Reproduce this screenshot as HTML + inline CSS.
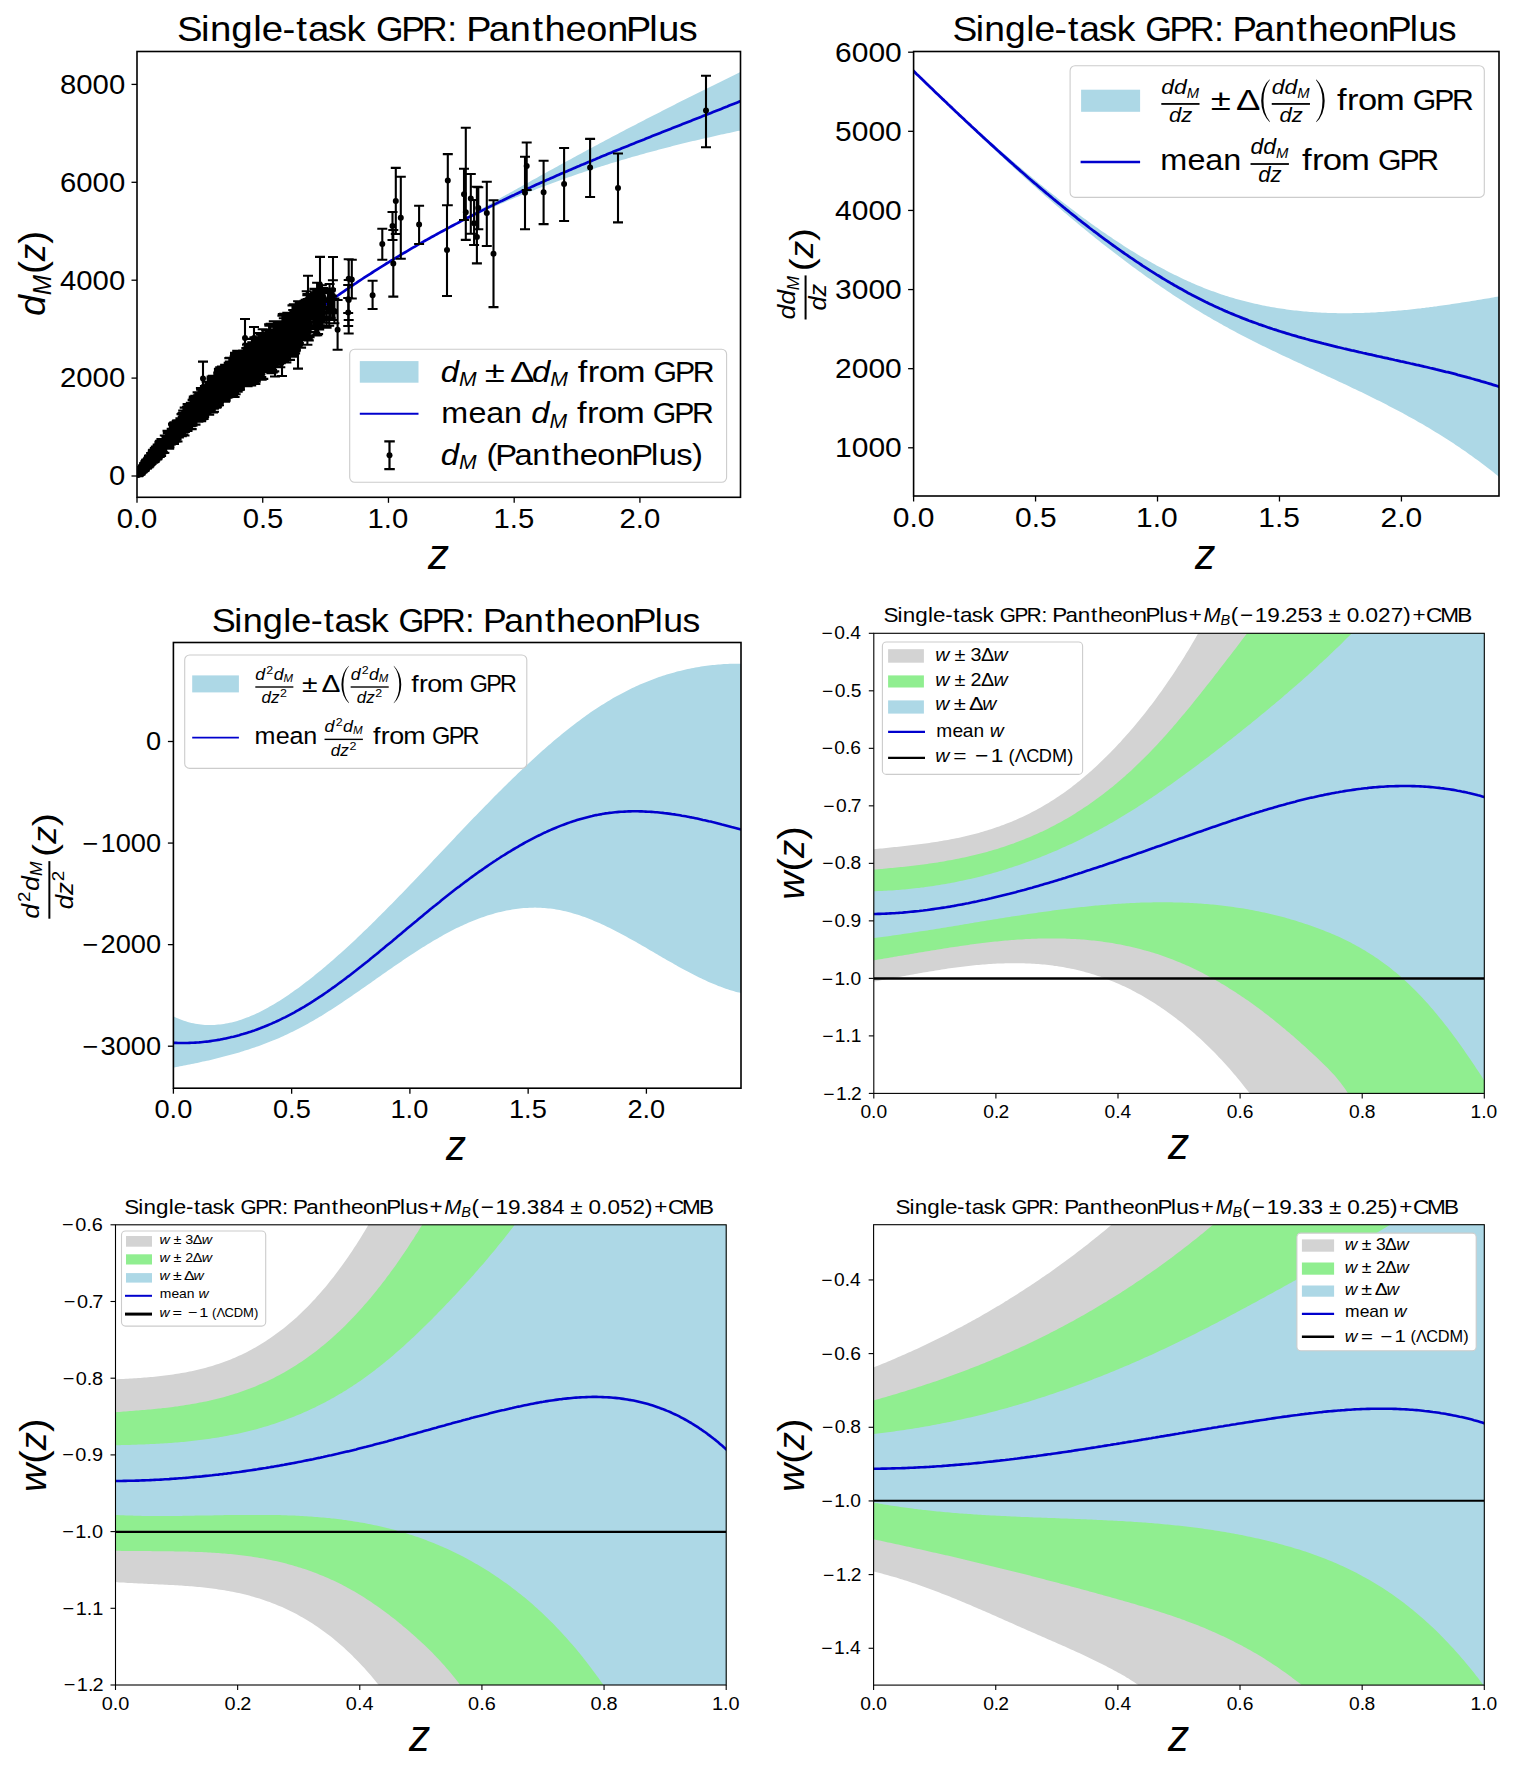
<!DOCTYPE html>
<html><head><meta charset="utf-8"><style>
html,body{margin:0;padding:0;background:#fff;}
svg{display:block;font-family:"Liberation Sans",sans-serif;}
</style></head><body>
<svg xmlns="http://www.w3.org/2000/svg" width="1518" height="1769" viewBox="0 0 1518 1769">
<defs><clipPath id="cp1"><rect x="137.00" y="51.50" width="603.50" height="445.80"/></clipPath><clipPath id="cp2"><rect x="913.60" y="51.50" width="585.40" height="444.50"/></clipPath><clipPath id="cp3"><rect x="173.40" y="642.50" width="567.60" height="445.70"/></clipPath><clipPath id="cp4"><rect x="873.80" y="633.30" width="610.50" height="460.10"/></clipPath><clipPath id="cp5"><rect x="115.50" y="1224.80" width="610.70" height="460.20"/></clipPath><clipPath id="cp6"><rect x="873.60" y="1224.70" width="610.70" height="460.40"/></clipPath></defs>
<rect width="100%" height="100%" fill="#fff"/>
<g clip-path="url(#cp1)">
<polygon points="137.0,476.2 139.0,473.9 141.1,471.6 143.1,469.3 145.1,467.0 147.1,464.7 149.2,462.4 151.2,460.1 153.2,457.9 155.3,455.7 157.3,453.4 159.3,451.2 161.3,449.0 163.4,446.9 165.4,444.7 167.4,442.5 169.5,440.4 171.5,438.2 173.5,436.1 175.5,434.0 177.6,431.9 179.6,429.8 181.6,427.7 183.7,425.7 185.7,423.6 187.7,421.6 189.7,419.5 191.8,417.5 193.8,415.5 195.8,413.5 197.9,411.5 199.9,409.6 201.9,407.6 203.9,405.6 206.0,403.7 208.0,401.8 210.0,399.8 212.1,397.9 214.1,396.0 216.1,394.1 218.1,392.3 220.2,390.4 222.2,388.5 224.2,386.7 226.3,384.8 228.3,383.0 230.3,381.2 232.3,379.3 234.4,377.5 236.4,375.7 238.4,373.9 240.4,372.1 242.5,370.3 244.5,368.5 246.5,366.7 248.6,365.0 250.6,363.2 252.6,361.5 254.6,359.7 256.7,358.0 258.7,356.3 260.7,354.6 262.8,352.9 264.8,351.2 266.8,349.5 268.8,347.8 270.9,346.1 272.9,344.5 274.9,342.8 277.0,341.2 279.0,339.5 281.0,337.9 283.0,336.3 285.1,334.7 287.1,333.1 289.1,331.5 291.2,329.9 293.2,328.3 295.2,326.7 297.2,325.2 299.3,323.6 301.3,322.1 303.3,320.5 305.4,319.0 307.4,317.5 309.4,315.9 311.4,314.4 313.5,312.9 315.5,311.4 317.5,310.0 319.6,308.5 321.6,307.0 323.6,305.5 325.6,304.1 327.7,302.6 329.7,301.2 331.7,299.7 333.8,298.3 335.8,296.9 337.8,295.5 339.8,294.1 341.9,292.7 343.9,291.3 345.9,289.9 348.0,288.5 350.0,287.1 352.0,285.8 354.0,284.4 356.1,283.1 358.1,281.7 360.1,280.4 362.2,279.0 364.2,277.7 366.2,276.4 368.2,275.1 370.3,273.8 372.3,272.5 374.3,271.2 376.4,269.9 378.4,268.6 380.4,267.3 382.4,266.1 384.5,264.8 386.5,263.5 388.5,262.3 390.6,261.0 392.6,259.8 394.6,258.6 396.6,257.3 398.7,256.1 400.7,254.9 402.7,253.7 404.8,252.5 406.8,251.3 408.8,250.1 410.8,248.9 412.9,247.7 414.9,246.6 416.9,245.4 419.0,244.2 421.0,243.1 423.0,241.9 425.0,240.8 427.1,239.6 429.1,238.5 431.1,237.3 433.2,236.2 435.2,235.1 437.2,234.0 439.2,232.9 441.3,231.8 443.3,230.7 445.3,229.6 447.3,228.4 449.4,227.2 451.4,226.0 453.4,224.9 455.5,223.7 457.5,222.5 459.5,221.3 461.5,220.2 463.6,219.0 465.6,217.9 467.6,216.7 469.7,215.5 471.7,214.4 473.7,213.2 475.7,212.1 477.8,210.9 479.8,209.7 481.8,208.6 483.9,207.4 485.9,206.3 487.9,205.1 489.9,204.0 492.0,202.8 494.0,201.7 496.0,200.6 498.1,199.4 500.1,198.3 502.1,197.1 504.1,196.0 506.2,194.8 508.2,193.7 510.2,192.6 512.3,191.4 514.3,190.3 516.3,189.2 518.3,188.0 520.4,186.9 522.4,185.8 524.4,184.6 526.5,183.5 528.5,182.4 530.5,181.2 532.5,180.1 534.6,179.0 536.6,177.9 538.6,176.7 540.7,175.6 542.7,174.5 544.7,173.4 546.7,172.2 548.8,171.1 550.8,170.0 552.8,168.9 554.9,167.8 556.9,166.7 558.9,165.5 560.9,164.4 563.0,163.3 565.0,162.2 567.0,161.1 569.1,160.0 571.1,158.9 573.1,157.8 575.1,156.7 577.2,155.6 579.2,154.5 581.2,153.4 583.3,152.3 585.3,151.2 587.3,150.1 589.3,149.0 591.4,147.9 593.4,146.8 595.4,145.7 597.5,144.7 599.5,143.6 601.5,142.5 603.5,141.4 605.6,140.3 607.6,139.3 609.6,138.2 611.7,137.1 613.7,136.0 615.7,135.0 617.7,133.9 619.8,132.8 621.8,131.8 623.8,130.7 625.9,129.6 627.9,128.6 629.9,127.5 631.9,126.5 634.0,125.4 636.0,124.4 638.0,123.3 640.1,122.3 642.1,121.2 644.1,120.2 646.1,119.1 648.2,118.1 650.2,117.1 652.2,116.0 654.2,115.0 656.3,113.9 658.3,112.9 660.3,111.9 662.4,110.8 664.4,109.8 666.4,108.8 668.4,107.7 670.5,106.7 672.5,105.7 674.5,104.7 676.6,103.6 678.6,102.6 680.6,101.6 682.6,100.6 684.7,99.6 686.7,98.5 688.7,97.5 690.8,96.5 692.8,95.5 694.8,94.5 696.8,93.5 698.9,92.5 700.9,91.5 702.9,90.4 705.0,89.4 707.0,88.4 709.0,87.4 711.0,86.4 713.1,85.4 715.1,84.4 717.1,83.4 719.2,82.4 721.2,81.4 723.2,80.4 725.2,79.4 727.3,78.4 729.3,77.4 731.3,76.4 733.4,75.4 735.4,74.4 737.4,73.4 739.4,72.5 741.5,71.5 743.5,70.5 743.5,129.9 741.5,130.3 739.4,130.7 737.4,131.1 735.4,131.6 733.4,132.0 731.3,132.4 729.3,132.9 727.3,133.3 725.2,133.7 723.2,134.2 721.2,134.6 719.2,135.1 717.1,135.5 715.1,136.0 713.1,136.4 711.0,136.9 709.0,137.4 707.0,137.8 705.0,138.3 702.9,138.8 700.9,139.2 698.9,139.7 696.8,140.2 694.8,140.7 692.8,141.1 690.8,141.6 688.7,142.1 686.7,142.6 684.7,143.1 682.6,143.6 680.6,144.1 678.6,144.6 676.6,145.1 674.5,145.6 672.5,146.1 670.5,146.7 668.4,147.2 666.4,147.7 664.4,148.2 662.4,148.8 660.3,149.3 658.3,149.8 656.3,150.4 654.2,150.9 652.2,151.5 650.2,152.0 648.2,152.6 646.1,153.1 644.1,153.7 642.1,154.2 640.1,154.8 638.0,155.4 636.0,155.9 634.0,156.5 631.9,157.1 629.9,157.7 627.9,158.3 625.9,158.9 623.8,159.5 621.8,160.1 619.8,160.7 617.7,161.3 615.7,161.9 613.7,162.5 611.7,163.1 609.6,163.8 607.6,164.4 605.6,165.0 603.5,165.7 601.5,166.3 599.5,166.9 597.5,167.6 595.4,168.2 593.4,168.9 591.4,169.6 589.3,170.2 587.3,170.9 585.3,171.6 583.3,172.2 581.2,172.9 579.2,173.6 577.2,174.3 575.1,175.0 573.1,175.7 571.1,176.4 569.1,177.1 567.0,177.8 565.0,178.6 563.0,179.3 560.9,180.0 558.9,180.7 556.9,181.5 554.9,182.2 552.8,183.0 550.8,183.7 548.8,184.5 546.7,185.2 544.7,186.0 542.7,186.8 540.7,187.5 538.6,188.3 536.6,189.1 534.6,189.9 532.5,190.7 530.5,191.5 528.5,192.3 526.5,193.1 524.4,193.9 522.4,194.7 520.4,195.6 518.3,196.4 516.3,197.2 514.3,198.1 512.3,198.9 510.2,199.8 508.2,200.6 506.2,201.5 504.1,202.4 502.1,203.2 500.1,204.1 498.1,205.0 496.0,205.9 494.0,206.8 492.0,207.7 489.9,208.6 487.9,209.5 485.9,210.4 483.9,211.4 481.8,212.3 479.8,213.2 477.8,214.2 475.7,215.1 473.7,216.1 471.7,217.0 469.7,218.0 467.6,219.0 465.6,219.9 463.6,220.9 461.5,221.9 459.5,222.9 457.5,223.9 455.5,224.9 453.4,225.9 451.4,227.0 449.4,228.0 447.3,229.0 445.3,230.0 443.3,231.1 441.3,232.1 439.2,233.2 437.2,234.3 435.2,235.3 433.2,236.4 431.1,237.5 429.1,238.6 427.1,239.7 425.0,240.8 423.0,241.9 421.0,243.1 419.0,244.2 416.9,245.4 414.9,246.6 412.9,247.7 410.8,248.9 408.8,250.1 406.8,251.3 404.8,252.5 402.7,253.7 400.7,254.9 398.7,256.1 396.6,257.3 394.6,258.6 392.6,259.8 390.6,261.0 388.5,262.3 386.5,263.5 384.5,264.8 382.4,266.1 380.4,267.3 378.4,268.6 376.4,269.9 374.3,271.2 372.3,272.5 370.3,273.8 368.2,275.1 366.2,276.4 364.2,277.7 362.2,279.0 360.1,280.4 358.1,281.7 356.1,283.1 354.0,284.4 352.0,285.8 350.0,287.1 348.0,288.5 345.9,289.9 343.9,291.3 341.9,292.7 339.8,294.1 337.8,295.5 335.8,296.9 333.8,298.3 331.7,299.7 329.7,301.2 327.7,302.6 325.6,304.1 323.6,305.5 321.6,307.0 319.6,308.5 317.5,310.0 315.5,311.4 313.5,312.9 311.4,314.4 309.4,315.9 307.4,317.5 305.4,319.0 303.3,320.5 301.3,322.1 299.3,323.6 297.2,325.2 295.2,326.7 293.2,328.3 291.2,329.9 289.1,331.5 287.1,333.1 285.1,334.7 283.0,336.3 281.0,337.9 279.0,339.5 277.0,341.2 274.9,342.8 272.9,344.5 270.9,346.1 268.8,347.8 266.8,349.5 264.8,351.2 262.8,352.9 260.7,354.6 258.7,356.3 256.7,358.0 254.6,359.7 252.6,361.5 250.6,363.2 248.6,365.0 246.5,366.7 244.5,368.5 242.5,370.3 240.4,372.1 238.4,373.9 236.4,375.7 234.4,377.5 232.3,379.3 230.3,381.2 228.3,383.0 226.3,384.9 224.2,386.7 222.2,388.6 220.2,390.5 218.1,392.4 216.1,394.3 214.1,396.2 212.1,398.1 210.0,400.0 208.0,402.0 206.0,403.9 203.9,405.9 201.9,407.9 199.9,409.8 197.9,411.8 195.8,413.8 193.8,415.8 191.8,417.9 189.7,419.9 187.7,421.9 185.7,424.0 183.7,426.0 181.6,428.1 179.6,430.2 177.6,432.3 175.5,434.4 173.5,436.5 171.5,438.6 169.5,440.7 167.4,442.9 165.4,445.0 163.4,447.2 161.3,449.3 159.3,451.5 157.3,453.7 155.3,455.9 153.2,458.1 151.2,460.4 149.2,462.6 147.1,464.8 145.1,467.1 143.1,469.4 141.1,471.6 139.0,473.9 137.0,476.2" fill="#add8e6"/>
<polyline points="137.0,476.2 139.0,473.9 141.1,471.6 143.1,469.4 145.1,467.1 147.1,464.8 149.2,462.6 151.2,460.4 153.2,458.1 155.3,455.9 157.3,453.7 159.3,451.5 161.3,449.3 163.4,447.2 165.4,445.0 167.4,442.9 169.5,440.7 171.5,438.6 173.5,436.5 175.5,434.4 177.6,432.3 179.6,430.2 181.6,428.1 183.7,426.0 185.7,424.0 187.7,421.9 189.7,419.9 191.8,417.9 193.8,415.8 195.8,413.8 197.9,411.8 199.9,409.8 201.9,407.9 203.9,405.9 206.0,403.9 208.0,402.0 210.0,400.0 212.1,398.1 214.1,396.2 216.1,394.3 218.1,392.4 220.2,390.5 222.2,388.6 224.2,386.7 226.3,384.9 228.3,383.0 230.3,381.2 232.3,379.3 234.4,377.5 236.4,375.7 238.4,373.9 240.4,372.1 242.5,370.3 244.5,368.5 246.5,366.7 248.6,365.0 250.6,363.2 252.6,361.5 254.6,359.7 256.7,358.0 258.7,356.3 260.7,354.6 262.8,352.9 264.8,351.2 266.8,349.5 268.8,347.8 270.9,346.1 272.9,344.5 274.9,342.8 277.0,341.2 279.0,339.5 281.0,337.9 283.0,336.3 285.1,334.7 287.1,333.1 289.1,331.5 291.2,329.9 293.2,328.3 295.2,326.7 297.2,325.2 299.3,323.6 301.3,322.1 303.3,320.5 305.4,319.0 307.4,317.5 309.4,315.9 311.4,314.4 313.5,312.9 315.5,311.4 317.5,310.0 319.6,308.5 321.6,307.0 323.6,305.5 325.6,304.1 327.7,302.6 329.7,301.2 331.7,299.7 333.8,298.3 335.8,296.9 337.8,295.5 339.8,294.1 341.9,292.7 343.9,291.3 345.9,289.9 348.0,288.5 350.0,287.1 352.0,285.8 354.0,284.4 356.1,283.1 358.1,281.7 360.1,280.4 362.2,279.0 364.2,277.7 366.2,276.4 368.2,275.1 370.3,273.8 372.3,272.5 374.3,271.2 376.4,269.9 378.4,268.6 380.4,267.3 382.4,266.1 384.5,264.8 386.5,263.5 388.5,262.3 390.6,261.0 392.6,259.8 394.6,258.6 396.6,257.3 398.7,256.1 400.7,254.9 402.7,253.7 404.8,252.5 406.8,251.3 408.8,250.1 410.8,248.9 412.9,247.7 414.9,246.6 416.9,245.4 419.0,244.2 421.0,243.1 423.0,241.9 425.0,240.8 427.1,239.6 429.1,238.5 431.1,237.3 433.2,236.2 435.2,235.1 437.2,234.0 439.2,232.9 441.3,231.8 443.3,230.7 445.3,229.6 447.3,228.5 449.4,227.4 451.4,226.3 453.4,225.2 455.5,224.1 457.5,223.1 459.5,222.0 461.5,220.9 463.6,219.9 465.6,218.8 467.6,217.8 469.7,216.8 471.7,215.7 473.7,214.7 475.7,213.7 477.8,212.6 479.8,211.6 481.8,210.6 483.9,209.6 485.9,208.6 487.9,207.6 489.9,206.6 492.0,205.6 494.0,204.6 496.0,203.6 498.1,202.6 500.1,201.6 502.1,200.7 504.1,199.7 506.2,198.7 508.2,197.7 510.2,196.8 512.3,195.8 514.3,194.9 516.3,193.9 518.3,193.0 520.4,192.0 522.4,191.1 524.4,190.2 526.5,189.2 528.5,188.3 530.5,187.4 532.5,186.4 534.6,185.5 536.6,184.6 538.6,183.7 540.7,182.8 542.7,181.9 544.7,181.0 546.7,180.1 548.8,179.2 550.8,178.3 552.8,177.4 554.9,176.5 556.9,175.6 558.9,174.7 560.9,173.8 563.0,172.9 565.0,172.1 567.0,171.2 569.1,170.3 571.1,169.4 573.1,168.6 575.1,167.7 577.2,166.8 579.2,166.0 581.2,165.1 583.3,164.3 585.3,163.4 587.3,162.6 589.3,161.7 591.4,160.9 593.4,160.0 595.4,159.2 597.5,158.3 599.5,157.5 601.5,156.6 603.5,155.8 605.6,155.0 607.6,154.1 609.6,153.3 611.7,152.5 613.7,151.6 615.7,150.8 617.7,150.0 619.8,149.2 621.8,148.3 623.8,147.5 625.9,146.7 627.9,145.9 629.9,145.1 631.9,144.2 634.0,143.4 636.0,142.6 638.0,141.8 640.1,141.0 642.1,140.2 644.1,139.4 646.1,138.5 648.2,137.7 650.2,136.9 652.2,136.1 654.2,135.3 656.3,134.5 658.3,133.7 660.3,132.9 662.4,132.1 664.4,131.3 666.4,130.5 668.4,129.7 670.5,128.9 672.5,128.1 674.5,127.3 676.6,126.5 678.6,125.7 680.6,124.9 682.6,124.1 684.7,123.3 686.7,122.5 688.7,121.7 690.8,120.9 692.8,120.1 694.8,119.3 696.8,118.5 698.9,117.7 700.9,116.9 702.9,116.1 705.0,115.3 707.0,114.5 709.0,113.7 711.0,112.9 713.1,112.1 715.1,111.3 717.1,110.5 719.2,109.7 721.2,108.9 723.2,108.1 725.2,107.3 727.3,106.5 729.3,105.6 731.3,104.8 733.4,104.0 735.4,103.2 737.4,102.4 739.4,101.6 741.5,100.8 743.5,100.0" fill="none" stroke="#0000cd" stroke-width="2.70" stroke-linejoin="round"/>
<path d="M140.9 469.6V473.3M135.9 469.6h10M135.9 473.3h10M149.9 457.4V461.3M144.9 457.4h10M144.9 461.3h10M152.4 454.6V460.8M147.4 454.6h10M147.4 460.8h10M138.5 473.1V475.1M133.5 473.1h10M133.5 475.1h10M141.4 467.7V469.8M136.4 467.7h10M136.4 469.8h10M160.4 443.7V450.0M155.4 443.7h10M155.4 450.0h10M139.5 470.9V473.7M134.5 470.9h10M134.5 473.7h10M140.9 469.5V471.5M135.9 469.5h10M135.9 471.5h10M160.9 444.4V450.5M155.9 444.4h10M155.9 450.5h10M152.9 452.0V457.3M147.9 452.0h10M147.9 457.3h10M146.8 462.2V466.5M141.8 462.2h10M141.8 466.5h10M150.2 457.1V462.9M145.2 457.1h10M145.2 462.9h10M153.9 453.1V460.6M148.9 453.1h10M148.9 460.6h10M144.5 466.1V470.0M139.5 466.1h10M139.5 470.0h10M141.1 470.7V472.9M136.1 470.7h10M136.1 472.9h10M157.0 452.8V458.2M152.0 452.8h10M152.0 458.2h10M154.1 452.1V458.9M149.1 452.1h10M149.1 458.9h10M150.3 456.7V462.8M145.3 456.7h10M145.3 462.8h10M157.7 448.6V453.4M152.7 448.6h10M152.7 453.4h10M151.1 453.0V456.5M146.1 453.0h10M146.1 456.5h10M161.7 447.9V453.1M156.7 447.9h10M156.7 453.1h10M142.7 465.7V469.6M137.7 465.7h10M137.7 469.6h10M151.3 455.9V462.9M146.3 455.9h10M146.3 462.9h10M149.6 456.0V462.1M144.6 456.0h10M144.6 462.1h10M146.4 462.0V465.1M141.4 462.0h10M141.4 465.1h10M152.2 453.4V460.8M147.2 453.4h10M147.2 460.8h10M143.5 465.0V468.9M138.5 465.0h10M138.5 468.9h10M157.3 452.3V458.4M152.3 452.3h10M152.3 458.4h10M158.9 449.4V456.9M153.9 449.4h10M153.9 456.9h10M140.9 469.7V473.0M135.9 469.7h10M135.9 473.0h10M149.1 456.5V465.5M144.1 456.5h10M144.1 465.5h10M144.5 463.3V468.1M139.5 463.3h10M139.5 468.1h10M139.8 470.8V473.9M134.8 470.8h10M134.8 473.9h10M159.6 445.5V454.9M154.6 445.5h10M154.6 454.9h10M148.2 459.3V464.9M143.2 459.3h10M143.2 464.9h10M141.4 469.5V472.4M136.4 469.5h10M136.4 472.4h10M154.2 452.5V458.1M149.2 452.5h10M149.2 458.1h10M142.7 468.9V472.1M137.7 468.9h10M137.7 472.1h10M159.7 441.6V450.4M154.7 441.6h10M154.7 450.4h10M143.1 466.1V469.6M138.1 466.1h10M138.1 469.6h10M138.6 472.4V474.2M133.6 472.4h10M133.6 474.2h10M142.7 465.7V470.0M137.7 465.7h10M137.7 470.0h10M146.2 462.9V467.0M141.2 462.9h10M141.2 467.0h10M149.2 459.5V465.9M144.2 459.5h10M144.2 465.9h10M159.9 442.8V448.9M154.9 442.8h10M154.9 448.9h10M154.8 455.0V461.6M149.8 455.0h10M149.8 461.6h10M146.0 464.5V468.5M141.0 464.5h10M141.0 468.5h10M138.2 473.8V476.1M133.2 473.8h10M133.2 476.1h10M141.7 468.4V471.1M136.7 468.4h10M136.7 471.1h10M162.1 441.1V450.3M157.1 441.1h10M157.1 450.3h10M149.0 460.3V463.9M144.0 460.3h10M144.0 463.9h10M154.6 452.5V457.5M149.6 452.5h10M149.6 457.5h10M139.1 470.8V473.7M134.1 470.8h10M134.1 473.7h10M138.6 472.3V474.7M133.6 472.3h10M133.6 474.7h10M158.4 446.6V453.5M153.4 446.6h10M153.4 453.5h10M152.1 453.7V461.2M147.1 453.7h10M147.1 461.2h10M145.3 463.6V466.1M140.3 463.6h10M140.3 466.1h10M145.5 463.5V468.5M140.5 463.5h10M140.5 468.5h10M139.9 471.8V474.2M134.9 471.8h10M134.9 474.2h10M142.0 468.2V472.4M137.0 468.2h10M137.0 472.4h10M138.4 473.2V474.6M133.4 473.2h10M133.4 474.6h10M158.2 445.9V452.9M153.2 445.9h10M153.2 452.9h10M149.1 456.9V461.8M144.1 456.9h10M144.1 461.8h10M140.9 471.1V473.3M135.9 471.1h10M135.9 473.3h10M155.8 451.7V458.1M150.8 451.7h10M150.8 458.1h10M142.5 467.7V470.0M137.5 467.7h10M137.5 470.0h10M139.3 472.5V474.9M134.3 472.5h10M134.3 474.9h10M152.4 457.6V462.6M147.4 457.6h10M147.4 462.6h10M159.6 441.7V455.8M154.6 441.7h10M154.6 455.8h10M138.4 473.9V475.7M133.4 473.9h10M133.4 475.7h10M157.4 448.3V456.4M152.4 448.3h10M152.4 456.4h10M142.4 468.6V471.2M137.4 468.6h10M137.4 471.2h10M140.0 470.3V473.1M135.0 470.3h10M135.0 473.1h10M138.2 474.0V475.5M133.2 474.0h10M133.2 475.5h10M144.9 465.1V468.1M139.9 465.1h10M139.9 468.1h10M155.5 453.3V457.6M150.5 453.3h10M150.5 457.6h10M149.8 455.2V461.4M144.8 455.2h10M144.8 461.4h10M158.6 447.5V456.5M153.6 447.5h10M153.6 456.5h10M143.1 466.4V470.3M138.1 466.4h10M138.1 470.3h10M145.4 462.2V467.1M140.4 462.2h10M140.4 467.1h10M144.1 467.5V471.0M139.1 467.5h10M139.1 471.0h10M161.6 445.0V453.1M156.6 445.0h10M156.6 453.1h10M160.7 443.6V449.2M155.7 443.6h10M155.7 449.2h10M146.1 463.4V467.2M141.1 463.4h10M141.1 467.2h10M148.4 459.9V465.1M143.4 459.9h10M143.4 465.1h10M145.4 462.9V465.8M140.4 462.9h10M140.4 465.8h10M156.0 447.8V455.2M151.0 447.8h10M151.0 455.2h10M138.7 473.3V475.1M133.7 473.3h10M133.7 475.1h10M139.4 471.4V474.4M134.4 471.4h10M134.4 474.4h10M147.6 459.3V463.7M142.6 459.3h10M142.6 463.7h10M143.7 466.2V468.4M138.7 466.2h10M138.7 468.4h10M158.4 446.3V454.2M153.4 446.3h10M153.4 454.2h10M155.8 446.9V453.4M150.8 446.9h10M150.8 453.4h10M151.1 456.8V461.2M146.1 456.8h10M146.1 461.2h10M153.9 451.9V459.9M148.9 451.9h10M148.9 459.9h10M154.6 453.1V457.0M149.6 453.1h10M149.6 457.0h10M156.8 448.9V455.8M151.8 448.9h10M151.8 455.8h10M160.4 441.5V451.4M155.4 441.5h10M155.4 451.4h10M141.4 468.8V472.1M136.4 468.8h10M136.4 472.1h10M153.0 455.3V459.8M148.0 455.3h10M148.0 459.8h10M141.3 468.6V472.1M136.3 468.6h10M136.3 472.1h10M148.6 458.4V463.9M143.6 458.4h10M143.6 463.9h10M156.9 446.5V455.4M151.9 446.5h10M151.9 455.4h10M159.6 446.1V455.4M154.6 446.1h10M154.6 455.4h10M156.3 450.5V456.2M151.3 450.5h10M151.3 456.2h10M138.6 472.9V474.6M133.6 472.9h10M133.6 474.6h10M146.5 460.8V463.5M141.5 460.8h10M141.5 463.5h10M141.7 467.6V470.0M136.7 467.6h10M136.7 470.0h10M162.1 445.3V451.4M157.1 445.3h10M157.1 451.4h10M141.3 469.3V473.0M136.3 469.3h10M136.3 473.0h10M143.7 465.0V467.8M138.7 465.0h10M138.7 467.8h10M146.5 463.0V468.1M141.5 463.0h10M141.5 468.1h10M139.2 470.7V473.9M134.2 470.7h10M134.2 473.9h10M159.0 446.7V454.8M154.0 446.7h10M154.0 454.8h10M153.3 453.8V457.5M148.3 453.8h10M148.3 457.5h10M141.7 469.2V472.3M136.7 469.2h10M136.7 472.3h10M149.9 455.9V460.5M144.9 455.9h10M144.9 460.5h10M139.7 470.5V472.2M134.7 470.5h10M134.7 472.2h10M152.7 454.8V461.1M147.7 454.8h10M147.7 461.1h10M143.4 466.9V470.6M138.4 466.9h10M138.4 470.6h10M138.7 472.8V475.0M133.7 472.8h10M133.7 475.0h10M140.6 471.3V473.3M135.6 471.3h10M135.6 473.3h10M151.3 459.6V463.8M146.3 459.6h10M146.3 463.8h10M153.3 453.3V459.1M148.3 453.3h10M148.3 459.1h10M145.7 463.9V468.5M140.7 463.9h10M140.7 468.5h10M153.4 453.4V459.2M148.4 453.4h10M148.4 459.2h10M146.3 460.7V464.5M141.3 460.7h10M141.3 464.5h10M140.9 470.7V473.4M135.9 470.7h10M135.9 473.4h10M145.4 463.9V467.1M140.4 463.9h10M140.4 467.1h10M147.4 464.1V467.6M142.4 464.1h10M142.4 467.6h10M160.0 444.6V451.4M155.0 444.6h10M155.0 451.4h10M140.6 471.7V474.4M135.6 471.7h10M135.6 474.4h10M139.9 471.7V474.4M134.9 471.7h10M134.9 474.4h10M151.5 456.9V462.8M146.5 456.9h10M146.5 462.8h10M161.3 440.8V450.7M156.3 440.8h10M156.3 450.7h10M159.9 444.9V450.5M154.9 444.9h10M154.9 450.5h10M154.8 453.7V458.1M149.8 453.7h10M149.8 458.1h10M139.4 471.1V473.9M134.4 471.1h10M134.4 473.9h10M157.4 446.7V453.4M152.4 446.7h10M152.4 453.4h10M154.4 452.0V458.7M149.4 452.0h10M149.4 458.7h10M141.3 469.5V471.6M136.3 469.5h10M136.3 471.6h10M149.1 459.0V463.4M144.1 459.0h10M144.1 463.4h10M139.0 471.9V474.2M134.0 471.9h10M134.0 474.2h10M157.3 450.1V457.7M152.3 450.1h10M152.3 457.7h10M155.3 450.9V456.7M150.3 450.9h10M150.3 456.7h10M157.4 447.8V453.5M152.4 447.8h10M152.4 453.5h10M156.3 453.0V459.4M151.3 453.0h10M151.3 459.4h10M144.3 465.0V468.0M139.3 465.0h10M139.3 468.0h10M157.0 446.9V453.5M152.0 446.9h10M152.0 453.5h10M143.8 467.9V470.8M138.8 467.9h10M138.8 470.8h10M141.1 468.4V470.9M136.1 468.4h10M136.1 470.9h10M147.3 463.5V466.4M142.3 463.5h10M142.3 466.4h10M149.9 460.3V464.2M144.9 460.3h10M144.9 464.2h10M144.7 464.2V468.5M139.7 464.2h10M139.7 468.5h10M152.5 453.5V461.1M147.5 453.5h10M147.5 461.1h10M152.5 456.0V460.4M147.5 456.0h10M147.5 460.4h10M143.6 468.5V471.2M138.6 468.5h10M138.6 471.2h10M152.9 453.9V460.9M147.9 453.9h10M147.9 460.9h10M146.5 459.6V464.0M141.5 459.6h10M141.5 464.0h10M155.7 449.0V455.4M150.7 449.0h10M150.7 455.4h10M144.8 463.0V467.1M139.8 463.0h10M139.8 467.1h10M157.2 446.6V454.9M152.2 446.6h10M152.2 454.9h10M147.9 459.7V464.1M142.9 459.7h10M142.9 464.1h10M151.2 457.2V461.5M146.2 457.2h10M146.2 461.5h10M154.2 451.0V454.9M149.2 451.0h10M149.2 454.9h10M150.4 456.7V463.2M145.4 456.7h10M145.4 463.2h10M144.0 464.7V468.4M139.0 464.7h10M139.0 468.4h10M161.6 444.9V451.7M156.6 444.9h10M156.6 451.7h10M140.1 469.7V472.2M135.1 469.7h10M135.1 472.2h10M145.7 463.7V466.7M140.7 463.7h10M140.7 466.7h10M151.1 455.9V460.3M146.1 455.9h10M146.1 460.3h10M138.5 472.3V474.7M133.5 472.3h10M133.5 474.7h10M141.5 468.0V471.7M136.5 468.0h10M136.5 471.7h10M157.2 451.4V459.4M152.2 451.4h10M152.2 459.4h10M156.9 448.9V454.9M151.9 448.9h10M151.9 454.9h10M153.3 449.9V454.4M148.3 449.9h10M148.3 454.4h10M159.8 445.6V453.8M154.8 445.6h10M154.8 453.8h10M156.2 447.5V453.3M151.2 447.5h10M151.2 453.3h10M145.0 465.6V468.8M140.0 465.6h10M140.0 468.8h10M153.5 452.1V457.3M148.5 452.1h10M148.5 457.3h10M146.0 461.3V466.5M141.0 461.3h10M141.0 466.5h10M156.0 450.5V454.9M151.0 450.5h10M151.0 454.9h10M147.1 460.1V463.2M142.1 460.1h10M142.1 463.2h10M141.5 467.0V470.1M136.5 467.0h10M136.5 470.1h10M159.1 447.8V453.7M154.1 447.8h10M154.1 453.7h10M154.6 451.9V456.5M149.6 451.9h10M149.6 456.5h10M155.9 450.9V457.6M150.9 450.9h10M150.9 457.6h10M151.4 454.7V460.1M146.4 454.7h10M146.4 460.1h10M156.9 447.8V454.1M151.9 447.8h10M151.9 454.1h10M148.7 458.6V464.8M143.7 458.6h10M143.7 464.8h10M151.6 460.4V463.9M146.6 460.4h10M146.6 463.9h10M139.3 471.2V474.1M134.3 471.2h10M134.3 474.1h10M151.3 456.4V462.4M146.3 456.4h10M146.3 462.4h10M157.6 448.9V453.3M152.6 448.9h10M152.6 453.3h10M155.0 452.7V457.6M150.0 452.7h10M150.0 457.6h10M157.3 448.8V454.9M152.3 448.8h10M152.3 454.9h10M149.9 459.9V464.2M144.9 459.9h10M144.9 464.2h10M159.3 443.7V448.6M154.3 443.7h10M154.3 448.6h10M140.4 470.1V472.9M135.4 470.1h10M135.4 472.9h10M159.1 447.7V455.2M154.1 447.7h10M154.1 455.2h10M146.8 461.0V466.4M141.8 461.0h10M141.8 466.4h10M140.0 470.8V473.4M135.0 470.8h10M135.0 473.4h10M152.9 450.4V455.0M147.9 450.4h10M147.9 455.0h10M148.8 458.4V462.9M143.8 458.4h10M143.8 462.9h10M148.2 458.5V464.7M143.2 458.5h10M143.2 464.7h10M158.5 447.4V455.6M153.5 447.4h10M153.5 455.6h10M141.1 470.7V472.9M136.1 470.7h10M136.1 472.9h10M152.8 450.8V458.2M147.8 450.8h10M147.8 458.2h10M147.8 459.3V462.3M142.8 459.3h10M142.8 462.3h10M150.6 456.4V461.4M145.6 456.4h10M145.6 461.4h10M149.9 457.8V464.1M144.9 457.8h10M144.9 464.1h10M141.0 471.2V473.4M136.0 471.2h10M136.0 473.4h10M150.2 457.5V463.7M145.2 457.5h10M145.2 463.7h10M158.8 449.5V454.4M153.8 449.5h10M153.8 454.4h10M141.9 469.3V471.8M136.9 469.3h10M136.9 471.8h10M138.0 473.9V475.3M133.0 473.9h10M133.0 475.3h10M139.4 471.2V474.2M134.4 471.2h10M134.4 474.2h10M149.0 459.7V465.6M144.0 459.7h10M144.0 465.6h10M161.5 444.0V450.2M156.5 444.0h10M156.5 450.2h10M138.8 472.3V474.9M133.8 472.3h10M133.8 474.9h10M161.9 442.3V450.2M156.9 442.3h10M156.9 450.2h10M150.8 456.3V460.9M145.8 456.3h10M145.8 460.9h10M140.7 469.6V471.5M135.7 469.6h10M135.7 471.5h10M148.0 459.1V462.1M143.0 459.1h10M143.0 462.1h10M142.8 467.6V471.9M137.8 467.6h10M137.8 471.9h10M155.2 450.0V458.3M150.2 450.0h10M150.2 458.3h10M151.0 456.6V462.9M146.0 456.6h10M146.0 462.9h10M144.8 462.8V466.2M139.8 462.8h10M139.8 466.2h10M144.0 464.3V468.1M139.0 464.3h10M139.0 468.1h10M158.9 444.9V454.0M153.9 444.9h10M153.9 454.0h10M156.4 449.6V456.8M151.4 449.6h10M151.4 456.8h10M148.4 459.0V462.9M143.4 459.0h10M143.4 462.9h10M147.6 461.0V464.6M142.6 461.0h10M142.6 464.6h10M155.7 452.2V457.8M150.7 452.2h10M150.7 457.8h10M161.4 444.5V450.9M156.4 444.5h10M156.4 450.9h10M139.7 472.4V474.9M134.7 472.4h10M134.7 474.9h10M141.6 467.5V472.4M136.6 467.5h10M136.6 472.4h10M146.6 461.4V466.9M141.6 461.4h10M141.6 466.9h10M150.1 459.4V464.4M145.1 459.4h10M145.1 464.4h10M139.5 471.3V473.8M134.5 471.3h10M134.5 473.8h10M139.1 472.3V475.0M134.1 472.3h10M134.1 475.0h10M143.1 466.4V470.1M138.1 466.4h10M138.1 470.1h10M147.2 461.7V465.6M142.2 461.7h10M142.2 465.6h10M155.8 451.0V455.2M150.8 451.0h10M150.8 455.2h10M152.6 452.3V459.5M147.6 452.3h10M147.6 459.5h10M138.5 472.9V474.9M133.5 472.9h10M133.5 474.9h10M138.9 471.9V474.9M133.9 471.9h10M133.9 474.9h10M148.8 459.3V463.6M143.8 459.3h10M143.8 463.6h10M159.1 445.6V451.9M154.1 445.6h10M154.1 451.9h10M160.1 440.7V455.9M155.1 440.7h10M155.1 455.9h10M146.7 464.4V467.8M141.7 464.4h10M141.7 467.8h10M159.4 447.3V455.8M154.4 447.3h10M154.4 455.8h10M160.4 444.6V451.6M155.4 444.6h10M155.4 451.6h10M147.7 460.7V465.6M142.7 460.7h10M142.7 465.6h10M156.0 451.1V456.8M151.0 451.1h10M151.0 456.8h10M146.7 461.4V466.1M141.7 461.4h10M141.7 466.1h10M141.5 469.1V472.8M136.5 469.1h10M136.5 472.8h10M151.8 455.5V459.1M146.8 455.5h10M146.8 459.1h10M139.9 470.3V473.7M134.9 470.3h10M134.9 473.7h10M153.9 456.1V462.3M148.9 456.1h10M148.9 462.3h10M157.5 446.8V455.4M152.5 446.8h10M152.5 455.4h10M160.1 441.1V446.2M155.1 441.1h10M155.1 446.2h10M148.7 461.8V467.1M143.7 461.8h10M143.7 467.1h10M140.6 470.1V472.1M135.6 470.1h10M135.6 472.1h10M159.8 445.6V452.8M154.8 445.6h10M154.8 452.8h10M159.0 450.2V455.1M154.0 450.2h10M154.0 455.1h10M161.4 441.7V450.7M156.4 441.7h10M156.4 450.7h10M152.2 455.5V461.7M147.2 455.5h10M147.2 461.7h10M154.2 451.7V457.0M149.2 451.7h10M149.2 457.0h10M146.9 464.6V467.8M141.9 464.6h10M141.9 467.8h10M142.2 468.5V470.6M137.2 468.5h10M137.2 470.6h10M144.9 465.8V470.5M139.9 465.8h10M139.9 470.5h10M155.3 452.2V459.6M150.3 452.2h10M150.3 459.6h10M145.7 465.0V468.8M140.7 465.0h10M140.7 468.8h10M154.6 451.8V457.2M149.6 451.8h10M149.6 457.2h10M150.0 458.0V463.5M145.0 458.0h10M145.0 463.5h10M148.7 459.0V465.1M143.7 459.0h10M143.7 465.1h10M161.4 442.4V452.5M156.4 442.4h10M156.4 452.5h10M141.8 469.9V472.3M136.8 469.9h10M136.8 472.3h10M149.6 457.5V462.1M144.6 457.5h10M144.6 462.1h10M141.7 468.0V471.7M136.7 468.0h10M136.7 471.7h10M160.6 443.2V450.3M155.6 443.2h10M155.6 450.3h10M149.7 459.7V463.1M144.7 459.7h10M144.7 463.1h10M145.9 462.9V466.8M140.9 462.9h10M140.9 466.8h10M141.9 469.2V472.1M136.9 469.2h10M136.9 472.1h10M152.2 454.9V461.3M147.2 454.9h10M147.2 461.3h10M147.5 462.1V465.8M142.5 462.1h10M142.5 465.8h10M140.9 469.8V472.7M135.9 469.8h10M135.9 472.7h10M138.5 471.8V474.5M133.5 471.8h10M133.5 474.5h10M147.3 461.0V466.7M142.3 461.0h10M142.3 466.7h10M152.0 457.7V462.2M147.0 457.7h10M147.0 462.2h10M150.4 456.0V462.8M145.4 456.0h10M145.4 462.8h10M159.7 446.4V452.2M154.7 446.4h10M154.7 452.2h10M160.0 449.0V456.6M155.0 449.0h10M155.0 456.6h10M160.6 442.3V447.1M155.6 442.3h10M155.6 447.1h10M157.3 448.4V455.0M152.3 448.4h10M152.3 455.0h10M149.4 457.3V461.0M144.4 457.3h10M144.4 461.0h10M150.5 460.6V465.0M145.5 460.6h10M145.5 465.0h10M147.4 460.8V464.1M142.4 460.8h10M142.4 464.1h10M147.5 460.3V465.7M142.5 460.3h10M142.5 465.7h10M138.8 473.5V475.6M133.8 473.5h10M133.8 475.6h10M157.2 451.3V457.4M152.2 451.3h10M152.2 457.4h10M143.8 467.6V470.8M138.8 467.6h10M138.8 470.8h10M138.5 472.6V475.0M133.5 472.6h10M133.5 475.0h10M149.1 457.2V462.5M144.1 457.2h10M144.1 462.5h10M155.3 455.6V460.1M150.3 455.6h10M150.3 460.1h10M148.4 462.6V467.3M143.4 462.6h10M143.4 467.3h10M146.6 462.7V466.7M141.6 462.7h10M141.6 466.7h10M153.8 452.9V459.1M148.8 452.9h10M148.8 459.1h10M141.7 468.3V471.0M136.7 468.3h10M136.7 471.0h10M138.0 473.2V474.7M133.0 473.2h10M133.0 474.7h10M152.2 455.6V462.6M147.2 455.6h10M147.2 462.6h10M150.7 457.4V460.7M145.7 457.4h10M145.7 460.7h10M158.9 445.1V453.3M153.9 445.1h10M153.9 453.3h10M147.9 458.6V464.4M142.9 458.6h10M142.9 464.4h10M156.9 448.3V455.0M151.9 448.3h10M151.9 455.0h10M138.2 473.0V474.8M133.2 473.0h10M133.2 474.8h10M138.4 472.7V475.5M133.4 472.7h10M133.4 475.5h10M152.4 455.6V460.0M147.4 455.6h10M147.4 460.0h10M143.3 467.2V471.2M138.3 467.2h10M138.3 471.2h10M139.4 471.0V474.0M134.4 471.0h10M134.4 474.0h10M140.9 469.4V471.7M135.9 469.4h10M135.9 471.7h10M146.9 463.0V467.1M141.9 463.0h10M141.9 467.1h10M146.0 460.3V465.2M141.0 460.3h10M141.0 465.2h10M151.5 457.3V461.7M146.5 457.3h10M146.5 461.7h10M159.4 442.0V451.7M154.4 442.0h10M154.4 451.7h10M146.7 463.5V466.9M141.7 463.5h10M141.7 466.9h10M142.2 467.4V469.4M137.2 467.4h10M137.2 469.4h10M151.9 454.5V461.5M146.9 454.5h10M146.9 461.5h10M137.8 473.9V475.3M132.8 473.9h10M132.8 475.3h10M147.1 461.2V466.1M142.1 461.2h10M142.1 466.1h10M145.5 461.1V463.8M140.5 461.1h10M140.5 463.8h10M147.2 461.3V465.9M142.2 461.3h10M142.2 465.9h10M139.0 471.8V473.5M134.0 471.8h10M134.0 473.5h10M151.3 455.4V460.8M146.3 455.4h10M146.3 460.8h10M153.0 451.2V462.6M148.0 451.2h10M148.0 462.6h10M156.0 448.4V453.0M151.0 448.4h10M151.0 453.0h10M161.1 448.3V455.9M156.1 448.3h10M156.1 455.9h10M146.4 463.2V466.0M141.4 463.2h10M141.4 466.0h10M153.8 454.8V459.7M148.8 454.8h10M148.8 459.7h10M148.5 458.2V462.8M143.5 458.2h10M143.5 462.8h10M143.0 465.8V469.5M138.0 465.8h10M138.0 469.5h10M159.4 442.9V448.2M154.4 442.9h10M154.4 448.2h10M155.9 448.7V456.2M150.9 448.7h10M150.9 456.2h10M160.8 446.2V451.8M155.8 446.2h10M155.8 451.8h10M157.8 449.1V458.1M152.8 449.1h10M152.8 458.1h10M160.1 449.2V455.7M155.1 449.2h10M155.1 455.7h10M140.9 469.7V471.9M135.9 469.7h10M135.9 471.9h10M138.1 474.0V475.5M133.1 474.0h10M133.1 475.5h10M142.6 467.4V470.2M137.6 467.4h10M137.6 470.2h10M147.8 460.7V465.6M142.8 460.7h10M142.8 465.6h10M154.5 451.4V459.3M149.5 451.4h10M149.5 459.3h10M148.4 459.5V465.3M143.4 459.5h10M143.4 465.3h10M150.3 456.2V463.0M145.3 456.2h10M145.3 463.0h10M156.3 446.6V451.1M151.3 446.6h10M151.3 451.1h10M139.5 472.0V474.2M134.5 472.0h10M134.5 474.2h10M154.3 450.4V457.2M149.3 450.4h10M149.3 457.2h10M138.9 473.4V475.1M133.9 473.4h10M133.9 475.1h10M143.8 465.6V470.1M138.8 465.6h10M138.8 470.1h10M155.4 453.5V460.4M150.4 453.5h10M150.4 460.4h10M154.4 454.2V458.7M149.4 454.2h10M149.4 458.7h10M147.6 461.6V466.2M142.6 461.6h10M142.6 466.2h10M144.9 466.8V469.4M139.9 466.8h10M139.9 469.4h10M158.0 444.6V453.7M153.0 444.6h10M153.0 453.7h10M144.5 465.7V469.6M139.5 465.7h10M139.5 469.6h10M138.5 472.7V475.2M133.5 472.7h10M133.5 475.2h10M143.8 465.7V469.3M138.8 465.7h10M138.8 469.3h10M138.3 472.3V474.9M133.3 472.3h10M133.3 474.9h10M157.5 445.8V452.8M152.5 445.8h10M152.5 452.8h10M140.7 470.3V472.7M135.7 470.3h10M135.7 472.7h10M161.5 439.0V444.0M156.5 439.0h10M156.5 444.0h10M142.9 467.8V470.1M137.9 467.8h10M137.9 470.1h10M145.2 465.0V468.0M140.2 465.0h10M140.2 468.0h10M152.0 455.1V460.5M147.0 455.1h10M147.0 460.5h10M145.3 462.3V466.3M140.3 462.3h10M140.3 466.3h10M147.0 463.4V467.9M142.0 463.4h10M142.0 467.9h10M140.3 471.1V473.2M135.3 471.1h10M135.3 473.2h10M147.2 462.3V467.9M142.2 462.3h10M142.2 467.9h10M138.4 472.9V474.2M133.4 472.9h10M133.4 474.2h10M143.2 467.4V471.0M138.2 467.4h10M138.2 471.0h10M159.9 443.8V451.0M154.9 443.8h10M154.9 451.0h10M144.6 465.4V468.7M139.6 465.4h10M139.6 468.7h10M144.4 466.4V469.4M139.4 466.4h10M139.4 469.4h10M154.3 450.7V461.8M149.3 450.7h10M149.3 461.8h10M159.3 444.8V449.9M154.3 444.8h10M154.3 449.9h10M145.0 464.8V468.6M140.0 464.8h10M140.0 468.6h10M146.9 464.1V467.4M141.9 464.1h10M141.9 467.4h10M155.2 449.7V457.6M150.2 449.7h10M150.2 457.6h10M157.1 450.6V457.3M152.1 450.6h10M152.1 457.3h10M152.7 457.2V462.0M147.7 457.2h10M147.7 462.0h10M142.1 467.7V471.8M137.1 467.7h10M137.1 471.8h10M142.2 467.8V470.6M137.2 467.8h10M137.2 470.6h10M156.2 448.5V455.4M151.2 448.5h10M151.2 455.4h10M155.0 453.2V458.9M150.0 453.2h10M150.0 458.9h10M159.6 447.2V452.7M154.6 447.2h10M154.6 452.7h10M156.8 449.2V456.7M151.8 449.2h10M151.8 456.7h10M148.0 458.3V467.0M143.0 458.3h10M143.0 467.0h10M141.0 468.7V471.1M136.0 468.7h10M136.0 471.1h10M159.5 447.1V455.7M154.5 447.1h10M154.5 455.7h10M154.7 454.4V459.2M149.7 454.4h10M149.7 459.2h10M151.8 453.7V460.9M146.8 453.7h10M146.8 460.9h10M154.4 450.9V455.6M149.4 450.9h10M149.4 455.6h10M147.1 461.4V466.8M142.1 461.4h10M142.1 466.8h10M146.1 462.5V467.1M141.1 462.5h10M141.1 467.1h10M151.8 454.8V460.3M146.8 454.8h10M146.8 460.3h10M149.5 461.1V466.3M144.5 461.1h10M144.5 466.3h10M155.0 452.8V457.4M150.0 452.8h10M150.0 457.4h10M160.6 444.1V453.5M155.6 444.1h10M155.6 453.5h10M158.4 445.2V449.8M153.4 445.2h10M153.4 449.8h10M147.2 462.1V465.4M142.2 462.1h10M142.2 465.4h10M146.8 463.7V466.5M141.8 463.7h10M141.8 466.5h10M160.4 442.4V451.0M155.4 442.4h10M155.4 451.0h10M147.4 461.7V465.6M142.4 461.7h10M142.4 465.6h10M157.3 448.2V454.9M152.3 448.2h10M152.3 454.9h10M140.0 470.7V473.5M135.0 470.7h10M135.0 473.5h10M148.8 459.0V462.5M143.8 459.0h10M143.8 462.5h10M150.3 456.9V460.5M145.3 456.9h10M145.3 460.5h10M157.5 446.5V458.8M152.5 446.5h10M152.5 458.8h10M159.2 446.5V454.8M154.2 446.5h10M154.2 454.8h10M141.5 467.8V470.4M136.5 467.8h10M136.5 470.4h10M152.8 455.2V461.6M147.8 455.2h10M147.8 461.6h10M153.1 455.7V461.8M148.1 455.7h10M148.1 461.8h10M141.5 469.3V471.7M136.5 469.3h10M136.5 471.7h10M158.1 448.6V453.9M153.1 448.6h10M153.1 453.9h10M151.3 455.3V462.5M146.3 455.3h10M146.3 462.5h10M161.2 441.1V448.2M156.2 441.1h10M156.2 448.2h10M142.3 467.7V471.2M137.3 467.7h10M137.3 471.2h10M150.6 459.1V462.7M145.6 459.1h10M145.6 462.7h10M145.6 463.0V467.8M140.6 463.0h10M140.6 467.8h10M153.4 457.1V461.1M148.4 457.1h10M148.4 461.1h10M152.6 454.0V461.2M147.6 454.0h10M147.6 461.2h10M150.3 457.8V463.8M145.3 457.8h10M145.3 463.8h10M145.7 462.7V468.2M140.7 462.7h10M140.7 468.2h10M150.0 459.0V463.5M145.0 459.0h10M145.0 463.5h10M146.8 464.0V468.6M141.8 464.0h10M141.8 468.6h10M159.5 446.6V454.4M154.5 446.6h10M154.5 454.4h10M149.0 455.9V460.3M144.0 455.9h10M144.0 460.3h10M149.3 459.1V463.2M144.3 459.1h10M144.3 463.2h10M144.1 466.6V469.9M139.1 466.6h10M139.1 469.9h10M143.9 466.8V469.5M138.9 466.8h10M138.9 469.5h10M161.0 442.4V448.3M156.0 442.4h10M156.0 448.3h10M145.4 463.7V466.4M140.4 463.7h10M140.4 466.4h10M158.9 446.6V452.9M153.9 446.6h10M153.9 452.9h10M152.3 454.1V459.9M147.3 454.1h10M147.3 459.9h10M161.7 446.5V452.0M156.7 446.5h10M156.7 452.0h10M141.8 468.0V470.7M136.8 468.0h10M136.8 470.7h10M160.7 440.8V454.3M155.7 440.8h10M155.7 454.3h10M156.6 449.8V457.9M151.6 449.8h10M151.6 457.9h10M151.6 456.9V461.3M146.6 456.9h10M146.6 461.3h10M155.0 450.6V458.5M150.0 450.6h10M150.0 458.5h10M155.4 448.5V454.6M150.4 448.5h10M150.4 454.6h10M148.7 457.2V461.3M143.7 457.2h10M143.7 461.3h10M153.2 452.2V459.6M148.2 452.2h10M148.2 459.6h10M143.3 465.6V470.2M138.3 465.6h10M138.3 470.2h10M138.3 473.5V474.9M133.3 473.5h10M133.3 474.9h10M154.3 455.3V459.4M149.3 455.3h10M149.3 459.4h10M149.3 458.6V462.9M144.3 458.6h10M144.3 462.9h10M159.8 443.3V449.8M154.8 443.3h10M154.8 449.8h10M144.2 463.0V467.1M139.2 463.0h10M139.2 467.1h10M157.7 444.6V450.1M152.7 444.6h10M152.7 450.1h10M161.8 442.7V451.5M156.8 442.7h10M156.8 451.5h10M159.7 445.3V451.3M154.7 445.3h10M154.7 451.3h10M161.3 441.8V447.9M156.3 441.8h10M156.3 447.9h10M141.6 468.5V472.4M136.6 468.5h10M136.6 472.4h10M141.8 469.6V472.3M136.8 469.6h10M136.8 472.3h10M143.3 466.8V471.1M138.3 466.8h10M138.3 471.1h10M146.6 460.9V465.4M141.6 460.9h10M141.6 465.4h10M140.6 469.0V472.5M135.6 469.0h10M135.6 472.5h10M141.4 467.9V472.5M136.4 467.9h10M136.4 472.5h10M138.2 471.8V474.2M133.2 471.8h10M133.2 474.2h10M160.5 445.6V451.8M155.5 445.6h10M155.5 451.8h10M146.6 463.4V466.7M141.6 463.4h10M141.6 466.7h10M153.0 454.7V459.9M148.0 454.7h10M148.0 459.9h10M148.8 457.7V463.6M143.8 457.7h10M143.8 463.6h10M155.9 447.9V453.1M150.9 447.9h10M150.9 453.1h10M157.4 451.1V456.3M152.4 451.1h10M152.4 456.3h10M147.1 463.5V467.1M142.1 463.5h10M142.1 467.1h10M150.8 456.5V463.3M145.8 456.5h10M145.8 463.3h10M140.1 469.1V471.8M135.1 469.1h10M135.1 471.8h10M144.7 463.5V467.0M139.7 463.5h10M139.7 467.0h10M264.5 340.6V368.8M259.5 340.6h10M259.5 368.8h10M162.7 440.9V448.2M157.7 440.9h10M157.7 448.2h10M293.8 332.9V349.0M288.8 332.9h10M288.8 349.0h10M240.8 358.7V384.3M235.8 358.7h10M235.8 384.3h10M182.2 413.7V429.5M177.2 413.7h10M177.2 429.5h10M216.7 378.2V393.8M211.7 378.2h10M211.7 393.8h10M187.2 411.0V423.7M182.2 411.0h10M182.2 423.7h10M193.4 402.9V414.9M188.4 402.9h10M188.4 414.9h10M264.8 335.4V357.3M259.8 335.4h10M259.8 357.3h10M198.8 397.4V413.4M193.8 397.4h10M193.8 413.4h10M255.9 346.4V369.0M250.9 346.4h10M250.9 369.0h10M213.0 385.6V408.0M208.0 385.6h10M208.0 408.0h10M312.9 296.2V318.8M307.9 296.2h10M307.9 318.8h10M277.9 341.9V359.8M272.9 341.9h10M272.9 359.8h10M225.5 370.3V390.8M220.5 370.3h10M220.5 390.8h10M190.8 402.8V419.4M185.8 402.8h10M185.8 419.4h10M272.6 346.3V365.1M267.6 346.3h10M267.6 365.1h10M232.6 361.7V379.9M227.6 361.7h10M227.6 379.9h10M217.5 377.6V398.5M212.5 377.6h10M212.5 398.5h10M270.0 332.2V356.6M265.0 332.2h10M265.0 356.6h10M237.4 355.6V381.6M232.4 355.6h10M232.4 381.6h10M243.1 350.5V375.8M238.1 350.5h10M238.1 375.8h10M294.5 305.3V324.8M289.5 305.3h10M289.5 324.8h10M252.3 342.2V380.1M247.3 342.2h10M247.3 380.1h10M175.8 424.5V438.4M170.8 424.5h10M170.8 438.4h10M215.6 379.9V401.5M210.6 379.9h10M210.6 401.5h10M169.8 433.0V443.3M164.8 433.0h10M164.8 443.3h10M307.2 306.9V327.5M302.2 306.9h10M302.2 327.5h10M243.1 357.2V370.6M238.1 357.2h10M238.1 370.6h10M232.6 378.1V390.9M227.6 378.1h10M227.6 390.9h10M282.4 324.2V354.1M277.4 324.2h10M277.4 354.1h10M240.0 356.6V380.0M235.0 356.6h10M235.0 380.0h10M271.7 339.9V366.4M266.7 339.9h10M266.7 366.4h10M222.5 370.4V393.4M217.5 370.4h10M217.5 393.4h10M183.8 423.5V432.2M178.8 423.5h10M178.8 432.2h10M308.1 300.6V327.1M303.1 300.6h10M303.1 327.1h10M199.5 403.6V420.4M194.5 403.6h10M194.5 420.4h10M211.9 388.2V401.8M206.9 388.2h10M206.9 401.8h10M267.5 342.2V367.9M262.5 342.2h10M262.5 367.9h10M190.6 409.0V421.2M185.6 409.0h10M185.6 421.2h10M200.5 397.0V412.1M195.5 397.0h10M195.5 412.1h10M220.1 383.1V395.1M215.1 383.1h10M215.1 395.1h10M233.5 366.4V388.4M228.5 366.4h10M228.5 388.4h10M235.0 363.5V384.7M230.0 363.5h10M230.0 384.7h10M287.8 319.4V346.0M282.8 319.4h10M282.8 346.0h10M188.7 406.0V423.1M183.7 406.0h10M183.7 423.1h10M269.0 341.9V361.6M264.0 341.9h10M264.0 361.6h10M331.9 295.9V313.1M326.9 295.9h10M326.9 313.1h10M211.8 380.3V393.5M206.8 380.3h10M206.8 393.5h10M295.2 319.4V345.8M290.2 319.4h10M290.2 345.8h10M238.4 373.3V390.2M233.4 373.3h10M233.4 390.2h10M277.5 332.1V349.2M272.5 332.1h10M272.5 349.2h10M255.4 351.4V369.4M250.4 351.4h10M250.4 369.4h10M212.4 389.0V403.4M207.4 389.0h10M207.4 403.4h10M167.8 433.0V442.5M162.8 433.0h10M162.8 442.5h10M227.5 365.9V382.3M222.5 365.9h10M222.5 382.3h10M278.0 331.5V358.1M273.0 331.5h10M273.0 358.1h10M210.0 386.3V405.6M205.0 386.3h10M205.0 405.6h10M227.9 372.3V385.2M222.9 372.3h10M222.9 385.2h10M316.3 301.8V325.7M311.3 301.8h10M311.3 325.7h10M195.5 410.6V424.6M190.5 410.6h10M190.5 424.6h10M229.3 358.1V374.2M224.3 358.1h10M224.3 374.2h10M172.3 429.0V437.5M167.3 429.0h10M167.3 437.5h10M284.9 337.1V358.4M279.9 337.1h10M279.9 358.4h10M223.8 376.8V393.0M218.8 376.8h10M218.8 393.0h10M304.5 300.7V320.9M299.5 300.7h10M299.5 320.9h10M254.8 348.8V373.5M249.8 348.8h10M249.8 373.5h10M265.7 335.0V364.4M260.7 335.0h10M260.7 364.4h10M287.5 335.2V355.1M282.5 335.2h10M282.5 355.1h10M222.0 384.6V397.4M217.0 384.6h10M217.0 397.4h10M283.8 321.5V347.5M278.8 321.5h10M278.8 347.5h10M216.5 381.0V398.1M211.5 381.0h10M211.5 398.1h10M218.9 370.9V390.7M213.9 370.9h10M213.9 390.7h10M298.5 307.1V333.0M293.5 307.1h10M293.5 333.0h10M266.0 340.9V359.9M261.0 340.9h10M261.0 359.9h10M276.6 336.0V363.0M271.6 336.0h10M271.6 363.0h10M184.1 416.5V424.4M179.1 416.5h10M179.1 424.4h10M294.1 323.7V350.0M289.1 323.7h10M289.1 350.0h10M245.5 362.9V385.8M240.5 362.9h10M240.5 385.8h10M169.0 438.3V446.8M164.0 438.3h10M164.0 446.8h10M170.6 435.7V444.7M165.6 435.7h10M165.6 444.7h10M166.2 435.9V443.1M161.2 435.9h10M161.2 443.1h10M181.1 422.7V434.4M176.1 422.7h10M176.1 434.4h10M177.8 420.9V433.1M172.8 420.9h10M172.8 433.1h10M247.3 358.2V379.7M242.3 358.2h10M242.3 379.7h10M294.4 310.1V331.3M289.4 310.1h10M289.4 331.3h10M204.9 386.0V402.0M199.9 386.0h10M199.9 402.0h10M205.7 393.6V407.1M200.7 393.6h10M200.7 407.1h10M190.9 403.7V421.0M185.9 403.7h10M185.9 421.0h10M298.0 321.5V345.3M293.0 321.5h10M293.0 345.3h10M272.0 342.6V359.8M267.0 342.6h10M267.0 359.8h10M285.1 324.7V348.0M280.1 324.7h10M280.1 348.0h10M252.7 349.4V376.8M247.7 349.4h10M247.7 376.8h10M275.8 334.8V363.7M270.8 334.8h10M270.8 363.7h10M209.5 393.1V411.6M204.5 393.1h10M204.5 411.6h10M245.3 355.1V374.4M240.3 355.1h10M240.3 374.4h10M319.2 307.5V329.5M314.2 307.5h10M314.2 329.5h10M174.3 424.5V434.7M169.3 424.5h10M169.3 434.7h10M206.3 391.2V411.9M201.3 391.2h10M201.3 411.9h10M247.7 347.5V372.4M242.7 347.5h10M242.7 372.4h10M253.6 349.9V366.2M248.6 349.9h10M248.6 366.2h10M192.9 406.2V418.3M187.9 406.2h10M187.9 418.3h10M227.4 377.3V392.2M222.4 377.3h10M222.4 392.2h10M303.4 302.9V320.8M298.4 302.9h10M298.4 320.8h10M232.3 369.0V384.0M227.3 369.0h10M227.3 384.0h10M217.9 382.8V394.4M212.9 382.8h10M212.9 394.4h10M327.9 288.7V311.7M322.9 288.7h10M322.9 311.7h10M180.6 420.8V434.3M175.6 420.8h10M175.6 434.3h10M278.6 328.1V358.7M273.6 328.1h10M273.6 358.7h10M307.9 304.0V328.2M302.9 304.0h10M302.9 328.2h10M189.3 412.8V421.7M184.3 412.8h10M184.3 421.7h10M212.4 391.8V405.5M207.4 391.8h10M207.4 405.5h10M254.1 350.1V373.8M249.1 350.1h10M249.1 373.8h10M317.1 282.8V301.1M312.1 282.8h10M312.1 301.1h10M294.3 310.1V341.9M289.3 310.1h10M289.3 341.9h10M226.2 370.0V386.3M221.2 370.0h10M221.2 386.3h10M242.0 352.4V378.2M237.0 352.4h10M237.0 378.2h10M293.0 316.9V336.1M288.0 316.9h10M288.0 336.1h10M202.3 402.8V416.0M197.3 402.8h10M197.3 416.0h10M242.9 356.0V377.9M237.9 356.0h10M237.9 377.9h10M251.7 357.8V378.5M246.7 357.8h10M246.7 378.5h10M213.9 391.1V408.8M208.9 391.1h10M208.9 408.8h10M215.0 376.1V390.0M210.0 376.1h10M210.0 390.0h10M299.0 313.5V334.4M294.0 313.5h10M294.0 334.4h10M287.7 316.8V344.1M282.7 316.8h10M282.7 344.1h10M282.0 331.1V346.8M277.0 331.1h10M277.0 346.8h10M201.9 402.0V413.5M196.9 402.0h10M196.9 413.5h10M248.4 360.1V373.4M243.4 360.1h10M243.4 373.4h10M301.2 301.3V331.9M296.2 301.3h10M296.2 331.9h10M189.5 412.0V425.8M184.5 412.0h10M184.5 425.8h10M235.7 369.6V394.2M230.7 369.6h10M230.7 394.2h10M264.3 353.7V368.2M259.3 353.7h10M259.3 368.2h10M186.8 412.0V428.6M181.8 412.0h10M181.8 428.6h10M254.5 345.5V371.0M249.5 345.5h10M249.5 371.0h10M243.8 358.6V384.1M238.8 358.6h10M238.8 384.1h10M153.2 452.7V458.4M148.2 452.7h10M148.2 458.4h10M283.8 318.2V349.6M278.8 318.2h10M278.8 349.6h10M242.2 359.0V380.6M237.2 359.0h10M237.2 380.6h10M323.6 288.7V306.5M318.6 288.7h10M318.6 306.5h10M249.5 356.3V379.3M244.5 356.3h10M244.5 379.3h10M167.8 431.3V441.5M162.8 431.3h10M162.8 441.5h10M266.7 341.6V369.6M261.7 341.6h10M261.7 369.6h10M304.4 301.2V335.1M299.4 301.2h10M299.4 335.1h10M239.1 360.9V380.5M234.1 360.9h10M234.1 380.5h10M249.9 349.7V372.2M244.9 349.7h10M244.9 372.2h10M320.1 295.6V325.9M315.1 295.6h10M315.1 325.9h10M233.6 366.9V390.8M228.6 366.9h10M228.6 390.8h10M260.7 346.4V367.3M255.7 346.4h10M255.7 367.3h10M296.6 304.7V327.1M291.6 304.7h10M291.6 327.1h10M226.9 375.4V389.3M221.9 375.4h10M221.9 389.3h10M283.9 313.7V333.3M278.9 313.7h10M278.9 333.3h10M215.7 384.5V399.3M210.7 384.5h10M210.7 399.3h10M192.8 406.9V415.6M187.8 406.9h10M187.8 415.6h10M284.0 341.6V361.5M279.0 341.6h10M279.0 361.5h10M294.4 312.3V336.8M289.4 312.3h10M289.4 336.8h10M246.6 358.6V384.9M241.6 358.6h10M241.6 384.9h10M280.4 322.2V353.4M275.4 322.2h10M275.4 353.4h10M239.4 370.5V385.8M234.4 370.5h10M234.4 385.8h10M298.2 311.3V341.2M293.2 311.3h10M293.2 341.2h10M258.0 348.3V371.1M253.0 348.3h10M253.0 371.1h10M290.4 315.7V339.3M285.4 315.7h10M285.4 339.3h10M216.9 383.5V406.9M211.9 383.5h10M211.9 406.9h10M182.1 423.7V435.0M177.1 423.7h10M177.1 435.0h10M259.1 333.0V360.5M254.1 333.0h10M254.1 360.5h10M258.7 345.7V373.6M253.7 345.7h10M253.7 373.6h10M219.9 374.3V394.1M214.9 374.3h10M214.9 394.1h10M241.7 361.8V379.3M236.7 361.8h10M236.7 379.3h10M206.2 398.1V411.4M201.2 398.1h10M201.2 411.4h10M225.9 369.9V386.1M220.9 369.9h10M220.9 386.1h10M265.2 339.1V354.3M260.2 339.1h10M260.2 354.3h10M246.3 348.1V375.3M241.3 348.1h10M241.3 375.3h10M236.2 370.8V390.1M231.2 370.8h10M231.2 390.1h10M254.7 363.0V381.8M249.7 363.0h10M249.7 381.8h10M236.6 360.2V384.4M231.6 360.2h10M231.6 384.4h10M203.4 399.0V412.2M198.4 399.0h10M198.4 412.2h10M195.9 404.3V421.5M190.9 404.3h10M190.9 421.5h10M301.2 311.0V335.7M296.2 311.0h10M296.2 335.7h10M225.5 375.8V396.4M220.5 375.8h10M220.5 396.4h10M316.0 294.6V319.2M311.0 294.6h10M311.0 319.2h10M212.1 386.3V400.4M207.1 386.3h10M207.1 400.4h10M234.6 365.8V380.2M229.6 365.8h10M229.6 380.2h10M216.5 387.6V405.3M211.5 387.6h10M211.5 405.3h10M253.6 349.8V374.5M248.6 349.8h10M248.6 374.5h10M177.5 427.1V441.5M172.5 427.1h10M172.5 441.5h10M221.6 376.0V392.8M216.6 376.0h10M216.6 392.8h10M219.5 378.5V399.4M214.5 378.5h10M214.5 399.4h10M235.9 353.5V383.8M230.9 353.5h10M230.9 383.8h10M254.6 353.3V370.8M249.6 353.3h10M249.6 370.8h10M208.6 387.8V408.5M203.6 387.8h10M203.6 408.5h10M184.9 416.2V431.9M179.9 416.2h10M179.9 431.9h10M150.6 456.4V463.0M145.6 456.4h10M145.6 463.0h10M202.3 400.5V419.1M197.3 400.5h10M197.3 419.1h10M216.1 376.2V397.3M211.1 376.2h10M211.1 397.3h10M182.1 418.9V426.4M177.1 418.9h10M177.1 426.4h10M238.0 366.3V381.0M233.0 366.3h10M233.0 381.0h10M166.0 438.7V445.2M161.0 438.7h10M161.0 445.2h10M198.0 398.3V416.4M193.0 398.3h10M193.0 416.4h10M276.2 335.3V354.0M271.2 335.3h10M271.2 354.0h10M210.4 386.7V404.2M205.4 386.7h10M205.4 404.2h10M160.4 445.5V451.6M155.4 445.5h10M155.4 451.6h10M203.7 400.9V419.0M198.7 400.9h10M198.7 419.0h10M218.0 382.1V404.2M213.0 382.1h10M213.0 404.2h10M206.2 385.5V396.0M201.2 385.5h10M201.2 396.0h10M248.2 362.4V376.6M243.2 362.4h10M243.2 376.6h10M228.3 375.9V397.1M223.3 375.9h10M223.3 397.1h10M290.0 333.1V359.9M285.0 333.1h10M285.0 359.9h10M288.3 328.2V344.6M283.3 328.2h10M283.3 344.6h10M270.9 330.3V365.1M265.9 330.3h10M265.9 365.1h10M253.9 346.7V362.5M248.9 346.7h10M248.9 362.5h10M240.0 373.0V389.8M235.0 373.0h10M235.0 389.8h10M259.9 337.7V365.3M254.9 337.7h10M254.9 365.3h10M274.0 337.0V360.3M269.0 337.0h10M269.0 360.3h10M269.1 337.1V357.9M264.1 337.1h10M264.1 357.9h10M266.3 344.2V361.4M261.3 344.2h10M261.3 361.4h10M245.8 364.0V385.2M240.8 364.0h10M240.8 385.2h10M273.7 333.8V349.7M268.7 333.8h10M268.7 349.7h10M211.8 391.3V405.2M206.8 391.3h10M206.8 405.2h10M288.5 324.9V350.2M283.5 324.9h10M283.5 350.2h10M215.0 389.1V404.7M210.0 389.1h10M210.0 404.7h10M303.0 307.2V340.3M298.0 307.2h10M298.0 340.3h10M236.9 365.3V379.1M231.9 365.3h10M231.9 379.1h10M186.0 415.9V425.7M181.0 415.9h10M181.0 425.7h10M275.9 340.0V362.1M270.9 340.0h10M270.9 362.1h10M306.4 299.8V323.3M301.4 299.8h10M301.4 323.3h10M207.3 393.6V412.2M202.3 393.6h10M202.3 412.2h10M187.5 419.1V430.9M182.5 419.1h10M182.5 430.9h10M320.1 307.1V325.4M315.1 307.1h10M315.1 325.4h10M287.3 312.7V343.9M282.3 312.7h10M282.3 343.9h10M238.0 363.4V376.5M233.0 363.4h10M233.0 376.5h10M224.5 376.9V396.1M219.5 376.9h10M219.5 396.1h10M259.3 339.9V365.6M254.3 339.9h10M254.3 365.6h10M243.1 354.7V374.0M238.1 354.7h10M238.1 374.0h10M213.3 383.9V399.2M208.3 383.9h10M208.3 399.2h10M247.0 344.7V369.9M242.0 344.7h10M242.0 369.9h10M303.2 307.8V332.9M298.2 307.8h10M298.2 332.9h10M315.2 310.6V332.5M310.2 310.6h10M310.2 332.5h10M180.4 418.3V433.4M175.4 418.3h10M175.4 433.4h10M194.4 410.5V419.8M189.4 410.5h10M189.4 419.8h10M167.6 435.6V442.1M162.6 435.6h10M162.6 442.1h10M233.2 377.6V395.6M228.2 377.6h10M228.2 395.6h10M198.6 396.8V408.6M193.6 396.8h10M193.6 408.6h10M218.9 368.8V386.4M213.9 368.8h10M213.9 386.4h10M290.2 325.8V348.9M285.2 325.8h10M285.2 348.9h10M229.2 366.0V382.5M224.2 366.0h10M224.2 382.5h10M278.9 334.9V364.5M273.9 334.9h10M273.9 364.5h10M197.9 395.4V413.4M192.9 395.4h10M192.9 413.4h10M307.3 295.2V312.6M302.3 295.2h10M302.3 312.6h10M253.5 342.8V371.6M248.5 342.8h10M248.5 371.6h10M255.7 351.0V371.9M250.7 351.0h10M250.7 371.9h10M230.1 363.9V389.1M225.1 363.9h10M225.1 389.1h10M300.7 317.3V338.8M295.7 317.3h10M295.7 338.8h10M254.1 343.6V367.8M249.1 343.6h10M249.1 367.8h10M210.3 393.2V406.4M205.3 393.2h10M205.3 406.4h10M292.5 317.8V350.8M287.5 317.8h10M287.5 350.8h10M174.0 434.1V443.9M169.0 434.1h10M169.0 443.9h10M215.9 384.7V405.9M210.9 384.7h10M210.9 405.9h10M241.0 359.7V377.3M236.0 359.7h10M236.0 377.3h10M194.0 407.6V419.5M189.0 407.6h10M189.0 419.5h10M278.1 323.4V349.9M273.1 323.4h10M273.1 349.9h10M227.3 376.7V397.7M222.3 376.7h10M222.3 397.7h10M241.4 370.2V386.3M236.4 370.2h10M236.4 386.3h10M260.3 344.0V361.9M255.3 344.0h10M255.3 361.9h10M256.7 349.4V375.5M251.7 349.4h10M251.7 375.5h10M184.5 423.0V435.5M179.5 423.0h10M179.5 435.5h10M235.1 371.7V389.6M230.1 371.7h10M230.1 389.6h10M194.7 399.0V408.3M189.7 399.0h10M189.7 408.3h10M238.8 375.4V390.0M233.8 375.4h10M233.8 390.0h10M259.7 340.3V364.7M254.7 340.3h10M254.7 364.7h10M270.7 330.1V358.9M265.7 330.1h10M265.7 358.9h10M201.2 411.1V421.3M196.2 411.1h10M196.2 421.3h10M259.9 333.0V348.9M254.9 333.0h10M254.9 348.9h10M258.7 350.5V377.0M253.7 350.5h10M253.7 377.0h10M229.0 367.6V384.6M224.0 367.6h10M224.0 384.6h10M249.3 362.7V383.0M244.3 362.7h10M244.3 383.0h10M212.6 385.9V399.5M207.6 385.9h10M207.6 399.5h10M186.2 412.9V425.7M181.2 412.9h10M181.2 425.7h10M234.3 362.1V380.6M229.3 362.1h10M229.3 380.6h10M201.8 404.2V414.7M196.8 404.2h10M196.8 414.7h10M321.9 285.3V309.3M316.9 285.3h10M316.9 309.3h10M209.2 396.4V414.7M204.2 396.4h10M204.2 414.7h10M209.4 393.1V411.6M204.4 393.1h10M204.4 411.6h10M205.2 399.0V413.4M200.2 399.0h10M200.2 413.4h10M288.4 328.6V354.2M283.4 328.6h10M283.4 354.2h10M277.8 348.1V366.9M272.8 348.1h10M272.8 366.9h10M226.8 374.9V393.0M221.8 374.9h10M221.8 393.0h10M259.4 350.1V373.5M254.4 350.1h10M254.4 373.5h10M154.8 448.0V458.7M149.8 448.0h10M149.8 458.7h10M187.0 406.7V416.0M182.0 406.7h10M182.0 416.0h10M266.3 335.7V356.7M261.3 335.7h10M261.3 356.7h10M283.3 324.6V345.7M278.3 324.6h10M278.3 345.7h10M179.4 420.4V432.1M174.4 420.4h10M174.4 432.1h10M269.2 339.5V356.2M264.2 339.5h10M264.2 356.2h10M256.0 347.7V374.4M251.0 347.7h10M251.0 374.4h10M264.7 336.5V365.5M259.7 336.5h10M259.7 365.5h10M317.4 290.4V308.0M312.4 290.4h10M312.4 308.0h10M219.4 373.4V386.0M214.4 373.4h10M214.4 386.0h10M298.1 301.3V326.8M293.1 301.3h10M293.1 326.8h10M249.4 363.1V382.6M244.4 363.1h10M244.4 382.6h10M213.0 391.6V402.2M208.0 391.6h10M208.0 402.2h10M191.2 409.4V425.4M186.2 409.4h10M186.2 425.4h10M255.9 344.0V371.3M250.9 344.0h10M250.9 371.3h10M201.6 406.3V416.5M196.6 406.3h10M196.6 416.5h10M212.8 375.9V397.4M207.8 375.9h10M207.8 397.4h10M167.8 438.9V446.6M162.8 438.9h10M162.8 446.6h10M317.5 306.1V327.1M312.5 306.1h10M312.5 327.1h10M318.4 298.1V323.2M313.4 298.1h10M313.4 323.2h10M286.6 321.2V348.6M281.6 321.2h10M281.6 348.6h10M194.1 402.3V420.0M189.1 402.3h10M189.1 420.0h10M259.1 341.1V367.3M254.1 341.1h10M254.1 367.3h10M241.5 362.1V380.6M236.5 362.1h10M236.5 380.6h10M219.5 379.9V393.9M214.5 379.9h10M214.5 393.9h10M232.3 364.8V379.2M227.3 364.8h10M227.3 379.2h10M233.9 377.1V392.6M228.9 377.1h10M228.9 392.6h10M267.7 344.2V359.9M262.7 344.2h10M262.7 359.9h10M192.1 406.9V419.3M187.1 406.9h10M187.1 419.3h10M255.2 351.0V377.6M250.2 351.0h10M250.2 377.6h10M207.5 389.7V403.9M202.5 389.7h10M202.5 403.9h10M192.2 403.3V413.2M187.2 403.3h10M187.2 413.2h10M267.4 347.8V368.7M262.4 347.8h10M262.4 368.7h10M258.8 341.4V360.7M253.8 341.4h10M253.8 360.7h10M175.6 431.1V441.8M170.6 431.1h10M170.6 441.8h10M290.3 326.3V342.2M285.3 326.3h10M285.3 342.2h10M302.5 313.3V329.9M297.5 313.3h10M297.5 329.9h10M330.8 289.1V317.9M325.8 289.1h10M325.8 317.9h10M245.9 354.6V377.9M240.9 354.6h10M240.9 377.9h10M247.9 350.2V372.7M242.9 350.2h10M242.9 372.7h10M269.1 346.0V371.9M264.1 346.0h10M264.1 371.9h10M166.7 437.0V443.5M161.7 437.0h10M161.7 443.5h10M177.0 420.5V433.8M172.0 420.5h10M172.0 433.8h10M200.9 403.8V417.3M195.9 403.8h10M195.9 417.3h10M187.1 411.3V425.4M182.1 411.3h10M182.1 425.4h10M178.4 422.5V434.2M173.4 422.5h10M173.4 434.2h10M219.2 381.6V395.9M214.2 381.6h10M214.2 395.9h10M162.3 445.9V452.4M157.3 445.9h10M157.3 452.4h10M249.5 354.9V382.7M244.5 354.9h10M244.5 382.7h10M303.2 305.4V323.3M298.2 305.4h10M298.2 323.3h10M178.7 422.3V435.7M173.7 422.3h10M173.7 435.7h10M234.9 375.4V389.1M229.9 375.4h10M229.9 389.1h10M154.9 453.9V459.0M149.9 453.9h10M149.9 459.0h10M212.1 383.8V404.9M207.1 383.8h10M207.1 404.9h10M156.0 449.6V456.7M151.0 449.6h10M151.0 456.7h10M261.3 351.1V377.0M256.3 351.1h10M256.3 377.0h10M229.9 366.5V381.3M224.9 366.5h10M224.9 381.3h10M170.8 430.9V442.6M165.8 430.9h10M165.8 442.6h10M260.4 349.0V374.3M255.4 349.0h10M255.4 374.3h10M234.0 360.6V373.7M229.0 360.6h10M229.0 373.7h10M249.0 360.5V385.5M244.0 360.5h10M244.0 385.5h10M208.5 392.6V403.0M203.5 392.6h10M203.5 403.0h10M227.2 373.9V393.2M222.2 373.9h10M222.2 393.2h10M219.5 380.3V396.0M214.5 380.3h10M214.5 396.0h10M275.8 324.3V344.0M270.8 324.3h10M270.8 344.0h10M190.5 410.6V423.2M185.5 410.6h10M185.5 423.2h10M198.9 399.3V416.3M193.9 399.3h10M193.9 416.3h10M173.0 423.9V433.6M168.0 423.9h10M168.0 433.6h10M173.7 423.1V433.0M168.7 423.1h10M168.7 433.0h10M197.0 408.2V421.8M192.0 408.2h10M192.0 421.8h10M282.8 314.0V333.4M277.8 314.0h10M277.8 333.4h10M186.7 416.7V429.2M181.7 416.7h10M181.7 429.2h10M158.7 446.2V453.3M153.7 446.2h10M153.7 453.3h10M297.6 307.7V327.0M292.6 307.7h10M292.6 327.0h10M150.9 457.5V461.0M145.9 457.5h10M145.9 461.0h10M162.9 446.2V451.8M157.9 446.2h10M157.9 451.8h10M326.6 308.7V327.8M321.6 308.7h10M321.6 327.8h10M301.1 315.0V347.6M296.1 315.0h10M296.1 347.6h10M227.1 368.0V390.6M222.1 368.0h10M222.1 390.6h10M247.6 343.8V386.2M242.6 343.8h10M242.6 386.2h10M187.9 414.8V423.8M182.9 414.8h10M182.9 423.8h10M253.9 363.7V378.9M248.9 363.7h10M248.9 378.9h10M203.8 392.6V408.4M198.8 392.6h10M198.8 408.4h10M294.3 314.5V333.2M289.3 314.5h10M289.3 333.2h10M154.0 453.5V460.4M149.0 453.5h10M149.0 460.4h10M229.3 371.0V389.9M224.3 371.0h10M224.3 389.9h10M272.8 350.4V372.5M267.8 350.4h10M267.8 372.5h10M187.4 409.7V428.5M182.4 409.7h10M182.4 428.5h10M177.8 425.1V432.2M172.8 425.1h10M172.8 432.2h10M252.6 349.2V373.9M247.6 349.2h10M247.6 373.9h10M199.9 394.2V405.5M194.9 394.2h10M194.9 405.5h10M265.5 340.7V361.5M260.5 340.7h10M260.5 361.5h10M214.2 378.7V399.9M209.2 378.7h10M209.2 399.9h10M214.8 381.8V393.7M209.8 381.8h10M209.8 393.7h10M277.3 328.4V350.4M272.3 328.4h10M272.3 350.4h10M293.1 322.9V351.6M288.1 322.9h10M288.1 351.6h10M321.8 298.5V326.0M316.8 298.5h10M316.8 326.0h10M238.5 369.9V385.6M233.5 369.9h10M233.5 385.6h10M217.0 379.6V400.3M212.0 379.6h10M212.0 400.3h10M269.8 337.1V365.0M264.8 337.1h10M264.8 365.0h10M235.0 354.3V380.8M230.0 354.3h10M230.0 380.8h10M216.4 386.4V407.8M211.4 386.4h10M211.4 407.8h10M311.6 299.9V319.4M306.6 299.9h10M306.6 319.4h10M218.3 374.5V404.4M213.3 374.5h10M213.3 404.4h10M197.6 392.4V414.2M192.6 392.4h10M192.6 414.2h10M210.7 389.6V401.0M205.7 389.6h10M205.7 401.0h10M274.1 341.1V357.6M269.1 341.1h10M269.1 357.6h10M192.8 407.5V420.9M187.8 407.5h10M187.8 420.9h10M238.8 362.6V388.3M233.8 362.6h10M233.8 388.3h10M204.4 390.1V408.2M199.4 390.1h10M199.4 408.2h10M194.8 400.4V418.7M189.8 400.4h10M189.8 418.7h10M180.6 420.0V428.9M175.6 420.0h10M175.6 428.9h10M211.6 388.3V405.2M206.6 388.3h10M206.6 405.2h10M279.9 331.9V354.8M274.9 331.9h10M274.9 354.8h10M265.8 340.6V362.4M260.8 340.6h10M260.8 362.4h10M167.9 433.1V442.5M162.9 433.1h10M162.9 442.5h10M267.4 339.5V362.4M262.4 339.5h10M262.4 362.4h10M204.7 390.8V411.7M199.7 390.8h10M199.7 411.7h10M169.5 439.4V447.2M164.5 439.4h10M164.5 447.2h10M178.3 420.2V434.0M173.3 420.2h10M173.3 434.0h10M286.9 316.3V346.0M281.9 316.3h10M281.9 346.0h10M224.0 372.6V391.2M219.0 372.6h10M219.0 391.2h10M225.3 382.7V399.0M220.3 382.7h10M220.3 399.0h10M219.4 376.7V395.0M214.4 376.7h10M214.4 395.0h10M293.2 325.9V345.2M288.2 325.9h10M288.2 345.2h10M221.2 377.5V397.5M216.2 377.5h10M216.2 397.5h10M257.8 343.4V371.7M252.8 343.4h10M252.8 371.7h10M277.3 326.5V350.6M272.3 326.5h10M272.3 350.6h10M306.9 310.1V336.8M301.9 310.1h10M301.9 336.8h10M215.3 378.1V398.2M210.3 378.1h10M210.3 398.2h10M292.6 313.5V343.7M287.6 313.5h10M287.6 343.7h10M269.1 324.3V342.9M264.1 324.3h10M264.1 342.9h10M300.3 302.0V347.6M295.3 302.0h10M295.3 347.6h10M191.7 410.9V429.1M186.7 410.9h10M186.7 429.1h10M245.5 355.5V373.7M240.5 355.5h10M240.5 373.7h10M251.7 348.8V372.2M246.7 348.8h10M246.7 372.2h10M227.1 373.6V392.8M222.1 373.6h10M222.1 392.8h10M263.1 345.8V360.1M258.1 345.8h10M258.1 360.1h10M151.0 456.9V462.3M146.0 456.9h10M146.0 462.3h10M270.2 329.7V359.9M265.2 329.7h10M265.2 359.9h10M313.6 295.6V329.2M308.6 295.6h10M308.6 329.2h10M260.7 334.7V360.6M255.7 334.7h10M255.7 360.6h10M247.6 365.0V381.7M242.6 365.0h10M242.6 381.7h10M264.9 339.0V367.4M259.9 339.0h10M259.9 367.4h10M219.4 376.6V390.7M214.4 376.6h10M214.4 390.7h10M214.6 384.5V403.9M209.6 384.5h10M209.6 403.9h10M218.9 376.5V396.1M213.9 376.5h10M213.9 396.1h10M175.5 433.2V440.9M170.5 433.2h10M170.5 440.9h10M251.9 338.9V365.7M246.9 338.9h10M246.9 365.7h10M167.5 430.7V442.4M162.5 430.7h10M162.5 442.4h10M229.9 368.3V396.7M224.9 368.3h10M224.9 396.7h10M223.9 379.9V393.1M218.9 379.9h10M218.9 393.1h10M209.4 386.6V397.6M204.4 386.6h10M204.4 397.6h10M220.0 374.7V394.5M215.0 374.7h10M215.0 394.5h10M229.4 374.0V387.8M224.4 374.0h10M224.4 387.8h10M224.7 377.2V393.7M219.7 377.2h10M219.7 393.7h10M206.6 381.7V392.9M201.6 381.7h10M201.6 392.9h10M264.7 347.6V366.9M259.7 347.6h10M259.7 366.9h10M253.3 354.6V380.2M248.3 354.6h10M248.3 380.2h10M164.8 435.5V445.5M159.8 435.5h10M159.8 445.5h10M280.8 334.5V363.3M275.8 334.5h10M275.8 363.3h10M239.2 369.3V383.4M234.2 369.3h10M234.2 383.4h10M238.6 351.3V366.1M233.6 351.3h10M233.6 366.1h10M272.5 336.4V361.3M267.5 336.4h10M267.5 361.3h10M247.4 356.4V379.4M242.4 356.4h10M242.4 379.4h10M293.2 310.0V336.1M288.2 310.0h10M288.2 336.1h10M305.1 314.0V330.1M300.1 314.0h10M300.1 330.1h10M182.6 413.0V424.1M177.6 413.0h10M177.6 424.1h10M176.7 421.0V433.2M171.7 421.0h10M171.7 433.2h10M189.1 409.6V422.8M184.1 409.6h10M184.1 422.8h10M240.8 364.6V386.3M235.8 364.6h10M235.8 386.3h10M174.9 424.9V435.1M169.9 424.9h10M169.9 435.1h10M163.8 444.1V452.9M158.8 444.1h10M158.8 452.9h10M204.4 394.1V409.1M199.4 394.1h10M199.4 409.1h10M175.9 430.6V437.5M170.9 430.6h10M170.9 437.5h10M200.3 395.7V414.0M195.3 395.7h10M195.3 414.0h10M266.1 340.3V358.4M261.1 340.3h10M261.1 358.4h10M238.7 351.9V373.8M233.7 351.9h10M233.7 373.8h10M174.4 422.4V436.4M169.4 422.4h10M169.4 436.4h10M301.9 311.4V332.2M296.9 311.4h10M296.9 332.2h10M200.4 395.4V412.0M195.4 395.4h10M195.4 412.0h10M293.8 304.4V355.5M288.8 304.4h10M288.8 355.5h10M329.2 290.2V325.7M324.2 290.2h10M324.2 325.7h10M192.9 402.6V417.5M187.9 402.6h10M187.9 417.5h10M285.1 332.4V348.0M280.1 332.4h10M280.1 348.0h10M203.5 402.6V416.0M198.5 402.6h10M198.5 416.0h10M262.5 347.2V371.3M257.5 347.2h10M257.5 371.3h10M273.8 330.9V350.5M268.8 330.9h10M268.8 350.5h10M274.1 346.4V363.8M269.1 346.4h10M269.1 363.8h10M280.1 325.8V356.6M275.1 325.8h10M275.1 356.6h10M189.2 415.1V424.1M184.2 415.1h10M184.2 424.1h10M197.1 400.7V415.4M192.1 400.7h10M192.1 415.4h10M199.7 399.9V411.1M194.7 399.9h10M194.7 411.1h10M198.0 398.5V414.0M193.0 398.5h10M193.0 414.0h10M245.1 368.0V381.9M240.1 368.0h10M240.1 381.9h10M237.9 360.4V379.2M232.9 360.4h10M232.9 379.2h10M245.6 357.6V379.4M240.6 357.6h10M240.6 379.4h10M291.3 318.8V343.9M286.3 318.8h10M286.3 343.9h10M304.6 312.0V334.5M299.6 312.0h10M299.6 334.5h10M324.3 292.9V322.7M319.3 292.9h10M319.3 322.7h10M201.8 393.0V409.7M196.8 393.0h10M196.8 409.7h10M282.4 315.6V357.8M277.4 315.6h10M277.4 357.8h10M313.4 301.9V322.4M308.4 301.9h10M308.4 322.4h10M209.4 383.9V402.0M204.4 383.9h10M204.4 402.0h10M276.6 326.7V344.2M271.6 326.7h10M271.6 344.2h10M286.6 323.1V348.7M281.6 323.1h10M281.6 348.7h10M280.4 335.1V362.8M275.4 335.1h10M275.4 362.8h10M280.0 321.3V336.4M275.0 321.3h10M275.0 336.4h10M203.4 396.8V409.8M198.4 396.8h10M198.4 409.8h10M283.1 331.4V351.4M278.1 331.4h10M278.1 351.4h10M232.3 361.7V377.2M227.3 361.7h10M227.3 377.2h10M258.3 342.0V370.2M253.3 342.0h10M253.3 370.2h10M206.6 388.6V408.4M201.6 388.6h10M201.6 408.4h10M198.4 409.2V421.8M193.4 409.2h10M193.4 421.8h10M290.9 329.5V348.2M285.9 329.5h10M285.9 348.2h10M225.7 378.1V398.8M220.7 378.1h10M220.7 398.8h10M211.4 378.6V399.3M206.4 378.6h10M206.4 399.3h10M247.0 362.2V376.2M242.0 362.2h10M242.0 376.2h10M286.4 313.7V334.8M281.4 313.7h10M281.4 334.8h10M245.7 354.6V378.6M240.7 354.6h10M240.7 378.6h10M315.6 308.4V335.4M310.6 308.4h10M310.6 335.4h10M235.9 363.4V378.1M230.9 363.4h10M230.9 378.1h10M247.5 356.0V373.2M242.5 356.0h10M242.5 373.2h10M213.0 401.4V412.5M208.0 401.4h10M208.0 412.5h10M242.3 351.7V378.1M237.3 351.7h10M237.3 378.1h10M221.9 366.5V390.5M216.9 366.5h10M216.9 390.5h10M252.1 349.8V369.9M247.1 349.8h10M247.1 369.9h10M184.7 423.1V431.4M179.7 423.1h10M179.7 431.4h10M278.9 331.6V348.2M273.9 331.6h10M273.9 348.2h10M202.5 390.7V402.6M197.5 390.7h10M197.5 402.6h10M226.3 371.3V395.6M221.3 371.3h10M221.3 395.6h10M262.4 335.1V357.9M257.4 335.1h10M257.4 357.9h10M260.1 344.3V374.8M255.1 344.3h10M255.1 374.8h10M238.3 359.0V385.5M233.3 359.0h10M233.3 385.5h10M220.2 367.2V378.7M215.2 367.2h10M215.2 378.7h10M261.7 350.1V379.7M256.7 350.1h10M256.7 379.7h10M235.6 365.3V380.6M230.6 365.3h10M230.6 380.6h10M268.0 340.6V364.9M263.0 340.6h10M263.0 364.9h10M206.4 385.3V400.4M201.4 385.3h10M201.4 400.4h10M239.5 358.7V382.0M234.5 358.7h10M234.5 382.0h10M252.8 362.0V378.7M247.8 362.0h10M247.8 378.7h10M185.7 413.0V423.8M180.7 413.0h10M180.7 423.8h10M281.4 324.2V354.1M276.4 324.2h10M276.4 354.1h10M264.3 334.2V361.7M259.3 334.2h10M259.3 361.7h10M234.5 367.6V383.3M229.5 367.6h10M229.5 383.3h10M262.2 346.1V363.2M257.2 346.1h10M257.2 363.2h10M247.8 348.8V371.0M242.8 348.8h10M242.8 371.0h10M274.3 336.1V371.4M269.3 336.1h10M269.3 371.4h10M247.4 351.6V372.9M242.4 351.6h10M242.4 372.9h10M268.9 342.2V362.3M263.9 342.2h10M263.9 362.3h10M291.7 313.5V346.1M286.7 313.5h10M286.7 346.1h10M259.7 348.3V371.7M254.7 348.3h10M254.7 371.7h10M281.8 328.2V347.1M276.8 328.2h10M276.8 347.1h10M290.0 322.8V345.8M285.0 322.8h10M285.0 345.8h10M288.0 321.4V342.5M283.0 321.4h10M283.0 342.5h10M274.8 339.9V358.4M269.8 339.9h10M269.8 358.4h10M329.6 284.0V318.6M324.6 284.0h10M324.6 318.6h10M320.3 290.9V316.9M315.3 290.9h10M315.3 316.9h10M219.8 371.8V390.4M214.8 371.8h10M214.8 390.4h10M150.6 458.7V464.1M145.6 458.7h10M145.6 464.1h10M243.3 356.2V374.6M238.3 356.2h10M238.3 374.6h10M295.1 334.6V353.5M290.1 334.6h10M290.1 353.5h10M239.3 351.7V371.7M234.3 351.7h10M234.3 371.7h10M221.7 372.8V397.1M216.7 372.8h10M216.7 397.1h10M294.2 312.5V345.2M289.2 312.5h10M289.2 345.2h10M203.2 398.4V413.2M198.2 398.4h10M198.2 413.2h10M268.2 346.4V364.7M263.2 346.4h10M263.2 364.7h10M259.7 345.3V372.4M254.7 345.3h10M254.7 372.4h10M256.0 343.7V371.9M251.0 343.7h10M251.0 371.9h10M213.0 384.9V398.9M208.0 384.9h10M208.0 398.9h10M235.0 352.9V366.1M230.0 352.9h10M230.0 366.1h10M156.8 451.0V458.4M151.8 451.0h10M151.8 458.4h10M244.1 362.6V376.2M239.1 362.6h10M239.1 376.2h10M298.9 325.0V343.1M293.9 325.0h10M293.9 343.1h10M228.3 370.7V392.4M223.3 370.7h10M223.3 392.4h10M263.3 362.6V378.9M258.3 362.6h10M258.3 378.9h10M272.1 352.8V369.7M267.1 352.8h10M267.1 369.7h10M269.7 344.2V366.8M264.7 344.2h10M264.7 366.8h10M204.2 395.9V416.9M199.2 395.9h10M199.2 416.9h10M201.0 402.6V417.2M196.0 402.6h10M196.0 417.2h10M221.2 373.2V388.4M216.2 373.2h10M216.2 388.4h10M205.1 388.4V399.6M200.1 388.4h10M200.1 399.6h10M274.2 334.0V350.3M269.2 334.0h10M269.2 350.3h10M204.8 389.8V408.2M199.8 389.8h10M199.8 408.2h10M200.2 401.7V414.3M195.2 401.7h10M195.2 414.3h10M208.8 391.6V407.6M203.8 391.6h10M203.8 407.6h10M250.8 351.0V376.9M245.8 351.0h10M245.8 376.9h10M269.3 325.5V371.2M264.3 325.5h10M264.3 371.2h10M209.3 395.4V409.6M204.3 395.4h10M204.3 409.6h10M212.3 384.7V399.8M207.3 384.7h10M207.3 399.8h10M245.7 355.2V383.1M240.7 355.2h10M240.7 383.1h10M269.5 325.6V343.3M264.5 325.6h10M264.5 343.3h10M185.5 419.8V429.5M180.5 419.8h10M180.5 429.5h10M197.3 400.1V412.4M192.3 400.1h10M192.3 412.4h10M254.5 347.9V373.1M249.5 347.9h10M249.5 373.1h10M154.5 451.9V456.8M149.5 451.9h10M149.5 456.8h10M280.3 351.7V367.2M275.3 351.7h10M275.3 367.2h10M208.9 396.1V411.6M203.9 396.1h10M203.9 411.6h10M250.8 349.8V369.3M245.8 349.8h10M245.8 369.3h10M220.8 381.8V401.6M215.8 381.8h10M215.8 401.6h10M247.2 358.0V383.4M242.2 358.0h10M242.2 383.4h10M195.7 406.1V420.0M190.7 406.1h10M190.7 420.0h10M208.4 388.6V404.2M203.4 388.6h10M203.4 404.2h10M167.3 437.7V444.9M162.3 437.7h10M162.3 444.9h10M201.1 393.8V410.6M196.1 393.8h10M196.1 410.6h10M199.2 394.5V410.4M194.2 394.5h10M194.2 410.4h10M260.2 355.1V369.5M255.2 355.1h10M255.2 369.5h10M268.0 333.6V364.0M263.0 333.6h10M263.0 364.0h10M323.2 288.1V322.5M318.2 288.1h10M318.2 322.5h10M216.4 377.8V400.8M211.4 377.8h10M211.4 400.8h10M218.0 382.8V405.5M213.0 382.8h10M213.0 405.5h10M230.4 365.6V389.2M225.4 365.6h10M225.4 389.2h10M223.5 372.4V388.0M218.5 372.4h10M218.5 388.0h10M272.9 332.5V349.5M267.9 332.5h10M267.9 349.5h10M224.8 368.8V390.1M219.8 368.8h10M219.8 390.1h10M226.6 367.0V388.6M221.6 367.0h10M221.6 388.6h10M239.9 362.2V387.7M234.9 362.2h10M234.9 387.7h10M247.8 357.3V374.1M242.8 357.3h10M242.8 374.1h10M251.2 370.2V385.4M246.2 370.2h10M246.2 385.4h10M242.2 351.0V377.6M237.2 351.0h10M237.2 377.6h10M271.0 330.2V364.0M266.0 330.2h10M266.0 364.0h10M239.3 362.9V376.2M234.3 362.9h10M234.3 376.2h10M256.4 346.3V366.8M251.4 346.3h10M251.4 366.8h10M253.3 346.8V362.3M248.3 346.8h10M248.3 362.3h10M229.3 366.5V389.4M224.3 366.5h10M224.3 389.4h10M236.3 363.0V387.2M231.3 363.0h10M231.3 387.2h10M214.4 380.4V398.1M209.4 380.4h10M209.4 398.1h10M306.6 316.4V338.1M301.6 316.4h10M301.6 338.1h10M239.8 352.6V378.8M234.8 352.6h10M234.8 378.8h10M277.9 329.3V356.9M272.9 329.3h10M272.9 356.9h10M260.6 348.1V363.1M255.6 348.1h10M255.6 363.1h10M257.5 346.0V371.1M252.5 346.0h10M252.5 371.1h10M184.7 407.6V420.3M179.7 407.6h10M179.7 420.3h10M209.2 385.1V397.0M204.2 385.1h10M204.2 397.0h10M219.0 386.6V405.3M214.0 386.6h10M214.0 405.3h10M170.2 434.8V441.2M165.2 434.8h10M165.2 441.2h10M289.3 314.2V337.4M284.3 314.2h10M284.3 337.4h10M287.8 319.7V344.6M282.8 319.7h10M282.8 344.6h10M255.4 361.3V384.0M250.4 361.3h10M250.4 384.0h10M257.1 342.7V363.3M252.1 342.7h10M252.1 363.3h10M223.9 368.9V382.2M218.9 368.9h10M218.9 382.2h10M198.6 396.8V415.2M193.6 396.8h10M193.6 415.2h10M245.5 353.4V380.3M240.5 353.4h10M240.5 380.3h10M308.8 322.0V340.4M303.8 322.0h10M303.8 340.4h10M229.7 363.2V377.2M224.7 363.2h10M224.7 377.2h10M265.7 340.4V358.2M260.7 340.4h10M260.7 358.2h10M192.1 410.1V419.9M187.1 410.1h10M187.1 419.9h10M272.3 332.0V350.8M267.3 332.0h10M267.3 350.8h10M201.6 393.8V410.6M196.6 393.8h10M196.6 410.6h10M175.1 424.1V432.9M170.1 424.1h10M170.1 432.9h10M218.5 380.1V392.7M213.5 380.1h10M213.5 392.7h10M176.9 423.2V434.7M171.9 423.2h10M171.9 434.7h10M212.1 400.7V412.2M207.1 400.7h10M207.1 412.2h10M171.7 428.8V436.7M166.7 428.8h10M166.7 436.7h10M187.1 415.6V423.6M182.1 415.6h10M182.1 423.6h10M187.7 416.9V429.5M182.7 416.9h10M182.7 429.5h10M286.9 324.7V356.6M281.9 324.7h10M281.9 356.6h10M306.7 291.2V308.9M301.7 291.2h10M301.7 308.9h10M268.4 355.9V371.5M263.4 355.9h10M263.4 371.5h10M266.9 343.5V370.5M261.9 343.5h10M261.9 370.5h10M244.4 351.6V377.3M239.4 351.6h10M239.4 377.3h10M190.7 405.7V414.7M185.7 405.7h10M185.7 414.7h10M259.4 350.7V374.6M254.4 350.7h10M254.4 374.6h10M201.1 389.7V404.6M196.1 389.7h10M196.1 404.6h10M292.6 323.4V341.4M287.6 323.4h10M287.6 341.4h10M189.7 404.7V421.6M184.7 404.7h10M184.7 421.6h10M187.9 412.8V424.0M182.9 412.8h10M182.9 424.0h10M250.1 358.4V375.6M245.1 358.4h10M245.1 375.6h10M272.1 335.7V353.2M267.1 335.7h10M267.1 353.2h10M237.8 365.7V389.8M232.8 365.7h10M232.8 389.8h10M232.1 362.2V380.6M227.1 362.2h10M227.1 380.6h10M311.3 297.1V316.9M306.3 297.1h10M306.3 316.9h10M317.1 290.7V324.8M312.1 290.7h10M312.1 324.8h10M171.2 432.0V439.4M166.2 432.0h10M166.2 439.4h10M175.4 422.8V430.9M170.4 422.8h10M170.4 430.9h10M188.1 414.0V426.9M183.1 414.0h10M183.1 426.9h10M257.4 350.2V369.7M252.4 350.2h10M252.4 369.7h10M201.7 397.7V411.9M196.7 397.7h10M196.7 411.9h10M178.3 427.8V435.1M173.3 427.8h10M173.3 435.1h10M236.3 360.2V377.2M231.3 360.2h10M231.3 377.2h10M216.3 383.2V403.9M211.3 383.2h10M211.3 403.9h10M238.9 367.1V385.0M233.9 367.1h10M233.9 385.0h10M277.4 328.3V356.8M272.4 328.3h10M272.4 356.8h10M291.7 317.8V344.5M286.7 317.8h10M286.7 344.5h10M183.2 410.6V425.4M178.2 410.6h10M178.2 425.4h10M224.0 376.2V399.6M219.0 376.2h10M219.0 399.6h10M251.3 361.7V378.5M246.3 361.7h10M246.3 378.5h10M206.6 394.5V411.3M201.6 394.5h10M201.6 411.3h10M207.3 387.7V402.0M202.3 387.7h10M202.3 402.0h10M211.8 378.9V400.8M206.8 378.9h10M206.8 400.8h10M206.9 400.4V410.8M201.9 400.4h10M201.9 410.8h10M249.0 351.7V371.3M244.0 351.7h10M244.0 371.3h10M283.9 325.2V354.7M278.9 325.2h10M278.9 354.7h10M189.4 407.3V419.4M184.4 407.3h10M184.4 419.4h10M258.0 343.9V363.5M253.0 343.9h10M253.0 363.5h10M251.6 343.8V365.3M246.6 343.8h10M246.6 365.3h10M193.7 406.7V417.7M188.7 406.7h10M188.7 417.7h10M232.2 372.5V386.8M227.2 372.5h10M227.2 386.8h10M305.7 299.8V323.4M300.7 299.8h10M300.7 323.4h10M317.1 298.6V329.2M312.1 298.6h10M312.1 329.2h10M181.5 414.1V427.3M176.5 414.1h10M176.5 427.3h10M206.5 394.3V414.2M201.5 394.3h10M201.5 414.2h10M258.4 344.4V367.3M253.4 344.4h10M253.4 367.3h10M255.3 345.6V371.4M250.3 345.6h10M250.3 371.4h10M238.2 367.0V387.9M233.2 367.0h10M233.2 387.9h10M256.4 347.1V366.7M251.4 347.1h10M251.4 366.7h10M205.0 397.8V410.6M200.0 397.8h10M200.0 410.6h10M213.2 378.1V395.8M208.2 378.1h10M208.2 395.8h10M267.9 340.4V362.5M262.9 340.4h10M262.9 362.5h10M210.1 389.0V408.7M205.1 389.0h10M205.1 408.7h10M249.5 351.7V373.5M244.5 351.7h10M244.5 373.5h10M263.6 336.0V364.3M258.6 336.0h10M258.6 364.3h10M268.3 339.3V368.1M263.3 339.3h10M263.3 368.1h10M183.5 416.1V431.7M178.5 416.1h10M178.5 431.7h10M182.7 416.8V427.2M177.7 416.8h10M177.7 427.2h10M174.3 428.8V441.2M169.3 428.8h10M169.3 441.2h10M213.4 394.9V408.0M208.4 394.9h10M208.4 408.0h10M228.7 362.9V381.5M223.7 362.9h10M223.7 381.5h10M222.1 385.2V396.7M217.1 385.2h10M217.1 396.7h10M241.4 357.0V383.8M236.4 357.0h10M236.4 383.8h10M231.6 369.4V383.8M226.6 369.4h10M226.6 383.8h10M251.1 355.3V377.4M246.1 355.3h10M246.1 377.4h10M169.2 437.3V448.8M164.2 437.3h10M164.2 448.8h10M226.2 378.0V397.4M221.2 378.0h10M221.2 397.4h10M190.8 408.6V426.1M185.8 408.6h10M185.8 426.1h10M244.4 355.3V374.8M239.4 355.3h10M239.4 374.8h10M202.3 402.0V414.8M197.3 402.0h10M197.3 414.8h10M256.2 361.3V376.7M251.2 361.3h10M251.2 376.7h10M276.4 336.4V366.7M271.4 336.4h10M271.4 366.7h10M256.6 347.0V369.8M251.6 347.0h10M251.6 369.8h10M271.3 346.6V373.2M266.3 346.6h10M266.3 373.2h10M246.8 357.0V380.6M241.8 357.0h10M241.8 380.6h10M334.4 298.6V323.3M329.4 298.6h10M329.4 323.3h10M275.2 345.5V363.0M270.2 345.5h10M270.2 363.0h10M317.2 296.3V317.9M312.2 296.3h10M312.2 317.9h10M225.1 364.8V401.6M220.1 364.8h10M220.1 401.6h10M197.0 408.7V419.7M192.0 408.7h10M192.0 419.7h10M261.5 340.2V361.2M256.5 340.2h10M256.5 361.2h10M193.6 398.3V408.1M188.6 398.3h10M188.6 408.1h10M173.2 425.0V433.2M168.2 425.0h10M168.2 433.2h10M267.2 336.5V366.6M262.2 336.5h10M262.2 366.6h10M206.2 387.7V407.4M201.2 387.7h10M201.2 407.4h10M200.9 388.1V405.3M195.9 388.1h10M195.9 405.3h10M246.1 356.1V372.8M241.1 356.1h10M241.1 372.8h10M175.2 425.9V433.3M170.2 425.9h10M170.2 433.3h10M238.7 358.4V384.0M233.7 358.4h10M233.7 384.0h10M257.6 341.4V363.0M252.6 341.4h10M252.6 363.0h10M286.4 335.2V362.4M281.4 335.2h10M281.4 362.4h10M314.4 288.9V322.2M309.4 288.9h10M309.4 322.2h10M274.8 344.5V360.6M269.8 344.5h10M269.8 360.6h10M276.3 342.5V362.9M271.3 342.5h10M271.3 362.9h10M258.5 339.5V364.8M253.5 339.5h10M253.5 364.8h10M248.9 355.1V368.6M243.9 355.1h10M243.9 368.6h10M222.2 371.7V391.5M217.2 371.7h10M217.2 391.5h10M225.7 384.4V400.7M220.7 384.4h10M220.7 400.7h10M270.0 337.6V361.3M265.0 337.6h10M265.0 361.3h10M270.5 332.7V359.7M265.5 332.7h10M265.5 359.7h10M205.5 393.7V413.1M200.5 393.7h10M200.5 413.1h10M244.2 361.7V377.0M239.2 361.7h10M239.2 377.0h10M270.5 333.2V353.8M265.5 333.2h10M265.5 353.8h10M202.5 398.6V417.3M197.5 398.6h10M197.5 417.3h10M177.3 422.2V432.5M172.3 422.2h10M172.3 432.5h10M297.2 325.7V343.6M292.2 325.7h10M292.2 343.6h10M232.0 372.9V385.7M227.0 372.9h10M227.0 385.7h10M190.7 408.9V421.7M185.7 408.9h10M185.7 421.7h10M210.8 388.9V410.0M205.8 388.9h10M205.8 410.0h10M230.5 365.0V390.6M225.5 365.0h10M225.5 390.6h10M279.1 324.5V354.5M274.1 324.5h10M274.1 354.5h10M243.8 353.7V369.5M238.8 353.7h10M238.8 369.5h10M186.0 418.2V427.0M181.0 418.2h10M181.0 427.0h10M240.3 350.8V372.9M235.3 350.8h10M235.3 372.9h10M269.8 350.5V365.1M264.8 350.5h10M264.8 365.1h10M294.0 315.5V344.4M289.0 315.5h10M289.0 344.4h10M254.4 337.7V383.4M249.4 337.7h10M249.4 383.4h10M251.4 365.7V382.0M246.4 365.7h10M246.4 382.0h10M218.2 372.6V398.6M213.2 372.6h10M213.2 398.6h10M300.4 307.2V332.9M295.4 307.2h10M295.4 332.9h10M277.7 326.2V350.7M272.7 326.2h10M272.7 350.7h10M161.4 439.4V449.0M156.4 439.4h10M156.4 449.0h10M209.5 391.4V409.7M204.5 391.4h10M204.5 409.7h10M178.5 423.2V434.8M173.5 423.2h10M173.5 434.8h10M262.7 329.3V349.5M257.7 329.3h10M257.7 349.5h10M275.5 324.3V354.0M270.5 324.3h10M270.5 354.0h10M305.8 309.4V338.7M300.8 309.4h10M300.8 338.7h10M282.5 334.6V357.4M277.5 334.6h10M277.5 357.4h10M227.7 367.6V391.5M222.7 367.6h10M222.7 391.5h10M175.5 429.2V440.4M170.5 429.2h10M170.5 440.4h10M318.1 300.4V334.0M313.1 300.4h10M313.1 334.0h10M294.8 317.5V346.2M289.8 317.5h10M289.8 346.2h10M281.6 325.5V352.6M276.6 325.5h10M276.6 352.6h10M163.9 441.8V447.4M158.9 441.8h10M158.9 447.4h10M221.0 381.2V393.2M216.0 381.2h10M216.0 393.2h10M292.5 305.4V356.8M287.5 305.4h10M287.5 356.8h10M213.0 383.6V394.4M208.0 383.6h10M208.0 394.4h10M224.1 377.3V390.3M219.1 377.3h10M219.1 390.3h10M221.6 369.6V393.8M216.6 369.6h10M216.6 393.8h10M214.4 386.1V402.2M209.4 386.1h10M209.4 402.2h10M223.3 382.2V401.6M218.3 382.2h10M218.3 401.6h10M242.4 356.1V375.3M237.4 356.1h10M237.4 375.3h10M277.5 330.3V355.8M272.5 330.3h10M272.5 355.8h10M227.8 372.3V389.4M222.8 372.3h10M222.8 389.4h10M321.3 293.5V326.9M316.3 293.5h10M316.3 326.9h10M292.3 318.5V344.2M287.3 318.5h10M287.3 344.2h10M164.4 443.5V452.8M159.4 443.5h10M159.4 452.8h10M228.1 372.6V395.4M223.1 372.6h10M223.1 395.4h10M237.2 350.8V366.7M232.2 350.8h10M232.2 366.7h10M156.1 452.5V457.0M151.1 452.5h10M151.1 457.0h10M242.7 364.6V381.3M237.7 364.6h10M237.7 381.3h10M246.2 353.6V372.7M241.2 353.6h10M241.2 372.7h10M176.5 424.9V438.4M171.5 424.9h10M171.5 438.4h10M267.7 337.0V364.6M262.7 337.0h10M262.7 364.6h10M196.3 405.1V419.8M191.3 405.1h10M191.3 419.8h10M232.2 369.0V383.2M227.2 369.0h10M227.2 383.2h10M248.3 358.4V383.4M243.3 358.4h10M243.3 383.4h10M192.5 408.2V425.7M187.5 408.2h10M187.5 425.7h10M267.3 335.0V357.5M262.3 335.0h10M262.3 357.5h10M236.2 362.8V388.1M231.2 362.8h10M231.2 388.1h10M299.7 303.1V336.4M294.7 303.1h10M294.7 336.4h10M309.6 309.7V337.1M304.6 309.7h10M304.6 337.1h10M288.7 325.1V355.1M283.7 325.1h10M283.7 355.1h10M270.6 323.8V352.8M265.6 323.8h10M265.6 352.8h10M201.6 393.3V409.7M196.6 393.3h10M196.6 409.7h10M199.4 399.8V410.8M194.4 399.8h10M194.4 410.8h10M206.0 390.8V401.9M201.0 390.8h10M201.0 401.9h10M241.2 363.9V383.4M236.2 363.9h10M236.2 383.4h10M332.9 280.3V311.3M327.9 280.3h10M327.9 311.3h10M247.2 359.1V373.8M242.2 359.1h10M242.2 373.8h10M252.0 352.8V370.4M247.0 352.8h10M247.0 370.4h10M190.0 406.7V424.2M185.0 406.7h10M185.0 424.2h10M177.2 422.4V433.8M172.2 422.4h10M172.2 433.8h10M248.2 358.7V372.6M243.2 358.7h10M243.2 372.6h10M254.0 345.7V359.4M249.0 345.7h10M249.0 359.4h10M256.2 360.2V375.5M251.2 360.2h10M251.2 375.5h10M297.9 318.1V337.2M292.9 318.1h10M292.9 337.2h10M225.3 385.5V398.1M220.3 385.5h10M220.3 398.1h10M186.8 415.3V429.4M181.8 415.3h10M181.8 429.4h10M188.1 417.4V426.5M183.1 417.4h10M183.1 426.5h10M215.7 378.5V399.1M210.7 378.5h10M210.7 399.1h10M188.6 408.0V424.4M183.6 408.0h10M183.6 424.4h10M317.3 312.6V335.1M312.3 312.6h10M312.3 335.1h10M235.1 362.3V383.3M230.1 362.3h10M230.1 383.3h10M183.3 420.0V434.5M178.3 420.0h10M178.3 434.5h10M192.5 413.4V423.9M187.5 413.4h10M187.5 423.9h10M280.9 333.9V359.4M275.9 333.9h10M275.9 359.4h10M235.8 359.0V372.0M230.8 359.0h10M230.8 372.0h10M280.4 331.9V349.0M275.4 331.9h10M275.4 349.0h10M233.7 366.0V380.1M228.7 366.0h10M228.7 380.1h10M234.6 356.4V397.0M229.6 356.4h10M229.6 397.0h10M179.2 421.4V435.9M174.2 421.4h10M174.2 435.9h10M292.1 314.3V345.9M287.1 314.3h10M287.1 345.9h10M235.1 365.1V380.0M230.1 365.1h10M230.1 380.0h10M187.6 404.0V420.8M182.6 404.0h10M182.6 420.8h10M168.5 432.9V439.1M163.5 432.9h10M163.5 439.1h10M294.4 305.2V337.5M289.4 305.2h10M289.4 337.5h10M178.9 424.2V437.5M173.9 424.2h10M173.9 437.5h10M252.5 348.7V374.8M247.5 348.7h10M247.5 374.8h10M304.2 323.2V340.1M299.2 323.2h10M299.2 340.1h10M278.9 326.9V345.0M273.9 326.9h10M273.9 345.0h10M278.2 336.8V351.8M273.2 336.8h10M273.2 351.8h10M216.3 388.3V402.1M211.3 388.3h10M211.3 402.1h10M228.4 375.1V387.0M223.4 375.1h10M223.4 387.0h10M201.8 403.0V415.5M196.8 403.0h10M196.8 415.5h10M191.2 407.4V424.5M186.2 407.4h10M186.2 424.5h10M189.6 416.3V425.3M184.6 416.3h10M184.6 425.3h10M187.8 406.4V420.3M182.8 406.4h10M182.8 420.3h10M242.2 358.4V383.5M237.2 358.4h10M237.2 383.5h10M200.0 395.5V407.4M195.0 395.5h10M195.0 407.4h10M185.6 415.3V427.0M180.6 415.3h10M180.6 427.0h10M236.5 356.6V376.0M231.5 356.6h10M231.5 376.0h10M172.4 431.0V439.0M167.4 431.0h10M167.4 439.0h10M273.8 321.2V351.9M268.8 321.2h10M268.8 351.9h10M275.5 333.4V358.3M270.5 333.4h10M270.5 358.3h10M300.4 314.5V347.6M295.4 314.5h10M295.4 347.6h10M223.4 371.7V391.2M218.4 371.7h10M218.4 391.2h10M218.4 379.9V400.2M213.4 379.9h10M213.4 400.2h10M271.8 336.6V366.9M266.8 336.6h10M266.8 366.9h10M231.0 361.9V378.9M226.0 361.9h10M226.0 378.9h10M213.6 382.7V402.4M208.6 382.7h10M208.6 402.4h10M210.2 382.7V395.0M205.2 382.7h10M205.2 395.0h10M177.0 421.2V434.4M172.0 421.2h10M172.0 434.4h10M266.1 340.9V368.3M261.1 340.9h10M261.1 368.3h10M219.0 381.3V402.7M214.0 381.3h10M214.0 402.7h10M201.2 397.2V415.6M196.2 397.2h10M196.2 415.6h10M226.1 379.7V392.3M221.1 379.7h10M221.1 392.3h10M227.2 372.1V395.2M222.2 372.1h10M222.2 395.2h10M272.4 340.6V362.4M267.4 340.6h10M267.4 362.4h10M245.0 359.6V383.2M240.0 359.6h10M240.0 383.2h10M258.2 352.2V374.4M253.2 352.2h10M253.2 374.4h10M196.1 404.7V417.0M191.1 404.7h10M191.1 417.0h10M244.4 355.6V382.2M239.4 355.6h10M239.4 382.2h10M194.2 408.0V417.9M189.2 408.0h10M189.2 417.9h10M263.5 346.8V367.0M258.5 346.8h10M258.5 367.0h10M299.3 310.7V327.4M294.3 310.7h10M294.3 327.4h10M237.9 370.3V387.4M232.9 370.3h10M232.9 387.4h10M226.1 381.1V397.0M221.1 381.1h10M221.1 397.0h10M237.7 366.6V391.7M232.7 366.6h10M232.7 391.7h10M254.5 337.4V361.9M249.5 337.4h10M249.5 361.9h10M175.1 423.4V436.5M170.1 423.4h10M170.1 436.5h10M248.1 347.7V371.7M243.1 347.7h10M243.1 371.7h10M256.4 348.8V373.1M251.4 348.8h10M251.4 373.1h10M254.1 346.5V372.7M249.1 346.5h10M249.1 372.7h10M192.6 399.9V409.4M187.6 399.9h10M187.6 409.4h10M192.7 405.8V421.2M187.7 405.8h10M187.7 421.2h10M305.7 306.8V334.3M300.7 306.8h10M300.7 334.3h10M322.9 291.8V313.7M317.9 291.8h10M317.9 313.7h10M244.2 365.8V383.9M239.2 365.8h10M239.2 383.9h10M154.7 449.8V453.9M149.7 449.8h10M149.7 453.9h10M211.6 376.6V395.7M206.6 376.6h10M206.6 395.7h10M215.0 387.1V405.2M210.0 387.1h10M210.0 405.2h10M237.4 360.0V385.3M232.4 360.0h10M232.4 385.3h10M272.1 336.3V360.1M267.1 336.3h10M267.1 360.1h10M243.0 363.3V376.3M238.0 363.3h10M238.0 376.3h10M229.8 372.2V391.7M224.8 372.2h10M224.8 391.7h10M205.7 386.3V405.9M200.7 386.3h10M200.7 405.9h10M307.4 294.0V344.7M302.4 294.0h10M302.4 344.7h10M309.7 303.6V332.1M304.7 303.6h10M304.7 332.1h10M173.1 429.1V438.1M168.1 429.1h10M168.1 438.1h10M282.1 332.4V354.2M277.1 332.4h10M277.1 354.2h10M255.8 367.7V381.7M250.8 367.7h10M250.8 381.7h10M304.0 301.5V334.0M299.0 301.5h10M299.0 334.0h10M221.9 378.7V396.0M216.9 378.7h10M216.9 396.0h10M314.8 292.6V325.5M309.8 292.6h10M309.8 325.5h10M245.5 354.0V372.0M240.5 354.0h10M240.5 372.0h10M211.2 388.3V404.7M206.2 388.3h10M206.2 404.7h10M238.5 357.4V381.2M233.5 357.4h10M233.5 381.2h10M193.8 396.5V412.8M188.8 396.5h10M188.8 412.8h10M199.7 400.2V416.5M194.7 400.2h10M194.7 416.5h10M238.8 353.6V379.6M233.8 353.6h10M233.8 379.6h10M280.2 331.3V359.7M275.2 331.3h10M275.2 359.7h10M173.8 427.0V437.9M168.8 427.0h10M168.8 437.9h10M239.2 360.1V386.1M234.2 360.1h10M234.2 386.1h10M234.2 360.2V382.1M229.2 360.2h10M229.2 382.1h10M206.0 385.8V400.2M201.0 385.8h10M201.0 400.2h10M250.8 348.5V373.7M245.8 348.5h10M245.8 373.7h10M226.8 374.7V394.5M221.8 374.7h10M221.8 394.5h10M263.1 339.2V360.4M258.1 339.2h10M258.1 360.4h10M285.6 322.6V339.6M280.6 322.6h10M280.6 339.6h10M229.9 371.2V385.4M224.9 371.2h10M224.9 385.4h10M237.7 358.9V376.3M232.7 358.9h10M232.7 376.3h10M188.1 415.2V427.3M183.1 415.2h10M183.1 427.3h10M241.4 359.6V383.6M236.4 359.6h10M236.4 383.6h10M169.9 430.9V441.7M164.9 430.9h10M164.9 441.7h10M233.5 364.7V389.9M228.5 364.7h10M228.5 389.9h10M286.9 323.9V350.6M281.9 323.9h10M281.9 350.6h10M149.0 458.6V463.2M144.0 458.6h10M144.0 463.2h10M303.9 307.1V328.2M298.9 307.1h10M298.9 328.2h10M277.4 332.6V353.8M272.4 332.6h10M272.4 353.8h10M267.5 330.6V359.1M262.5 330.6h10M262.5 359.1h10M239.4 372.5V389.1M234.4 372.5h10M234.4 389.1h10M207.2 388.0V404.6M202.2 388.0h10M202.2 404.6h10M193.5 403.7V417.2M188.5 403.7h10M188.5 417.2h10M282.5 321.6V347.9M277.5 321.6h10M277.5 347.9h10M218.0 382.7V394.3M213.0 382.7h10M213.0 394.3h10M257.9 349.7V367.1M252.9 349.7h10M252.9 367.1h10M198.7 409.8V419.7M193.7 409.8h10M193.7 419.7h10M227.8 367.6V391.1M222.8 367.6h10M222.8 391.1h10M307.6 299.1V317.4M302.6 299.1h10M302.6 317.4h10M244.3 350.8V378.2M239.3 350.8h10M239.3 378.2h10M176.6 425.6V439.3M171.6 425.6h10M171.6 439.3h10M289.7 324.1V343.2M284.7 324.1h10M284.7 343.2h10M187.6 417.6V428.5M182.6 417.6h10M182.6 428.5h10M230.0 357.9V373.4M225.0 357.9h10M225.0 373.4h10M234.9 368.6V389.7M229.9 368.6h10M229.9 389.7h10M203.4 398.9V412.6M198.4 398.9h10M198.4 412.6h10M296.1 313.6V331.5M291.1 313.6h10M291.1 331.5h10M189.4 405.0V416.3M184.4 405.0h10M184.4 416.3h10M181.8 422.4V436.1M176.8 422.4h10M176.8 436.1h10M222.2 377.9V399.8M217.2 377.9h10M217.2 399.8h10M224.8 377.7V400.0M219.8 377.7h10M219.8 400.0h10M214.0 397.5V411.7M209.0 397.5h10M209.0 411.7h10M229.8 361.6V387.9M224.8 361.6h10M224.8 387.9h10M309.0 308.7V335.3M304.0 308.7h10M304.0 335.3h10M292.2 319.3V341.1M287.2 319.3h10M287.2 341.1h10M195.3 395.9V411.8M190.3 395.9h10M190.3 411.8h10M253.3 344.4V359.5M248.3 344.4h10M248.3 359.5h10M209.9 384.5V403.9M204.9 384.5h10M204.9 403.9h10M266.5 333.4V352.1M261.5 333.4h10M261.5 352.1h10M266.1 330.5V359.4M261.1 330.5h10M261.1 359.4h10M293.1 329.6V346.1M288.1 329.6h10M288.1 346.1h10M307.8 308.6V338.1M302.8 308.6h10M302.8 338.1h10M151.0 456.3V463.0M146.0 456.3h10M146.0 463.0h10M229.1 363.1V387.0M224.1 363.1h10M224.1 387.0h10M246.1 356.7V380.6M241.1 356.7h10M241.1 380.6h10M241.5 358.8V372.0M236.5 358.8h10M236.5 372.0h10M706.0 75.8V147.2M701.0 75.8h10M701.0 147.2h10M618.0 153.5V222.4M613.0 153.5h10M613.0 222.4h10M590.1 138.9V197.0M585.1 138.9h10M585.1 197.0h10M564.1 148.0V221.0M559.1 148.0h10M559.1 221.0h10M543.6 160.7V224.1M538.6 160.7h10M538.6 224.1h10M526.7 142.5V190.0M521.7 142.5h10M521.7 190.0h10M525.0 156.8V229.3M520.0 156.8h10M520.0 229.3h10M493.5 200.3V307.1M488.5 200.3h10M488.5 307.1h10M486.8 181.7V246.0M481.8 181.7h10M481.8 246.0h10M465.8 127.8V239.9M460.8 127.8h10M460.8 239.9h10M464.0 168.7V220.0M459.0 168.7h10M459.0 220.0h10M470.8 174.0V233.8M465.8 174.0h10M465.8 233.8h10M476.9 186.7V263.4M471.9 186.7h10M471.9 263.4h10M478.3 187.3V229.3M473.3 187.3h10M473.3 229.3h10M474.1 200.0V245.0M469.1 200.0h10M469.1 245.0h10M447.8 154.1V205.3M442.8 154.1h10M442.8 205.3h10M447.0 205.3V296.0M442.0 205.3h10M442.0 296.0h10M419.1 205.8V244.0M414.1 205.8h10M414.1 244.0h10M400.8 176.8V258.7M395.8 176.8h10M395.8 258.7h10M395.8 167.9V234.0M390.8 167.9h10M390.8 234.0h10M393.3 230.0V296.6M388.3 230.0h10M388.3 296.6h10M392.5 212.0V240.0M387.5 212.0h10M387.5 240.0h10M382.3 228.8V259.8M377.3 228.8h10M377.3 259.8h10M372.6 280.8V309.0M367.6 280.8h10M367.6 309.0h10M351.8 259.8V298.5M346.8 259.8h10M346.8 298.5h10M348.2 285.0V313.0M343.2 285.0h10M343.2 313.0h10M348.2 298.0V326.0M343.2 298.0h10M343.2 326.0h10M348.7 259.3V333.5M343.7 259.3h10M343.7 333.5h10M348.7 280.0V320.0M343.7 280.0h10M343.7 320.0h10M337.6 300.0V349.7M332.6 300.0h10M332.6 349.7h10M203.0 361.6V395.0M198.0 361.6h10M198.0 395.0h10M245.0 319.0V357.0M240.0 319.0h10M240.0 357.0h10M254.0 327.0V350.0M249.0 327.0h10M249.0 350.0h10M308.0 275.7V322.0M303.0 275.7h10M303.0 322.0h10M320.0 256.9V310.0M315.0 256.9h10M315.0 310.0h10M333.0 257.0V320.0M328.0 257.0h10M328.0 320.0h10M298.0 330.0V368.6M293.0 330.0h10M293.0 368.6h10M275.0 345.0V376.5M270.0 345.0h10M270.0 376.5h10M282.0 348.0V376.0M277.0 348.0h10M277.0 376.0h10" stroke="#000" stroke-width="2.1" fill="none"/><path d="M140.9 471.4h0M149.9 459.4h0M152.4 457.7h0M138.5 474.1h0M141.4 468.7h0M160.4 446.9h0M139.5 472.3h0M140.9 470.5h0M160.9 447.4h0M152.9 454.7h0M146.8 464.4h0M150.2 460.0h0M153.9 456.8h0M144.5 468.0h0M141.1 471.8h0M157.0 455.5h0M154.1 455.5h0M150.3 459.7h0M157.7 451.0h0M151.1 454.8h0M161.7 450.5h0M142.7 467.7h0M151.3 459.4h0M149.6 459.1h0M146.4 463.5h0M152.2 457.1h0M143.5 466.9h0M157.3 455.3h0M158.9 453.2h0M140.9 471.4h0M149.1 461.0h0M144.5 465.7h0M139.8 472.3h0M159.6 450.2h0M148.2 462.1h0M141.4 470.9h0M154.2 455.3h0M142.7 470.5h0M159.7 446.0h0M143.1 467.9h0M138.6 473.3h0M142.7 467.9h0M146.2 465.0h0M149.2 462.7h0M159.9 445.9h0M154.8 458.3h0M146.0 466.5h0M138.2 475.0h0M141.7 469.7h0M162.1 445.7h0M149.0 462.1h0M154.6 455.0h0M139.1 472.2h0M138.6 473.5h0M158.4 450.1h0M152.1 457.5h0M145.3 464.9h0M145.5 466.0h0M139.9 473.0h0M142.0 470.3h0M138.4 473.9h0M158.2 449.4h0M149.1 459.3h0M140.9 472.2h0M155.8 454.9h0M142.5 468.9h0M139.3 473.7h0M152.4 460.1h0M159.6 448.8h0M138.4 474.8h0M157.4 452.3h0M142.4 469.9h0M140.0 471.7h0M138.2 474.7h0M144.9 466.6h0M155.5 455.5h0M149.8 458.3h0M158.6 452.0h0M143.1 468.3h0M145.4 464.7h0M144.1 469.2h0M161.6 449.0h0M160.7 446.4h0M146.1 465.3h0M148.4 462.5h0M145.4 464.4h0M156.0 451.5h0M138.7 474.2h0M139.4 472.9h0M147.6 461.5h0M143.7 467.3h0M158.4 450.2h0M155.8 450.2h0M151.1 459.0h0M153.9 455.9h0M154.6 455.0h0M156.8 452.3h0M160.4 446.4h0M141.4 470.4h0M153.0 457.6h0M141.3 470.4h0M148.6 461.1h0M156.9 451.0h0M159.6 450.8h0M156.3 453.3h0M138.6 473.7h0M146.5 462.2h0M141.7 468.8h0M162.1 448.4h0M141.3 471.2h0M143.7 466.4h0M146.5 465.6h0M139.2 472.3h0M159.0 450.7h0M153.3 455.6h0M141.7 470.8h0M149.9 458.2h0M139.7 471.3h0M152.7 457.9h0M143.4 468.8h0M138.7 473.9h0M140.6 472.3h0M151.3 461.7h0M153.3 456.2h0M145.7 466.2h0M153.4 456.3h0M146.3 462.6h0M140.9 472.0h0M145.4 465.5h0M147.4 465.8h0M160.0 448.0h0M140.6 473.1h0M139.9 473.0h0M151.5 459.8h0M161.3 445.7h0M159.9 447.7h0M154.8 455.9h0M139.4 472.5h0M157.4 450.1h0M154.4 455.3h0M141.3 470.5h0M149.1 461.2h0M139.0 473.0h0M157.3 453.9h0M155.3 453.8h0M157.4 450.6h0M156.3 456.2h0M144.3 466.5h0M157.0 450.2h0M143.8 469.4h0M141.1 469.6h0M147.3 464.9h0M149.9 462.2h0M144.7 466.4h0M152.5 457.3h0M152.5 458.2h0M143.6 469.9h0M152.9 457.4h0M146.5 461.8h0M155.7 452.2h0M144.8 465.0h0M157.2 450.8h0M147.9 461.9h0M151.2 459.4h0M154.2 453.0h0M150.4 460.0h0M144.0 466.5h0M161.6 448.3h0M140.1 471.0h0M145.7 465.2h0M151.1 458.1h0M138.5 473.5h0M141.5 469.9h0M157.2 455.4h0M156.9 451.9h0M153.3 452.1h0M159.8 449.7h0M156.2 450.4h0M145.0 467.2h0M153.5 454.7h0M146.0 463.9h0M156.0 452.7h0M147.1 461.6h0M141.5 468.5h0M159.1 450.8h0M154.6 454.2h0M155.9 454.3h0M151.4 457.4h0M156.9 451.0h0M148.7 461.7h0M151.6 462.2h0M139.3 472.7h0M151.3 459.4h0M157.6 451.1h0M155.0 455.2h0M157.3 451.8h0M149.9 462.1h0M159.3 446.1h0M140.4 471.5h0M159.1 451.5h0M146.8 463.7h0M140.0 472.1h0M152.9 452.7h0M148.8 460.7h0M148.2 461.6h0M158.5 451.5h0M141.1 471.8h0M152.8 454.5h0M147.8 460.8h0M150.6 458.9h0M149.9 460.9h0M141.0 472.3h0M150.2 460.6h0M158.8 452.0h0M141.9 470.6h0M138.0 474.6h0M139.4 472.7h0M149.0 462.7h0M161.5 447.1h0M138.8 473.6h0M161.9 446.3h0M150.8 458.6h0M140.7 470.5h0M148.0 460.6h0M142.8 469.7h0M155.2 454.1h0M151.0 459.7h0M144.8 464.5h0M144.0 466.2h0M158.9 449.5h0M156.4 453.2h0M148.4 461.0h0M147.6 462.8h0M155.7 455.0h0M161.4 447.7h0M139.7 473.7h0M141.6 470.0h0M146.6 464.1h0M150.1 461.9h0M139.5 472.6h0M139.1 473.6h0M143.1 468.2h0M147.2 463.7h0M155.8 453.1h0M152.6 455.9h0M138.5 473.9h0M138.9 473.4h0M148.8 461.4h0M159.1 448.8h0M160.1 448.3h0M146.7 466.1h0M159.4 451.6h0M160.4 448.1h0M147.7 463.2h0M156.0 453.9h0M146.7 463.8h0M141.5 471.0h0M151.8 457.3h0M139.9 472.0h0M153.9 459.2h0M157.5 451.1h0M160.1 443.7h0M148.7 464.4h0M140.6 471.1h0M159.8 449.2h0M159.0 452.7h0M161.4 446.2h0M152.2 458.6h0M154.2 454.4h0M146.9 466.2h0M142.2 469.6h0M144.9 468.2h0M155.3 455.9h0M145.7 466.9h0M154.6 454.5h0M150.0 460.7h0M148.7 462.0h0M161.4 447.4h0M141.8 471.1h0M149.6 459.8h0M141.7 469.8h0M160.6 446.8h0M149.7 461.4h0M145.9 464.8h0M141.9 470.6h0M152.2 458.1h0M147.5 463.9h0M140.9 471.3h0M138.5 473.1h0M147.3 463.9h0M152.0 459.9h0M150.4 459.4h0M159.7 449.3h0M160.0 452.8h0M160.6 444.7h0M157.3 451.7h0M149.4 459.1h0M150.5 462.8h0M147.4 462.4h0M147.5 463.0h0M138.8 474.6h0M157.2 454.4h0M143.8 469.2h0M138.5 473.8h0M149.1 459.9h0M155.3 457.8h0M148.4 465.0h0M146.6 464.7h0M153.8 456.0h0M141.7 469.7h0M138.0 473.9h0M152.2 459.1h0M150.7 459.1h0M158.9 449.2h0M147.9 461.5h0M156.9 451.6h0M138.2 473.9h0M138.4 474.1h0M152.4 457.8h0M143.3 469.2h0M139.4 472.5h0M140.9 470.5h0M146.9 465.1h0M146.0 462.8h0M151.5 459.5h0M159.4 446.9h0M146.7 465.2h0M142.2 468.4h0M151.9 458.0h0M137.8 474.6h0M147.1 463.6h0M145.5 462.4h0M147.2 463.6h0M139.0 472.7h0M151.3 458.1h0M153.0 456.9h0M156.0 450.7h0M161.1 452.1h0M146.4 464.6h0M153.8 457.2h0M148.5 460.5h0M143.0 467.6h0M159.4 445.6h0M155.9 452.5h0M160.8 449.0h0M157.8 453.6h0M160.1 452.4h0M140.9 470.8h0M138.1 474.8h0M142.6 468.8h0M147.8 463.2h0M154.5 455.3h0M148.4 462.4h0M150.3 459.6h0M156.3 448.9h0M139.5 473.1h0M154.3 453.8h0M138.9 474.3h0M143.8 467.8h0M155.4 457.0h0M154.4 456.5h0M147.6 463.9h0M144.9 468.1h0M158.0 449.2h0M144.5 467.6h0M138.5 474.0h0M143.8 467.5h0M138.3 473.6h0M157.5 449.3h0M140.7 471.5h0M161.5 441.5h0M142.9 469.0h0M145.2 466.5h0M152.0 457.8h0M145.3 464.3h0M147.0 465.7h0M140.3 472.1h0M147.2 465.1h0M138.4 473.5h0M143.2 469.2h0M159.9 447.4h0M144.6 467.1h0M144.4 467.9h0M154.3 456.2h0M159.3 447.4h0M145.0 466.7h0M146.9 465.7h0M155.2 453.7h0M157.1 453.9h0M152.7 459.6h0M142.1 469.7h0M142.2 469.2h0M156.2 452.0h0M155.0 456.1h0M159.6 449.9h0M156.8 452.9h0M148.0 462.6h0M141.0 469.9h0M159.5 451.4h0M154.7 456.8h0M151.8 457.3h0M154.4 453.2h0M147.1 464.1h0M146.1 464.8h0M151.8 457.5h0M149.5 463.7h0M155.0 455.1h0M160.6 448.8h0M158.4 447.5h0M147.2 463.7h0M146.8 465.1h0M160.4 446.7h0M147.4 463.7h0M157.3 451.5h0M140.0 472.1h0M148.8 460.8h0M150.3 458.7h0M157.5 452.6h0M159.2 450.7h0M141.5 469.1h0M152.8 458.4h0M153.1 458.7h0M141.5 470.5h0M158.1 451.3h0M151.3 458.9h0M161.2 444.6h0M142.3 469.4h0M150.6 460.9h0M145.6 465.4h0M153.4 459.1h0M152.6 457.6h0M150.3 460.8h0M145.7 465.4h0M150.0 461.3h0M146.8 466.3h0M159.5 450.5h0M149.0 458.1h0M149.3 461.1h0M144.1 468.3h0M143.9 468.2h0M161.0 445.3h0M145.4 465.1h0M158.9 449.7h0M152.3 457.0h0M161.7 449.2h0M141.8 469.3h0M160.7 447.5h0M156.6 453.9h0M151.6 459.1h0M155.0 454.6h0M155.4 451.5h0M148.7 459.3h0M153.2 455.9h0M143.3 467.9h0M138.3 474.2h0M154.3 457.4h0M149.3 460.7h0M159.8 446.6h0M144.2 465.0h0M157.7 447.4h0M161.8 447.1h0M159.7 448.3h0M161.3 444.8h0M141.6 470.4h0M141.8 471.0h0M143.3 469.0h0M146.6 463.1h0M140.6 470.8h0M141.4 470.2h0M138.2 473.0h0M160.5 448.7h0M146.6 465.0h0M153.0 457.3h0M148.8 460.6h0M155.9 450.5h0M157.4 453.7h0M147.1 465.3h0M150.8 459.9h0M140.1 470.5h0M144.7 465.3h0M264.5 354.7h0M162.7 444.6h0M293.8 341.0h0M240.8 371.5h0M182.2 421.6h0M216.7 386.0h0M187.2 417.3h0M193.4 408.9h0M264.8 346.4h0M198.8 405.4h0M255.9 357.7h0M213.0 396.8h0M312.9 307.5h0M277.9 350.9h0M225.5 380.6h0M190.8 411.1h0M272.6 355.7h0M232.6 370.8h0M217.5 388.1h0M270.0 344.4h0M237.4 368.6h0M243.1 363.1h0M294.5 315.0h0M252.3 361.2h0M175.8 431.5h0M215.6 390.7h0M169.8 438.1h0M307.2 317.2h0M243.1 363.9h0M232.6 384.5h0M282.4 339.2h0M240.0 368.3h0M271.7 353.2h0M222.5 381.9h0M183.8 427.9h0M308.1 313.8h0M199.5 412.0h0M211.9 395.0h0M267.5 355.1h0M190.6 415.1h0M200.5 404.6h0M220.1 389.1h0M233.5 377.4h0M235.0 374.1h0M287.8 332.7h0M188.7 414.5h0M269.0 351.7h0M331.9 304.5h0M211.8 386.9h0M295.2 332.6h0M238.4 381.8h0M277.5 340.6h0M255.4 360.4h0M212.4 396.2h0M167.8 437.8h0M227.5 374.1h0M278.0 344.8h0M210.0 396.0h0M227.9 378.8h0M316.3 313.7h0M195.5 417.6h0M229.3 366.2h0M172.3 433.2h0M284.9 347.7h0M223.8 384.9h0M304.5 310.8h0M254.8 361.2h0M265.7 349.7h0M287.5 345.1h0M222.0 391.0h0M283.8 334.5h0M216.5 389.5h0M218.9 380.8h0M298.5 320.0h0M266.0 350.4h0M276.6 349.5h0M184.1 420.4h0M294.1 336.8h0M245.5 374.4h0M169.0 442.5h0M170.6 440.2h0M166.2 439.5h0M181.1 428.5h0M177.8 427.0h0M247.3 369.0h0M294.4 320.7h0M204.9 394.0h0M205.7 400.4h0M190.9 412.3h0M298.0 333.4h0M272.0 351.2h0M285.1 336.4h0M252.7 363.1h0M275.8 349.3h0M209.5 402.4h0M245.3 364.7h0M319.2 318.5h0M174.3 429.6h0M206.3 401.6h0M247.7 359.9h0M253.6 358.1h0M192.9 412.3h0M227.4 384.7h0M303.4 311.8h0M232.3 376.5h0M217.9 388.6h0M327.9 300.2h0M180.6 427.5h0M278.6 343.4h0M307.9 316.1h0M189.3 417.3h0M212.4 398.6h0M254.1 361.9h0M317.1 292.0h0M294.3 326.0h0M226.2 378.1h0M242.0 365.3h0M293.0 326.5h0M202.3 409.4h0M242.9 367.0h0M251.7 368.1h0M213.9 399.9h0M215.0 383.1h0M299.0 324.0h0M287.7 330.5h0M282.0 339.0h0M201.9 407.8h0M248.4 366.7h0M301.2 316.6h0M189.5 418.9h0M235.7 381.9h0M264.3 361.0h0M186.8 420.3h0M254.5 358.2h0M243.8 371.4h0M153.2 455.5h0M283.8 333.9h0M242.2 369.8h0M323.6 297.6h0M249.5 367.8h0M167.8 436.4h0M266.7 355.6h0M304.4 318.2h0M239.1 370.7h0M249.9 360.9h0M320.1 310.8h0M233.6 378.8h0M260.7 356.8h0M296.6 315.9h0M226.9 382.4h0M283.9 323.5h0M215.7 391.9h0M192.8 411.2h0M284.0 351.6h0M294.4 324.5h0M246.6 371.8h0M280.4 337.8h0M239.4 378.2h0M298.2 326.3h0M258.0 359.7h0M290.4 327.5h0M216.9 395.2h0M182.1 429.4h0M259.1 346.8h0M258.7 359.6h0M219.9 384.2h0M241.7 370.6h0M206.2 404.7h0M225.9 378.0h0M265.2 346.7h0M246.3 361.7h0M236.2 380.4h0M254.7 372.4h0M236.6 372.3h0M203.4 405.6h0M195.9 412.9h0M301.2 323.4h0M225.5 386.1h0M316.0 306.9h0M212.1 393.4h0M234.6 373.0h0M216.5 396.4h0M253.6 362.1h0M177.5 434.3h0M221.6 384.4h0M219.5 389.0h0M235.9 368.6h0M254.6 362.0h0M208.6 398.2h0M184.9 424.1h0M150.6 459.7h0M202.3 409.8h0M216.1 386.8h0M182.1 422.6h0M238.0 373.7h0M166.0 441.9h0M198.0 407.3h0M276.2 344.7h0M210.4 395.4h0M160.4 448.5h0M203.7 409.9h0M218.0 393.2h0M206.2 390.8h0M248.2 369.5h0M228.3 386.5h0M290.0 346.5h0M288.3 336.4h0M270.9 347.7h0M253.9 354.6h0M240.0 381.4h0M259.9 351.5h0M274.0 348.7h0M269.1 347.5h0M266.3 352.8h0M245.8 374.6h0M273.7 341.8h0M211.8 398.2h0M288.5 337.5h0M215.0 396.9h0M303.0 323.7h0M236.9 372.2h0M186.0 420.8h0M275.9 351.1h0M306.4 311.5h0M207.3 402.9h0M187.5 425.0h0M320.1 316.2h0M287.3 328.3h0M238.0 369.9h0M224.5 386.5h0M259.3 352.7h0M243.1 364.3h0M213.3 391.5h0M247.0 357.3h0M303.2 320.3h0M315.2 321.5h0M180.4 425.9h0M194.4 415.1h0M167.6 438.8h0M233.2 386.6h0M198.6 402.7h0M218.9 377.6h0M290.2 337.3h0M229.2 374.2h0M278.9 349.7h0M197.9 404.4h0M307.3 303.9h0M253.5 357.2h0M255.7 361.5h0M230.1 376.5h0M300.7 328.0h0M254.1 355.7h0M210.3 399.8h0M292.5 334.3h0M174.0 439.0h0M215.9 395.3h0M241.0 368.5h0M194.0 413.6h0M278.1 336.6h0M227.3 387.2h0M241.4 378.3h0M260.3 352.9h0M256.7 362.5h0M184.5 429.3h0M235.1 380.7h0M194.7 403.6h0M238.8 382.7h0M259.7 352.5h0M270.7 344.5h0M201.2 416.2h0M259.9 340.9h0M258.7 363.7h0M229.0 376.1h0M249.3 372.8h0M212.6 392.7h0M186.2 419.3h0M234.3 371.3h0M201.8 409.4h0M321.9 297.3h0M209.2 405.6h0M209.4 402.4h0M205.2 406.2h0M288.4 341.4h0M277.8 357.5h0M226.8 384.0h0M259.4 361.8h0M154.8 453.3h0M187.0 411.3h0M266.3 346.2h0M283.3 335.1h0M179.4 426.3h0M269.2 347.8h0M256.0 361.0h0M264.7 351.0h0M317.4 299.2h0M219.4 379.7h0M298.1 314.0h0M249.4 372.9h0M213.0 396.9h0M191.2 417.4h0M255.9 357.6h0M201.6 411.4h0M212.8 386.7h0M167.8 442.8h0M317.5 316.6h0M318.4 310.7h0M286.6 334.9h0M194.1 411.1h0M259.1 354.2h0M241.5 371.3h0M219.5 386.9h0M232.3 372.0h0M233.9 384.9h0M267.7 352.1h0M192.1 413.1h0M255.2 364.3h0M207.5 396.8h0M192.2 408.3h0M267.4 358.2h0M258.8 351.1h0M175.6 436.5h0M290.3 334.3h0M302.5 321.6h0M330.8 303.5h0M245.9 366.2h0M247.9 361.5h0M269.1 358.9h0M166.7 440.3h0M177.0 427.1h0M200.9 410.5h0M187.1 418.4h0M178.4 428.4h0M219.2 388.8h0M162.3 449.2h0M249.5 368.8h0M303.2 314.4h0M178.7 429.0h0M234.9 382.3h0M154.9 456.5h0M212.1 394.3h0M156.0 453.1h0M261.3 364.1h0M229.9 373.9h0M170.8 436.7h0M260.4 361.7h0M234.0 367.1h0M249.0 373.0h0M208.5 397.8h0M227.2 383.6h0M219.5 388.1h0M275.8 334.1h0M190.5 416.9h0M198.9 407.8h0M173.0 428.7h0M173.7 428.1h0M197.0 415.0h0M282.8 323.7h0M186.7 423.0h0M158.7 449.8h0M297.6 317.3h0M150.9 459.3h0M162.9 449.0h0M326.6 318.3h0M301.1 331.3h0M227.1 379.3h0M247.6 365.0h0M187.9 419.3h0M253.9 371.3h0M203.8 400.5h0M294.3 323.8h0M154.0 456.9h0M229.3 380.4h0M272.8 361.5h0M187.4 419.1h0M177.8 428.6h0M252.6 361.5h0M199.9 399.9h0M265.5 351.1h0M214.2 389.3h0M214.8 387.7h0M277.3 339.4h0M293.1 337.3h0M321.8 312.3h0M238.5 377.8h0M217.0 390.0h0M269.8 351.0h0M235.0 367.5h0M216.4 397.1h0M311.6 309.7h0M218.3 389.5h0M197.6 403.3h0M210.7 395.3h0M274.1 349.4h0M192.8 414.2h0M238.8 375.4h0M204.4 399.1h0M194.8 409.6h0M180.6 424.5h0M211.6 396.7h0M279.9 343.3h0M265.8 351.5h0M167.9 437.8h0M267.4 351.0h0M204.7 401.2h0M169.5 443.3h0M178.3 427.1h0M286.9 331.1h0M224.0 381.9h0M225.3 390.8h0M219.4 385.9h0M293.2 335.6h0M221.2 387.5h0M257.8 357.5h0M277.3 338.5h0M306.9 323.4h0M215.3 388.1h0M292.6 328.6h0M269.1 333.6h0M300.3 324.8h0M191.7 420.0h0M245.5 364.6h0M251.7 360.5h0M227.1 383.2h0M263.1 352.9h0M151.0 459.6h0M270.2 344.8h0M313.6 312.4h0M260.7 347.7h0M247.6 373.4h0M264.9 353.2h0M219.4 383.6h0M214.6 394.2h0M218.9 386.3h0M175.5 437.1h0M251.9 352.3h0M167.5 436.5h0M229.9 382.5h0M223.9 386.5h0M209.4 392.1h0M220.0 384.6h0M229.4 380.9h0M224.7 385.4h0M206.6 387.3h0M264.7 357.3h0M253.3 367.4h0M164.8 440.5h0M280.8 348.9h0M239.2 376.3h0M238.6 358.7h0M272.5 348.8h0M247.4 367.9h0M293.2 323.1h0M305.1 322.0h0M182.6 418.5h0M176.7 427.1h0M189.1 416.2h0M240.8 375.4h0M174.9 430.0h0M163.8 448.5h0M204.4 401.6h0M175.9 434.0h0M200.3 404.9h0M266.1 349.4h0M238.7 362.9h0M174.4 429.4h0M301.9 321.8h0M200.4 403.7h0M293.8 330.0h0M329.2 308.0h0M192.9 410.1h0M285.1 340.2h0M203.5 409.3h0M262.5 359.3h0M273.8 340.7h0M274.1 355.1h0M280.1 341.2h0M189.2 419.6h0M197.1 408.1h0M199.7 405.5h0M198.0 406.3h0M245.1 375.0h0M237.9 369.8h0M245.6 368.5h0M291.3 331.3h0M304.6 323.3h0M324.3 307.8h0M201.8 401.3h0M282.4 336.7h0M313.4 312.1h0M209.4 392.9h0M276.6 335.4h0M286.6 335.9h0M280.4 349.0h0M280.0 328.9h0M203.4 403.3h0M283.1 341.4h0M232.3 369.5h0M258.3 356.1h0M206.6 398.5h0M198.4 415.5h0M290.9 338.8h0M225.7 388.5h0M211.4 389.0h0M247.0 369.2h0M286.4 324.3h0M245.7 366.6h0M315.6 321.9h0M235.9 370.8h0M247.5 364.6h0M213.0 406.9h0M242.3 364.9h0M221.9 378.5h0M252.1 359.8h0M184.7 427.2h0M278.9 339.9h0M202.5 396.7h0M226.3 383.5h0M262.4 346.5h0M260.1 359.6h0M238.3 372.3h0M220.2 372.9h0M261.7 364.9h0M235.6 372.9h0M268.0 352.8h0M206.4 392.9h0M239.5 370.4h0M252.8 370.4h0M185.7 418.4h0M281.4 339.1h0M264.3 348.0h0M234.5 375.5h0M262.2 354.6h0M247.8 359.9h0M274.3 353.8h0M247.4 362.3h0M268.9 352.3h0M291.7 329.8h0M259.7 360.0h0M281.8 337.6h0M290.0 334.3h0M288.0 331.9h0M274.8 349.2h0M329.6 301.3h0M320.3 303.9h0M219.8 381.1h0M150.6 461.4h0M243.3 365.4h0M295.1 344.1h0M239.3 361.7h0M221.7 384.9h0M294.2 328.8h0M203.2 405.8h0M268.2 355.6h0M259.7 358.9h0M256.0 357.8h0M213.0 391.9h0M235.0 359.5h0M156.8 454.7h0M244.1 369.4h0M298.9 334.1h0M228.3 381.5h0M263.3 370.8h0M272.1 361.3h0M269.7 355.5h0M204.2 406.4h0M201.0 409.9h0M221.2 380.8h0M205.1 394.0h0M274.2 342.2h0M204.8 399.0h0M200.2 408.0h0M208.8 399.6h0M250.8 364.0h0M269.3 348.4h0M209.3 402.5h0M212.3 392.3h0M245.7 369.2h0M269.5 334.5h0M185.5 424.6h0M197.3 406.3h0M254.5 360.5h0M154.5 454.3h0M280.3 359.4h0M208.9 403.8h0M250.8 359.6h0M220.8 391.7h0M247.2 370.7h0M195.7 413.1h0M208.4 396.4h0M167.3 441.3h0M201.1 402.2h0M199.2 402.4h0M260.2 362.3h0M268.0 348.8h0M323.2 305.3h0M216.4 389.3h0M218.0 394.2h0M230.4 377.4h0M223.5 380.2h0M272.9 341.0h0M224.8 379.5h0M226.6 377.8h0M239.9 375.0h0M247.8 365.7h0M251.2 377.8h0M242.2 364.3h0M271.0 347.1h0M239.3 369.6h0M256.4 356.6h0M253.3 354.6h0M229.3 377.9h0M236.3 375.1h0M214.4 389.3h0M306.6 327.2h0M239.8 365.7h0M277.9 343.1h0M260.6 355.6h0M257.5 358.5h0M184.7 413.9h0M209.2 391.0h0M219.0 395.9h0M170.2 438.0h0M289.3 325.8h0M287.8 332.2h0M255.4 372.7h0M257.1 353.0h0M223.9 375.5h0M198.6 406.0h0M245.5 366.9h0M308.8 331.2h0M229.7 370.2h0M265.7 349.3h0M192.1 415.0h0M272.3 341.4h0M201.6 402.2h0M175.1 428.5h0M218.5 386.4h0M176.9 429.0h0M212.1 406.4h0M171.7 432.7h0M187.1 419.6h0M187.7 423.2h0M286.9 340.7h0M306.7 300.1h0M268.4 363.7h0M266.9 357.0h0M244.4 364.5h0M190.7 410.2h0M259.4 362.7h0M201.1 397.1h0M292.6 332.4h0M189.7 413.1h0M187.9 418.4h0M250.1 367.0h0M272.1 344.4h0M237.8 377.8h0M232.1 371.4h0M311.3 307.0h0M317.1 307.7h0M171.2 435.7h0M175.4 426.9h0M188.1 420.4h0M257.4 360.0h0M201.7 404.8h0M178.3 431.5h0M236.3 368.7h0M216.3 393.6h0M238.9 376.0h0M277.4 342.5h0M291.7 331.2h0M183.2 418.0h0M224.0 387.9h0M251.3 370.1h0M206.6 402.9h0M207.3 394.8h0M211.8 389.9h0M206.9 405.6h0M249.0 361.5h0M283.9 339.9h0M189.4 413.4h0M258.0 353.7h0M251.6 354.6h0M193.7 412.2h0M232.2 379.6h0M305.7 311.6h0M317.1 313.9h0M181.5 420.7h0M206.5 404.3h0M258.4 355.9h0M255.3 358.5h0M238.2 377.4h0M256.4 356.9h0M205.0 404.2h0M213.2 387.0h0M267.9 351.5h0M210.1 398.9h0M249.5 362.6h0M263.6 350.2h0M268.3 353.7h0M183.5 423.9h0M182.7 422.0h0M174.3 435.0h0M213.4 401.4h0M228.7 372.2h0M222.1 391.0h0M241.4 370.4h0M231.6 376.6h0M251.1 366.3h0M169.2 443.0h0M226.2 387.7h0M190.8 417.4h0M244.4 365.1h0M202.3 408.4h0M256.2 369.0h0M276.4 351.6h0M256.6 358.4h0M271.3 359.9h0M246.8 368.8h0M334.4 311.0h0M275.2 354.2h0M317.2 307.1h0M225.1 383.2h0M197.0 414.2h0M261.5 350.7h0M193.6 403.2h0M173.2 429.1h0M267.2 351.5h0M206.2 397.5h0M200.9 396.7h0M246.1 364.4h0M175.2 429.6h0M238.7 371.2h0M257.6 352.2h0M286.4 348.8h0M314.4 305.5h0M274.8 352.5h0M276.3 352.7h0M258.5 352.1h0M248.9 361.9h0M222.2 381.6h0M225.7 392.6h0M270.0 349.4h0M270.5 346.2h0M205.5 403.4h0M244.2 369.4h0M270.5 343.5h0M202.5 407.9h0M177.3 427.3h0M297.2 334.6h0M232.0 379.3h0M190.7 415.3h0M210.8 399.5h0M230.5 377.8h0M279.1 339.5h0M243.8 361.6h0M186.0 422.6h0M240.3 361.9h0M269.8 357.8h0M294.0 329.9h0M254.4 360.5h0M251.4 373.9h0M218.2 385.6h0M300.4 320.1h0M277.7 338.4h0M161.4 444.2h0M209.5 400.5h0M178.5 429.0h0M262.7 339.4h0M275.5 339.2h0M305.8 324.1h0M282.5 346.0h0M227.7 379.5h0M175.5 434.8h0M318.1 317.2h0M294.8 331.8h0M281.6 339.1h0M163.9 444.6h0M221.0 387.2h0M292.5 331.1h0M213.0 389.0h0M224.1 383.8h0M221.6 381.7h0M214.4 394.1h0M223.3 391.9h0M242.4 365.7h0M277.5 343.1h0M227.8 380.8h0M321.3 310.2h0M292.3 331.4h0M164.4 448.1h0M228.1 384.0h0M237.2 358.8h0M156.1 454.8h0M242.7 372.9h0M246.2 363.2h0M176.5 431.6h0M267.7 350.8h0M196.3 412.5h0M232.2 376.1h0M248.3 370.9h0M192.5 416.9h0M267.3 346.2h0M236.2 375.4h0M299.7 319.8h0M309.6 323.4h0M288.7 340.1h0M270.6 338.3h0M201.6 401.5h0M199.4 405.3h0M206.0 396.4h0M241.2 373.7h0M332.9 295.8h0M247.2 366.5h0M252.0 361.6h0M190.0 415.5h0M177.2 428.1h0M248.2 365.7h0M254.0 352.6h0M256.2 367.8h0M297.9 327.6h0M225.3 391.8h0M186.8 422.4h0M188.1 422.0h0M215.7 388.8h0M188.6 416.2h0M317.3 323.9h0M235.1 372.8h0M183.3 427.2h0M192.5 418.6h0M280.9 346.6h0M235.8 365.5h0M280.4 340.5h0M233.7 373.0h0M234.6 376.7h0M179.2 428.7h0M292.1 330.1h0M235.1 372.5h0M187.6 412.4h0M168.5 436.0h0M294.4 321.4h0M178.9 430.9h0M252.5 361.8h0M304.2 331.7h0M278.9 336.0h0M278.2 344.3h0M216.3 395.2h0M228.4 381.0h0M201.8 409.3h0M191.2 416.0h0M189.6 420.8h0M187.8 413.3h0M242.2 370.9h0M200.0 401.4h0M185.6 421.2h0M236.5 366.3h0M172.4 435.0h0M273.8 336.6h0M275.5 345.8h0M300.4 331.0h0M223.4 381.4h0M218.4 390.0h0M271.8 351.7h0M231.0 370.4h0M213.6 392.5h0M210.2 388.8h0M177.0 427.8h0M266.1 354.6h0M219.0 392.0h0M201.2 406.4h0M226.1 386.0h0M227.2 383.7h0M272.4 351.5h0M245.0 371.4h0M258.2 363.3h0M196.1 410.9h0M244.4 368.9h0M194.2 412.9h0M263.5 356.9h0M299.3 319.1h0M237.9 378.9h0M226.1 389.0h0M237.7 379.1h0M254.5 349.7h0M175.1 429.9h0M248.1 359.7h0M256.4 361.0h0M254.1 359.6h0M192.6 404.7h0M192.7 413.5h0M305.7 320.5h0M322.9 302.7h0M244.2 374.9h0M154.7 451.8h0M211.6 386.2h0M215.0 396.2h0M237.4 372.6h0M272.1 348.2h0M243.0 369.8h0M229.8 381.9h0M205.7 396.1h0M307.4 319.4h0M309.7 317.9h0M173.1 433.6h0M282.1 343.3h0M255.8 374.7h0M304.0 317.7h0M221.9 387.4h0M314.8 309.0h0M245.5 363.0h0M211.2 396.5h0M238.5 369.3h0M193.8 404.7h0M199.7 408.4h0M238.8 366.6h0M280.2 345.5h0M173.8 432.4h0M239.2 373.1h0M234.2 371.2h0M206.0 393.0h0M250.8 361.1h0M226.8 384.6h0M263.1 349.8h0M285.6 331.1h0M229.9 378.3h0M237.7 367.6h0M188.1 421.3h0M241.4 371.6h0M169.9 436.3h0M233.5 377.3h0M286.9 337.3h0M149.0 460.9h0M303.9 317.6h0M277.4 343.2h0M267.5 344.9h0M239.4 380.8h0M207.2 396.3h0M193.5 410.4h0M282.5 334.7h0M218.0 388.5h0M257.9 358.4h0M198.7 414.8h0M227.8 379.3h0M307.6 308.3h0M244.3 364.5h0M176.6 432.4h0M289.7 333.7h0M187.6 423.1h0M230.0 365.6h0M234.9 379.2h0M203.4 405.8h0M296.1 322.6h0M189.4 410.7h0M181.8 429.3h0M222.2 388.8h0M224.8 388.9h0M214.0 404.6h0M229.8 374.7h0M309.0 322.0h0M292.2 330.2h0M195.3 403.8h0M253.3 352.0h0M209.9 394.2h0M266.5 342.8h0M266.1 344.9h0M293.1 337.9h0M307.8 323.4h0M151.0 459.6h0M229.1 375.0h0M246.1 368.7h0M241.5 365.4h0M706.0 110.6h0M618.0 188.1h0M590.1 167.4h0M564.1 184.0h0M543.6 192.3h0M526.7 166.0h0M525.0 192.8h0M493.5 253.7h0M486.8 213.0h0M465.8 212.2h0M464.0 194.2h0M470.8 198.4h0M476.9 237.1h0M478.3 208.0h0M474.1 223.3h0M447.8 180.4h0M447.0 250.1h0M419.1 224.6h0M400.8 217.7h0M395.8 201.1h0M393.3 263.4h0M392.5 226.0h0M382.3 244.0h0M372.6 295.2h0M351.8 279.4h0M348.2 299.3h0M348.2 312.4h0M348.7 278.8h0M348.7 300.0h0M337.6 329.7h0M203.0 378.6h0M245.0 338.0h0M254.0 338.0h0M308.0 300.0h0M320.0 285.0h0M333.0 290.0h0M298.0 350.0h0M275.0 360.0h0M282.0 362.0h0" stroke="#000" stroke-width="6" stroke-linecap="round" fill="none"/>
</g>
<rect x="137.00" y="51.50" width="603.50" height="445.80" fill="none" stroke="#000" stroke-width="1.60"/>
<line x1="137.00" y1="497.30" x2="137.00" y2="502.80" stroke="#000" stroke-width="1.30"/><g transform="matrix(0.25600,0.00000,0.00000,0.25600,116.64950,528.40000)" fill="#000"><text x="-0.0 58.4 87.6" y="-0.78" font-size="105.00" transform="scale(1.0895,1)">0.0</text></g><line x1="262.73" y1="497.30" x2="262.73" y2="502.80" stroke="#000" stroke-width="1.30"/><g transform="matrix(0.25600,0.00000,0.00000,0.25600,242.64667,528.40000)" fill="#000"><text x="-0.0 58.4 87.6" y="-0.78" font-size="105.00" transform="scale(1.0895,1)">0.5</text></g><line x1="388.46" y1="497.30" x2="388.46" y2="502.80" stroke="#000" stroke-width="1.30"/><g transform="matrix(0.25600,0.00000,0.00000,0.25600,367.54583,528.40000)" fill="#000"><text x="-0.0 58.4 87.6" y="-0.78" font-size="105.00" transform="scale(1.0895,1)">1.0</text></g><line x1="514.19" y1="497.30" x2="514.19" y2="502.80" stroke="#000" stroke-width="1.30"/><g transform="matrix(0.25600,0.00000,0.00000,0.25600,493.54300,527.88800)" fill="#000"><text x="-0.0 58.4 87.6" y="-0.09" font-size="105.00" transform="scale(1.0895,1)">1.5</text></g><line x1="639.92" y1="497.30" x2="639.92" y2="502.80" stroke="#000" stroke-width="1.30"/><g transform="matrix(0.25600,0.00000,0.00000,0.25600,619.47217,528.40000)" fill="#000"><text x="-0.0 58.4 87.6" y="-0.78" font-size="105.00" transform="scale(1.0895,1)">2.0</text></g>
<line x1="131.50" y1="476.00" x2="137.00" y2="476.00" stroke="#000" stroke-width="1.30"/><g transform="matrix(0.25600,0.00000,0.00000,0.25600,108.91200,485.51800)" fill="#000"><text x="-0.0" y="-0.78" font-size="105.00" transform="scale(1.0895,1)">0</text></g><line x1="131.50" y1="378.10" x2="137.00" y2="378.10" stroke="#000" stroke-width="1.30"/><g transform="matrix(0.25600,0.00000,0.00000,0.25600,60.04950,387.61800)" fill="#000"><text x="-0.0 58.4 116.8 175.2" y="-0.78" font-size="105.00" transform="scale(1.0895,1)">2000</text></g><line x1="131.50" y1="280.20" x2="137.00" y2="280.20" stroke="#000" stroke-width="1.30"/><g transform="matrix(0.25600,0.00000,0.00000,0.25600,60.04950,289.71800)" fill="#000"><text x="-0.0 58.4 116.8 175.2" y="-0.78" font-size="105.00" transform="scale(1.0895,1)">4000</text></g><line x1="131.50" y1="182.30" x2="137.00" y2="182.30" stroke="#000" stroke-width="1.30"/><g transform="matrix(0.25600,0.00000,0.00000,0.25600,60.04950,191.81800)" fill="#000"><text x="-0.0 58.4 116.8 175.2" y="-0.78" font-size="105.00" transform="scale(1.0895,1)">6000</text></g><line x1="131.50" y1="84.40" x2="137.00" y2="84.40" stroke="#000" stroke-width="1.30"/><g transform="matrix(0.25600,0.00000,0.00000,0.25600,60.04950,93.91800)" fill="#000"><text x="-0.0 58.4 116.8 175.2" y="-0.78" font-size="105.00" transform="scale(1.0895,1)">8000</text></g>
<rect x="349.7" y="349.2" width="376.9" height="133.1" rx="5.0" fill="#fff" stroke="#cccccc" stroke-width="1.1"/>
<rect x="359.8" y="361.1" width="58.7" height="21.6" fill="#add8e6"/>
<line x1="359.8" y1="413.8" x2="418.5" y2="413.8" stroke="#0000cd" stroke-width="2"/>
<path d="M389.5 441.4V469.1M384.3 441.4H394.8M384.3 469.1H394.8" stroke="#000" stroke-width="2.2" fill="none"/>
<circle cx="389.5" cy="455.2" r="3" fill="#000"/>
<g transform="matrix(0.28727,0.00000,0.00000,0.28727,440.78036,381.50000)" fill="#000"><text x="-0.0" y="-0.02" font-size="105.00" font-style="italic" transform="scale(1.0870,1)">d</text><text x="63.1" y="16.39" font-size="73.50" font-style="italic">M</text><text x="125.9 198.4" y="-0.02" font-size="105.00" transform="scale(1.2147,1)">±Δ</text><text x="292.3" y="-0.02" font-size="105.00" font-style="italic" transform="scale(1.0870,1)">d</text><text x="380.8" y="16.39" font-size="73.50" font-style="italic">M</text><text x="416.7 447.2 480.1 534.9" y="-0.02" font-size="105.00" transform="scale(1.1448,1)">from</text><text x="740.8 815.5 877.5" y="-0.02" font-size="105.00">GPR</text></g>
<g transform="matrix(0.28724,0.00000,0.00000,0.28724,440.69239,422.80000)" fill="#000"><text x="1.8 90.7 148.1 206.3" y="-0.02" font-size="105.00" transform="scale(1.0694,1)">mean</text><text x="290.1" y="-0.02" font-size="105.00" font-style="italic" transform="scale(1.0870,1)">d</text><text x="378.4" y="16.39" font-size="73.50" font-style="italic">M</text><text x="414.7 445.1 478.1 532.8" y="-0.02" font-size="105.00" transform="scale(1.1448,1)">from</text><text x="738.4 813.1 875.1" y="-0.02" font-size="105.00">GPR</text></g>
<g transform="matrix(0.28708,0.00000,0.00000,0.28708,440.78121,464.70000)" fill="#000"><text x="-0.0" y="-0.02" font-size="105.00" font-style="italic" transform="scale(1.0870,1)">d</text><text x="63.1" y="16.39" font-size="73.50" font-style="italic">M</text><text x="146.4 174.7 236.5 293.9 355.8 388.4 446.0 502.5 559.9 611.0 675.0 699.4 755.6 806.3" y="-0.02" font-size="105.00" transform="scale(1.0853,1)">(PantheonPlus)</text></g>
<g transform="matrix(0.33721,0.00000,0.00000,0.33721,179.17651,41.00000)" fill="#000"><text x="-5.8 59.6 84.1 142.5 202.1 225.7 282.4 320.0 351.7 406.8 457.5" y="-0.02" font-size="105.00" transform="scale(1.0853,1)">Single-task</text><text x="583.7 658.4 720.4 795.3" y="-0.02" font-size="105.00">GPR:</text><text x="796.0 858.6 916.9 979.5 1012.8 1071.2 1128.6 1186.8 1238.9 1303.4 1328.5 1385.4" y="-0.02" font-size="105.00" transform="scale(1.0694,1)">PantheonPlus</text></g>
<g transform="matrix(0.40114,0.00000,0.00000,0.40411,428.11909,569.02629)" fill="#000"><text x="-0.0" y="-0.31" font-size="105.00" font-style="italic">z</text></g>
<g transform="matrix(0.00000,-0.33123,0.34744,0.00000,45.40528,316.02159)" fill="#000"><text x="-0.0" y="-0.02" font-size="105.00" font-style="italic" transform="scale(1.0870,1)">d</text><text x="63.1" y="16.39" font-size="73.50" font-style="italic">M</text><text x="113.5" y="-0.02" font-size="105.00" transform="scale(1.1158,1)">(</text><text x="165.6" y="-0.02" font-size="105.00" font-style="italic">z</text><text x="195.5" y="-0.02" font-size="105.00" transform="scale(1.1158,1)">)</text></g>
<g clip-path="url(#cp2)">
<polygon points="912.6,69.9 914.6,71.8 916.5,73.7 918.5,75.6 920.5,77.5 922.4,79.4 924.4,81.3 926.4,83.2 928.3,85.1 930.3,87.0 932.3,88.9 934.2,90.7 936.2,92.5 938.2,94.4 940.2,96.2 942.1,98.0 944.1,99.8 946.1,101.6 948.0,103.4 950.0,105.2 952.0,107.0 953.9,108.8 955.9,110.6 957.9,112.4 959.8,114.2 961.8,116.0 963.8,117.8 965.7,119.6 967.7,121.4 969.7,123.2 971.6,124.9 973.6,126.7 975.6,128.5 977.5,130.2 979.5,132.0 981.5,133.8 983.4,135.5 985.4,137.3 987.4,139.0 989.3,140.8 991.3,142.5 993.3,144.2 995.3,146.0 997.2,147.7 999.2,149.4 1001.2,151.2 1003.1,152.9 1005.1,154.6 1007.1,156.3 1009.0,158.0 1011.0,159.7 1013.0,161.4 1014.9,163.1 1016.9,164.7 1018.9,166.4 1020.8,168.1 1022.8,169.7 1024.8,171.4 1026.7,173.1 1028.7,174.7 1030.7,176.3 1032.6,178.0 1034.6,179.6 1036.6,181.2 1038.5,182.9 1040.5,184.5 1042.5,186.1 1044.4,187.7 1046.4,189.3 1048.4,190.9 1050.4,192.4 1052.3,194.0 1054.3,195.6 1056.3,197.1 1058.2,198.7 1060.2,200.2 1062.2,201.8 1064.1,203.3 1066.1,204.8 1068.1,206.3 1070.0,207.8 1072.0,209.3 1074.0,210.8 1075.9,212.3 1077.9,213.8 1079.9,215.3 1081.8,216.7 1083.8,218.2 1085.8,219.6 1087.7,221.1 1089.7,222.5 1091.7,223.9 1093.6,225.3 1095.6,226.7 1097.6,228.1 1099.5,229.5 1101.5,230.9 1103.5,232.2 1105.5,233.6 1107.4,235.0 1109.4,236.3 1111.4,237.6 1113.3,238.9 1115.3,240.3 1117.3,241.6 1119.2,242.8 1121.2,244.1 1123.2,245.4 1125.1,246.7 1127.1,247.9 1129.1,249.2 1131.0,250.4 1133.0,251.6 1135.0,252.8 1136.9,254.0 1138.9,255.2 1140.9,256.4 1142.8,257.5 1144.8,258.7 1146.8,259.8 1148.7,261.0 1150.7,262.1 1152.7,263.2 1154.7,264.3 1156.6,265.4 1158.6,266.5 1160.6,267.5 1162.5,268.6 1164.5,269.6 1166.5,270.7 1168.4,271.7 1170.4,272.7 1172.4,273.7 1174.3,274.7 1176.3,275.6 1178.3,276.6 1180.2,277.6 1182.2,278.5 1184.2,279.4 1186.1,280.3 1188.1,281.2 1190.1,282.1 1192.0,283.0 1194.0,283.8 1196.0,284.7 1197.9,285.5 1199.9,286.3 1201.9,287.1 1203.8,287.9 1205.8,288.7 1207.8,289.4 1209.8,290.2 1211.7,290.9 1213.7,291.6 1215.7,292.3 1217.6,293.0 1219.6,293.7 1221.6,294.4 1223.5,295.0 1225.5,295.7 1227.5,296.3 1229.4,296.9 1231.4,297.5 1233.4,298.1 1235.3,298.7 1237.3,299.2 1239.3,299.8 1241.2,300.3 1243.2,300.8 1245.2,301.3 1247.1,301.8 1249.1,302.3 1251.1,302.8 1253.0,303.3 1255.0,303.7 1257.0,304.1 1258.9,304.6 1260.9,305.0 1262.9,305.4 1264.9,305.8 1266.8,306.2 1268.8,306.5 1270.8,306.9 1272.7,307.3 1274.7,307.6 1276.7,307.9 1278.6,308.2 1280.6,308.5 1282.6,308.8 1284.5,309.1 1286.5,309.4 1288.5,309.7 1290.4,309.9 1292.4,310.2 1294.4,310.4 1296.3,310.6 1298.3,310.8 1300.3,311.0 1302.2,311.2 1304.2,311.4 1306.2,311.6 1308.1,311.8 1310.1,311.9 1312.1,312.1 1314.1,312.2 1316.0,312.3 1318.0,312.4 1320.0,312.6 1321.9,312.7 1323.9,312.7 1325.9,312.8 1327.8,312.9 1329.8,313.0 1331.8,313.0 1333.7,313.1 1335.7,313.1 1337.7,313.2 1339.6,313.2 1341.6,313.2 1343.6,313.2 1345.5,313.2 1347.5,313.2 1349.5,313.2 1351.4,313.2 1353.4,313.1 1355.4,313.1 1357.3,313.1 1359.3,313.0 1361.3,313.0 1363.2,312.9 1365.2,312.8 1367.2,312.7 1369.2,312.7 1371.1,312.6 1373.1,312.5 1375.1,312.4 1377.0,312.3 1379.0,312.1 1381.0,312.0 1382.9,311.9 1384.9,311.7 1386.9,311.6 1388.8,311.5 1390.8,311.3 1392.8,311.1 1394.7,311.0 1396.7,310.8 1398.7,310.6 1400.6,310.5 1402.6,310.3 1404.6,310.1 1406.5,309.9 1408.5,309.7 1410.5,309.5 1412.4,309.3 1414.4,309.0 1416.4,308.8 1418.3,308.6 1420.3,308.4 1422.3,308.1 1424.3,307.9 1426.2,307.6 1428.2,307.4 1430.2,307.1 1432.1,306.9 1434.1,306.6 1436.1,306.4 1438.0,306.1 1440.0,305.8 1442.0,305.6 1443.9,305.3 1445.9,305.0 1447.9,304.7 1449.8,304.4 1451.8,304.1 1453.8,303.8 1455.7,303.5 1457.7,303.3 1459.7,302.9 1461.6,302.6 1463.6,302.3 1465.6,302.0 1467.5,301.7 1469.5,301.4 1471.5,301.1 1473.4,300.8 1475.4,300.4 1477.4,300.1 1479.4,299.8 1481.3,299.5 1483.3,299.1 1485.3,298.8 1487.2,298.5 1489.2,298.2 1491.2,297.8 1493.1,297.5 1495.1,297.1 1497.1,296.8 1499.0,296.5 1501.0,296.1 1501.0,478.5 1499.0,476.9 1497.1,475.3 1495.1,473.7 1493.1,472.1 1491.2,470.6 1489.2,469.0 1487.2,467.5 1485.3,466.0 1483.3,464.5 1481.3,463.0 1479.4,461.6 1477.4,460.1 1475.4,458.7 1473.4,457.2 1471.5,455.8 1469.5,454.4 1467.5,453.0 1465.6,451.6 1463.6,450.3 1461.6,448.9 1459.7,447.6 1457.7,446.3 1455.7,444.9 1453.8,443.6 1451.8,442.3 1449.8,441.1 1447.9,439.8 1445.9,438.5 1443.9,437.3 1442.0,436.0 1440.0,434.8 1438.0,433.6 1436.1,432.4 1434.1,431.2 1432.1,430.0 1430.2,428.8 1428.2,427.6 1426.2,426.4 1424.3,425.3 1422.3,424.1 1420.3,423.0 1418.3,421.9 1416.4,420.8 1414.4,419.6 1412.4,418.5 1410.5,417.4 1408.5,416.4 1406.5,415.3 1404.6,414.2 1402.6,413.1 1400.6,412.1 1398.7,411.0 1396.7,410.0 1394.7,408.9 1392.8,407.9 1390.8,406.9 1388.8,405.9 1386.9,404.8 1384.9,403.8 1382.9,402.8 1381.0,401.8 1379.0,400.8 1377.0,399.9 1375.1,398.9 1373.1,397.9 1371.1,396.9 1369.2,396.0 1367.2,395.0 1365.2,394.0 1363.2,393.1 1361.3,392.1 1359.3,391.2 1357.3,390.2 1355.4,389.3 1353.4,388.4 1351.4,387.4 1349.5,386.5 1347.5,385.6 1345.5,384.6 1343.6,383.7 1341.6,382.8 1339.6,381.9 1337.7,380.9 1335.7,380.0 1333.7,379.1 1331.8,378.2 1329.8,377.3 1327.8,376.4 1325.9,375.5 1323.9,374.6 1321.9,373.7 1320.0,372.7 1318.0,371.8 1316.0,370.9 1314.1,370.0 1312.1,369.1 1310.1,368.2 1308.1,367.3 1306.2,366.4 1304.2,365.5 1302.2,364.6 1300.3,363.6 1298.3,362.7 1296.3,361.8 1294.4,360.9 1292.4,360.0 1290.4,359.1 1288.5,358.1 1286.5,357.2 1284.5,356.3 1282.6,355.4 1280.6,354.4 1278.6,353.5 1276.7,352.5 1274.7,351.6 1272.7,350.7 1270.8,349.7 1268.8,348.8 1266.8,347.8 1264.9,346.8 1262.9,345.9 1260.9,344.9 1258.9,343.9 1257.0,342.9 1255.0,342.0 1253.0,341.0 1251.1,340.0 1249.1,339.0 1247.1,338.0 1245.2,337.0 1243.2,335.9 1241.2,334.9 1239.3,333.9 1237.3,332.9 1235.3,331.8 1233.4,330.8 1231.4,329.7 1229.4,328.7 1227.5,327.6 1225.5,326.5 1223.5,325.4 1221.6,324.3 1219.6,323.2 1217.6,322.1 1215.7,321.0 1213.7,319.9 1211.7,318.8 1209.8,317.6 1207.8,316.5 1205.8,315.3 1203.8,314.2 1201.9,313.0 1199.9,311.8 1197.9,310.6 1196.0,309.4 1194.0,308.2 1192.0,307.0 1190.1,305.8 1188.1,304.5 1186.1,303.3 1184.2,302.0 1182.2,300.8 1180.2,299.5 1178.3,298.3 1176.3,297.0 1174.3,295.7 1172.4,294.4 1170.4,293.1 1168.4,291.8 1166.5,290.5 1164.5,289.1 1162.5,287.8 1160.6,286.5 1158.6,285.1 1156.6,283.8 1154.7,282.4 1152.7,281.0 1150.7,279.6 1148.7,278.3 1146.8,276.9 1144.8,275.5 1142.8,274.0 1140.9,272.6 1138.9,271.2 1136.9,269.8 1135.0,268.3 1133.0,266.9 1131.0,265.4 1129.1,264.0 1127.1,262.5 1125.1,261.0 1123.2,259.6 1121.2,258.1 1119.2,256.6 1117.3,255.1 1115.3,253.6 1113.3,252.1 1111.4,250.6 1109.4,249.0 1107.4,247.5 1105.5,246.0 1103.5,244.4 1101.5,242.9 1099.5,241.3 1097.6,239.7 1095.6,238.2 1093.6,236.6 1091.7,235.0 1089.7,233.4 1087.7,231.8 1085.8,230.2 1083.8,228.6 1081.8,227.0 1079.9,225.4 1077.9,223.7 1075.9,222.1 1074.0,220.5 1072.0,218.8 1070.0,217.2 1068.1,215.5 1066.1,213.8 1064.1,212.2 1062.2,210.5 1060.2,208.8 1058.2,207.1 1056.3,205.4 1054.3,203.8 1052.3,202.1 1050.4,200.3 1048.4,198.6 1046.4,196.9 1044.4,195.2 1042.5,193.5 1040.5,191.7 1038.5,190.0 1036.6,188.2 1034.6,186.5 1032.6,184.7 1030.7,183.0 1028.7,181.2 1026.7,179.4 1024.8,177.7 1022.8,175.9 1020.8,174.1 1018.9,172.3 1016.9,170.5 1014.9,168.7 1013.0,166.9 1011.0,165.1 1009.0,163.3 1007.1,161.5 1005.1,159.6 1003.1,157.8 1001.2,156.0 999.2,154.2 997.2,152.3 995.3,150.5 993.3,148.6 991.3,146.8 989.3,144.9 987.4,143.0 985.4,141.2 983.4,139.3 981.5,137.4 979.5,135.6 977.5,133.7 975.6,131.8 973.6,129.9 971.6,128.0 969.7,126.1 967.7,124.2 965.7,122.3 963.8,120.4 961.8,118.5 959.8,116.5 957.9,114.6 955.9,112.7 953.9,110.8 952.0,108.8 950.0,106.9 948.0,105.0 946.1,103.0 944.1,101.1 942.1,99.1 940.2,97.2 938.2,95.2 936.2,93.3 934.2,91.3 932.3,89.3 930.3,87.4 928.3,85.5 926.4,83.6 924.4,81.7 922.4,79.8 920.5,77.9 918.5,76.0 916.5,74.1 914.6,72.2 912.6,70.3" fill="#add8e6"/>
<polyline points="912.6,70.1 914.6,72.0 916.5,73.9 918.5,75.8 920.5,77.7 922.4,79.6 924.4,81.5 926.4,83.4 928.3,85.3 930.3,87.2 932.3,89.1 934.2,91.0 936.2,92.9 938.2,94.8 940.2,96.7 942.1,98.6 944.1,100.4 946.1,102.3 948.0,104.2 950.0,106.1 952.0,107.9 953.9,109.8 955.9,111.7 957.9,113.5 959.8,115.4 961.8,117.2 963.8,119.1 965.7,120.9 967.7,122.8 969.7,124.6 971.6,126.5 973.6,128.3 975.6,130.1 977.5,132.0 979.5,133.8 981.5,135.6 983.4,137.4 985.4,139.2 987.4,141.0 989.3,142.8 991.3,144.6 993.3,146.4 995.3,148.2 997.2,150.0 999.2,151.8 1001.2,153.6 1003.1,155.3 1005.1,157.1 1007.1,158.9 1009.0,160.6 1011.0,162.4 1013.0,164.1 1014.9,165.9 1016.9,167.6 1018.9,169.4 1020.8,171.1 1022.8,172.8 1024.8,174.5 1026.7,176.2 1028.7,178.0 1030.7,179.7 1032.6,181.4 1034.6,183.1 1036.6,184.7 1038.5,186.4 1040.5,188.1 1042.5,189.8 1044.4,191.4 1046.4,193.1 1048.4,194.7 1050.4,196.4 1052.3,198.0 1054.3,199.7 1056.3,201.3 1058.2,202.9 1060.2,204.5 1062.2,206.1 1064.1,207.7 1066.1,209.3 1068.1,210.9 1070.0,212.5 1072.0,214.1 1074.0,215.7 1075.9,217.2 1077.9,218.8 1079.9,220.3 1081.8,221.9 1083.8,223.4 1085.8,224.9 1087.7,226.4 1089.7,228.0 1091.7,229.5 1093.6,231.0 1095.6,232.4 1097.6,233.9 1099.5,235.4 1101.5,236.9 1103.5,238.3 1105.5,239.8 1107.4,241.2 1109.4,242.7 1111.4,244.1 1113.3,245.5 1115.3,246.9 1117.3,248.3 1119.2,249.7 1121.2,251.1 1123.2,252.5 1125.1,253.9 1127.1,255.2 1129.1,256.6 1131.0,257.9 1133.0,259.2 1135.0,260.6 1136.9,261.9 1138.9,263.2 1140.9,264.5 1142.8,265.8 1144.8,267.1 1146.8,268.4 1148.7,269.6 1150.7,270.9 1152.7,272.1 1154.7,273.4 1156.6,274.6 1158.6,275.8 1160.6,277.0 1162.5,278.2 1164.5,279.4 1166.5,280.6 1168.4,281.7 1170.4,282.9 1172.4,284.0 1174.3,285.2 1176.3,286.3 1178.3,287.4 1180.2,288.5 1182.2,289.6 1184.2,290.7 1186.1,291.8 1188.1,292.9 1190.1,293.9 1192.0,295.0 1194.0,296.0 1196.0,297.0 1197.9,298.0 1199.9,299.0 1201.9,300.0 1203.8,301.0 1205.8,302.0 1207.8,302.9 1209.8,303.9 1211.7,304.8 1213.7,305.8 1215.7,306.7 1217.6,307.6 1219.6,308.5 1221.6,309.3 1223.5,310.2 1225.5,311.1 1227.5,311.9 1229.4,312.8 1231.4,313.6 1233.4,314.4 1235.3,315.2 1237.3,316.0 1239.3,316.8 1241.2,317.6 1243.2,318.4 1245.2,319.1 1247.1,319.9 1249.1,320.7 1251.1,321.4 1253.0,322.1 1255.0,322.8 1257.0,323.5 1258.9,324.3 1260.9,324.9 1262.9,325.6 1264.9,326.3 1266.8,327.0 1268.8,327.7 1270.8,328.3 1272.7,329.0 1274.7,329.6 1276.7,330.2 1278.6,330.9 1280.6,331.5 1282.6,332.1 1284.5,332.7 1286.5,333.3 1288.5,333.9 1290.4,334.5 1292.4,335.1 1294.4,335.6 1296.3,336.2 1298.3,336.8 1300.3,337.3 1302.2,337.9 1304.2,338.4 1306.2,339.0 1308.1,339.5 1310.1,340.1 1312.1,340.6 1314.1,341.1 1316.0,341.6 1318.0,342.1 1320.0,342.6 1321.9,343.2 1323.9,343.7 1325.9,344.1 1327.8,344.6 1329.8,345.1 1331.8,345.6 1333.7,346.1 1335.7,346.6 1337.7,347.1 1339.6,347.5 1341.6,348.0 1343.6,348.5 1345.5,348.9 1347.5,349.4 1349.5,349.8 1351.4,350.3 1353.4,350.7 1355.4,351.2 1357.3,351.6 1359.3,352.1 1361.3,352.5 1363.2,353.0 1365.2,353.4 1367.2,353.9 1369.2,354.3 1371.1,354.7 1373.1,355.2 1375.1,355.6 1377.0,356.1 1379.0,356.5 1381.0,356.9 1382.9,357.4 1384.9,357.8 1386.9,358.2 1388.8,358.7 1390.8,359.1 1392.8,359.5 1394.7,360.0 1396.7,360.4 1398.7,360.8 1400.6,361.3 1402.6,361.7 1404.6,362.1 1406.5,362.6 1408.5,363.0 1410.5,363.5 1412.4,363.9 1414.4,364.3 1416.4,364.8 1418.3,365.2 1420.3,365.7 1422.3,366.1 1424.3,366.6 1426.2,367.0 1428.2,367.5 1430.2,368.0 1432.1,368.4 1434.1,368.9 1436.1,369.4 1438.0,369.8 1440.0,370.3 1442.0,370.8 1443.9,371.3 1445.9,371.8 1447.9,372.2 1449.8,372.7 1451.8,373.2 1453.8,373.7 1455.7,374.2 1457.7,374.8 1459.7,375.3 1461.6,375.8 1463.6,376.3 1465.6,376.8 1467.5,377.4 1469.5,377.9 1471.5,378.5 1473.4,379.0 1475.4,379.6 1477.4,380.1 1479.4,380.7 1481.3,381.3 1483.3,381.8 1485.3,382.4 1487.2,383.0 1489.2,383.6 1491.2,384.2 1493.1,384.8 1495.1,385.4 1497.1,386.0 1499.0,386.7 1501.0,387.3" fill="none" stroke="#0000cd" stroke-width="2.80" stroke-linejoin="round"/>
</g>
<rect x="913.60" y="51.50" width="585.40" height="444.50" fill="none" stroke="#000" stroke-width="1.60"/>
<line x1="913.60" y1="496.00" x2="913.60" y2="501.50" stroke="#000" stroke-width="1.30"/><g transform="matrix(0.26200,0.00000,0.00000,0.26200,892.77254,527.05000)" fill="#000"><text x="-0.0 58.4 87.6" y="-0.78" font-size="105.00" transform="scale(1.0895,1)">0.0</text></g><line x1="1035.56" y1="496.00" x2="1035.56" y2="501.50" stroke="#000" stroke-width="1.30"/><g transform="matrix(0.26200,0.00000,0.00000,0.26200,1015.00515,527.05000)" fill="#000"><text x="-0.0 58.4 87.6" y="-0.78" font-size="105.00" transform="scale(1.0895,1)">0.5</text></g><line x1="1157.52" y1="496.00" x2="1157.52" y2="501.50" stroke="#000" stroke-width="1.30"/><g transform="matrix(0.26200,0.00000,0.00000,0.26200,1136.11403,527.05000)" fill="#000"><text x="-0.0 58.4 87.6" y="-0.78" font-size="105.00" transform="scale(1.0895,1)">1.0</text></g><line x1="1279.47" y1="496.00" x2="1279.47" y2="501.50" stroke="#000" stroke-width="1.30"/><g transform="matrix(0.26200,0.00000,0.00000,0.26200,1258.34664,526.52600)" fill="#000"><text x="-0.0 58.4 87.6" y="-0.09" font-size="105.00" transform="scale(1.0895,1)">1.5</text></g><line x1="1401.43" y1="496.00" x2="1401.43" y2="501.50" stroke="#000" stroke-width="1.30"/><g transform="matrix(0.26200,0.00000,0.00000,0.26200,1380.50967,527.05000)" fill="#000"><text x="-0.0 58.4 87.6" y="-0.78" font-size="105.00" transform="scale(1.0895,1)">2.0</text></g>
<line x1="908.10" y1="447.80" x2="913.60" y2="447.80" stroke="#000" stroke-width="1.30"/><g transform="matrix(0.26200,0.00000,0.00000,0.26200,835.06238,457.54108)" fill="#000"><text x="-0.0 58.4 116.8 175.2" y="-0.78" font-size="105.00" transform="scale(1.0895,1)">1000</text></g><line x1="908.10" y1="368.68" x2="913.60" y2="368.68" stroke="#000" stroke-width="1.30"/><g transform="matrix(0.26200,0.00000,0.00000,0.26200,835.06238,378.42108)" fill="#000"><text x="-0.0 58.4 116.8 175.2" y="-0.78" font-size="105.00" transform="scale(1.0895,1)">2000</text></g><line x1="908.10" y1="289.56" x2="913.60" y2="289.56" stroke="#000" stroke-width="1.30"/><g transform="matrix(0.26200,0.00000,0.00000,0.26200,835.06238,299.30108)" fill="#000"><text x="-0.0 58.4 116.8 175.2" y="-0.78" font-size="105.00" transform="scale(1.0895,1)">3000</text></g><line x1="908.10" y1="210.44" x2="913.60" y2="210.44" stroke="#000" stroke-width="1.30"/><g transform="matrix(0.26200,0.00000,0.00000,0.26200,835.06238,220.18108)" fill="#000"><text x="-0.0 58.4 116.8 175.2" y="-0.78" font-size="105.00" transform="scale(1.0895,1)">4000</text></g><line x1="908.10" y1="131.32" x2="913.60" y2="131.32" stroke="#000" stroke-width="1.30"/><g transform="matrix(0.26200,0.00000,0.00000,0.26200,835.06238,141.06108)" fill="#000"><text x="-0.0 58.4 116.8 175.2" y="-0.78" font-size="105.00" transform="scale(1.0895,1)">5000</text></g><line x1="908.10" y1="52.20" x2="913.60" y2="52.20" stroke="#000" stroke-width="1.30"/><g transform="matrix(0.26200,0.00000,0.00000,0.26200,835.06238,61.94108)" fill="#000"><text x="-0.0 58.4 116.8 175.2" y="-0.78" font-size="105.00" transform="scale(1.0895,1)">6000</text></g>
<rect x="1070.1" y="65.7" width="414.2" height="131.7" rx="5.0" fill="#fff" stroke="#cccccc" stroke-width="1.1"/>
<rect x="1081.1" y="89.7" width="59" height="22.1" fill="#add8e6"/>
<line x1="1080.6" y1="162" x2="1140.1" y2="162" stroke="#0000cd" stroke-width="2.6"/>
<g transform="matrix(0.28709,0.00000,0.00000,0.28709,1161.30000,110.40000)" fill="#000"><path d="M377.7 38.2L377.7 41.1Q364.0 28.3 356.0 9.3Q348.0 -9.8 348.0 -33.6Q348.0 -57.5 356.2 -77.6Q364.4 -97.7 377.7 -108.3L377.7 -105.7Q368.4 -96.2 362.1 -77.8Q355.8 -59.3 355.8 -33.6Q355.8 11.4 377.7 38.2Z"/><path d="M539.5 -105.4L539.5 -108.3Q553.2 -95.5 561.1 -76.5Q569.1 -57.5 569.1 -33.6Q569.1 -9.8 560.9 10.4Q552.8 30.5 539.5 41.1L539.5 38.4Q548.8 29.0 555.1 10.5Q561.4 -8.0 561.4 -33.6Q561.4 -78.6 539.5 -105.4Z"/><text x="-0.0 40.9" y="-55.81" font-size="73.50" font-style="italic" transform="scale(1.0870,1)">dd</text><text x="88.6" y="-44.33" font-size="51.45" font-style="italic">M</text><text x="25.8 66.7" y="40.11" font-size="73.50" font-style="italic" transform="scale(1.0434,1)">dz</text><text x="141.5 214.0" y="-0.53" font-size="105.00" transform="scale(1.2147,1)">±Δ</text><text x="353.9 394.7" y="-55.81" font-size="73.50" font-style="italic" transform="scale(1.0870,1)">dd</text><text x="473.2" y="-44.33" font-size="51.45" font-style="italic">M</text><text x="394.4 435.4" y="40.11" font-size="73.50" font-style="italic" transform="scale(1.0434,1)">dz</text><text x="534.9 565.4 598.3 653.1" y="-0.53" font-size="105.00" transform="scale(1.1448,1)">from</text><text x="876.1 950.8 1012.8" y="-0.53" font-size="105.00">GPR</text><rect x="0.0" y="-25.6" width="133.1" height="6.2"/><rect x="384.7" y="-25.6" width="133.1" height="6.2"/></g>
<g transform="matrix(0.28835,0.00000,0.00000,0.28835,1159.58234,170.50000)" fill="#000"><text x="1.8 90.7 148.1 206.3" y="-0.53" font-size="105.00" transform="scale(1.0694,1)">mean</text><text x="290.1 331.0" y="-55.81" font-size="73.50" font-style="italic" transform="scale(1.0870,1)">dd</text><text x="403.9" y="-44.33" font-size="51.45" font-style="italic">M</text><text x="328.0 369.0" y="40.11" font-size="73.50" font-style="italic" transform="scale(1.0434,1)">dz</text><text x="431.2 461.6 494.6 549.3" y="-0.53" font-size="105.00" transform="scale(1.1448,1)">from</text><text x="757.3 832.0 894.0" y="-0.53" font-size="105.00">GPR</text><rect x="315.4" y="-25.6" width="133.1" height="6.2"/></g>
<g transform="matrix(0.32652,0.00000,0.00000,0.32652,954.54703,40.80000)" fill="#000"><text x="-5.8 59.6 84.1 142.5 202.1 225.7 282.4 320.0 351.7 406.8 457.5" y="-0.02" font-size="105.00" transform="scale(1.0853,1)">Single-task</text><text x="583.7 658.4 720.4 795.3" y="-0.02" font-size="105.00">GPR:</text><text x="796.0 858.6 916.9 979.5 1012.8 1071.2 1128.6 1186.8 1238.9 1303.4 1328.5 1385.4" y="-0.02" font-size="105.00" transform="scale(1.0694,1)">PantheonPlus</text></g>
<g transform="matrix(0.38832,0.00000,0.00000,0.40411,1195.11528,569.12629)" fill="#000"><text x="-0.0" y="-0.31" font-size="105.00" font-style="italic">z</text></g>
<g transform="matrix(0.00000,-0.33123,0.32113,0.00000,812.80259,319.50000)" fill="#000"><text x="-0.0 40.9" y="-55.81" font-size="73.50" font-style="italic" transform="scale(1.0870,1)">dd</text><text x="88.6" y="-44.33" font-size="51.45" font-style="italic">M</text><text x="25.8 66.7" y="40.11" font-size="73.50" font-style="italic" transform="scale(1.0434,1)">dz</text><text x="130.5" y="-0.53" font-size="105.00" transform="scale(1.1158,1)">(</text><text x="184.6" y="-0.53" font-size="105.00" font-style="italic">z</text><text x="212.5" y="-0.53" font-size="105.00" transform="scale(1.1158,1)">)</text><rect x="0.0" y="-25.6" width="133.1" height="6.2"/></g>
<g clip-path="url(#cp3)">
<polygon points="172.4,1015.9 174.3,1016.8 176.2,1017.7 178.1,1018.5 180.0,1019.3 181.9,1020.0 183.9,1020.7 185.8,1021.3 187.7,1021.9 189.6,1022.4 191.5,1022.9 193.4,1023.3 195.3,1023.7 197.2,1024.0 199.1,1024.3 201.0,1024.5 202.9,1024.7 204.8,1024.9 206.8,1025.0 208.7,1025.0 210.6,1025.0 212.5,1025.0 214.4,1024.9 216.3,1024.8 218.2,1024.6 220.1,1024.4 222.0,1024.2 223.9,1023.9 225.8,1023.6 227.7,1023.2 229.7,1022.8 231.6,1022.4 233.5,1021.9 235.4,1021.4 237.3,1020.9 239.2,1020.3 241.1,1019.7 243.0,1019.0 244.9,1018.3 246.8,1017.6 248.7,1016.9 250.6,1016.1 252.6,1015.3 254.5,1014.4 256.4,1013.6 258.3,1012.7 260.2,1011.7 262.1,1010.8 264.0,1009.8 265.9,1008.8 267.8,1007.7 269.7,1006.6 271.6,1005.6 273.5,1004.4 275.5,1003.3 277.4,1002.1 279.3,1000.9 281.2,999.7 283.1,998.5 285.0,997.2 286.9,996.0 288.8,994.7 290.7,993.3 292.6,992.0 294.5,990.6 296.4,989.3 298.4,987.9 300.3,986.5 302.2,985.0 304.1,983.6 306.0,982.1 307.9,980.7 309.8,979.2 311.7,977.7 313.6,976.2 315.5,974.6 317.4,973.1 319.3,971.5 321.3,969.9 323.2,968.3 325.1,966.7 327.0,965.1 328.9,963.5 330.8,961.8 332.7,960.2 334.6,958.5 336.5,956.8 338.4,955.1 340.3,953.4 342.2,951.7 344.2,950.0 346.1,948.2 348.0,946.5 349.9,944.7 351.8,943.0 353.7,941.2 355.6,939.4 357.5,937.6 359.4,935.8 361.3,933.9 363.2,932.1 365.1,930.3 367.1,928.4 369.0,926.6 370.9,924.7 372.8,922.8 374.7,920.9 376.6,919.0 378.5,917.1 380.4,915.2 382.3,913.3 384.2,911.4 386.1,909.5 388.0,907.5 390.0,905.6 391.9,903.7 393.8,901.7 395.7,899.8 397.6,897.8 399.5,895.8 401.4,893.9 403.3,891.9 405.2,889.9 407.1,887.9 409.0,885.9 410.9,883.9 412.9,881.9 414.8,879.9 416.7,877.9 418.6,875.9 420.5,873.9 422.4,871.9 424.3,869.9 426.2,867.9 428.1,865.9 430.0,863.9 431.9,861.9 433.8,859.8 435.8,857.8 437.7,855.8 439.6,853.8 441.5,851.8 443.4,849.7 445.3,847.7 447.2,845.7 449.1,843.7 451.0,841.7 452.9,839.7 454.8,837.7 456.7,835.6 458.7,833.6 460.6,831.6 462.5,829.6 464.4,827.6 466.3,825.6 468.2,823.6 470.1,821.6 472.0,819.6 473.9,817.6 475.8,815.7 477.7,813.7 479.6,811.7 481.6,809.7 483.5,807.8 485.4,805.8 487.3,803.9 489.2,801.9 491.1,800.0 493.0,798.0 494.9,796.1 496.8,794.2 498.7,792.3 500.6,790.4 502.5,788.5 504.5,786.6 506.4,784.7 508.3,782.8 510.2,780.9 512.1,779.1 514.0,777.2 515.9,775.4 517.8,773.5 519.7,771.7 521.6,769.9 523.5,768.1 525.4,766.3 527.4,764.5 529.3,762.7 531.2,760.9 533.1,759.2 535.0,757.4 536.9,755.7 538.8,754.0 540.7,752.3 542.6,750.6 544.5,748.9 546.4,747.2 548.3,745.6 550.3,743.9 552.2,742.3 554.1,740.6 556.0,739.0 557.9,737.4 559.8,735.9 561.7,734.3 563.6,732.7 565.5,731.2 567.4,729.7 569.3,728.2 571.2,726.7 573.2,725.2 575.1,723.7 577.0,722.3 578.9,720.9 580.8,719.4 582.7,718.0 584.6,716.7 586.5,715.3 588.4,714.0 590.3,712.6 592.2,711.3 594.1,710.0 596.1,708.8 598.0,707.5 599.9,706.3 601.8,705.0 603.7,703.9 605.6,702.7 607.5,701.5 609.4,700.4 611.3,699.2 613.2,698.1 615.1,697.1 617.0,696.0 619.0,694.9 620.9,693.9 622.8,692.9 624.7,691.9 626.6,690.9 628.5,690.0 630.4,689.0 632.3,688.1 634.2,687.2 636.1,686.3 638.0,685.5 639.9,684.6 641.9,683.8 643.8,683.0 645.7,682.2 647.6,681.4 649.5,680.7 651.4,679.9 653.3,679.2 655.2,678.5 657.1,677.8 659.0,677.1 660.9,676.5 662.8,675.8 664.8,675.2 666.7,674.6 668.6,674.0 670.5,673.4 672.4,672.9 674.3,672.4 676.2,671.8 678.1,671.3 680.0,670.9 681.9,670.4 683.8,669.9 685.7,669.5 687.7,669.1 689.6,668.7 691.5,668.3 693.4,667.9 695.3,667.5 697.2,667.2 699.1,666.9 701.0,666.6 702.9,666.3 704.8,666.0 706.7,665.7 708.6,665.5 710.6,665.3 712.5,665.1 714.4,664.9 716.3,664.7 718.2,664.5 720.1,664.4 722.0,664.2 723.9,664.1 725.8,664.0 727.7,663.9 729.6,663.8 731.5,663.8 733.5,663.7 735.4,663.7 737.3,663.7 739.2,663.7 741.1,663.7 743.0,663.7 743.0,993.5 741.1,993.1 739.2,992.6 737.3,992.2 735.4,991.7 733.5,991.1 731.5,990.5 729.6,990.0 727.7,989.3 725.8,988.7 723.9,988.0 722.0,987.3 720.1,986.6 718.2,985.9 716.3,985.1 714.4,984.3 712.5,983.5 710.6,982.7 708.6,981.9 706.7,981.0 704.8,980.1 702.9,979.3 701.0,978.3 699.1,977.4 697.2,976.5 695.3,975.5 693.4,974.5 691.5,973.6 689.6,972.6 687.7,971.6 685.7,970.5 683.8,969.5 681.9,968.5 680.0,967.4 678.1,966.4 676.2,965.3 674.3,964.2 672.4,963.1 670.5,962.1 668.6,961.0 666.7,959.9 664.8,958.8 662.8,957.7 660.9,956.5 659.0,955.4 657.1,954.3 655.2,953.2 653.3,952.1 651.4,951.0 649.5,949.9 647.6,948.7 645.7,947.6 643.8,946.5 641.9,945.4 639.9,944.3 638.0,943.2 636.1,942.1 634.2,941.1 632.3,940.0 630.4,938.9 628.5,937.9 626.6,936.8 624.7,935.8 622.8,934.7 620.9,933.7 619.0,932.7 617.0,931.7 615.1,930.7 613.2,929.7 611.3,928.8 609.4,927.8 607.5,926.9 605.6,926.0 603.7,925.1 601.8,924.2 599.9,923.3 598.0,922.5 596.1,921.7 594.1,920.9 592.2,920.1 590.3,919.3 588.4,918.5 586.5,917.8 584.6,917.1 582.7,916.4 580.8,915.8 578.9,915.1 577.0,914.5 575.1,913.9 573.2,913.4 571.2,912.8 569.3,912.3 567.4,911.8 565.5,911.3 563.6,910.9 561.7,910.5 559.8,910.1 557.9,909.7 556.0,909.4 554.1,909.1 552.2,908.8 550.3,908.6 548.3,908.4 546.4,908.2 544.5,908.0 542.6,907.9 540.7,907.8 538.8,907.7 536.9,907.7 535.0,907.6 533.1,907.7 531.2,907.7 529.3,907.8 527.4,907.9 525.4,908.0 523.5,908.1 521.6,908.3 519.7,908.5 517.8,908.7 515.9,909.0 514.0,909.2 512.1,909.5 510.2,909.9 508.3,910.2 506.4,910.6 504.5,911.0 502.5,911.4 500.6,911.9 498.7,912.3 496.8,912.8 494.9,913.3 493.0,913.9 491.1,914.4 489.2,915.0 487.3,915.6 485.4,916.2 483.5,916.9 481.6,917.6 479.6,918.3 477.7,919.0 475.8,919.7 473.9,920.5 472.0,921.2 470.1,922.0 468.2,922.8 466.3,923.7 464.4,924.5 462.5,925.4 460.6,926.3 458.7,927.2 456.7,928.1 454.8,929.1 452.9,930.0 451.0,931.0 449.1,932.0 447.2,933.0 445.3,934.1 443.4,935.1 441.5,936.2 439.6,937.3 437.7,938.4 435.8,939.5 433.8,940.6 431.9,941.7 430.0,942.9 428.1,944.0 426.2,945.2 424.3,946.4 422.4,947.6 420.5,948.8 418.6,950.0 416.7,951.3 414.8,952.5 412.9,953.7 410.9,955.0 409.0,956.3 407.1,957.5 405.2,958.8 403.3,960.1 401.4,961.4 399.5,962.7 397.6,964.0 395.7,965.3 393.8,966.6 391.9,968.0 390.0,969.3 388.0,970.6 386.1,971.9 384.2,973.3 382.3,974.6 380.4,976.0 378.5,977.3 376.6,978.6 374.7,980.0 372.8,981.3 370.9,982.7 369.0,984.0 367.1,985.3 365.1,986.7 363.2,988.0 361.3,989.3 359.4,990.7 357.5,992.0 355.6,993.3 353.7,994.6 351.8,995.9 349.9,997.2 348.0,998.5 346.1,999.8 344.2,1001.1 342.2,1002.4 340.3,1003.7 338.4,1004.9 336.5,1006.2 334.6,1007.4 332.7,1008.7 330.8,1009.9 328.9,1011.1 327.0,1012.3 325.1,1013.5 323.2,1014.7 321.3,1015.9 319.3,1017.0 317.4,1018.2 315.5,1019.3 313.6,1020.4 311.7,1021.5 309.8,1022.6 307.9,1023.7 306.0,1024.8 304.1,1025.8 302.2,1026.8 300.3,1027.8 298.4,1028.8 296.4,1029.8 294.5,1030.8 292.6,1031.7 290.7,1032.6 288.8,1033.6 286.9,1034.5 285.0,1035.3 283.1,1036.2 281.2,1037.0 279.3,1037.9 277.4,1038.7 275.5,1039.5 273.5,1040.3 271.6,1041.1 269.7,1041.8 267.8,1042.6 265.9,1043.3 264.0,1044.1 262.1,1044.8 260.2,1045.5 258.3,1046.2 256.4,1046.8 254.5,1047.5 252.6,1048.1 250.6,1048.8 248.7,1049.4 246.8,1050.0 244.9,1050.6 243.0,1051.2 241.1,1051.8 239.2,1052.4 237.3,1052.9 235.4,1053.5 233.5,1054.0 231.6,1054.6 229.7,1055.1 227.7,1055.6 225.8,1056.1 223.9,1056.6 222.0,1057.1 220.1,1057.6 218.2,1058.1 216.3,1058.6 214.4,1059.0 212.5,1059.5 210.6,1059.9 208.7,1060.4 206.8,1060.8 204.8,1061.2 202.9,1061.6 201.0,1062.1 199.1,1062.5 197.2,1062.9 195.3,1063.3 193.4,1063.7 191.5,1064.1 189.6,1064.4 187.7,1064.8 185.8,1065.2 183.9,1065.6 181.9,1065.9 180.0,1066.3 178.1,1066.7 176.2,1067.0 174.3,1067.4 172.4,1067.8" fill="#add8e6"/>
<polyline points="172.4,1042.8 174.3,1042.9 176.2,1042.9 178.1,1043.0 180.0,1043.0 181.9,1043.0 183.9,1043.0 185.8,1043.0 187.7,1043.0 189.6,1042.9 191.5,1042.8 193.4,1042.7 195.3,1042.6 197.2,1042.5 199.1,1042.4 201.0,1042.2 202.9,1042.0 204.8,1041.8 206.8,1041.6 208.7,1041.4 210.6,1041.1 212.5,1040.8 214.4,1040.5 216.3,1040.2 218.2,1039.9 220.1,1039.6 222.0,1039.2 223.9,1038.8 225.8,1038.4 227.7,1038.0 229.7,1037.6 231.6,1037.1 233.5,1036.7 235.4,1036.2 237.3,1035.7 239.2,1035.2 241.1,1034.6 243.0,1034.1 244.9,1033.5 246.8,1032.9 248.7,1032.3 250.6,1031.7 252.6,1031.0 254.5,1030.4 256.4,1029.7 258.3,1029.0 260.2,1028.3 262.1,1027.5 264.0,1026.8 265.9,1026.0 267.8,1025.2 269.7,1024.4 271.6,1023.6 273.5,1022.7 275.5,1021.9 277.4,1021.0 279.3,1020.1 281.2,1019.2 283.1,1018.2 285.0,1017.3 286.9,1016.3 288.8,1015.3 290.7,1014.3 292.6,1013.3 294.5,1012.3 296.4,1011.2 298.4,1010.1 300.3,1009.0 302.2,1007.9 304.1,1006.8 306.0,1005.6 307.9,1004.5 309.8,1003.3 311.7,1002.1 313.6,1000.9 315.5,999.6 317.4,998.4 319.3,997.1 321.3,995.9 323.2,994.6 325.1,993.3 327.0,992.0 328.9,990.6 330.8,989.3 332.7,987.9 334.6,986.6 336.5,985.2 338.4,983.8 340.3,982.4 342.2,981.0 344.2,979.5 346.1,978.1 348.0,976.6 349.9,975.2 351.8,973.7 353.7,972.2 355.6,970.8 357.5,969.3 359.4,967.8 361.3,966.3 363.2,964.7 365.1,963.2 367.1,961.7 369.0,960.2 370.9,958.6 372.8,957.1 374.7,955.5 376.6,954.0 378.5,952.4 380.4,950.8 382.3,949.3 384.2,947.7 386.1,946.1 388.0,944.5 390.0,942.9 391.9,941.4 393.8,939.8 395.7,938.2 397.6,936.6 399.5,935.0 401.4,933.4 403.3,931.8 405.2,930.2 407.1,928.6 409.0,927.0 410.9,925.4 412.9,923.8 414.8,922.2 416.7,920.7 418.6,919.1 420.5,917.5 422.4,915.9 424.3,914.3 426.2,912.8 428.1,911.2 430.0,909.6 431.9,908.1 433.8,906.5 435.8,905.0 437.7,903.4 439.6,901.9 441.5,900.3 443.4,898.8 445.3,897.3 447.2,895.8 449.1,894.3 451.0,892.8 452.9,891.3 454.8,889.8 456.7,888.3 458.7,886.9 460.6,885.4 462.5,884.0 464.4,882.5 466.3,881.1 468.2,879.7 470.1,878.3 472.0,876.9 473.9,875.5 475.8,874.1 477.7,872.8 479.6,871.4 481.6,870.1 483.5,868.7 485.4,867.4 487.3,866.1 489.2,864.8 491.1,863.5 493.0,862.2 494.9,861.0 496.8,859.7 498.7,858.5 500.6,857.2 502.5,856.0 504.5,854.8 506.4,853.6 508.3,852.4 510.2,851.3 512.1,850.1 514.0,849.0 515.9,847.9 517.8,846.8 519.7,845.7 521.6,844.6 523.5,843.5 525.4,842.4 527.4,841.4 529.3,840.4 531.2,839.4 533.1,838.4 535.0,837.4 536.9,836.4 538.8,835.5 540.7,834.6 542.6,833.6 544.5,832.7 546.4,831.9 548.3,831.0 550.3,830.1 552.2,829.3 554.1,828.5 556.0,827.7 557.9,826.9 559.8,826.1 561.7,825.4 563.6,824.7 565.5,824.0 567.4,823.3 569.3,822.6 571.2,821.9 573.2,821.3 575.1,820.7 577.0,820.1 578.9,819.5 580.8,818.9 582.7,818.4 584.6,817.9 586.5,817.4 588.4,816.9 590.3,816.4 592.2,816.0 594.1,815.5 596.1,815.1 598.0,814.8 599.9,814.4 601.8,814.1 603.7,813.7 605.6,813.4 607.5,813.2 609.4,812.9 611.3,812.7 613.2,812.5 615.1,812.3 617.0,812.1 619.0,811.9 620.9,811.8 622.8,811.7 624.7,811.6 626.6,811.5 628.5,811.4 630.4,811.4 632.3,811.3 634.2,811.3 636.1,811.3 638.0,811.3 639.9,811.4 641.9,811.4 643.8,811.5 645.7,811.6 647.6,811.7 649.5,811.8 651.4,811.9 653.3,812.0 655.2,812.2 657.1,812.3 659.0,812.5 660.9,812.7 662.8,812.9 664.8,813.2 666.7,813.4 668.6,813.6 670.5,813.9 672.4,814.2 674.3,814.4 676.2,814.7 678.1,815.0 680.0,815.3 681.9,815.7 683.8,816.0 685.7,816.3 687.7,816.7 689.6,817.1 691.5,817.4 693.4,817.8 695.3,818.2 697.2,818.6 699.1,819.0 701.0,819.4 702.9,819.9 704.8,820.3 706.7,820.7 708.6,821.2 710.6,821.6 712.5,822.1 714.4,822.5 716.3,823.0 718.2,823.5 720.1,824.0 722.0,824.5 723.9,824.9 725.8,825.4 727.7,825.9 729.6,826.4 731.5,827.0 733.5,827.5 735.4,828.0 737.3,828.5 739.2,829.0 741.1,829.5 743.0,830.1" fill="none" stroke="#0000cd" stroke-width="2.60" stroke-linejoin="round"/>
</g>
<rect x="173.40" y="642.50" width="567.60" height="445.70" fill="none" stroke="#000" stroke-width="1.60"/>
<line x1="173.40" y1="1088.20" x2="173.40" y2="1093.70" stroke="#000" stroke-width="1.30"/><g transform="matrix(0.23800,0.00000,0.00000,0.23800,154.48039,1118.45000)" fill="#000"><text x="-0.0 58.4 87.6" y="-0.78" font-size="105.00" transform="scale(1.0895,1)">0.0</text></g><line x1="291.65" y1="1088.20" x2="291.65" y2="1093.70" stroke="#000" stroke-width="1.30"/><g transform="matrix(0.23800,0.00000,0.00000,0.23800,272.97955,1118.45000)" fill="#000"><text x="-0.0 58.4 87.6" y="-0.78" font-size="105.00" transform="scale(1.0895,1)">0.5</text></g><line x1="409.90" y1="1088.20" x2="409.90" y2="1093.70" stroke="#000" stroke-width="1.30"/><g transform="matrix(0.23800,0.00000,0.00000,0.23800,390.45791,1118.45000)" fill="#000"><text x="-0.0 58.4 87.6" y="-0.78" font-size="105.00" transform="scale(1.0895,1)">1.0</text></g><line x1="528.15" y1="1088.20" x2="528.15" y2="1093.70" stroke="#000" stroke-width="1.30"/><g transform="matrix(0.23800,0.00000,0.00000,0.23800,508.95707,1117.97400)" fill="#000"><text x="-0.0 58.4 87.6" y="-0.09" font-size="105.00" transform="scale(1.0895,1)">1.5</text></g><line x1="646.40" y1="1088.20" x2="646.40" y2="1093.70" stroke="#000" stroke-width="1.30"/><g transform="matrix(0.23800,0.00000,0.00000,0.23800,627.39300,1118.45000)" fill="#000"><text x="-0.0 58.4 87.6" y="-0.78" font-size="105.00" transform="scale(1.0895,1)">2.0</text></g>
<line x1="167.90" y1="741.50" x2="173.40" y2="741.50" stroke="#000" stroke-width="1.30"/><g transform="matrix(0.23800,0.00000,0.00000,0.23800,145.93772,750.34877)" fill="#000"><text x="-0.0" y="-0.78" font-size="105.00" transform="scale(1.0895,1)">0</text></g><line x1="167.90" y1="843.07" x2="173.40" y2="843.07" stroke="#000" stroke-width="1.30"/><g transform="matrix(0.23800,0.00000,0.00000,0.23800,80.56907,851.91543)" fill="#000"><text x="7.8 76.9 135.3 193.7 252.1" y="-0.78" font-size="105.00" transform="scale(1.0895,1)">−1000</text></g><line x1="167.90" y1="944.63" x2="173.40" y2="944.63" stroke="#000" stroke-width="1.30"/><g transform="matrix(0.23800,0.00000,0.00000,0.23800,80.56907,953.48210)" fill="#000"><text x="7.8 76.9 135.3 193.7 252.1" y="-0.78" font-size="105.00" transform="scale(1.0895,1)">−2000</text></g><line x1="167.90" y1="1046.20" x2="173.40" y2="1046.20" stroke="#000" stroke-width="1.30"/><g transform="matrix(0.23800,0.00000,0.00000,0.23800,80.56907,1055.04877)" fill="#000"><text x="7.8 76.9 135.3 193.7 252.1" y="-0.78" font-size="105.00" transform="scale(1.0895,1)">−3000</text></g>
<rect x="184.7" y="655.0" width="342.1" height="113.4" rx="5.0" fill="#fff" stroke="#cccccc" stroke-width="1.1"/>
<rect x="192.2" y="675.4" width="46.7" height="17" fill="#add8e6"/>
<line x1="192.2" y1="737.6" x2="238.9" y2="737.6" stroke="#0000cd" stroke-width="1.8"/>
<g transform="matrix(0.22209,0.00000,0.00000,0.22209,255.30000,692.00000)" fill="#000"><path d="M421.4 47.7L421.4 51.1Q405.9 36.5 396.9 14.9Q387.8 -6.7 387.8 -33.8Q387.8 -60.9 397.1 -83.8Q406.4 -106.6 421.4 -118.7L421.4 -115.6Q410.9 -104.9 403.7 -83.9Q396.6 -63.0 396.6 -33.8Q396.6 17.3 421.4 47.7Z"/><path d="M623.6 -115.4L623.6 -118.7Q639.1 -104.1 648.1 -82.5Q657.2 -60.9 657.2 -33.8Q657.2 -6.7 647.9 16.1Q638.7 39.0 623.6 51.1L623.6 48.0Q634.1 37.3 641.3 16.3Q648.4 -4.7 648.4 -33.8Q648.4 -84.9 623.6 -115.4Z"/><text x="-0.0" y="-55.84" font-size="73.50" font-style="italic" transform="scale(1.0870,1)">d</text><text x="45.6" y="-82.63" font-size="51.45" transform="scale(1.0885,1)">2</text><text x="76.1" y="-55.84" font-size="73.50" font-style="italic" transform="scale(1.0870,1)">d</text><text x="126.9" y="-44.35" font-size="51.45" font-style="italic">M</text><text x="26.7 67.7" y="50.06" font-size="73.50" font-style="italic" transform="scale(1.0434,1)">dz</text><text x="102.3" y="23.27" font-size="51.45" transform="scale(1.0885,1)">2</text><text x="173.1 245.5" y="-0.55" font-size="105.00" transform="scale(1.2147,1)">±Δ</text><text x="394.9" y="-55.84" font-size="73.50" font-style="italic" transform="scale(1.0870,1)">d</text><text x="440.0" y="-82.63" font-size="51.45" transform="scale(1.0885,1)">2</text><text x="471.0" y="-55.84" font-size="73.50" font-style="italic" transform="scale(1.0870,1)">d</text><text x="556.1" y="-44.35" font-size="51.45" font-style="italic">M</text><text x="438.2 479.1" y="50.06" font-size="73.50" font-style="italic" transform="scale(1.0434,1)">dz</text><text x="496.7" y="23.27" font-size="51.45" transform="scale(1.0885,1)">2</text><text x="613.1 643.5 676.5 731.2" y="-0.55" font-size="105.00" transform="scale(1.1448,1)">from</text><text x="965.6 1040.3 1102.3" y="-0.55" font-size="105.00">GPR</text><rect x="0.0" y="-25.6" width="171.4" height="6.2"/><rect x="429.3" y="-25.6" width="171.4" height="6.2"/></g>
<g transform="matrix(0.22375,0.00000,0.00000,0.22375,253.96873,744.40000)" fill="#000"><text x="1.8 90.7 148.1 206.3" y="-0.55" font-size="105.00" transform="scale(1.0694,1)">mean</text><text x="290.1" y="-55.84" font-size="73.50" font-style="italic" transform="scale(1.0870,1)">d</text><text x="335.4" y="-82.63" font-size="51.45" transform="scale(1.0885,1)">2</text><text x="366.3" y="-55.84" font-size="73.50" font-style="italic" transform="scale(1.0870,1)">d</text><text x="442.2" y="-44.35" font-size="51.45" font-style="italic">M</text><text x="329.0 370.0" y="50.06" font-size="73.50" font-style="italic" transform="scale(1.0434,1)">dz</text><text x="392.0" y="23.27" font-size="51.45" transform="scale(1.0885,1)">2</text><text x="464.7 495.1 528.1 582.8" y="-0.55" font-size="105.00" transform="scale(1.1448,1)">from</text><text x="795.6 870.4 932.3" y="-0.55" font-size="105.00">GPR</text><rect x="315.4" y="-25.6" width="171.4" height="6.2"/></g>
<g transform="matrix(0.31628,0.00000,0.00000,0.31628,213.81451,631.80000)" fill="#000"><text x="-5.8 59.6 84.1 142.5 202.1 225.7 282.4 320.0 351.7 406.8 457.5" y="-0.02" font-size="105.00" transform="scale(1.0853,1)">Single-task</text><text x="583.7 658.4 720.4 795.3" y="-0.02" font-size="105.00">GPR:</text><text x="796.0 858.6 916.9 979.5 1012.8 1071.2 1128.6 1186.8 1238.9 1303.4 1328.5 1385.4" y="-0.02" font-size="105.00" transform="scale(1.0694,1)">PantheonPlus</text></g>
<g transform="matrix(0.38100,0.00000,0.00000,0.39863,446.11311,1159.92457)" fill="#000"><text x="-0.0" y="-0.31" font-size="105.00" font-style="italic">z</text></g>
<g transform="matrix(0.00000,-0.33586,0.31990,0.00000,56.57025,918.70000)" fill="#000"><text x="-0.0" y="-55.84" font-size="73.50" font-style="italic" transform="scale(1.0870,1)">d</text><text x="45.6" y="-82.63" font-size="51.45" transform="scale(1.0885,1)">2</text><text x="76.1" y="-55.84" font-size="73.50" font-style="italic" transform="scale(1.0870,1)">d</text><text x="126.9" y="-44.35" font-size="51.45" font-style="italic">M</text><text x="26.7 67.7" y="50.06" font-size="73.50" font-style="italic" transform="scale(1.0434,1)">dz</text><text x="102.3" y="23.27" font-size="51.45" transform="scale(1.0885,1)">2</text><text x="164.8" y="-0.55" font-size="105.00" transform="scale(1.1158,1)">(</text><text x="222.9" y="-0.55" font-size="105.00" font-style="italic">z</text><text x="246.8" y="-0.55" font-size="105.00" transform="scale(1.1158,1)">)</text><rect x="0.0" y="-25.6" width="171.4" height="6.2"/></g>
<g clip-path="url(#cp4)">
<polygon points="871.8,849.4 873.9,849.2 875.9,849.0 878.0,848.8 880.0,848.6 882.1,848.4 884.1,848.2 886.2,848.0 888.2,847.8 890.3,847.5 892.4,847.3 894.4,847.1 896.5,846.9 898.5,846.7 900.6,846.5 902.6,846.2 904.7,846.0 906.7,845.8 908.8,845.6 910.8,845.3 912.9,845.1 915.0,844.8 917.0,844.6 919.1,844.3 921.1,844.0 923.2,843.8 925.2,843.5 927.3,843.2 929.3,842.9 931.4,842.6 933.5,842.3 935.5,842.0 937.6,841.7 939.6,841.3 941.7,841.0 943.7,840.6 945.8,840.3 947.8,839.9 949.9,839.5 952.0,839.1 954.0,838.7 956.1,838.3 958.1,837.9 960.2,837.4 962.2,837.0 964.3,836.5 966.3,836.0 968.4,835.5 970.4,835.0 972.5,834.5 974.6,834.0 976.6,833.4 978.7,832.9 980.7,832.3 982.8,831.7 984.8,831.1 986.9,830.5 988.9,829.8 991.0,829.2 993.1,828.5 995.1,827.8 997.2,827.1 999.2,826.4 1001.3,825.6 1003.3,824.9 1005.4,824.1 1007.4,823.3 1009.5,822.5 1011.6,821.7 1013.6,820.8 1015.7,819.9 1017.7,819.0 1019.8,818.1 1021.8,817.2 1023.9,816.2 1025.9,815.2 1028.0,814.2 1030.0,813.2 1032.1,812.1 1034.2,811.0 1036.2,809.9 1038.3,808.8 1040.3,807.7 1042.4,806.5 1044.4,805.3 1046.5,804.1 1048.5,802.9 1050.6,801.6 1052.7,800.3 1054.7,799.0 1056.8,797.6 1058.8,796.2 1060.9,794.8 1062.9,793.4 1065.0,791.9 1067.0,790.5 1069.1,788.9 1071.2,787.4 1073.2,785.8 1075.3,784.2 1077.3,782.6 1079.4,780.9 1081.4,779.3 1083.5,777.5 1085.5,775.8 1087.6,774.0 1089.6,772.2 1091.7,770.4 1093.8,768.5 1095.8,766.7 1097.9,764.8 1099.9,762.8 1102.0,760.8 1104.0,758.8 1106.1,756.8 1108.1,754.8 1110.2,752.7 1112.3,750.6 1114.3,748.4 1116.4,746.3 1118.4,744.1 1120.5,741.9 1122.5,739.6 1124.6,737.3 1126.6,735.0 1128.7,732.7 1130.8,730.3 1132.8,727.9 1134.9,725.5 1136.9,723.0 1139.0,720.5 1141.0,718.0 1143.1,715.5 1145.1,712.9 1147.2,710.3 1149.2,707.6 1151.3,704.9 1153.4,702.2 1155.4,699.4 1157.5,696.6 1159.5,693.8 1161.6,690.9 1163.6,688.0 1165.7,685.1 1167.7,682.1 1169.8,679.1 1171.9,676.0 1173.9,672.9 1176.0,669.8 1178.0,666.6 1180.1,663.4 1182.1,660.2 1184.2,656.9 1186.2,653.5 1188.3,650.2 1190.4,646.7 1192.4,643.3 1194.5,639.8 1196.5,636.2 1198.6,632.6 1200.6,629.0 1202.7,625.3 1204.7,621.6 1206.8,617.8 1208.9,614.1 1210.9,610.3 1213.0,606.5 1215.0,602.8 1217.1,599.0 1219.1,595.3 1221.2,591.5 1223.2,587.8 1225.3,584.0 1227.3,580.3 1229.4,576.5 1231.5,572.7 1233.5,569.0 1235.6,565.2 1237.6,561.5 1239.7,557.7 1241.7,554.0 1243.8,550.2 1245.8,546.5 1247.9,542.7 1250.0,539.0 1252.0,535.2 1254.1,531.4 1256.1,527.7 1258.2,523.9 1260.2,520.2 1262.3,516.4 1264.3,512.7 1266.4,508.9 1268.5,505.2 1270.5,501.4 1272.6,497.6 1274.6,493.9 1276.7,490.1 1278.7,486.4 1280.8,482.6 1282.8,478.9 1284.9,475.1 1286.9,471.4 1289.0,467.6 1291.1,463.9 1293.1,460.1 1295.2,456.3 1297.2,452.6 1299.3,448.8 1301.3,445.1 1303.4,441.3 1305.4,437.6 1307.5,433.8 1309.6,430.1 1311.6,426.3 1313.7,422.6 1315.7,418.8 1317.8,415.0 1319.8,411.3 1321.9,407.5 1323.9,403.8 1326.0,400.0 1328.1,396.3 1330.1,392.5 1332.2,388.8 1334.2,385.0 1336.3,381.2 1338.3,377.5 1340.4,373.7 1342.4,370.0 1344.5,366.2 1346.5,362.5 1348.6,358.7 1350.7,355.0 1352.7,351.2 1354.8,347.5 1356.8,343.7 1358.9,339.9 1360.9,336.2 1363.0,332.4 1365.0,328.7 1367.1,324.9 1369.2,321.2 1371.2,317.4 1373.3,313.7 1375.3,309.9 1377.4,306.1 1379.4,302.4 1381.5,298.6 1383.5,294.9 1385.6,291.1 1387.7,287.4 1389.7,283.6 1391.8,279.9 1393.8,276.1 1395.9,272.4 1397.9,268.6 1400.0,264.8 1402.0,261.1 1404.1,257.3 1406.1,253.6 1408.2,249.8 1410.3,246.1 1412.3,242.3 1414.4,238.6 1416.4,234.8 1418.5,231.0 1420.5,227.3 1422.6,223.5 1424.6,219.8 1426.7,216.0 1428.8,212.3 1430.8,208.5 1432.9,204.8 1434.9,201.0 1437.0,197.3 1439.0,193.5 1441.1,189.7 1443.1,186.0 1445.2,182.2 1447.3,178.5 1449.3,174.7 1451.4,171.0 1453.4,167.2 1455.5,163.5 1457.5,159.7 1459.6,155.9 1461.6,152.2 1463.7,148.4 1465.7,144.7 1467.8,140.9 1469.9,137.2 1471.9,133.4 1474.0,129.7 1476.0,125.9 1478.1,122.2 1480.1,118.4 1482.2,114.6 1484.2,110.9 1486.3,107.1 1486.3,1408.3 1484.2,1405.6 1482.2,1402.8 1480.1,1400.1 1478.1,1397.4 1476.0,1394.6 1474.0,1391.9 1471.9,1389.1 1469.9,1386.4 1467.8,1383.7 1465.7,1380.9 1463.7,1378.2 1461.6,1375.5 1459.6,1372.7 1457.5,1370.0 1455.5,1367.3 1453.4,1364.5 1451.4,1361.8 1449.3,1359.1 1447.3,1356.3 1445.2,1353.6 1443.1,1350.9 1441.1,1348.1 1439.0,1345.4 1437.0,1342.7 1434.9,1339.9 1432.9,1337.2 1430.8,1334.5 1428.8,1331.7 1426.7,1329.0 1424.6,1326.2 1422.6,1323.5 1420.5,1320.8 1418.5,1318.0 1416.4,1315.3 1414.4,1312.6 1412.3,1309.8 1410.3,1307.1 1408.2,1304.4 1406.1,1301.6 1404.1,1298.9 1402.0,1296.2 1400.0,1293.4 1397.9,1290.7 1395.9,1288.0 1393.8,1285.2 1391.8,1282.5 1389.7,1279.8 1387.7,1277.0 1385.6,1274.3 1383.5,1271.6 1381.5,1268.8 1379.4,1266.1 1377.4,1263.3 1375.3,1260.6 1373.3,1257.9 1371.2,1255.1 1369.2,1252.4 1367.1,1249.7 1365.0,1246.9 1363.0,1244.2 1360.9,1241.5 1358.9,1238.7 1356.8,1236.0 1354.8,1233.3 1352.7,1230.5 1350.7,1227.8 1348.6,1225.1 1346.5,1222.3 1344.5,1219.6 1342.4,1216.9 1340.4,1214.1 1338.3,1211.4 1336.3,1208.6 1334.2,1205.9 1332.2,1203.2 1330.1,1200.4 1328.1,1197.7 1326.0,1195.0 1323.9,1192.2 1321.9,1189.5 1319.8,1186.8 1317.8,1184.0 1315.7,1181.3 1313.7,1178.6 1311.6,1175.8 1309.6,1173.1 1307.5,1170.4 1305.4,1167.6 1303.4,1164.9 1301.3,1162.2 1299.3,1159.4 1297.2,1156.7 1295.2,1154.0 1293.1,1151.2 1291.1,1148.5 1289.0,1145.7 1286.9,1143.0 1284.9,1140.3 1282.8,1137.5 1280.8,1134.8 1278.7,1132.1 1276.7,1129.3 1274.6,1126.6 1272.6,1123.9 1270.5,1121.1 1268.5,1118.4 1266.4,1115.7 1264.3,1112.9 1262.3,1110.2 1260.2,1107.5 1258.2,1104.7 1256.1,1102.0 1254.1,1099.3 1252.0,1096.5 1250.0,1093.8 1247.9,1091.1 1245.8,1088.5 1243.8,1085.9 1241.7,1083.3 1239.7,1080.8 1237.6,1078.3 1235.6,1075.8 1233.5,1073.4 1231.5,1071.0 1229.4,1068.6 1227.3,1066.3 1225.3,1064.0 1223.2,1061.8 1221.2,1059.6 1219.1,1057.4 1217.1,1055.2 1215.0,1053.1 1213.0,1051.0 1210.9,1048.9 1208.9,1046.9 1206.8,1044.9 1204.7,1042.9 1202.7,1041.0 1200.6,1039.1 1198.6,1037.2 1196.5,1035.4 1194.5,1033.5 1192.4,1031.7 1190.4,1030.0 1188.3,1028.2 1186.2,1026.5 1184.2,1024.8 1182.1,1023.1 1180.1,1021.5 1178.0,1019.9 1176.0,1018.3 1173.9,1016.7 1171.9,1015.2 1169.8,1013.7 1167.7,1012.2 1165.7,1010.7 1163.6,1009.3 1161.6,1007.9 1159.5,1006.5 1157.5,1005.2 1155.4,1003.8 1153.4,1002.5 1151.3,1001.2 1149.2,1000.0 1147.2,998.7 1145.1,997.5 1143.1,996.3 1141.0,995.1 1139.0,994.0 1136.9,992.9 1134.9,991.8 1132.8,990.7 1130.8,989.6 1128.7,988.6 1126.6,987.6 1124.6,986.6 1122.5,985.7 1120.5,984.7 1118.4,983.8 1116.4,982.9 1114.3,982.0 1112.3,981.2 1110.2,980.4 1108.1,979.6 1106.1,978.8 1104.0,978.0 1102.0,977.3 1099.9,976.6 1097.9,975.9 1095.8,975.2 1093.8,974.6 1091.7,973.9 1089.6,973.3 1087.6,972.7 1085.5,972.2 1083.5,971.6 1081.4,971.1 1079.4,970.6 1077.3,970.1 1075.3,969.6 1073.2,969.1 1071.2,968.7 1069.1,968.3 1067.0,967.9 1065.0,967.5 1062.9,967.1 1060.9,966.8 1058.8,966.5 1056.8,966.1 1054.7,965.9 1052.7,965.6 1050.6,965.3 1048.5,965.1 1046.5,964.8 1044.4,964.6 1042.4,964.4 1040.3,964.2 1038.3,964.1 1036.2,963.9 1034.2,963.8 1032.1,963.7 1030.0,963.6 1028.0,963.5 1025.9,963.4 1023.9,963.3 1021.8,963.3 1019.8,963.2 1017.7,963.2 1015.7,963.2 1013.6,963.2 1011.6,963.2 1009.5,963.2 1007.4,963.3 1005.4,963.3 1003.3,963.4 1001.3,963.4 999.2,963.5 997.2,963.6 995.1,963.7 993.1,963.8 991.0,964.0 988.9,964.1 986.9,964.2 984.8,964.4 982.8,964.6 980.7,964.7 978.7,964.9 976.6,965.1 974.6,965.3 972.5,965.5 970.4,965.7 968.4,966.0 966.3,966.2 964.3,966.4 962.2,966.7 960.2,967.0 958.1,967.2 956.1,967.5 954.0,967.8 952.0,968.1 949.9,968.3 947.8,968.6 945.8,968.9 943.7,969.3 941.7,969.6 939.6,969.9 937.6,970.2 935.5,970.5 933.5,970.9 931.4,971.2 929.3,971.6 927.3,971.9 925.2,972.3 923.2,972.6 921.1,973.0 919.1,973.3 917.0,973.7 915.0,974.1 912.9,974.4 910.8,974.8 908.8,975.2 906.7,975.5 904.7,975.9 902.6,976.3 900.6,976.7 898.5,977.1 896.5,977.4 894.4,977.8 892.4,978.2 890.3,978.6 888.2,979.0 886.2,979.3 884.1,979.7 882.1,980.1 880.0,980.5 878.0,980.9 875.9,981.2 873.9,981.6 871.8,982.0" fill="#d3d3d3"/>
<polygon points="871.8,869.8 873.9,869.6 875.9,869.4 878.0,869.2 880.0,869.1 882.1,868.9 884.1,868.7 886.2,868.5 888.2,868.3 890.3,868.1 892.4,867.9 894.4,867.7 896.5,867.5 898.5,867.3 900.6,867.1 902.6,866.9 904.7,866.7 906.7,866.4 908.8,866.2 910.8,866.0 912.9,865.7 915.0,865.5 917.0,865.2 919.1,865.0 921.1,864.7 923.2,864.4 925.2,864.2 927.3,863.9 929.3,863.6 931.4,863.3 933.5,863.0 935.5,862.7 937.6,862.4 939.6,862.0 941.7,861.7 943.7,861.4 945.8,861.0 947.8,860.6 949.9,860.3 952.0,859.9 954.0,859.5 956.1,859.1 958.1,858.7 960.2,858.3 962.2,857.8 964.3,857.4 966.3,857.0 968.4,856.5 970.4,856.0 972.5,855.6 974.6,855.1 976.6,854.6 978.7,854.0 980.7,853.5 982.8,853.0 984.8,852.4 986.9,851.9 988.9,851.3 991.0,850.7 993.1,850.1 995.1,849.5 997.2,848.9 999.2,848.2 1001.3,847.6 1003.3,846.9 1005.4,846.2 1007.4,845.5 1009.5,844.8 1011.6,844.1 1013.6,843.4 1015.7,842.6 1017.7,841.8 1019.8,841.1 1021.8,840.3 1023.9,839.4 1025.9,838.6 1028.0,837.8 1030.0,836.9 1032.1,836.0 1034.2,835.1 1036.2,834.2 1038.3,833.3 1040.3,832.3 1042.4,831.4 1044.4,830.4 1046.5,829.4 1048.5,828.4 1050.6,827.3 1052.7,826.3 1054.7,825.2 1056.8,824.1 1058.8,823.0 1060.9,821.9 1062.9,820.7 1065.0,819.6 1067.0,818.4 1069.1,817.2 1071.2,815.9 1073.2,814.7 1075.3,813.4 1077.3,812.1 1079.4,810.8 1081.4,809.5 1083.5,808.1 1085.5,806.8 1087.6,805.4 1089.6,803.9 1091.7,802.5 1093.8,801.0 1095.8,799.6 1097.9,798.1 1099.9,796.5 1102.0,795.0 1104.0,793.4 1106.1,791.8 1108.1,790.2 1110.2,788.6 1112.3,786.9 1114.3,785.2 1116.4,783.5 1118.4,781.8 1120.5,780.0 1122.5,778.2 1124.6,776.4 1126.6,774.6 1128.7,772.7 1130.8,770.9 1132.8,769.0 1134.9,767.0 1136.9,765.1 1139.0,763.1 1141.0,761.1 1143.1,759.1 1145.1,757.1 1147.2,755.0 1149.2,752.9 1151.3,750.8 1153.4,748.6 1155.4,746.4 1157.5,744.2 1159.5,742.0 1161.6,739.8 1163.6,737.5 1165.7,735.2 1167.7,732.9 1169.8,730.5 1171.9,728.2 1173.9,725.8 1176.0,723.4 1178.0,721.0 1180.1,718.6 1182.1,716.1 1184.2,713.7 1186.2,711.2 1188.3,708.7 1190.4,706.2 1192.4,703.7 1194.5,701.1 1196.5,698.6 1198.6,696.0 1200.6,693.4 1202.7,690.8 1204.7,688.2 1206.8,685.6 1208.9,683.0 1210.9,680.4 1213.0,677.7 1215.0,675.1 1217.1,672.4 1219.1,669.8 1221.2,667.1 1223.2,664.4 1225.3,661.8 1227.3,659.1 1229.4,656.4 1231.5,653.7 1233.5,651.0 1235.6,648.4 1237.6,645.7 1239.7,643.0 1241.7,640.3 1243.8,637.6 1245.8,635.0 1247.9,632.3 1250.0,629.6 1252.0,627.0 1254.1,624.3 1256.1,621.7 1258.2,619.0 1260.2,616.4 1262.3,613.7 1264.3,611.1 1266.4,608.4 1268.5,605.8 1270.5,603.1 1272.6,600.5 1274.6,597.8 1276.7,595.2 1278.7,592.5 1280.8,589.9 1282.8,587.2 1284.9,584.6 1286.9,581.9 1289.0,579.3 1291.1,576.6 1293.1,574.0 1295.2,571.3 1297.2,568.7 1299.3,566.0 1301.3,563.4 1303.4,560.8 1305.4,558.1 1307.5,555.5 1309.6,552.8 1311.6,550.2 1313.7,547.5 1315.7,544.9 1317.8,542.2 1319.8,539.6 1321.9,536.9 1323.9,534.3 1326.0,531.6 1328.1,529.0 1330.1,526.3 1332.2,523.7 1334.2,521.0 1336.3,518.4 1338.3,515.7 1340.4,513.1 1342.4,510.4 1344.5,507.8 1346.5,505.1 1348.6,502.5 1350.7,499.8 1352.7,497.2 1354.8,494.5 1356.8,491.9 1358.9,489.2 1360.9,486.6 1363.0,483.9 1365.0,481.3 1367.1,478.6 1369.2,476.0 1371.2,473.4 1373.3,470.7 1375.3,468.1 1377.4,465.4 1379.4,462.8 1381.5,460.1 1383.5,457.5 1385.6,454.8 1387.7,452.2 1389.7,449.5 1391.8,446.9 1393.8,444.2 1395.9,441.6 1397.9,438.9 1400.0,436.3 1402.0,433.6 1404.1,431.0 1406.1,428.3 1408.2,425.7 1410.3,423.0 1412.3,420.4 1414.4,417.7 1416.4,415.1 1418.5,412.4 1420.5,409.8 1422.6,407.1 1424.6,404.5 1426.7,401.8 1428.8,399.2 1430.8,396.5 1432.9,393.9 1434.9,391.3 1437.0,388.6 1439.0,386.0 1441.1,383.3 1443.1,380.7 1445.2,378.0 1447.3,375.4 1449.3,372.7 1451.4,370.1 1453.4,367.4 1455.5,364.8 1457.5,362.1 1459.6,359.5 1461.6,356.8 1463.7,354.2 1465.7,351.5 1467.8,348.9 1469.9,346.2 1471.9,343.6 1474.0,340.9 1476.0,338.3 1478.1,335.6 1480.1,333.0 1482.2,330.3 1484.2,327.7 1486.3,325.0 1486.3,1321.4 1484.2,1318.1 1482.2,1314.7 1480.1,1311.3 1478.1,1307.9 1476.0,1304.5 1474.0,1301.1 1471.9,1297.7 1469.9,1294.3 1467.8,1290.9 1465.7,1287.5 1463.7,1284.1 1461.6,1280.8 1459.6,1277.4 1457.5,1274.0 1455.5,1270.6 1453.4,1267.2 1451.4,1263.8 1449.3,1260.4 1447.3,1257.0 1445.2,1253.6 1443.1,1250.2 1441.1,1246.8 1439.0,1243.5 1437.0,1240.1 1434.9,1236.7 1432.9,1233.3 1430.8,1229.9 1428.8,1226.5 1426.7,1223.1 1424.6,1219.7 1422.6,1216.3 1420.5,1212.9 1418.5,1209.5 1416.4,1206.2 1414.4,1202.8 1412.3,1199.4 1410.3,1196.0 1408.2,1192.6 1406.1,1189.2 1404.1,1185.8 1402.0,1182.4 1400.0,1179.0 1397.9,1175.6 1395.9,1172.2 1393.8,1168.9 1391.8,1165.5 1389.7,1162.1 1387.7,1158.7 1385.6,1155.3 1383.5,1151.9 1381.5,1148.5 1379.4,1145.1 1377.4,1141.7 1375.3,1138.3 1373.3,1134.9 1371.2,1131.6 1369.2,1128.2 1367.1,1124.8 1365.0,1121.4 1363.0,1118.0 1360.9,1114.6 1358.9,1111.2 1356.8,1107.8 1354.8,1104.4 1352.7,1101.0 1350.7,1097.6 1348.6,1094.3 1346.5,1091.1 1344.5,1088.1 1342.4,1085.2 1340.4,1082.5 1338.3,1079.9 1336.3,1077.5 1334.2,1075.1 1332.2,1072.9 1330.1,1070.7 1328.1,1068.6 1326.0,1066.5 1323.9,1064.5 1321.9,1062.5 1319.8,1060.6 1317.8,1058.6 1315.7,1056.6 1313.7,1054.7 1311.6,1052.8 1309.6,1050.9 1307.5,1049.0 1305.4,1047.1 1303.4,1045.2 1301.3,1043.4 1299.3,1041.6 1297.2,1039.7 1295.2,1037.9 1293.1,1036.1 1291.1,1034.4 1289.0,1032.6 1286.9,1030.9 1284.9,1029.1 1282.8,1027.4 1280.8,1025.7 1278.7,1024.0 1276.7,1022.4 1274.6,1020.7 1272.6,1019.1 1270.5,1017.4 1268.5,1015.8 1266.4,1014.2 1264.3,1012.7 1262.3,1011.1 1260.2,1009.6 1258.2,1008.0 1256.1,1006.5 1254.1,1005.0 1252.0,1003.5 1250.0,1002.1 1247.9,1000.6 1245.8,999.2 1243.8,997.8 1241.7,996.4 1239.7,995.0 1237.6,993.7 1235.6,992.3 1233.5,991.0 1231.5,989.7 1229.4,988.4 1227.3,987.1 1225.3,985.8 1223.2,984.6 1221.2,983.4 1219.1,982.1 1217.1,980.9 1215.0,979.8 1213.0,978.6 1210.9,977.5 1208.9,976.4 1206.8,975.3 1204.7,974.2 1202.7,973.1 1200.6,972.0 1198.6,971.0 1196.5,970.0 1194.5,969.0 1192.4,968.0 1190.4,967.1 1188.3,966.1 1186.2,965.2 1184.2,964.3 1182.1,963.4 1180.1,962.5 1178.0,961.7 1176.0,960.9 1173.9,960.0 1171.9,959.3 1169.8,958.5 1167.7,957.7 1165.7,957.0 1163.6,956.2 1161.6,955.5 1159.5,954.8 1157.5,954.1 1155.4,953.5 1153.4,952.8 1151.3,952.2 1149.2,951.6 1147.2,951.0 1145.1,950.4 1143.1,949.9 1141.0,949.3 1139.0,948.8 1136.9,948.2 1134.9,947.7 1132.8,947.2 1130.8,946.8 1128.7,946.3 1126.6,945.9 1124.6,945.4 1122.5,945.0 1120.5,944.6 1118.4,944.2 1116.4,943.9 1114.3,943.5 1112.3,943.1 1110.2,942.8 1108.1,942.5 1106.1,942.2 1104.0,941.9 1102.0,941.6 1099.9,941.3 1097.9,941.1 1095.8,940.8 1093.8,940.6 1091.7,940.4 1089.6,940.2 1087.6,940.0 1085.5,939.8 1083.5,939.6 1081.4,939.5 1079.4,939.3 1077.3,939.2 1075.3,939.1 1073.2,939.0 1071.2,938.9 1069.1,938.8 1067.0,938.7 1065.0,938.6 1062.9,938.6 1060.9,938.5 1058.8,938.5 1056.8,938.4 1054.7,938.4 1052.7,938.4 1050.6,938.4 1048.5,938.4 1046.5,938.4 1044.4,938.5 1042.4,938.5 1040.3,938.6 1038.3,938.6 1036.2,938.7 1034.2,938.8 1032.1,938.8 1030.0,938.9 1028.0,939.0 1025.9,939.1 1023.9,939.2 1021.8,939.4 1019.8,939.5 1017.7,939.6 1015.7,939.8 1013.6,939.9 1011.6,940.1 1009.5,940.3 1007.4,940.4 1005.4,940.6 1003.3,940.8 1001.3,941.0 999.2,941.2 997.2,941.4 995.1,941.6 993.1,941.8 991.0,942.1 988.9,942.3 986.9,942.5 984.8,942.8 982.8,943.0 980.7,943.3 978.7,943.5 976.6,943.8 974.6,944.1 972.5,944.3 970.4,944.6 968.4,944.9 966.3,945.2 964.3,945.5 962.2,945.8 960.2,946.1 958.1,946.4 956.1,946.7 954.0,947.0 952.0,947.3 949.9,947.6 947.8,947.9 945.8,948.2 943.7,948.6 941.7,948.9 939.6,949.2 937.6,949.5 935.5,949.9 933.5,950.2 931.4,950.5 929.3,950.9 927.3,951.2 925.2,951.6 923.2,951.9 921.1,952.3 919.1,952.6 917.0,953.0 915.0,953.3 912.9,953.7 910.8,954.0 908.8,954.4 906.7,954.7 904.7,955.1 902.6,955.4 900.6,955.8 898.5,956.1 896.5,956.5 894.4,956.8 892.4,957.2 890.3,957.5 888.2,957.9 886.2,958.2 884.1,958.6 882.1,958.9 880.0,959.3 878.0,959.6 875.9,959.9 873.9,960.3 871.8,960.6" fill="#90ee90"/>
<polygon points="871.8,891.3 873.9,891.2 875.9,891.2 878.0,891.1 880.0,891.0 882.1,890.9 884.1,890.8 886.2,890.7 888.2,890.6 890.3,890.5 892.4,890.4 894.4,890.2 896.5,890.1 898.5,889.9 900.6,889.7 902.6,889.6 904.7,889.4 906.7,889.2 908.8,889.0 910.8,888.8 912.9,888.6 915.0,888.3 917.0,888.1 919.1,887.9 921.1,887.6 923.2,887.4 925.2,887.1 927.3,886.8 929.3,886.5 931.4,886.2 933.5,885.9 935.5,885.6 937.6,885.3 939.6,884.9 941.7,884.6 943.7,884.3 945.8,883.9 947.8,883.5 949.9,883.2 952.0,882.8 954.0,882.4 956.1,882.0 958.1,881.6 960.2,881.1 962.2,880.7 964.3,880.3 966.3,879.8 968.4,879.3 970.4,878.9 972.5,878.4 974.6,877.9 976.6,877.4 978.7,876.9 980.7,876.4 982.8,875.9 984.8,875.3 986.9,874.8 988.9,874.2 991.0,873.7 993.1,873.1 995.1,872.5 997.2,871.9 999.2,871.3 1001.3,870.7 1003.3,870.1 1005.4,869.4 1007.4,868.8 1009.5,868.1 1011.6,867.5 1013.6,866.8 1015.7,866.1 1017.7,865.4 1019.8,864.7 1021.8,864.0 1023.9,863.3 1025.9,862.6 1028.0,861.8 1030.0,861.1 1032.1,860.3 1034.2,859.5 1036.2,858.8 1038.3,858.0 1040.3,857.2 1042.4,856.3 1044.4,855.5 1046.5,854.7 1048.5,853.8 1050.6,853.0 1052.7,852.1 1054.7,851.3 1056.8,850.4 1058.8,849.5 1060.9,848.6 1062.9,847.6 1065.0,846.7 1067.0,845.8 1069.1,844.8 1071.2,843.9 1073.2,842.9 1075.3,841.9 1077.3,840.9 1079.4,839.9 1081.4,838.9 1083.5,837.9 1085.5,836.8 1087.6,835.8 1089.6,834.7 1091.7,833.7 1093.8,832.6 1095.8,831.5 1097.9,830.4 1099.9,829.3 1102.0,828.2 1104.0,827.0 1106.1,825.9 1108.1,824.7 1110.2,823.6 1112.3,822.4 1114.3,821.2 1116.4,820.0 1118.4,818.8 1120.5,817.6 1122.5,816.3 1124.6,815.1 1126.6,813.8 1128.7,812.5 1130.8,811.3 1132.8,810.0 1134.9,808.7 1136.9,807.4 1139.0,806.1 1141.0,804.7 1143.1,803.4 1145.1,802.0 1147.2,800.7 1149.2,799.3 1151.3,797.9 1153.4,796.6 1155.4,795.2 1157.5,793.8 1159.5,792.3 1161.6,790.9 1163.6,789.5 1165.7,788.1 1167.7,786.6 1169.8,785.2 1171.9,783.7 1173.9,782.3 1176.0,780.8 1178.0,779.3 1180.1,777.8 1182.1,776.3 1184.2,774.8 1186.2,773.3 1188.3,771.8 1190.4,770.3 1192.4,768.8 1194.5,767.2 1196.5,765.7 1198.6,764.2 1200.6,762.6 1202.7,761.1 1204.7,759.5 1206.8,758.0 1208.9,756.4 1210.9,754.8 1213.0,753.3 1215.0,751.7 1217.1,750.1 1219.1,748.5 1221.2,746.9 1223.2,745.3 1225.3,743.7 1227.3,742.1 1229.4,740.5 1231.5,738.9 1233.5,737.3 1235.6,735.7 1237.6,734.0 1239.7,732.4 1241.7,730.8 1243.8,729.1 1245.8,727.5 1247.9,725.8 1250.0,724.2 1252.0,722.5 1254.1,720.8 1256.1,719.2 1258.2,717.5 1260.2,715.8 1262.3,714.1 1264.3,712.4 1266.4,710.7 1268.5,709.0 1270.5,707.3 1272.6,705.6 1274.6,703.9 1276.7,702.1 1278.7,700.4 1280.8,698.7 1282.8,696.9 1284.9,695.1 1286.9,693.4 1289.0,691.6 1291.1,689.8 1293.1,688.1 1295.2,686.3 1297.2,684.5 1299.3,682.7 1301.3,680.9 1303.4,679.0 1305.4,677.2 1307.5,675.4 1309.6,673.5 1311.6,671.7 1313.7,669.8 1315.7,667.9 1317.8,666.0 1319.8,664.1 1321.9,662.2 1323.9,660.3 1326.0,658.4 1328.1,656.5 1330.1,654.5 1332.2,652.6 1334.2,650.6 1336.3,648.6 1338.3,646.7 1340.4,644.7 1342.4,642.7 1344.5,640.6 1346.5,638.6 1348.6,636.6 1350.7,634.5 1352.7,632.4 1354.8,630.4 1356.8,628.3 1358.9,626.2 1360.9,624.1 1363.0,622.0 1365.0,619.8 1367.1,617.7 1369.2,615.6 1371.2,613.5 1373.3,611.4 1375.3,609.3 1377.4,607.2 1379.4,605.0 1381.5,602.9 1383.5,600.8 1385.6,598.7 1387.7,596.6 1389.7,594.5 1391.8,592.4 1393.8,590.3 1395.9,588.1 1397.9,586.0 1400.0,583.9 1402.0,581.8 1404.1,579.7 1406.1,577.6 1408.2,575.5 1410.3,573.3 1412.3,571.2 1414.4,569.1 1416.4,567.0 1418.5,564.9 1420.5,562.8 1422.6,560.7 1424.6,558.6 1426.7,556.4 1428.8,554.3 1430.8,552.2 1432.9,550.1 1434.9,548.0 1437.0,545.9 1439.0,543.8 1441.1,541.6 1443.1,539.5 1445.2,537.4 1447.3,535.3 1449.3,533.2 1451.4,531.1 1453.4,529.0 1455.5,526.9 1457.5,524.7 1459.6,522.6 1461.6,520.5 1463.7,518.4 1465.7,516.3 1467.8,514.2 1469.9,512.1 1471.9,509.9 1474.0,507.8 1476.0,505.7 1478.1,503.6 1480.1,501.5 1482.2,499.4 1484.2,497.3 1486.3,495.2 1486.3,1084.1 1484.2,1080.7 1482.2,1077.3 1480.1,1074.1 1478.1,1071.0 1476.0,1067.9 1474.0,1064.8 1471.9,1061.7 1469.9,1058.7 1467.8,1055.7 1465.7,1052.7 1463.7,1049.7 1461.6,1046.8 1459.6,1043.9 1457.5,1041.1 1455.5,1038.3 1453.4,1035.5 1451.4,1032.7 1449.3,1030.0 1447.3,1027.3 1445.2,1024.7 1443.1,1022.1 1441.1,1019.5 1439.0,1017.0 1437.0,1014.5 1434.9,1012.0 1432.9,1009.6 1430.8,1007.2 1428.8,1004.8 1426.7,1002.5 1424.6,1000.2 1422.6,998.0 1420.5,995.8 1418.5,993.7 1416.4,991.5 1414.4,989.5 1412.3,987.4 1410.3,985.5 1408.2,983.5 1406.1,981.6 1404.1,979.7 1402.0,977.9 1400.0,976.1 1397.9,974.3 1395.9,972.6 1393.8,970.9 1391.8,969.2 1389.7,967.6 1387.7,966.0 1385.6,964.5 1383.5,963.0 1381.5,961.5 1379.4,960.0 1377.4,958.6 1375.3,957.2 1373.3,955.8 1371.2,954.5 1369.2,953.2 1367.1,951.9 1365.0,950.6 1363.0,949.4 1360.9,948.2 1358.9,947.0 1356.8,945.9 1354.8,944.8 1352.7,943.7 1350.7,942.6 1348.6,941.5 1346.5,940.5 1344.5,939.5 1342.4,938.5 1340.4,937.6 1338.3,936.6 1336.3,935.7 1334.2,934.8 1332.2,933.9 1330.1,933.0 1328.1,932.2 1326.0,931.4 1323.9,930.5 1321.9,929.7 1319.8,929.0 1317.8,928.2 1315.7,927.4 1313.7,926.7 1311.6,926.0 1309.6,925.2 1307.5,924.5 1305.4,923.9 1303.4,923.2 1301.3,922.5 1299.3,921.9 1297.2,921.2 1295.2,920.6 1293.1,920.0 1291.1,919.4 1289.0,918.8 1286.9,918.2 1284.9,917.6 1282.8,917.1 1280.8,916.5 1278.7,916.0 1276.7,915.5 1274.6,915.0 1272.6,914.5 1270.5,914.0 1268.5,913.5 1266.4,913.0 1264.3,912.6 1262.3,912.2 1260.2,911.7 1258.2,911.3 1256.1,910.9 1254.1,910.5 1252.0,910.1 1250.0,909.7 1247.9,909.3 1245.8,909.0 1243.8,908.6 1241.7,908.3 1239.7,908.0 1237.6,907.7 1235.6,907.4 1233.5,907.1 1231.5,906.8 1229.4,906.5 1227.3,906.2 1225.3,906.0 1223.2,905.7 1221.2,905.5 1219.1,905.2 1217.1,905.0 1215.0,904.8 1213.0,904.6 1210.9,904.4 1208.9,904.2 1206.8,904.0 1204.7,903.9 1202.7,903.7 1200.6,903.6 1198.6,903.4 1196.5,903.3 1194.5,903.2 1192.4,903.1 1190.4,902.9 1188.3,902.8 1186.2,902.8 1184.2,902.7 1182.1,902.6 1180.1,902.5 1178.0,902.5 1176.0,902.4 1173.9,902.4 1171.9,902.3 1169.8,902.3 1167.7,902.3 1165.7,902.3 1163.6,902.3 1161.6,902.3 1159.5,902.3 1157.5,902.3 1155.4,902.3 1153.4,902.3 1151.3,902.4 1149.2,902.4 1147.2,902.5 1145.1,902.5 1143.1,902.6 1141.0,902.6 1139.0,902.7 1136.9,902.8 1134.9,902.9 1132.8,903.0 1130.8,903.1 1128.7,903.2 1126.6,903.3 1124.6,903.4 1122.5,903.5 1120.5,903.7 1118.4,903.8 1116.4,903.9 1114.3,904.1 1112.3,904.2 1110.2,904.4 1108.1,904.6 1106.1,904.7 1104.0,904.9 1102.0,905.1 1099.9,905.3 1097.9,905.4 1095.8,905.6 1093.8,905.8 1091.7,906.0 1089.6,906.2 1087.6,906.4 1085.5,906.7 1083.5,906.9 1081.4,907.1 1079.4,907.3 1077.3,907.6 1075.3,907.8 1073.2,908.0 1071.2,908.3 1069.1,908.5 1067.0,908.8 1065.0,909.0 1062.9,909.3 1060.9,909.5 1058.8,909.8 1056.8,910.1 1054.7,910.3 1052.7,910.6 1050.6,910.9 1048.5,911.2 1046.5,911.5 1044.4,911.7 1042.4,912.0 1040.3,912.3 1038.3,912.6 1036.2,912.9 1034.2,913.2 1032.1,913.5 1030.0,913.8 1028.0,914.1 1025.9,914.4 1023.9,914.7 1021.8,915.1 1019.8,915.4 1017.7,915.7 1015.7,916.0 1013.6,916.3 1011.6,916.6 1009.5,917.0 1007.4,917.3 1005.4,917.6 1003.3,918.0 1001.3,918.3 999.2,918.6 997.2,918.9 995.1,919.3 993.1,919.6 991.0,919.9 988.9,920.3 986.9,920.6 984.8,921.0 982.8,921.3 980.7,921.6 978.7,922.0 976.6,922.3 974.6,922.6 972.5,923.0 970.4,923.3 968.4,923.7 966.3,924.0 964.3,924.3 962.2,924.7 960.2,925.0 958.1,925.4 956.1,925.7 954.0,926.0 952.0,926.4 949.9,926.7 947.8,927.0 945.8,927.4 943.7,927.7 941.7,928.0 939.6,928.4 937.6,928.7 935.5,929.0 933.5,929.4 931.4,929.7 929.3,930.0 927.3,930.4 925.2,930.7 923.2,931.0 921.1,931.3 919.1,931.6 917.0,932.0 915.0,932.3 912.9,932.6 910.8,932.9 908.8,933.2 906.7,933.5 904.7,933.8 902.6,934.1 900.6,934.4 898.5,934.7 896.5,935.0 894.4,935.3 892.4,935.6 890.3,935.9 888.2,936.2 886.2,936.4 884.1,936.7 882.1,937.0 880.0,937.3 878.0,937.5 875.9,937.8 873.9,938.0 871.8,938.3" fill="#add8e6"/>
<polyline points="871.8,914.1 873.9,914.0 875.9,914.0 878.0,913.9 880.0,913.9 882.1,913.8 884.1,913.7 886.2,913.6 888.2,913.5 890.3,913.4 892.4,913.3 894.4,913.2 896.5,913.0 898.5,912.9 900.6,912.7 902.6,912.6 904.7,912.4 906.7,912.2 908.8,912.0 910.8,911.8 912.9,911.6 915.0,911.4 917.0,911.2 919.1,911.0 921.1,910.7 923.2,910.5 925.2,910.2 927.3,910.0 929.3,909.7 931.4,909.4 933.5,909.1 935.5,908.8 937.6,908.5 939.6,908.2 941.7,907.9 943.7,907.6 945.8,907.3 947.8,906.9 949.9,906.6 952.0,906.2 954.0,905.9 956.1,905.5 958.1,905.1 960.2,904.7 962.2,904.4 964.3,904.0 966.3,903.6 968.4,903.2 970.4,902.7 972.5,902.3 974.6,901.9 976.6,901.5 978.7,901.0 980.7,900.6 982.8,900.1 984.8,899.7 986.9,899.2 988.9,898.7 991.0,898.3 993.1,897.8 995.1,897.3 997.2,896.8 999.2,896.3 1001.3,895.8 1003.3,895.3 1005.4,894.8 1007.4,894.3 1009.5,893.8 1011.6,893.2 1013.6,892.7 1015.7,892.2 1017.7,891.6 1019.8,891.1 1021.8,890.5 1023.9,890.0 1025.9,889.4 1028.0,888.8 1030.0,888.2 1032.1,887.7 1034.2,887.1 1036.2,886.5 1038.3,885.9 1040.3,885.3 1042.4,884.7 1044.4,884.1 1046.5,883.5 1048.5,882.9 1050.6,882.3 1052.7,881.7 1054.7,881.1 1056.8,880.4 1058.8,879.8 1060.9,879.2 1062.9,878.5 1065.0,877.9 1067.0,877.2 1069.1,876.6 1071.2,875.9 1073.2,875.3 1075.3,874.6 1077.3,874.0 1079.4,873.3 1081.4,872.7 1083.5,872.0 1085.5,871.3 1087.6,870.6 1089.6,870.0 1091.7,869.3 1093.8,868.6 1095.8,867.9 1097.9,867.2 1099.9,866.5 1102.0,865.9 1104.0,865.2 1106.1,864.5 1108.1,863.8 1110.2,863.1 1112.3,862.4 1114.3,861.7 1116.4,861.0 1118.4,860.3 1120.5,859.6 1122.5,858.8 1124.6,858.1 1126.6,857.4 1128.7,856.7 1130.8,856.0 1132.8,855.3 1134.9,854.6 1136.9,853.8 1139.0,853.1 1141.0,852.4 1143.1,851.7 1145.1,851.0 1147.2,850.2 1149.2,849.5 1151.3,848.8 1153.4,848.1 1155.4,847.3 1157.5,846.6 1159.5,845.9 1161.6,845.2 1163.6,844.4 1165.7,843.7 1167.7,843.0 1169.8,842.3 1171.9,841.5 1173.9,840.8 1176.0,840.1 1178.0,839.3 1180.1,838.6 1182.1,837.9 1184.2,837.2 1186.2,836.4 1188.3,835.7 1190.4,835.0 1192.4,834.3 1194.5,833.5 1196.5,832.8 1198.6,832.1 1200.6,831.4 1202.7,830.7 1204.7,829.9 1206.8,829.2 1208.9,828.5 1210.9,827.8 1213.0,827.1 1215.0,826.4 1217.1,825.7 1219.1,825.0 1221.2,824.3 1223.2,823.6 1225.3,822.9 1227.3,822.2 1229.4,821.5 1231.5,820.8 1233.5,820.1 1235.6,819.5 1237.6,818.8 1239.7,818.1 1241.7,817.4 1243.8,816.8 1245.8,816.1 1247.9,815.4 1250.0,814.8 1252.0,814.1 1254.1,813.5 1256.1,812.8 1258.2,812.2 1260.2,811.6 1262.3,811.0 1264.3,810.3 1266.4,809.7 1268.5,809.1 1270.5,808.5 1272.6,807.9 1274.6,807.3 1276.7,806.7 1278.7,806.1 1280.8,805.5 1282.8,805.0 1284.9,804.4 1286.9,803.8 1289.0,803.3 1291.1,802.7 1293.1,802.2 1295.2,801.7 1297.2,801.1 1299.3,800.6 1301.3,800.1 1303.4,799.6 1305.4,799.1 1307.5,798.6 1309.6,798.1 1311.6,797.6 1313.7,797.2 1315.7,796.7 1317.8,796.2 1319.8,795.8 1321.9,795.4 1323.9,794.9 1326.0,794.5 1328.1,794.1 1330.1,793.7 1332.2,793.3 1334.2,792.9 1336.3,792.5 1338.3,792.2 1340.4,791.8 1342.4,791.5 1344.5,791.1 1346.5,790.8 1348.6,790.5 1350.7,790.2 1352.7,789.9 1354.8,789.6 1356.8,789.3 1358.9,789.0 1360.9,788.8 1363.0,788.5 1365.0,788.3 1367.1,788.1 1369.2,787.8 1371.2,787.6 1373.3,787.4 1375.3,787.3 1377.4,787.1 1379.4,786.9 1381.5,786.8 1383.5,786.7 1385.6,786.5 1387.7,786.4 1389.7,786.3 1391.8,786.2 1393.8,786.2 1395.9,786.1 1397.9,786.1 1400.0,786.0 1402.0,786.0 1404.1,786.0 1406.1,786.0 1408.2,786.0 1410.3,786.0 1412.3,786.1 1414.4,786.1 1416.4,786.2 1418.5,786.3 1420.5,786.4 1422.6,786.5 1424.6,786.6 1426.7,786.8 1428.8,786.9 1430.8,787.1 1432.9,787.3 1434.9,787.5 1437.0,787.7 1439.0,787.9 1441.1,788.2 1443.1,788.4 1445.2,788.7 1447.3,789.0 1449.3,789.3 1451.4,789.6 1453.4,789.9 1455.5,790.3 1457.5,790.7 1459.6,791.0 1461.6,791.5 1463.7,791.9 1465.7,792.3 1467.8,792.8 1469.9,793.2 1471.9,793.7 1474.0,794.2 1476.0,794.7 1478.1,795.3 1480.1,795.8 1482.2,796.4 1484.2,797.0 1486.3,797.6" fill="none" stroke="#0000cd" stroke-width="2.60" stroke-linejoin="round"/>
<line x1="873.8" y1="978.40" x2="1484.3" y2="978.40" stroke="#000" stroke-width="2.50"/>
</g>
<rect x="873.80" y="633.30" width="610.50" height="460.10" fill="none" stroke="#000" stroke-width="1.10"/>
<line x1="873.80" y1="1093.40" x2="873.80" y2="1098.40" stroke="#000" stroke-width="1.10"/><g transform="matrix(0.16800,0.00000,0.00000,0.16800,860.44498,1117.90000)" fill="#000"><text x="-0.0 58.4 87.6" y="-0.78" font-size="105.00" transform="scale(1.0895,1)">0.0</text></g><line x1="995.90" y1="1093.40" x2="995.90" y2="1098.40" stroke="#000" stroke-width="1.10"/><g transform="matrix(0.16800,0.00000,0.00000,0.16800,983.29048,1117.90000)" fill="#000"><text x="-0.0 58.4 82.5" y="-0.78" font-size="105.00" transform="scale(1.0895,1)">0.2</text></g><line x1="1118.00" y1="1093.40" x2="1118.00" y2="1098.40" stroke="#000" stroke-width="1.10"/><g transform="matrix(0.16800,0.00000,0.00000,0.16800,1104.55836,1117.90000)" fill="#000"><text x="-0.0 58.4 87.6" y="-0.78" font-size="105.00" transform="scale(1.0895,1)">0.4</text></g><line x1="1240.10" y1="1093.40" x2="1240.10" y2="1098.40" stroke="#000" stroke-width="1.10"/><g transform="matrix(0.16800,0.00000,0.00000,0.16800,1226.71611,1117.90000)" fill="#000"><text x="-0.0 58.4 87.6" y="-0.78" font-size="105.00" transform="scale(1.0895,1)">0.6</text></g><line x1="1362.20" y1="1093.40" x2="1362.20" y2="1098.40" stroke="#000" stroke-width="1.10"/><g transform="matrix(0.16800,0.00000,0.00000,0.16800,1349.08255,1117.90000)" fill="#000"><text x="-0.0 58.4 85.2" y="-0.78" font-size="105.00" transform="scale(1.0895,1)">0.8</text></g><line x1="1484.30" y1="1093.40" x2="1484.30" y2="1098.40" stroke="#000" stroke-width="1.10"/><g transform="matrix(0.16800,0.00000,0.00000,0.16800,1470.57617,1117.90000)" fill="#000"><text x="-0.0 58.4 87.6" y="-0.78" font-size="105.00" transform="scale(1.0895,1)">1.0</text></g>
<line x1="868.80" y1="633.30" x2="873.80" y2="633.30" stroke="#000" stroke-width="1.10"/><g transform="matrix(0.16800,0.00000,0.00000,0.16800,820.14791,639.54619)" fill="#000"><text x="7.8 76.9 135.3 164.5" y="-0.78" font-size="105.00" transform="scale(1.0896,1)">−0.4</text></g><line x1="868.80" y1="690.81" x2="873.80" y2="690.81" stroke="#000" stroke-width="1.10"/><g transform="matrix(0.16800,0.00000,0.00000,0.16800,820.67291,697.05869)" fill="#000"><text x="7.8 76.9 135.3 164.5" y="-0.78" font-size="105.00" transform="scale(1.0896,1)">−0.5</text></g><line x1="868.80" y1="748.33" x2="873.80" y2="748.33" stroke="#000" stroke-width="1.10"/><g transform="matrix(0.16800,0.00000,0.00000,0.16800,820.26341,754.57119)" fill="#000"><text x="7.8 76.9 135.3 164.5" y="-0.78" font-size="105.00" transform="scale(1.0896,1)">−0.6</text></g><line x1="868.80" y1="805.84" x2="873.80" y2="805.84" stroke="#000" stroke-width="1.10"/><g transform="matrix(0.16800,0.00000,0.00000,0.16800,821.94341,812.08369)" fill="#000"><text x="7.8 76.9 135.3 157.4" y="-0.78" font-size="105.00" transform="scale(1.0896,1)">−0.7</text></g><line x1="868.80" y1="863.35" x2="873.80" y2="863.35" stroke="#000" stroke-width="1.10"/><g transform="matrix(0.16800,0.00000,0.00000,0.16800,820.79628,869.59619)" fill="#000"><text x="7.8 76.9 135.3 162.1" y="-0.78" font-size="105.00" transform="scale(1.0896,1)">−0.8</text></g><line x1="868.80" y1="920.86" x2="873.80" y2="920.86" stroke="#000" stroke-width="1.10"/><g transform="matrix(0.16800,0.00000,0.00000,0.16800,820.38678,927.10869)" fill="#000"><text x="7.8 76.9 135.3 164.5" y="-0.78" font-size="105.00" transform="scale(1.0896,1)">−0.9</text></g><line x1="868.80" y1="978.38" x2="873.80" y2="978.38" stroke="#000" stroke-width="1.10"/><g transform="matrix(0.16800,0.00000,0.00000,0.16800,820.32116,984.62119)" fill="#000"><text x="7.8 76.9 135.3 164.5" y="-0.78" font-size="105.00" transform="scale(1.0896,1)">−1.0</text></g><line x1="868.80" y1="1035.89" x2="873.80" y2="1035.89" stroke="#000" stroke-width="1.10"/><g transform="matrix(0.16800,0.00000,0.00000,0.16800,820.75691,1042.02738)" fill="#000"><text x="7.8 76.9 135.3 164.5" y="-0.09" font-size="105.00" transform="scale(1.0896,1)">−1.1</text></g><line x1="868.80" y1="1093.40" x2="873.80" y2="1093.40" stroke="#000" stroke-width="1.10"/><g transform="matrix(0.16800,0.00000,0.00000,0.16800,821.81216,1099.76562)" fill="#000"><text x="7.8 76.9 135.3 159.4" y="-0.78" font-size="105.00" transform="scale(1.0896,1)">−1.2</text></g>
<rect x="882.4" y="642.0" width="200.2" height="132.4" rx="4.0" fill="#fff" stroke="#cccccc" stroke-width="1.1"/>
<rect x="888.1" y="649.2" width="35.8" height="13.5" fill="#d3d3d3"/>
<rect x="888.1" y="675.4" width="35.8" height="12.1" fill="#90ee90"/>
<rect x="888.1" y="700.4" width="35.8" height="13.2" fill="#add8e6"/>
<line x1="888.1" y1="731.8" x2="925.0" y2="731.8" stroke="#0000cd" stroke-width="2.2"/>
<line x1="888.1" y1="757.9" x2="925.0" y2="757.9" stroke="#000" stroke-width="2.4"/>
<g transform="matrix(0.17294,0.00000,0.00000,0.17294,935.22999,660.90000)" fill="#000"><text x="0.0" y="-0.78" font-size="105.00" font-style="italic" transform="scale(1.0786,1)">w</text><text x="102.6 187.7 242.5" y="-0.78" font-size="105.00" transform="scale(1.0895,1)">±3Δ</text><text x="312.0" y="-0.78" font-size="105.00" font-style="italic" transform="scale(1.0786,1)">w</text></g>
<g transform="matrix(0.17294,0.00000,0.00000,0.17294,935.22999,685.90000)" fill="#000"><text x="0.0" y="-0.78" font-size="105.00" font-style="italic" transform="scale(1.0786,1)">w</text><text x="102.6 187.7 242.5" y="-0.78" font-size="105.00" transform="scale(1.0895,1)">±2Δ</text><text x="312.0" y="-0.78" font-size="105.00" font-style="italic" transform="scale(1.0786,1)">w</text></g>
<g transform="matrix(0.17237,0.00000,0.00000,0.17237,935.23482,710.50000)" fill="#000"><text x="0.0" y="-0.09" font-size="105.00" font-style="italic" transform="scale(1.0786,1)">w</text><text x="89.0 161.5" y="-0.09" font-size="105.00" transform="scale(1.2147,1)">±Δ</text><text x="253.1" y="-0.09" font-size="105.00" font-style="italic" transform="scale(1.0786,1)">w</text></g>
<g transform="matrix(0.17053,0.00000,0.00000,0.17053,935.85187,736.60000)" fill="#000"><text x="1.8 90.7 148.1 206.3" y="-0.00" font-size="105.00" transform="scale(1.0694,1)">mean</text><text x="292.4" y="-0.00" font-size="105.00" font-style="italic" transform="scale(1.0786,1)">w</text></g>
<g transform="matrix(0.17307,0.00000,0.00000,0.17307,935.22890,762.20000)" fill="#000"><text x="0.0" y="-0.12" font-size="105.00" font-style="italic" transform="scale(1.0786,1)">w</text><text x="83.9 183.8 257.2" y="-0.12" font-size="105.00" transform="scale(1.2500,1)">=−1</text><text x="423.2 459.3 525.5 598.8 674.6 763.4" y="-0.12" font-size="105.00">(ΛCDM)</text></g>
<g transform="matrix(0.19689,0.00000,0.00000,0.19689,884.80176,621.70000)" fill="#000"><text x="-5.8 59.6 84.1 142.5 202.1 225.7 282.4 320.0 351.7 406.8 457.5" y="-0.02" font-size="105.00" transform="scale(1.0853,1)">Single-task</text><text x="583.7 658.4 720.4 795.3" y="-0.02" font-size="105.00">GPR:</text><text x="783.8 845.6 903.1 964.9 997.6 1055.1 1111.7 1169.0 1220.2 1284.1 1308.6 1364.7 1422.9" y="-0.02" font-size="105.00" transform="scale(1.0853,1)">PantheonPlus+</text><text x="1618.9" y="-0.02" font-size="105.00" font-style="italic">M</text><text x="1705.3" y="16.39" font-size="73.50" font-style="italic">B</text><text x="1612.7 1655.9 1725.0 1783.4 1841.8 1865.9 1924.3 1982.7 2068.6 2153.7 2212.1 2241.3 2299.7 2358.1 2416.9 2460.1 2523.3 2589.2 2669.0" y="-0.02" font-size="105.00" transform="scale(1.0895,1)">(−19.253±0.027)+CMB</text></g>
<g transform="matrix(0.40481,0.00000,0.00000,0.41874,1168.12018,1159.13086)" fill="#000"><text x="-0.0" y="-0.31" font-size="105.00" font-style="italic">z</text></g>
<g transform="matrix(0.00000,-0.34629,0.34807,0.00000,804.25333,899.74345)" fill="#000"><text x="0.0" y="-0.12" font-size="105.00" font-style="italic" transform="scale(1.0786,1)">w</text><text x="73.3" y="-0.12" font-size="105.00" transform="scale(1.1158,1)">(</text><text x="120.8" y="-0.12" font-size="105.00" font-style="italic">z</text><text x="155.3" y="-0.12" font-size="105.00" transform="scale(1.1158,1)">)</text></g>
<g clip-path="url(#cp5)">
<polygon points="113.5,1379.5 115.6,1379.4 117.6,1379.2 119.7,1379.1 121.7,1379.0 123.8,1378.9 125.8,1378.8 127.9,1378.7 129.9,1378.5 132.0,1378.4 134.1,1378.3 136.1,1378.2 138.2,1378.0 140.2,1377.9 142.3,1377.7 144.3,1377.6 146.4,1377.4 148.4,1377.2 150.5,1377.0 152.6,1376.9 154.6,1376.7 156.7,1376.5 158.7,1376.2 160.8,1376.0 162.8,1375.8 164.9,1375.5 167.0,1375.3 169.0,1375.0 171.1,1374.7 173.1,1374.4 175.2,1374.1 177.2,1373.8 179.3,1373.5 181.3,1373.1 183.4,1372.8 185.5,1372.4 187.5,1372.0 189.6,1371.6 191.6,1371.2 193.7,1370.7 195.7,1370.3 197.8,1369.8 199.8,1369.3 201.9,1368.8 204.0,1368.2 206.0,1367.7 208.1,1367.1 210.1,1366.5 212.2,1365.9 214.2,1365.3 216.3,1364.6 218.3,1363.9 220.4,1363.2 222.5,1362.5 224.5,1361.8 226.6,1361.0 228.6,1360.2 230.7,1359.4 232.7,1358.5 234.8,1357.7 236.9,1356.8 238.9,1355.8 241.0,1354.9 243.0,1353.9 245.1,1352.9 247.1,1351.9 249.2,1350.8 251.2,1349.7 253.3,1348.6 255.4,1347.4 257.4,1346.2 259.5,1345.0 261.5,1343.8 263.6,1342.5 265.6,1341.2 267.7,1339.8 269.7,1338.5 271.8,1337.1 273.9,1335.6 275.9,1334.1 278.0,1332.6 280.0,1331.1 282.1,1329.5 284.1,1327.9 286.2,1326.2 288.2,1324.5 290.3,1322.8 292.4,1321.0 294.4,1319.2 296.5,1317.4 298.5,1315.5 300.6,1313.5 302.6,1311.6 304.7,1309.6 306.8,1307.5 308.8,1305.4 310.9,1303.3 312.9,1301.1 315.0,1298.9 317.0,1296.6 319.1,1294.3 321.1,1292.0 323.2,1289.6 325.3,1287.2 327.3,1284.7 329.4,1282.1 331.4,1279.6 333.5,1276.9 335.5,1274.3 337.6,1271.6 339.6,1268.8 341.7,1266.0 343.8,1263.1 345.8,1260.2 347.9,1257.2 349.9,1254.2 352.0,1251.2 354.0,1248.0 356.1,1244.9 358.1,1241.7 360.2,1238.4 362.3,1235.1 364.3,1231.7 366.4,1228.2 368.4,1224.8 370.5,1221.2 372.5,1217.6 374.6,1214.0 376.6,1210.3 378.7,1206.6 380.8,1202.9 382.8,1199.2 384.9,1195.5 386.9,1191.9 389.0,1188.2 391.0,1184.5 393.1,1180.8 395.2,1177.1 397.2,1173.4 399.3,1169.8 401.3,1166.1 403.4,1162.4 405.4,1158.7 407.5,1155.0 409.5,1151.3 411.6,1147.7 413.7,1144.0 415.7,1140.3 417.8,1136.6 419.8,1132.9 421.9,1129.2 423.9,1125.5 426.0,1121.9 428.0,1118.2 430.1,1114.5 432.2,1110.8 434.2,1107.1 436.3,1103.4 438.3,1099.8 440.4,1096.1 442.4,1092.4 444.5,1088.7 446.5,1085.0 448.6,1081.3 450.7,1077.6 452.7,1074.0 454.8,1070.3 456.8,1066.6 458.9,1062.9 460.9,1059.2 463.0,1055.5 465.1,1051.9 467.1,1048.2 469.2,1044.5 471.2,1040.8 473.3,1037.1 475.3,1033.4 477.4,1029.8 479.4,1026.1 481.5,1022.4 483.6,1018.7 485.6,1015.0 487.7,1011.3 489.7,1007.6 491.8,1004.0 493.8,1000.3 495.9,996.6 497.9,992.9 500.0,989.2 502.1,985.5 504.1,981.9 506.2,978.2 508.2,974.5 510.3,970.8 512.3,967.1 514.4,963.4 516.4,959.7 518.5,956.1 520.6,952.4 522.6,948.7 524.7,945.0 526.7,941.3 528.8,937.6 530.8,934.0 532.9,930.3 534.9,926.6 537.0,922.9 539.1,919.2 541.1,915.5 543.2,911.9 545.2,908.2 547.3,904.5 549.3,900.8 551.4,897.1 553.5,893.4 555.5,889.7 557.6,886.1 559.6,882.4 561.7,878.7 563.7,875.0 565.8,871.3 567.8,867.6 569.9,864.0 572.0,860.3 574.0,856.6 576.1,852.9 578.1,849.2 580.2,845.5 582.2,841.8 584.3,838.2 586.3,834.5 588.4,830.8 590.5,827.1 592.5,823.4 594.6,819.7 596.6,816.1 598.7,812.4 600.7,808.7 602.8,805.0 604.8,801.3 606.9,797.6 609.0,793.9 611.0,790.3 613.1,786.6 615.1,782.9 617.2,779.2 619.2,775.5 621.3,771.8 623.4,768.2 625.4,764.5 627.5,760.8 629.5,757.1 631.6,753.4 633.6,749.7 635.7,746.1 637.7,742.4 639.8,738.7 641.9,735.0 643.9,731.3 646.0,727.6 648.0,723.9 650.1,720.3 652.1,716.6 654.2,712.9 656.2,709.2 658.3,705.5 660.4,701.8 662.4,698.2 664.5,694.5 666.5,690.8 668.6,687.1 670.6,683.4 672.7,679.7 674.7,676.0 676.8,672.4 678.9,668.7 680.9,665.0 683.0,661.3 685.0,657.6 687.1,653.9 689.1,650.3 691.2,646.6 693.3,642.9 695.3,639.2 697.4,635.5 699.4,631.8 701.5,628.2 703.5,624.5 705.6,620.8 707.6,617.1 709.7,613.4 711.8,609.7 713.8,606.0 715.9,602.4 717.9,598.7 720.0,595.0 722.0,591.3 724.1,587.6 726.1,583.9 728.2,580.3 728.2,2133.8 726.1,2131.1 724.1,2128.5 722.0,2125.8 720.0,2123.2 717.9,2120.6 715.9,2117.9 713.8,2115.3 711.8,2112.6 709.7,2110.0 707.6,2107.4 705.6,2104.7 703.5,2102.1 701.5,2099.4 699.4,2096.8 697.4,2094.1 695.3,2091.5 693.3,2088.9 691.2,2086.2 689.1,2083.6 687.1,2080.9 685.0,2078.3 683.0,2075.7 680.9,2073.0 678.9,2070.4 676.8,2067.7 674.7,2065.1 672.7,2062.5 670.6,2059.8 668.6,2057.2 666.5,2054.5 664.5,2051.9 662.4,2049.3 660.4,2046.6 658.3,2044.0 656.2,2041.3 654.2,2038.7 652.1,2036.1 650.1,2033.4 648.0,2030.8 646.0,2028.1 643.9,2025.5 641.9,2022.8 639.8,2020.2 637.7,2017.6 635.7,2014.9 633.6,2012.3 631.6,2009.6 629.5,2007.0 627.5,2004.4 625.4,2001.7 623.4,1999.1 621.3,1996.4 619.2,1993.8 617.2,1991.2 615.1,1988.5 613.1,1985.9 611.0,1983.2 609.0,1980.6 606.9,1978.0 604.8,1975.3 602.8,1972.7 600.7,1970.0 598.7,1967.4 596.6,1964.7 594.6,1962.1 592.5,1959.5 590.5,1956.8 588.4,1954.2 586.3,1951.5 584.3,1948.9 582.2,1946.3 580.2,1943.6 578.1,1941.0 576.1,1938.3 574.0,1935.7 572.0,1933.1 569.9,1930.4 567.8,1927.8 565.8,1925.1 563.7,1922.5 561.7,1919.9 559.6,1917.2 557.6,1914.6 555.5,1911.9 553.5,1909.3 551.4,1906.6 549.3,1904.0 547.3,1901.4 545.2,1898.7 543.2,1896.1 541.1,1893.4 539.1,1890.8 537.0,1888.2 534.9,1885.5 532.9,1882.9 530.8,1880.2 528.8,1877.6 526.7,1875.0 524.7,1872.3 522.6,1869.7 520.6,1867.0 518.5,1864.4 516.4,1861.8 514.4,1859.1 512.3,1856.5 510.3,1853.8 508.2,1851.2 506.2,1848.5 504.1,1845.9 502.1,1843.3 500.0,1840.6 497.9,1838.0 495.9,1835.3 493.8,1832.7 491.8,1830.1 489.7,1827.4 487.7,1824.8 485.6,1822.1 483.6,1819.5 481.5,1816.9 479.4,1814.2 477.4,1811.6 475.3,1808.9 473.3,1806.3 471.2,1803.7 469.2,1801.0 467.1,1798.4 465.1,1795.7 463.0,1793.1 460.9,1790.4 458.9,1787.8 456.8,1785.2 454.8,1782.5 452.7,1779.9 450.7,1777.2 448.6,1774.6 446.5,1772.0 444.5,1769.3 442.4,1766.7 440.4,1764.0 438.3,1761.4 436.3,1758.8 434.2,1756.1 432.2,1753.5 430.1,1750.8 428.0,1748.2 426.0,1745.6 423.9,1742.9 421.9,1740.3 419.8,1737.6 417.8,1735.0 415.7,1732.3 413.7,1729.7 411.6,1727.1 409.5,1724.4 407.5,1721.8 405.4,1719.1 403.4,1716.5 401.3,1713.9 399.3,1711.2 397.2,1708.6 395.2,1705.9 393.1,1703.3 391.0,1700.7 389.0,1698.0 386.9,1695.4 384.9,1692.7 382.8,1690.1 380.8,1687.5 378.7,1684.9 376.6,1682.4 374.6,1679.9 372.5,1677.4 370.5,1675.0 368.4,1672.7 366.4,1670.4 364.3,1668.1 362.3,1665.9 360.2,1663.7 358.1,1661.5 356.1,1659.4 354.0,1657.4 352.0,1655.3 349.9,1653.3 347.9,1651.4 345.8,1649.5 343.8,1647.6 341.7,1645.8 339.6,1644.0 337.6,1642.2 335.5,1640.5 333.5,1638.8 331.4,1637.1 329.4,1635.5 327.3,1633.9 325.3,1632.4 323.2,1630.9 321.1,1629.4 319.1,1628.0 317.0,1626.5 315.0,1625.2 312.9,1623.8 310.9,1622.5 308.8,1621.2 306.8,1619.9 304.7,1618.7 302.6,1617.5 300.6,1616.4 298.5,1615.2 296.5,1614.1 294.4,1613.0 292.4,1612.0 290.3,1611.0 288.2,1610.0 286.2,1609.0 284.1,1608.0 282.1,1607.1 280.0,1606.2 278.0,1605.4 275.9,1604.5 273.9,1603.7 271.8,1602.9 269.7,1602.1 267.7,1601.4 265.6,1600.7 263.6,1600.0 261.5,1599.3 259.5,1598.6 257.4,1598.0 255.4,1597.4 253.3,1596.8 251.2,1596.2 249.2,1595.6 247.1,1595.1 245.1,1594.6 243.0,1594.1 241.0,1593.6 238.9,1593.1 236.9,1592.7 234.8,1592.3 232.7,1591.8 230.7,1591.4 228.6,1591.1 226.6,1590.7 224.5,1590.3 222.5,1590.0 220.4,1589.7 218.3,1589.4 216.3,1589.1 214.2,1588.8 212.2,1588.5 210.1,1588.2 208.1,1588.0 206.0,1587.7 204.0,1587.5 201.9,1587.3 199.8,1587.1 197.8,1586.9 195.7,1586.7 193.7,1586.5 191.6,1586.3 189.6,1586.2 187.5,1586.0 185.5,1585.9 183.4,1585.7 181.3,1585.6 179.3,1585.5 177.2,1585.3 175.2,1585.2 173.1,1585.1 171.1,1585.0 169.0,1584.9 167.0,1584.8 164.9,1584.7 162.8,1584.6 160.8,1584.5 158.7,1584.4 156.7,1584.3 154.6,1584.2 152.6,1584.1 150.5,1584.0 148.4,1583.9 146.4,1583.8 144.3,1583.7 142.3,1583.6 140.2,1583.5 138.2,1583.4 136.1,1583.3 134.1,1583.2 132.0,1583.1 129.9,1583.0 127.9,1582.9 125.8,1582.8 123.8,1582.6 121.7,1582.5 119.7,1582.4 117.6,1582.2 115.6,1582.1 113.5,1581.9" fill="#d3d3d3"/>
<polygon points="113.5,1412.3 115.6,1412.2 117.6,1412.0 119.7,1411.9 121.7,1411.7 123.8,1411.6 125.8,1411.4 127.9,1411.3 129.9,1411.1 132.0,1410.9 134.1,1410.8 136.1,1410.6 138.2,1410.5 140.2,1410.3 142.3,1410.1 144.3,1409.9 146.4,1409.8 148.4,1409.6 150.5,1409.4 152.6,1409.2 154.6,1409.0 156.7,1408.8 158.7,1408.6 160.8,1408.4 162.8,1408.1 164.9,1407.9 167.0,1407.7 169.0,1407.4 171.1,1407.2 173.1,1406.9 175.2,1406.6 177.2,1406.4 179.3,1406.1 181.3,1405.8 183.4,1405.5 185.5,1405.1 187.5,1404.8 189.6,1404.5 191.6,1404.1 193.7,1403.8 195.7,1403.4 197.8,1403.0 199.8,1402.6 201.9,1402.2 204.0,1401.8 206.0,1401.4 208.1,1400.9 210.1,1400.5 212.2,1400.0 214.2,1399.5 216.3,1399.0 218.3,1398.5 220.4,1398.0 222.5,1397.4 224.5,1396.9 226.6,1396.3 228.6,1395.7 230.7,1395.1 232.7,1394.5 234.8,1393.8 236.9,1393.2 238.9,1392.5 241.0,1391.8 243.0,1391.1 245.1,1390.3 247.1,1389.6 249.2,1388.8 251.2,1388.0 253.3,1387.2 255.4,1386.4 257.4,1385.5 259.5,1384.6 261.5,1383.7 263.6,1382.8 265.6,1381.9 267.7,1380.9 269.7,1379.9 271.8,1378.9 273.9,1377.9 275.9,1376.8 278.0,1375.8 280.0,1374.7 282.1,1373.5 284.1,1372.4 286.2,1371.2 288.2,1370.0 290.3,1368.8 292.4,1367.5 294.4,1366.3 296.5,1365.0 298.5,1363.6 300.6,1362.3 302.6,1360.9 304.7,1359.5 306.8,1358.0 308.8,1356.6 310.9,1355.1 312.9,1353.5 315.0,1352.0 317.0,1350.4 319.1,1348.8 321.1,1347.1 323.2,1345.4 325.3,1343.7 327.3,1342.0 329.4,1340.2 331.4,1338.4 333.5,1336.6 335.5,1334.7 337.6,1332.8 339.6,1330.9 341.7,1328.9 343.8,1326.9 345.8,1324.9 347.9,1322.8 349.9,1320.7 352.0,1318.6 354.0,1316.5 356.1,1314.3 358.1,1312.0 360.2,1309.8 362.3,1307.5 364.3,1305.1 366.4,1302.8 368.4,1300.4 370.5,1297.9 372.5,1295.4 374.6,1292.9 376.6,1290.4 378.7,1287.8 380.8,1285.2 382.8,1282.6 384.9,1279.9 386.9,1277.1 389.0,1274.4 391.0,1271.6 393.1,1268.8 395.2,1265.9 397.2,1263.0 399.3,1260.0 401.3,1257.1 403.4,1254.0 405.4,1251.0 407.5,1247.9 409.5,1244.8 411.6,1241.6 413.7,1238.4 415.7,1235.1 417.8,1231.9 419.8,1228.5 421.9,1225.2 423.9,1221.8 426.0,1218.3 428.0,1214.9 430.1,1211.4 432.2,1207.9 434.2,1204.4 436.3,1200.9 438.3,1197.4 440.4,1193.9 442.4,1190.4 444.5,1186.9 446.5,1183.4 448.6,1179.9 450.7,1176.5 452.7,1173.0 454.8,1169.5 456.8,1166.0 458.9,1162.5 460.9,1159.0 463.0,1155.5 465.1,1152.0 467.1,1148.5 469.2,1145.0 471.2,1141.5 473.3,1138.0 475.3,1134.5 477.4,1131.1 479.4,1127.6 481.5,1124.1 483.6,1120.6 485.6,1117.1 487.7,1113.6 489.7,1110.1 491.8,1106.6 493.8,1103.1 495.9,1099.6 497.9,1096.1 500.0,1092.6 502.1,1089.1 504.1,1085.7 506.2,1082.2 508.2,1078.7 510.3,1075.2 512.3,1071.7 514.4,1068.2 516.4,1064.7 518.5,1061.2 520.6,1057.7 522.6,1054.2 524.7,1050.7 526.7,1047.2 528.8,1043.7 530.8,1040.3 532.9,1036.8 534.9,1033.3 537.0,1029.8 539.1,1026.3 541.1,1022.8 543.2,1019.3 545.2,1015.8 547.3,1012.3 549.3,1008.8 551.4,1005.3 553.5,1001.8 555.5,998.3 557.6,994.9 559.6,991.4 561.7,987.9 563.7,984.4 565.8,980.9 567.8,977.4 569.9,973.9 572.0,970.4 574.0,966.9 576.1,963.4 578.1,959.9 580.2,956.4 582.2,952.9 584.3,949.5 586.3,946.0 588.4,942.5 590.5,939.0 592.5,935.5 594.6,932.0 596.6,928.5 598.7,925.0 600.7,921.5 602.8,918.0 604.8,914.5 606.9,911.0 609.0,907.5 611.0,904.1 613.1,900.6 615.1,897.1 617.2,893.6 619.2,890.1 621.3,886.6 623.4,883.1 625.4,879.6 627.5,876.1 629.5,872.6 631.6,869.1 633.6,865.6 635.7,862.1 637.7,858.7 639.8,855.2 641.9,851.7 643.9,848.2 646.0,844.7 648.0,841.2 650.1,837.7 652.1,834.2 654.2,830.7 656.2,827.2 658.3,823.7 660.4,820.2 662.4,816.8 664.5,813.3 666.5,809.8 668.6,806.3 670.6,802.8 672.7,799.3 674.7,795.8 676.8,792.3 678.9,788.8 680.9,785.3 683.0,781.8 685.0,778.3 687.1,774.8 689.1,771.4 691.2,767.9 693.3,764.4 695.3,760.9 697.4,757.4 699.4,753.9 701.5,750.4 703.5,746.9 705.6,743.4 707.6,739.9 709.7,736.4 711.8,732.9 713.8,729.4 715.9,726.0 717.9,722.5 720.0,719.0 722.0,715.5 724.1,712.0 726.1,708.5 728.2,705.0 728.2,2055.5 726.1,2052.7 724.1,2049.8 722.0,2047.0 720.0,2044.2 717.9,2041.3 715.9,2038.5 713.8,2035.6 711.8,2032.8 709.7,2029.9 707.6,2027.1 705.6,2024.3 703.5,2021.4 701.5,2018.6 699.4,2015.7 697.4,2012.9 695.3,2010.0 693.3,2007.2 691.2,2004.4 689.1,2001.5 687.1,1998.7 685.0,1995.8 683.0,1993.0 680.9,1990.1 678.9,1987.3 676.8,1984.4 674.7,1981.6 672.7,1978.8 670.6,1975.9 668.6,1973.1 666.5,1970.2 664.5,1967.4 662.4,1964.5 660.4,1961.7 658.3,1958.9 656.2,1956.0 654.2,1953.2 652.1,1950.3 650.1,1947.5 648.0,1944.6 646.0,1941.8 643.9,1939.0 641.9,1936.1 639.8,1933.3 637.7,1930.4 635.7,1927.6 633.6,1924.7 631.6,1921.9 629.5,1919.0 627.5,1916.2 625.4,1913.4 623.4,1910.5 621.3,1907.7 619.2,1904.8 617.2,1902.0 615.1,1899.1 613.1,1896.3 611.0,1893.5 609.0,1890.6 606.9,1887.8 604.8,1884.9 602.8,1882.1 600.7,1879.2 598.7,1876.4 596.6,1873.6 594.6,1870.7 592.5,1867.9 590.5,1865.0 588.4,1862.2 586.3,1859.3 584.3,1856.5 582.2,1853.6 580.2,1850.8 578.1,1848.0 576.1,1845.1 574.0,1842.3 572.0,1839.4 569.9,1836.6 567.8,1833.7 565.8,1830.9 563.7,1828.1 561.7,1825.2 559.6,1822.4 557.6,1819.5 555.5,1816.7 553.5,1813.8 551.4,1811.0 549.3,1808.2 547.3,1805.3 545.2,1802.5 543.2,1799.6 541.1,1796.8 539.1,1793.9 537.0,1791.1 534.9,1788.2 532.9,1785.4 530.8,1782.6 528.8,1779.7 526.7,1776.9 524.7,1774.0 522.6,1771.2 520.6,1768.3 518.5,1765.5 516.4,1762.7 514.4,1759.8 512.3,1757.0 510.3,1754.1 508.2,1751.3 506.2,1748.4 504.1,1745.6 502.1,1742.7 500.0,1739.9 497.9,1737.1 495.9,1734.2 493.8,1731.4 491.8,1728.5 489.7,1725.7 487.7,1722.8 485.6,1720.0 483.6,1717.2 481.5,1714.3 479.4,1711.5 477.4,1708.6 475.3,1705.8 473.3,1702.9 471.2,1700.1 469.2,1697.3 467.1,1694.4 465.1,1691.6 463.0,1688.7 460.9,1686.0 458.9,1683.3 456.8,1680.6 454.8,1678.0 452.7,1675.5 450.7,1673.0 448.6,1670.6 446.5,1668.2 444.5,1665.8 442.4,1663.5 440.4,1661.3 438.3,1659.1 436.3,1656.9 434.2,1654.7 432.2,1652.6 430.1,1650.6 428.0,1648.6 426.0,1646.6 423.9,1644.6 421.9,1642.7 419.8,1640.7 417.8,1638.9 415.7,1637.0 413.7,1635.2 411.6,1633.4 409.5,1631.6 407.5,1629.8 405.4,1628.1 403.4,1626.4 401.3,1624.6 399.3,1623.0 397.2,1621.3 395.2,1619.6 393.1,1618.0 391.0,1616.4 389.0,1614.8 386.9,1613.3 384.9,1611.7 382.8,1610.2 380.8,1608.7 378.7,1607.2 376.6,1605.8 374.6,1604.4 372.5,1603.0 370.5,1601.6 368.4,1600.2 366.4,1598.9 364.3,1597.6 362.3,1596.3 360.2,1595.0 358.1,1593.8 356.1,1592.5 354.0,1591.3 352.0,1590.2 349.9,1589.0 347.9,1587.9 345.8,1586.8 343.8,1585.7 341.7,1584.6 339.6,1583.6 337.6,1582.6 335.5,1581.6 333.5,1580.6 331.4,1579.7 329.4,1578.7 327.3,1577.8 325.3,1576.9 323.2,1576.1 321.1,1575.2 319.1,1574.4 317.0,1573.6 315.0,1572.8 312.9,1572.0 310.9,1571.3 308.8,1570.5 306.8,1569.8 304.7,1569.1 302.6,1568.5 300.6,1567.8 298.5,1567.2 296.5,1566.5 294.4,1565.9 292.4,1565.3 290.3,1564.7 288.2,1564.2 286.2,1563.6 284.1,1563.1 282.1,1562.6 280.0,1562.1 278.0,1561.6 275.9,1561.1 273.9,1560.7 271.8,1560.2 269.7,1559.8 267.7,1559.4 265.6,1559.0 263.6,1558.6 261.5,1558.3 259.5,1557.9 257.4,1557.6 255.4,1557.2 253.3,1556.9 251.2,1556.6 249.2,1556.3 247.1,1556.0 245.1,1555.7 243.0,1555.5 241.0,1555.2 238.9,1555.0 236.9,1554.7 234.8,1554.5 232.7,1554.3 230.7,1554.1 228.6,1553.9 226.6,1553.7 224.5,1553.5 222.5,1553.4 220.4,1553.2 218.3,1553.1 216.3,1552.9 214.2,1552.8 212.2,1552.7 210.1,1552.5 208.1,1552.4 206.0,1552.3 204.0,1552.2 201.9,1552.1 199.8,1552.0 197.8,1552.0 195.7,1551.9 193.7,1551.8 191.6,1551.7 189.6,1551.7 187.5,1551.6 185.5,1551.6 183.4,1551.5 181.3,1551.5 179.3,1551.4 177.2,1551.4 175.2,1551.4 173.1,1551.3 171.1,1551.3 169.0,1551.3 167.0,1551.3 164.9,1551.3 162.8,1551.2 160.8,1551.2 158.7,1551.2 156.7,1551.2 154.6,1551.2 152.6,1551.2 150.5,1551.1 148.4,1551.1 146.4,1551.1 144.3,1551.1 142.3,1551.1 140.2,1551.1 138.2,1551.1 136.1,1551.1 134.1,1551.0 132.0,1551.0 129.9,1551.0 127.9,1551.0 125.8,1550.9 123.8,1550.9 121.7,1550.9 119.7,1550.8 117.6,1550.8 115.6,1550.8 113.5,1550.7" fill="#90ee90"/>
<polygon points="113.5,1445.3 115.6,1445.2 117.6,1445.2 119.7,1445.2 121.7,1445.1 123.8,1445.1 125.8,1445.0 127.9,1445.0 129.9,1444.9 132.0,1444.8 134.1,1444.8 136.1,1444.7 138.2,1444.6 140.2,1444.6 142.3,1444.5 144.3,1444.4 146.4,1444.3 148.4,1444.2 150.5,1444.1 152.6,1444.0 154.6,1443.9 156.7,1443.8 158.7,1443.7 160.8,1443.6 162.8,1443.5 164.9,1443.3 167.0,1443.2 169.0,1443.0 171.1,1442.9 173.1,1442.7 175.2,1442.6 177.2,1442.4 179.3,1442.2 181.3,1442.1 183.4,1441.9 185.5,1441.7 187.5,1441.5 189.6,1441.2 191.6,1441.0 193.7,1440.8 195.7,1440.6 197.8,1440.3 199.8,1440.1 201.9,1439.8 204.0,1439.5 206.0,1439.2 208.1,1439.0 210.1,1438.7 212.2,1438.3 214.2,1438.0 216.3,1437.7 218.3,1437.4 220.4,1437.0 222.5,1436.7 224.5,1436.3 226.6,1435.9 228.6,1435.5 230.7,1435.1 232.7,1434.7 234.8,1434.3 236.9,1433.9 238.9,1433.4 241.0,1433.0 243.0,1432.5 245.1,1432.0 247.1,1431.5 249.2,1431.0 251.2,1430.5 253.3,1430.0 255.4,1429.4 257.4,1428.9 259.5,1428.3 261.5,1427.7 263.6,1427.1 265.6,1426.5 267.7,1425.9 269.7,1425.2 271.8,1424.6 273.9,1423.9 275.9,1423.2 278.0,1422.5 280.0,1421.8 282.1,1421.1 284.1,1420.4 286.2,1419.6 288.2,1418.8 290.3,1418.1 292.4,1417.3 294.4,1416.4 296.5,1415.6 298.5,1414.8 300.6,1413.9 302.6,1413.0 304.7,1412.1 306.8,1411.2 308.8,1410.3 310.9,1409.3 312.9,1408.3 315.0,1407.4 317.0,1406.3 319.1,1405.3 321.1,1404.3 323.2,1403.2 325.3,1402.2 327.3,1401.1 329.4,1399.9 331.4,1398.8 333.5,1397.7 335.5,1396.5 337.6,1395.3 339.6,1394.1 341.7,1392.9 343.8,1391.6 345.8,1390.4 347.9,1389.1 349.9,1387.8 352.0,1386.4 354.0,1385.1 356.1,1383.7 358.1,1382.3 360.2,1380.9 362.3,1379.5 364.3,1378.0 366.4,1376.5 368.4,1375.0 370.5,1373.5 372.5,1372.0 374.6,1370.4 376.6,1368.8 378.7,1367.2 380.8,1365.6 382.8,1363.9 384.9,1362.3 386.9,1360.6 389.0,1358.9 391.0,1357.2 393.1,1355.4 395.2,1353.6 397.2,1351.8 399.3,1350.0 401.3,1348.2 403.4,1346.4 405.4,1344.5 407.5,1342.6 409.5,1340.7 411.6,1338.8 413.7,1336.9 415.7,1335.0 417.8,1333.0 419.8,1331.0 421.9,1329.1 423.9,1327.0 426.0,1325.0 428.0,1323.0 430.1,1321.0 432.2,1318.9 434.2,1316.8 436.3,1314.7 438.3,1312.6 440.4,1310.5 442.4,1308.4 444.5,1306.3 446.5,1304.1 448.6,1302.0 450.7,1299.8 452.7,1297.6 454.8,1295.4 456.8,1293.2 458.9,1291.0 460.9,1288.8 463.0,1286.6 465.1,1284.3 467.1,1282.0 469.2,1279.8 471.2,1277.5 473.3,1275.2 475.3,1272.8 477.4,1270.5 479.4,1268.1 481.5,1265.8 483.6,1263.4 485.6,1261.0 487.7,1258.5 489.7,1256.1 491.8,1253.6 493.8,1251.2 495.9,1248.7 497.9,1246.1 500.0,1243.6 502.1,1241.0 504.1,1238.5 506.2,1235.8 508.2,1233.2 510.3,1230.6 512.3,1227.9 514.4,1225.2 516.4,1222.5 518.5,1219.7 520.6,1217.0 522.6,1214.2 524.7,1211.4 526.7,1208.7 528.8,1205.9 530.8,1203.1 532.9,1200.3 534.9,1197.6 537.0,1194.8 539.1,1192.0 541.1,1189.3 543.2,1186.5 545.2,1183.7 547.3,1180.9 549.3,1178.2 551.4,1175.4 553.5,1172.6 555.5,1169.9 557.6,1167.1 559.6,1164.3 561.7,1161.5 563.7,1158.8 565.8,1156.0 567.8,1153.2 569.9,1150.5 572.0,1147.7 574.0,1144.9 576.1,1142.2 578.1,1139.4 580.2,1136.6 582.2,1133.8 584.3,1131.1 586.3,1128.3 588.4,1125.5 590.5,1122.8 592.5,1120.0 594.6,1117.2 596.6,1114.4 598.7,1111.7 600.7,1108.9 602.8,1106.1 604.8,1103.4 606.9,1100.6 609.0,1097.8 611.0,1095.0 613.1,1092.3 615.1,1089.5 617.2,1086.7 619.2,1084.0 621.3,1081.2 623.4,1078.4 625.4,1075.6 627.5,1072.9 629.5,1070.1 631.6,1067.3 633.6,1064.6 635.7,1061.8 637.7,1059.0 639.8,1056.2 641.9,1053.5 643.9,1050.7 646.0,1047.9 648.0,1045.2 650.1,1042.4 652.1,1039.6 654.2,1036.8 656.2,1034.1 658.3,1031.3 660.4,1028.5 662.4,1025.8 664.5,1023.0 666.5,1020.2 668.6,1017.5 670.6,1014.7 672.7,1011.9 674.7,1009.1 676.8,1006.4 678.9,1003.6 680.9,1000.8 683.0,998.1 685.0,995.3 687.1,992.5 689.1,989.7 691.2,987.0 693.3,984.2 695.3,981.4 697.4,978.7 699.4,975.9 701.5,973.1 703.5,970.3 705.6,967.6 707.6,964.8 709.7,962.0 711.8,959.3 713.8,956.5 715.9,953.7 717.9,950.9 720.0,948.2 722.0,945.4 724.1,942.6 726.1,939.9 728.2,937.1 728.2,1868.3 726.1,1865.3 724.1,1862.3 722.0,1859.2 720.0,1856.2 717.9,1853.2 715.9,1850.2 713.8,1847.2 711.8,1844.1 709.7,1841.1 707.6,1838.1 705.6,1835.1 703.5,1832.1 701.5,1829.0 699.4,1826.0 697.4,1823.0 695.3,1820.0 693.3,1817.0 691.2,1813.9 689.1,1810.9 687.1,1807.9 685.0,1804.9 683.0,1801.8 680.9,1798.8 678.9,1795.8 676.8,1792.8 674.7,1789.8 672.7,1786.7 670.6,1783.7 668.6,1780.7 666.5,1777.7 664.5,1774.7 662.4,1771.6 660.4,1768.6 658.3,1765.6 656.2,1762.6 654.2,1759.6 652.1,1756.5 650.1,1753.5 648.0,1750.5 646.0,1747.5 643.9,1744.5 641.9,1741.4 639.8,1738.4 637.7,1735.4 635.7,1732.4 633.6,1729.4 631.6,1726.3 629.5,1723.3 627.5,1720.3 625.4,1717.3 623.4,1714.2 621.3,1711.2 619.2,1708.2 617.2,1705.2 615.1,1702.2 613.1,1699.1 611.0,1696.1 609.0,1693.1 606.9,1690.1 604.8,1687.1 602.8,1684.1 600.7,1681.2 598.7,1678.3 596.6,1675.5 594.6,1672.7 592.5,1669.9 590.5,1667.2 588.4,1664.5 586.3,1661.8 584.3,1659.2 582.2,1656.6 580.2,1654.1 578.1,1651.6 576.1,1649.1 574.0,1646.6 572.0,1644.2 569.9,1641.9 567.8,1639.5 565.8,1637.2 563.7,1635.0 561.7,1632.7 559.6,1630.5 557.6,1628.4 555.5,1626.2 553.5,1624.1 551.4,1622.0 549.3,1620.0 547.3,1618.0 545.2,1616.0 543.2,1614.0 541.1,1612.1 539.1,1610.2 537.0,1608.3 534.9,1606.5 532.9,1604.6 530.8,1602.8 528.8,1601.1 526.7,1599.3 524.7,1597.6 522.6,1595.9 520.6,1594.3 518.5,1592.7 516.4,1591.0 514.4,1589.5 512.3,1587.9 510.3,1586.3 508.2,1584.8 506.2,1583.3 504.1,1581.9 502.1,1580.4 500.0,1579.0 497.9,1577.6 495.9,1576.2 493.8,1574.8 491.8,1573.5 489.7,1572.1 487.7,1570.8 485.6,1569.6 483.6,1568.3 481.5,1567.0 479.4,1565.8 477.4,1564.6 475.3,1563.4 473.3,1562.2 471.2,1561.1 469.2,1559.9 467.1,1558.8 465.1,1557.7 463.0,1556.6 460.9,1555.6 458.9,1554.5 456.8,1553.5 454.8,1552.5 452.7,1551.5 450.7,1550.5 448.6,1549.6 446.5,1548.6 444.5,1547.7 442.4,1546.8 440.4,1545.9 438.3,1545.0 436.3,1544.2 434.2,1543.3 432.2,1542.5 430.1,1541.7 428.0,1540.9 426.0,1540.1 423.9,1539.3 421.9,1538.6 419.8,1537.8 417.8,1537.1 415.7,1536.4 413.7,1535.7 411.6,1535.1 409.5,1534.4 407.5,1533.7 405.4,1533.1 403.4,1532.5 401.3,1531.9 399.3,1531.3 397.2,1530.7 395.2,1530.1 393.1,1529.6 391.0,1529.0 389.0,1528.5 386.9,1528.0 384.9,1527.5 382.8,1527.0 380.8,1526.5 378.7,1526.1 376.6,1525.6 374.6,1525.2 372.5,1524.7 370.5,1524.3 368.4,1523.9 366.4,1523.5 364.3,1523.1 362.3,1522.8 360.2,1522.4 358.1,1522.0 356.1,1521.7 354.0,1521.4 352.0,1521.0 349.9,1520.7 347.9,1520.4 345.8,1520.1 343.8,1519.9 341.7,1519.6 339.6,1519.3 337.6,1519.1 335.5,1518.8 333.5,1518.6 331.4,1518.4 329.4,1518.1 327.3,1517.9 325.3,1517.7 323.2,1517.5 321.1,1517.4 319.1,1517.2 317.0,1517.0 315.0,1516.9 312.9,1516.7 310.9,1516.6 308.8,1516.4 306.8,1516.3 304.7,1516.2 302.6,1516.0 300.6,1515.9 298.5,1515.8 296.5,1515.7 294.4,1515.6 292.4,1515.5 290.3,1515.5 288.2,1515.4 286.2,1515.3 284.1,1515.3 282.1,1515.2 280.0,1515.1 278.0,1515.1 275.9,1515.0 273.9,1515.0 271.8,1515.0 269.7,1514.9 267.7,1514.9 265.6,1514.9 263.6,1514.9 261.5,1514.9 259.5,1514.9 257.4,1514.9 255.4,1514.9 253.3,1514.9 251.2,1514.9 249.2,1514.9 247.1,1514.9 245.1,1514.9 243.0,1514.9 241.0,1514.9 238.9,1514.9 236.9,1515.0 234.8,1515.0 232.7,1515.0 230.7,1515.0 228.6,1515.1 226.6,1515.1 224.5,1515.1 222.5,1515.2 220.4,1515.2 218.3,1515.2 216.3,1515.3 214.2,1515.3 212.2,1515.4 210.1,1515.4 208.1,1515.4 206.0,1515.5 204.0,1515.5 201.9,1515.5 199.8,1515.6 197.8,1515.6 195.7,1515.6 193.7,1515.7 191.6,1515.7 189.6,1515.8 187.5,1515.8 185.5,1515.8 183.4,1515.8 181.3,1515.9 179.3,1515.9 177.2,1515.9 175.2,1515.9 173.1,1516.0 171.1,1516.0 169.0,1516.0 167.0,1516.0 164.9,1516.0 162.8,1516.0 160.8,1516.0 158.7,1516.0 156.7,1516.0 154.6,1516.0 152.6,1516.0 150.5,1516.0 148.4,1515.9 146.4,1515.9 144.3,1515.9 142.3,1515.9 140.2,1515.8 138.2,1515.8 136.1,1515.7 134.1,1515.7 132.0,1515.6 129.9,1515.6 127.9,1515.5 125.8,1515.4 123.8,1515.3 121.7,1515.2 119.7,1515.2 117.6,1515.1 115.6,1515.0 113.5,1514.8" fill="#add8e6"/>
<polyline points="113.5,1481.0 115.6,1481.0 117.6,1481.0 119.7,1481.0 121.7,1481.0 123.8,1480.9 125.8,1480.9 127.9,1480.8 129.9,1480.8 132.0,1480.8 134.1,1480.7 136.1,1480.6 138.2,1480.6 140.2,1480.5 142.3,1480.4 144.3,1480.4 146.4,1480.3 148.4,1480.2 150.5,1480.1 152.6,1480.0 154.6,1479.9 156.7,1479.8 158.7,1479.7 160.8,1479.6 162.8,1479.5 164.9,1479.3 167.0,1479.2 169.0,1479.1 171.1,1478.9 173.1,1478.8 175.2,1478.6 177.2,1478.5 179.3,1478.3 181.3,1478.2 183.4,1478.0 185.5,1477.9 187.5,1477.7 189.6,1477.5 191.6,1477.3 193.7,1477.1 195.7,1476.9 197.8,1476.8 199.8,1476.6 201.9,1476.4 204.0,1476.1 206.0,1475.9 208.1,1475.7 210.1,1475.5 212.2,1475.3 214.2,1475.0 216.3,1474.8 218.3,1474.6 220.4,1474.3 222.5,1474.1 224.5,1473.8 226.6,1473.6 228.6,1473.3 230.7,1473.1 232.7,1472.8 234.8,1472.5 236.9,1472.2 238.9,1472.0 241.0,1471.7 243.0,1471.4 245.1,1471.1 247.1,1470.8 249.2,1470.5 251.2,1470.2 253.3,1469.9 255.4,1469.6 257.4,1469.3 259.5,1468.9 261.5,1468.6 263.6,1468.3 265.6,1468.0 267.7,1467.6 269.7,1467.3 271.8,1466.9 273.9,1466.6 275.9,1466.2 278.0,1465.9 280.0,1465.5 282.1,1465.1 284.1,1464.8 286.2,1464.4 288.2,1464.0 290.3,1463.6 292.4,1463.2 294.4,1462.9 296.5,1462.5 298.5,1462.1 300.6,1461.7 302.6,1461.3 304.7,1460.8 306.8,1460.4 308.8,1460.0 310.9,1459.6 312.9,1459.2 315.0,1458.7 317.0,1458.3 319.1,1457.9 321.1,1457.4 323.2,1457.0 325.3,1456.5 327.3,1456.1 329.4,1455.6 331.4,1455.2 333.5,1454.7 335.5,1454.2 337.6,1453.8 339.6,1453.3 341.7,1452.8 343.8,1452.3 345.8,1451.8 347.9,1451.4 349.9,1450.9 352.0,1450.4 354.0,1449.9 356.1,1449.4 358.1,1448.8 360.2,1448.3 362.3,1447.8 364.3,1447.3 366.4,1446.8 368.4,1446.2 370.5,1445.7 372.5,1445.2 374.6,1444.6 376.6,1444.1 378.7,1443.6 380.8,1443.0 382.8,1442.5 384.9,1441.9 386.9,1441.4 389.0,1440.8 391.0,1440.2 393.1,1439.7 395.2,1439.1 397.2,1438.6 399.3,1438.0 401.3,1437.4 403.4,1436.9 405.4,1436.3 407.5,1435.7 409.5,1435.1 411.6,1434.6 413.7,1434.0 415.7,1433.4 417.8,1432.8 419.8,1432.3 421.9,1431.7 423.9,1431.1 426.0,1430.5 428.0,1430.0 430.1,1429.4 432.2,1428.8 434.2,1428.2 436.3,1427.7 438.3,1427.1 440.4,1426.5 442.4,1425.9 444.5,1425.4 446.5,1424.8 448.6,1424.2 450.7,1423.7 452.7,1423.1 454.8,1422.5 456.8,1422.0 458.9,1421.4 460.9,1420.9 463.0,1420.3 465.1,1419.8 467.1,1419.2 469.2,1418.7 471.2,1418.1 473.3,1417.6 475.3,1417.0 477.4,1416.5 479.4,1416.0 481.5,1415.4 483.6,1414.9 485.6,1414.4 487.7,1413.9 489.7,1413.3 491.8,1412.8 493.8,1412.3 495.9,1411.8 497.9,1411.3 500.0,1410.8 502.1,1410.3 504.1,1409.9 506.2,1409.4 508.2,1408.9 510.3,1408.4 512.3,1408.0 514.4,1407.5 516.4,1407.1 518.5,1406.6 520.6,1406.2 522.6,1405.7 524.7,1405.3 526.7,1404.9 528.8,1404.5 530.8,1404.1 532.9,1403.7 534.9,1403.3 537.0,1402.9 539.1,1402.5 541.1,1402.1 543.2,1401.8 545.2,1401.4 547.3,1401.1 549.3,1400.8 551.4,1400.5 553.5,1400.2 555.5,1399.9 557.6,1399.6 559.6,1399.3 561.7,1399.1 563.7,1398.8 565.8,1398.6 567.8,1398.4 569.9,1398.2 572.0,1398.0 574.0,1397.8 576.1,1397.6 578.1,1397.5 580.2,1397.4 582.2,1397.3 584.3,1397.2 586.3,1397.1 588.4,1397.0 590.5,1397.0 592.5,1396.9 594.6,1396.9 596.6,1396.9 598.7,1397.0 600.7,1397.0 602.8,1397.1 604.8,1397.2 606.9,1397.3 609.0,1397.4 611.0,1397.5 613.1,1397.7 615.1,1397.9 617.2,1398.1 619.2,1398.3 621.3,1398.6 623.4,1398.9 625.4,1399.2 627.5,1399.5 629.5,1399.9 631.6,1400.2 633.6,1400.6 635.7,1401.0 637.7,1401.5 639.8,1402.0 641.9,1402.5 643.9,1403.0 646.0,1403.5 648.0,1404.1 650.1,1404.7 652.1,1405.3 654.2,1406.0 656.2,1406.7 658.3,1407.4 660.4,1408.2 662.4,1408.9 664.5,1409.7 666.5,1410.6 668.6,1411.4 670.6,1412.3 672.7,1413.3 674.7,1414.2 676.8,1415.2 678.9,1416.2 680.9,1417.3 683.0,1418.4 685.0,1419.5 687.1,1420.6 689.1,1421.8 691.2,1423.0 693.3,1424.3 695.3,1425.6 697.4,1426.9 699.4,1428.3 701.5,1429.7 703.5,1431.1 705.6,1432.5 707.6,1434.1 709.7,1435.6 711.8,1437.2 713.8,1438.8 715.9,1440.4 717.9,1442.1 720.0,1443.9 722.0,1445.6 724.1,1447.4 726.1,1449.3 728.2,1451.2" fill="none" stroke="#0000cd" stroke-width="2.60" stroke-linejoin="round"/>
<line x1="115.5" y1="1531.80" x2="726.2" y2="1531.80" stroke="#000" stroke-width="2.20"/>
</g>
<rect x="115.50" y="1224.80" width="610.70" height="460.20" fill="none" stroke="#000" stroke-width="1.10"/>
<line x1="115.50" y1="1685.00" x2="115.50" y2="1690.00" stroke="#000" stroke-width="1.10"/><g transform="matrix(0.17400,0.00000,0.00000,0.17400,101.66802,1709.95000)" fill="#000"><text x="-0.0 58.4 87.6" y="-0.78" font-size="105.00" transform="scale(1.0895,1)">0.0</text></g><line x1="237.64" y1="1685.00" x2="237.64" y2="1690.00" stroke="#000" stroke-width="1.10"/><g transform="matrix(0.17400,0.00000,0.00000,0.17400,224.58014,1709.95000)" fill="#000"><text x="-0.0 58.4 82.5" y="-0.78" font-size="105.00" transform="scale(1.0895,1)">0.2</text></g><line x1="359.78" y1="1685.00" x2="359.78" y2="1690.00" stroke="#000" stroke-width="1.10"/><g transform="matrix(0.17400,0.00000,0.00000,0.17400,345.85830,1709.95000)" fill="#000"><text x="-0.0 58.4 87.6" y="-0.78" font-size="105.00" transform="scale(1.0895,1)">0.4</text></g><line x1="481.92" y1="1685.00" x2="481.92" y2="1690.00" stroke="#000" stroke-width="1.10"/><g transform="matrix(0.17400,0.00000,0.00000,0.17400,468.05811,1709.95000)" fill="#000"><text x="-0.0 58.4 87.6" y="-0.78" font-size="105.00" transform="scale(1.0895,1)">0.6</text></g><line x1="604.06" y1="1685.00" x2="604.06" y2="1690.00" stroke="#000" stroke-width="1.10"/><g transform="matrix(0.17400,0.00000,0.00000,0.17400,590.47407,1709.95000)" fill="#000"><text x="-0.0 58.4 85.2" y="-0.78" font-size="105.00" transform="scale(1.0895,1)">0.8</text></g><line x1="726.20" y1="1685.00" x2="726.20" y2="1690.00" stroke="#000" stroke-width="1.10"/><g transform="matrix(0.17400,0.00000,0.00000,0.17400,711.98604,1709.95000)" fill="#000"><text x="-0.0 58.4 87.6" y="-0.78" font-size="105.00" transform="scale(1.0895,1)">1.0</text></g>
<line x1="110.50" y1="1224.80" x2="115.50" y2="1224.80" stroke="#000" stroke-width="1.10"/><g transform="matrix(0.17400,0.00000,0.00000,0.17400,60.64424,1231.26927)" fill="#000"><text x="7.8 76.9 135.3 164.5" y="-0.78" font-size="105.00" transform="scale(1.0896,1)">−0.6</text></g><line x1="110.50" y1="1301.50" x2="115.50" y2="1301.50" stroke="#000" stroke-width="1.10"/><g transform="matrix(0.17400,0.00000,0.00000,0.17400,62.38424,1307.96927)" fill="#000"><text x="7.8 76.9 135.3 157.4" y="-0.78" font-size="105.00" transform="scale(1.0896,1)">−0.7</text></g><line x1="110.50" y1="1378.20" x2="115.50" y2="1378.20" stroke="#000" stroke-width="1.10"/><g transform="matrix(0.17400,0.00000,0.00000,0.17400,61.19615,1384.66927)" fill="#000"><text x="7.8 76.9 135.3 162.1" y="-0.78" font-size="105.00" transform="scale(1.0896,1)">−0.8</text></g><line x1="110.50" y1="1454.90" x2="115.50" y2="1454.90" stroke="#000" stroke-width="1.10"/><g transform="matrix(0.17400,0.00000,0.00000,0.17400,60.77202,1461.36927)" fill="#000"><text x="7.8 76.9 135.3 164.5" y="-0.78" font-size="105.00" transform="scale(1.0896,1)">−0.9</text></g><line x1="110.50" y1="1531.60" x2="115.50" y2="1531.60" stroke="#000" stroke-width="1.10"/><g transform="matrix(0.17400,0.00000,0.00000,0.17400,60.70405,1538.06927)" fill="#000"><text x="7.8 76.9 135.3 164.5" y="-0.78" font-size="105.00" transform="scale(1.0896,1)">−1.0</text></g><line x1="110.50" y1="1608.30" x2="115.50" y2="1608.30" stroke="#000" stroke-width="1.10"/><g transform="matrix(0.17400,0.00000,0.00000,0.17400,61.15537,1614.65916)" fill="#000"><text x="7.8 76.9 135.3 164.5" y="-0.09" font-size="105.00" transform="scale(1.0896,1)">−1.1</text></g><line x1="110.50" y1="1685.00" x2="115.50" y2="1685.00" stroke="#000" stroke-width="1.10"/><g transform="matrix(0.17400,0.00000,0.00000,0.17400,62.24830,1691.59297)" fill="#000"><text x="7.8 76.9 135.3 159.4" y="-0.78" font-size="105.00" transform="scale(1.0896,1)">−1.2</text></g>
<rect x="121.5" y="1231.0" width="144.2" height="95.1" rx="4.0" fill="#fff" stroke="#cccccc" stroke-width="1.1"/>
<rect x="126.0" y="1236.0" width="26.0" height="10.7" fill="#d3d3d3"/>
<rect x="126.0" y="1254.3" width="26.0" height="10.2" fill="#90ee90"/>
<rect x="126.0" y="1273.1" width="26.0" height="9.5" fill="#add8e6"/>
<line x1="125.0" y1="1295.8" x2="152.0" y2="1295.8" stroke="#0000cd" stroke-width="2.0"/>
<line x1="125.0" y1="1314.1" x2="152.0" y2="1314.1" stroke="#000" stroke-width="3.0"/>
<g transform="matrix(0.12562,0.00000,0.00000,0.12562,159.53222,1243.80000)" fill="#000"><text x="0.0" y="-0.78" font-size="105.00" font-style="italic" transform="scale(1.0786,1)">w</text><text x="102.6 187.7 242.5" y="-0.78" font-size="105.00" transform="scale(1.0895,1)">±3Δ</text><text x="312.0" y="-0.78" font-size="105.00" font-style="italic" transform="scale(1.0786,1)">w</text></g>
<g transform="matrix(0.12562,0.00000,0.00000,0.12562,159.53222,1261.70000)" fill="#000"><text x="0.0" y="-0.78" font-size="105.00" font-style="italic" transform="scale(1.0786,1)">w</text><text x="102.6 187.7 242.5" y="-0.78" font-size="105.00" transform="scale(1.0895,1)">±2Δ</text><text x="312.0" y="-0.78" font-size="105.00" font-style="italic" transform="scale(1.0786,1)">w</text></g>
<g transform="matrix(0.12473,0.00000,0.00000,0.12473,159.53977,1279.60000)" fill="#000"><text x="0.0" y="-0.09" font-size="105.00" font-style="italic" transform="scale(1.0786,1)">w</text><text x="89.0 161.5" y="-0.09" font-size="105.00" transform="scale(1.2147,1)">±Δ</text><text x="253.1" y="-0.09" font-size="105.00" font-style="italic" transform="scale(1.0786,1)">w</text></g>
<g transform="matrix(0.12365,0.00000,0.00000,0.12365,159.47749,1297.60000)" fill="#000"><text x="1.8 90.7 148.1 206.3" y="-0.00" font-size="105.00" transform="scale(1.0694,1)">mean</text><text x="292.4" y="-0.00" font-size="105.00" font-style="italic" transform="scale(1.0786,1)">w</text></g>
<g transform="matrix(0.12384,0.00000,0.00000,0.12384,159.54735,1316.60000)" fill="#000"><text x="0.0" y="-0.12" font-size="105.00" font-style="italic" transform="scale(1.0786,1)">w</text><text x="83.9 183.8 257.2" y="-0.12" font-size="105.00" transform="scale(1.2500,1)">=−1</text><text x="423.2 459.3 525.5 598.8 674.6 763.4" y="-0.12" font-size="105.00">(ΛCDM)</text></g>
<g transform="matrix(0.19686,0.00000,0.00000,0.19686,125.60195,1213.70000)" fill="#000"><text x="-5.8 59.6 84.1 142.5 202.1 225.7 282.4 320.0 351.7 406.8 457.5" y="-0.02" font-size="105.00" transform="scale(1.0853,1)">Single-task</text><text x="583.7 658.4 720.4 795.3" y="-0.02" font-size="105.00">GPR:</text><text x="783.8 845.6 903.1 964.9 997.6 1055.1 1111.7 1169.0 1220.2 1284.1 1308.6 1364.7 1422.9" y="-0.02" font-size="105.00" transform="scale(1.0853,1)">PantheonPlus+</text><text x="1618.9" y="-0.02" font-size="105.00" font-style="italic">M</text><text x="1705.3" y="16.39" font-size="73.50" font-style="italic">B</text><text x="1612.7 1655.9 1725.0 1783.4 1841.8 1870.9 1929.3 1987.7 2073.6 2158.8 2217.2 2246.4 2304.8 2363.2 2422.0 2465.2 2528.4 2594.2 2674.0" y="-0.02" font-size="105.00" transform="scale(1.0895,1)">(−19.384±0.052)+CMB</text></g>
<g transform="matrix(0.40481,0.00000,0.00000,0.42057,409.12018,1751.13143)" fill="#000"><text x="-0.0" y="-0.31" font-size="105.00" font-style="italic">z</text></g>
<g transform="matrix(0.00000,-0.34680,0.34582,0.00000,46.38267,1492.04781)" fill="#000"><text x="0.0" y="-0.12" font-size="105.00" font-style="italic" transform="scale(1.0786,1)">w</text><text x="73.3" y="-0.12" font-size="105.00" transform="scale(1.1158,1)">(</text><text x="120.8" y="-0.12" font-size="105.00" font-style="italic">z</text><text x="155.3" y="-0.12" font-size="105.00" transform="scale(1.1158,1)">)</text></g>
<g clip-path="url(#cp6)">
<polygon points="871.6,1368.3 873.7,1367.4 875.7,1366.6 877.8,1365.8 879.8,1364.9 881.9,1364.1 883.9,1363.2 886.0,1362.4 888.0,1361.5 890.1,1360.7 892.2,1359.8 894.2,1358.9 896.3,1358.0 898.3,1357.1 900.4,1356.2 902.4,1355.3 904.5,1354.4 906.5,1353.5 908.6,1352.6 910.7,1351.7 912.7,1350.7 914.8,1349.8 916.8,1348.9 918.9,1347.9 920.9,1346.9 923.0,1346.0 925.1,1345.0 927.1,1344.0 929.2,1343.1 931.2,1342.1 933.3,1341.1 935.3,1340.1 937.4,1339.0 939.4,1338.0 941.5,1337.0 943.6,1336.0 945.6,1334.9 947.7,1333.9 949.7,1332.8 951.8,1331.8 953.8,1330.7 955.9,1329.6 957.9,1328.6 960.0,1327.5 962.1,1326.4 964.1,1325.3 966.2,1324.2 968.2,1323.0 970.3,1321.9 972.3,1320.8 974.4,1319.7 976.4,1318.5 978.5,1317.4 980.6,1316.2 982.6,1315.0 984.7,1313.8 986.7,1312.7 988.8,1311.5 990.8,1310.3 992.9,1309.1 995.0,1307.8 997.0,1306.6 999.1,1305.4 1001.1,1304.2 1003.2,1302.9 1005.2,1301.6 1007.3,1300.4 1009.3,1299.1 1011.4,1297.8 1013.5,1296.5 1015.5,1295.3 1017.6,1293.9 1019.6,1292.6 1021.7,1291.3 1023.7,1290.0 1025.8,1288.6 1027.8,1287.3 1029.9,1285.9 1032.0,1284.6 1034.0,1283.2 1036.1,1281.8 1038.1,1280.4 1040.2,1279.0 1042.2,1277.6 1044.3,1276.2 1046.3,1274.8 1048.4,1273.4 1050.5,1271.9 1052.5,1270.5 1054.6,1269.0 1056.6,1267.5 1058.7,1266.1 1060.7,1264.6 1062.8,1263.1 1064.9,1261.6 1066.9,1260.0 1069.0,1258.5 1071.0,1257.0 1073.1,1255.4 1075.1,1253.9 1077.2,1252.3 1079.2,1250.8 1081.3,1249.2 1083.4,1247.6 1085.4,1246.0 1087.5,1244.4 1089.5,1242.8 1091.6,1241.1 1093.6,1239.5 1095.7,1237.8 1097.7,1236.2 1099.8,1234.5 1101.9,1232.8 1103.9,1231.2 1106.0,1229.5 1108.0,1227.7 1110.1,1226.0 1112.1,1224.3 1114.2,1222.6 1116.2,1220.8 1118.3,1219.1 1120.4,1217.3 1122.4,1215.5 1124.5,1213.7 1126.5,1212.0 1128.6,1210.2 1130.6,1208.4 1132.7,1206.7 1134.7,1204.9 1136.8,1203.1 1138.9,1201.3 1140.9,1199.6 1143.0,1197.8 1145.0,1196.0 1147.1,1194.3 1149.1,1192.5 1151.2,1190.7 1153.3,1188.9 1155.3,1187.2 1157.4,1185.4 1159.4,1183.6 1161.5,1181.9 1163.5,1180.1 1165.6,1178.3 1167.6,1176.5 1169.7,1174.8 1171.8,1173.0 1173.8,1171.2 1175.9,1169.5 1177.9,1167.7 1180.0,1165.9 1182.0,1164.1 1184.1,1162.4 1186.1,1160.6 1188.2,1158.8 1190.3,1157.1 1192.3,1155.3 1194.4,1153.5 1196.4,1151.7 1198.5,1150.0 1200.5,1148.2 1202.6,1146.4 1204.6,1144.7 1206.7,1142.9 1208.8,1141.1 1210.8,1139.3 1212.9,1137.6 1214.9,1135.8 1217.0,1134.0 1219.0,1132.3 1221.1,1130.5 1223.2,1128.7 1225.2,1126.9 1227.3,1125.2 1229.3,1123.4 1231.4,1121.6 1233.4,1119.9 1235.5,1118.1 1237.5,1116.3 1239.6,1114.6 1241.7,1112.8 1243.7,1111.0 1245.8,1109.2 1247.8,1107.5 1249.9,1105.7 1251.9,1103.9 1254.0,1102.2 1256.0,1100.4 1258.1,1098.6 1260.2,1096.8 1262.2,1095.1 1264.3,1093.3 1266.3,1091.5 1268.4,1089.8 1270.4,1088.0 1272.5,1086.2 1274.5,1084.4 1276.6,1082.7 1278.7,1080.9 1280.7,1079.1 1282.8,1077.4 1284.8,1075.6 1286.9,1073.8 1288.9,1072.0 1291.0,1070.3 1293.0,1068.5 1295.1,1066.7 1297.2,1065.0 1299.2,1063.2 1301.3,1061.4 1303.3,1059.6 1305.4,1057.9 1307.4,1056.1 1309.5,1054.3 1311.6,1052.6 1313.6,1050.8 1315.7,1049.0 1317.7,1047.2 1319.8,1045.5 1321.8,1043.7 1323.9,1041.9 1325.9,1040.2 1328.0,1038.4 1330.1,1036.6 1332.1,1034.8 1334.2,1033.1 1336.2,1031.3 1338.3,1029.5 1340.3,1027.8 1342.4,1026.0 1344.4,1024.2 1346.5,1022.4 1348.6,1020.7 1350.6,1018.9 1352.7,1017.1 1354.7,1015.4 1356.8,1013.6 1358.8,1011.8 1360.9,1010.0 1362.9,1008.3 1365.0,1006.5 1367.1,1004.7 1369.1,1003.0 1371.2,1001.2 1373.2,999.4 1375.3,997.6 1377.3,995.9 1379.4,994.1 1381.5,992.3 1383.5,990.6 1385.6,988.8 1387.6,987.0 1389.7,985.3 1391.7,983.5 1393.8,981.7 1395.8,979.9 1397.9,978.2 1400.0,976.4 1402.0,974.6 1404.1,972.9 1406.1,971.1 1408.2,969.3 1410.2,967.5 1412.3,965.8 1414.3,964.0 1416.4,962.2 1418.5,960.5 1420.5,958.7 1422.6,956.9 1424.6,955.1 1426.7,953.4 1428.7,951.6 1430.8,949.8 1432.8,948.1 1434.9,946.3 1437.0,944.5 1439.0,942.7 1441.1,941.0 1443.1,939.2 1445.2,937.4 1447.2,935.7 1449.3,933.9 1451.4,932.1 1453.4,930.3 1455.5,928.6 1457.5,926.8 1459.6,925.0 1461.6,923.3 1463.7,921.5 1465.7,919.7 1467.8,917.9 1469.9,916.2 1471.9,914.4 1474.0,912.6 1476.0,910.9 1478.1,909.1 1480.1,907.3 1482.2,905.5 1484.2,903.8 1486.3,902.0 1486.3,1969.6 1484.2,1967.9 1482.2,1966.3 1480.1,1964.6 1478.1,1962.9 1476.0,1961.2 1474.0,1959.5 1471.9,1957.8 1469.9,1956.1 1467.8,1954.5 1465.7,1952.8 1463.7,1951.1 1461.6,1949.4 1459.6,1947.7 1457.5,1946.0 1455.5,1944.3 1453.4,1942.7 1451.4,1941.0 1449.3,1939.3 1447.2,1937.6 1445.2,1935.9 1443.1,1934.2 1441.1,1932.5 1439.0,1930.9 1437.0,1929.2 1434.9,1927.5 1432.8,1925.8 1430.8,1924.1 1428.7,1922.4 1426.7,1920.8 1424.6,1919.1 1422.6,1917.4 1420.5,1915.7 1418.5,1914.0 1416.4,1912.3 1414.3,1910.6 1412.3,1909.0 1410.2,1907.3 1408.2,1905.6 1406.1,1903.9 1404.1,1902.2 1402.0,1900.5 1400.0,1898.8 1397.9,1897.2 1395.8,1895.5 1393.8,1893.8 1391.7,1892.1 1389.7,1890.4 1387.6,1888.7 1385.6,1887.0 1383.5,1885.4 1381.5,1883.7 1379.4,1882.0 1377.3,1880.3 1375.3,1878.6 1373.2,1876.9 1371.2,1875.2 1369.1,1873.6 1367.1,1871.9 1365.0,1870.2 1362.9,1868.5 1360.9,1866.8 1358.8,1865.1 1356.8,1863.4 1354.7,1861.8 1352.7,1860.1 1350.6,1858.4 1348.6,1856.7 1346.5,1855.0 1344.4,1853.3 1342.4,1851.7 1340.3,1850.0 1338.3,1848.3 1336.2,1846.6 1334.2,1844.9 1332.1,1843.2 1330.1,1841.5 1328.0,1839.9 1325.9,1838.2 1323.9,1836.5 1321.8,1834.8 1319.8,1833.1 1317.7,1831.4 1315.7,1829.7 1313.6,1828.1 1311.6,1826.4 1309.5,1824.7 1307.4,1823.0 1305.4,1821.3 1303.3,1819.6 1301.3,1817.9 1299.2,1816.3 1297.2,1814.6 1295.1,1812.9 1293.0,1811.2 1291.0,1809.5 1288.9,1807.8 1286.9,1806.1 1284.8,1804.5 1282.8,1802.8 1280.7,1801.1 1278.7,1799.4 1276.6,1797.7 1274.5,1796.0 1272.5,1794.3 1270.4,1792.7 1268.4,1791.0 1266.3,1789.3 1264.3,1787.6 1262.2,1785.9 1260.2,1784.2 1258.1,1782.6 1256.0,1780.9 1254.0,1779.2 1251.9,1777.5 1249.9,1775.8 1247.8,1774.1 1245.8,1772.4 1243.7,1770.8 1241.7,1769.1 1239.6,1767.4 1237.5,1765.7 1235.5,1764.0 1233.4,1762.3 1231.4,1760.6 1229.3,1759.0 1227.3,1757.3 1225.2,1755.6 1223.2,1753.9 1221.1,1752.2 1219.0,1750.5 1217.0,1748.8 1214.9,1747.2 1212.9,1745.5 1210.8,1743.8 1208.8,1742.1 1206.7,1740.4 1204.6,1738.7 1202.6,1737.0 1200.5,1735.4 1198.5,1733.7 1196.4,1732.0 1194.4,1730.3 1192.3,1728.6 1190.3,1726.9 1188.2,1725.3 1186.1,1723.6 1184.1,1721.9 1182.0,1720.2 1180.0,1718.5 1177.9,1716.8 1175.9,1715.1 1173.8,1713.5 1171.8,1711.8 1169.7,1710.1 1167.6,1708.4 1165.6,1706.7 1163.5,1705.0 1161.5,1703.3 1159.4,1701.7 1157.4,1700.0 1155.3,1698.3 1153.3,1696.6 1151.2,1694.9 1149.1,1693.2 1147.1,1691.5 1145.0,1689.9 1143.0,1688.3 1140.9,1686.8 1138.9,1685.3 1136.8,1683.9 1134.7,1682.5 1132.7,1681.2 1130.6,1679.9 1128.6,1678.6 1126.5,1677.4 1124.5,1676.1 1122.4,1675.0 1120.4,1673.8 1118.3,1672.7 1116.2,1671.5 1114.2,1670.4 1112.1,1669.3 1110.1,1668.2 1108.0,1667.2 1106.0,1666.1 1103.9,1665.0 1101.9,1664.0 1099.8,1663.0 1097.7,1661.9 1095.7,1660.9 1093.6,1659.9 1091.6,1658.9 1089.5,1657.9 1087.5,1657.0 1085.4,1656.0 1083.4,1655.0 1081.3,1654.1 1079.2,1653.1 1077.2,1652.2 1075.1,1651.2 1073.1,1650.3 1071.0,1649.4 1069.0,1648.4 1066.9,1647.5 1064.9,1646.6 1062.8,1645.7 1060.7,1644.8 1058.7,1643.9 1056.6,1643.0 1054.6,1642.1 1052.5,1641.2 1050.5,1640.3 1048.4,1639.4 1046.3,1638.5 1044.3,1637.6 1042.2,1636.7 1040.2,1635.8 1038.1,1634.9 1036.1,1634.0 1034.0,1633.1 1032.0,1632.2 1029.9,1631.3 1027.8,1630.4 1025.8,1629.5 1023.7,1628.6 1021.7,1627.7 1019.6,1626.8 1017.6,1625.9 1015.5,1624.9 1013.5,1624.0 1011.4,1623.1 1009.3,1622.2 1007.3,1621.3 1005.2,1620.4 1003.2,1619.5 1001.1,1618.6 999.1,1617.7 997.0,1616.8 995.0,1615.8 992.9,1614.9 990.8,1614.0 988.8,1613.1 986.7,1612.2 984.7,1611.3 982.6,1610.4 980.6,1609.6 978.5,1608.7 976.4,1607.8 974.4,1606.9 972.3,1606.0 970.3,1605.1 968.2,1604.3 966.2,1603.4 964.1,1602.5 962.1,1601.7 960.0,1600.8 957.9,1600.0 955.9,1599.1 953.8,1598.3 951.8,1597.4 949.7,1596.6 947.7,1595.8 945.6,1595.0 943.6,1594.2 941.5,1593.4 939.4,1592.6 937.4,1591.8 935.3,1591.0 933.3,1590.2 931.2,1589.4 929.2,1588.7 927.1,1587.9 925.1,1587.2 923.0,1586.4 920.9,1585.7 918.9,1585.0 916.8,1584.3 914.8,1583.6 912.7,1582.9 910.7,1582.2 908.6,1581.5 906.5,1580.8 904.5,1580.2 902.4,1579.5 900.4,1578.9 898.3,1578.3 896.3,1577.6 894.2,1577.0 892.2,1576.4 890.1,1575.9 888.0,1575.3 886.0,1574.7 883.9,1574.2 881.9,1573.6 879.8,1573.1 877.8,1572.6 875.7,1572.1 873.7,1571.6 871.6,1571.1" fill="#d3d3d3"/>
<polygon points="871.6,1401.0 873.7,1400.4 875.7,1399.8 877.8,1399.2 879.8,1398.7 881.9,1398.1 883.9,1397.5 886.0,1396.9 888.0,1396.3 890.1,1395.7 892.2,1395.1 894.2,1394.5 896.3,1393.9 898.3,1393.3 900.4,1392.6 902.4,1392.0 904.5,1391.4 906.5,1390.8 908.6,1390.1 910.7,1389.5 912.7,1388.8 914.8,1388.2 916.8,1387.5 918.9,1386.8 920.9,1386.2 923.0,1385.5 925.1,1384.8 927.1,1384.1 929.2,1383.5 931.2,1382.8 933.3,1382.1 935.3,1381.4 937.4,1380.7 939.4,1379.9 941.5,1379.2 943.6,1378.5 945.6,1377.8 947.7,1377.0 949.7,1376.3 951.8,1375.6 953.8,1374.8 955.9,1374.1 957.9,1373.3 960.0,1372.5 962.1,1371.8 964.1,1371.0 966.2,1370.2 968.2,1369.4 970.3,1368.6 972.3,1367.8 974.4,1367.0 976.4,1366.2 978.5,1365.4 980.6,1364.6 982.6,1363.7 984.7,1362.9 986.7,1362.1 988.8,1361.2 990.8,1360.4 992.9,1359.5 995.0,1358.6 997.0,1357.8 999.1,1356.9 1001.1,1356.0 1003.2,1355.1 1005.2,1354.2 1007.3,1353.3 1009.3,1352.4 1011.4,1351.5 1013.5,1350.6 1015.5,1349.6 1017.6,1348.7 1019.6,1347.8 1021.7,1346.8 1023.7,1345.9 1025.8,1344.9 1027.8,1343.9 1029.9,1343.0 1032.0,1342.0 1034.0,1341.0 1036.1,1340.0 1038.1,1339.0 1040.2,1338.0 1042.2,1337.0 1044.3,1336.0 1046.3,1334.9 1048.4,1333.9 1050.5,1332.8 1052.5,1331.8 1054.6,1330.7 1056.6,1329.7 1058.7,1328.6 1060.7,1327.5 1062.8,1326.4 1064.9,1325.3 1066.9,1324.2 1069.0,1323.1 1071.0,1322.0 1073.1,1320.9 1075.1,1319.8 1077.2,1318.6 1079.2,1317.5 1081.3,1316.3 1083.4,1315.2 1085.4,1314.0 1087.5,1312.8 1089.5,1311.6 1091.6,1310.4 1093.6,1309.2 1095.7,1308.0 1097.7,1306.8 1099.8,1305.6 1101.9,1304.3 1103.9,1303.1 1106.0,1301.9 1108.0,1300.6 1110.1,1299.3 1112.1,1298.1 1114.2,1296.8 1116.2,1295.5 1118.3,1294.2 1120.4,1292.9 1122.4,1291.6 1124.5,1290.3 1126.5,1288.9 1128.6,1287.6 1130.6,1286.2 1132.7,1284.9 1134.7,1283.5 1136.8,1282.1 1138.9,1280.8 1140.9,1279.4 1143.0,1278.0 1145.0,1276.6 1147.1,1275.1 1149.1,1273.7 1151.2,1272.3 1153.3,1270.8 1155.3,1269.4 1157.4,1267.9 1159.4,1266.4 1161.5,1265.0 1163.5,1263.5 1165.6,1262.0 1167.6,1260.5 1169.7,1258.9 1171.8,1257.4 1173.8,1255.9 1175.9,1254.3 1177.9,1252.8 1180.0,1251.2 1182.0,1249.7 1184.1,1248.1 1186.1,1246.5 1188.2,1244.9 1190.3,1243.3 1192.3,1241.6 1194.4,1240.0 1196.4,1238.4 1198.5,1236.7 1200.5,1235.1 1202.6,1233.4 1204.6,1231.7 1206.7,1230.0 1208.8,1228.3 1210.8,1226.6 1212.9,1224.9 1214.9,1223.2 1217.0,1221.4 1219.0,1219.7 1221.1,1217.9 1223.2,1216.2 1225.2,1214.4 1227.3,1212.6 1229.3,1210.9 1231.4,1209.1 1233.4,1207.3 1235.5,1205.6 1237.5,1203.8 1239.6,1202.0 1241.7,1200.3 1243.7,1198.5 1245.8,1196.7 1247.8,1195.0 1249.9,1193.2 1251.9,1191.4 1254.0,1189.7 1256.0,1187.9 1258.1,1186.1 1260.2,1184.4 1262.2,1182.6 1264.3,1180.8 1266.3,1179.1 1268.4,1177.3 1270.4,1175.5 1272.5,1173.8 1274.5,1172.0 1276.6,1170.2 1278.7,1168.5 1280.7,1166.7 1282.8,1164.9 1284.8,1163.2 1286.9,1161.4 1288.9,1159.6 1291.0,1157.9 1293.0,1156.1 1295.1,1154.3 1297.2,1152.6 1299.2,1150.8 1301.3,1149.0 1303.3,1147.3 1305.4,1145.5 1307.4,1143.7 1309.5,1142.0 1311.6,1140.2 1313.6,1138.4 1315.7,1136.7 1317.7,1134.9 1319.8,1133.1 1321.8,1131.4 1323.9,1129.6 1325.9,1127.8 1328.0,1126.1 1330.1,1124.3 1332.1,1122.5 1334.2,1120.7 1336.2,1119.0 1338.3,1117.2 1340.3,1115.4 1342.4,1113.7 1344.4,1111.9 1346.5,1110.1 1348.6,1108.4 1350.6,1106.6 1352.7,1104.8 1354.7,1103.1 1356.8,1101.3 1358.8,1099.5 1360.9,1097.8 1362.9,1096.0 1365.0,1094.2 1367.1,1092.5 1369.1,1090.7 1371.2,1088.9 1373.2,1087.2 1375.3,1085.4 1377.3,1083.6 1379.4,1081.9 1381.5,1080.1 1383.5,1078.3 1385.6,1076.6 1387.6,1074.8 1389.7,1073.0 1391.7,1071.3 1393.8,1069.5 1395.8,1067.7 1397.9,1066.0 1400.0,1064.2 1402.0,1062.4 1404.1,1060.7 1406.1,1058.9 1408.2,1057.1 1410.2,1055.4 1412.3,1053.6 1414.3,1051.8 1416.4,1050.1 1418.5,1048.3 1420.5,1046.5 1422.6,1044.8 1424.6,1043.0 1426.7,1041.2 1428.7,1039.5 1430.8,1037.7 1432.8,1035.9 1434.9,1034.2 1437.0,1032.4 1439.0,1030.6 1441.1,1028.9 1443.1,1027.1 1445.2,1025.3 1447.2,1023.6 1449.3,1021.8 1451.4,1020.0 1453.4,1018.3 1455.5,1016.5 1457.5,1014.7 1459.6,1013.0 1461.6,1011.2 1463.7,1009.4 1465.7,1007.7 1467.8,1005.9 1469.9,1004.1 1471.9,1002.4 1474.0,1000.6 1476.0,998.8 1478.1,997.1 1480.1,995.3 1482.2,993.5 1484.2,991.8 1486.3,990.0 1486.3,1840.4 1484.2,1838.7 1482.2,1836.9 1480.1,1835.2 1478.1,1833.5 1476.0,1831.7 1474.0,1830.0 1471.9,1828.3 1469.9,1826.5 1467.8,1824.8 1465.7,1823.1 1463.7,1821.3 1461.6,1819.6 1459.6,1817.9 1457.5,1816.1 1455.5,1814.4 1453.4,1812.7 1451.4,1811.0 1449.3,1809.2 1447.2,1807.5 1445.2,1805.8 1443.1,1804.0 1441.1,1802.3 1439.0,1800.6 1437.0,1798.8 1434.9,1797.1 1432.8,1795.4 1430.8,1793.6 1428.7,1791.9 1426.7,1790.2 1424.6,1788.4 1422.6,1786.7 1420.5,1785.0 1418.5,1783.2 1416.4,1781.5 1414.3,1779.8 1412.3,1778.0 1410.2,1776.3 1408.2,1774.6 1406.1,1772.9 1404.1,1771.1 1402.0,1769.4 1400.0,1767.7 1397.9,1765.9 1395.8,1764.2 1393.8,1762.5 1391.7,1760.7 1389.7,1759.0 1387.6,1757.3 1385.6,1755.5 1383.5,1753.8 1381.5,1752.1 1379.4,1750.3 1377.3,1748.6 1375.3,1746.9 1373.2,1745.1 1371.2,1743.4 1369.1,1741.7 1367.1,1740.0 1365.0,1738.2 1362.9,1736.5 1360.9,1734.8 1358.8,1733.0 1356.8,1731.3 1354.7,1729.6 1352.7,1727.8 1350.6,1726.1 1348.6,1724.4 1346.5,1722.6 1344.4,1720.9 1342.4,1719.2 1340.3,1717.4 1338.3,1715.7 1336.2,1714.0 1334.2,1712.2 1332.1,1710.5 1330.1,1708.8 1328.0,1707.1 1325.9,1705.3 1323.9,1703.6 1321.8,1701.9 1319.8,1700.1 1317.7,1698.4 1315.7,1696.7 1313.6,1694.9 1311.6,1693.2 1309.5,1691.5 1307.4,1689.7 1305.4,1688.1 1303.3,1686.4 1301.3,1684.7 1299.2,1683.1 1297.2,1681.5 1295.1,1679.9 1293.0,1678.4 1291.0,1676.8 1288.9,1675.3 1286.9,1673.8 1284.8,1672.3 1282.8,1670.9 1280.7,1669.4 1278.7,1668.0 1276.6,1666.6 1274.5,1665.2 1272.5,1663.9 1270.4,1662.5 1268.4,1661.2 1266.3,1659.9 1264.3,1658.6 1262.2,1657.3 1260.2,1656.1 1258.1,1654.8 1256.0,1653.6 1254.0,1652.4 1251.9,1651.2 1249.9,1650.1 1247.8,1648.9 1245.8,1647.8 1243.7,1646.7 1241.7,1645.6 1239.6,1644.5 1237.5,1643.4 1235.5,1642.4 1233.4,1641.3 1231.4,1640.3 1229.3,1639.3 1227.3,1638.3 1225.2,1637.3 1223.2,1636.3 1221.1,1635.4 1219.0,1634.4 1217.0,1633.5 1214.9,1632.6 1212.9,1631.7 1210.8,1630.8 1208.8,1629.9 1206.7,1629.0 1204.6,1628.1 1202.6,1627.3 1200.5,1626.5 1198.5,1625.6 1196.4,1624.8 1194.4,1624.0 1192.3,1623.2 1190.3,1622.4 1188.2,1621.7 1186.1,1620.9 1184.1,1620.1 1182.0,1619.4 1180.0,1618.6 1177.9,1617.9 1175.9,1617.2 1173.8,1616.5 1171.8,1615.8 1169.7,1615.1 1167.6,1614.4 1165.6,1613.7 1163.5,1613.0 1161.5,1612.4 1159.4,1611.7 1157.4,1611.0 1155.3,1610.4 1153.3,1609.7 1151.2,1609.1 1149.1,1608.5 1147.1,1607.8 1145.0,1607.2 1143.0,1606.6 1140.9,1606.0 1138.9,1605.4 1136.8,1604.7 1134.7,1604.1 1132.7,1603.5 1130.6,1602.9 1128.6,1602.3 1126.5,1601.8 1124.5,1601.2 1122.4,1600.6 1120.4,1600.0 1118.3,1599.4 1116.2,1598.8 1114.2,1598.3 1112.1,1597.7 1110.1,1597.1 1108.0,1596.5 1106.0,1595.9 1103.9,1595.4 1101.9,1594.8 1099.8,1594.2 1097.7,1593.7 1095.7,1593.1 1093.6,1592.5 1091.6,1592.0 1089.5,1591.4 1087.5,1590.8 1085.4,1590.3 1083.4,1589.7 1081.3,1589.2 1079.2,1588.6 1077.2,1588.1 1075.1,1587.5 1073.1,1586.9 1071.0,1586.4 1069.0,1585.8 1066.9,1585.3 1064.9,1584.7 1062.8,1584.2 1060.7,1583.7 1058.7,1583.1 1056.6,1582.6 1054.6,1582.0 1052.5,1581.5 1050.5,1580.9 1048.4,1580.4 1046.3,1579.9 1044.3,1579.3 1042.2,1578.8 1040.2,1578.3 1038.1,1577.7 1036.1,1577.2 1034.0,1576.7 1032.0,1576.2 1029.9,1575.6 1027.8,1575.1 1025.8,1574.6 1023.7,1574.1 1021.7,1573.5 1019.6,1573.0 1017.6,1572.5 1015.5,1572.0 1013.5,1571.5 1011.4,1571.0 1009.3,1570.4 1007.3,1569.9 1005.2,1569.4 1003.2,1568.9 1001.1,1568.4 999.1,1567.9 997.0,1567.4 995.0,1566.9 992.9,1566.4 990.8,1565.9 988.8,1565.4 986.7,1564.9 984.7,1564.4 982.6,1563.9 980.6,1563.4 978.5,1562.9 976.4,1562.4 974.4,1561.9 972.3,1561.4 970.3,1560.9 968.2,1560.5 966.2,1560.0 964.1,1559.5 962.1,1559.0 960.0,1558.5 957.9,1558.0 955.9,1557.6 953.8,1557.1 951.8,1556.6 949.7,1556.1 947.7,1555.6 945.6,1555.2 943.6,1554.7 941.5,1554.2 939.4,1553.8 937.4,1553.3 935.3,1552.8 933.3,1552.4 931.2,1551.9 929.2,1551.4 927.1,1551.0 925.1,1550.5 923.0,1550.0 920.9,1549.6 918.9,1549.1 916.8,1548.7 914.8,1548.2 912.7,1547.7 910.7,1547.3 908.6,1546.8 906.5,1546.4 904.5,1545.9 902.4,1545.5 900.4,1545.0 898.3,1544.6 896.3,1544.2 894.2,1543.7 892.2,1543.3 890.1,1542.8 888.0,1542.4 886.0,1541.9 883.9,1541.5 881.9,1541.1 879.8,1540.6 877.8,1540.2 875.7,1539.8 873.7,1539.3 871.6,1538.9" fill="#90ee90"/>
<polygon points="871.6,1434.1 873.7,1433.9 875.7,1433.7 877.8,1433.4 879.8,1433.2 881.9,1432.9 883.9,1432.7 886.0,1432.4 888.0,1432.2 890.1,1431.9 892.2,1431.7 894.2,1431.4 896.3,1431.1 898.3,1430.8 900.4,1430.5 902.4,1430.2 904.5,1429.9 906.5,1429.6 908.6,1429.3 910.7,1429.0 912.7,1428.7 914.8,1428.3 916.8,1428.0 918.9,1427.7 920.9,1427.3 923.0,1427.0 925.1,1426.6 927.1,1426.2 929.2,1425.9 931.2,1425.5 933.3,1425.1 935.3,1424.7 937.4,1424.3 939.4,1423.9 941.5,1423.5 943.6,1423.1 945.6,1422.7 947.7,1422.3 949.7,1421.9 951.8,1421.5 953.8,1421.0 955.9,1420.6 957.9,1420.1 960.0,1419.7 962.1,1419.2 964.1,1418.8 966.2,1418.3 968.2,1417.8 970.3,1417.4 972.3,1416.9 974.4,1416.4 976.4,1415.9 978.5,1415.4 980.6,1414.9 982.6,1414.4 984.7,1413.9 986.7,1413.4 988.8,1412.8 990.8,1412.3 992.9,1411.8 995.0,1411.2 997.0,1410.7 999.1,1410.1 1001.1,1409.6 1003.2,1409.0 1005.2,1408.4 1007.3,1407.9 1009.3,1407.3 1011.4,1406.7 1013.5,1406.1 1015.5,1405.5 1017.6,1404.9 1019.6,1404.3 1021.7,1403.7 1023.7,1403.1 1025.8,1402.5 1027.8,1401.9 1029.9,1401.2 1032.0,1400.6 1034.0,1399.9 1036.1,1399.3 1038.1,1398.6 1040.2,1398.0 1042.2,1397.3 1044.3,1396.7 1046.3,1396.0 1048.4,1395.3 1050.5,1394.6 1052.5,1393.9 1054.6,1393.2 1056.6,1392.5 1058.7,1391.8 1060.7,1391.1 1062.8,1390.4 1064.9,1389.7 1066.9,1389.0 1069.0,1388.2 1071.0,1387.5 1073.1,1386.8 1075.1,1386.0 1077.2,1385.3 1079.2,1384.5 1081.3,1383.8 1083.4,1383.0 1085.4,1382.2 1087.5,1381.4 1089.5,1380.7 1091.6,1379.9 1093.6,1379.1 1095.7,1378.3 1097.7,1377.5 1099.8,1376.7 1101.9,1375.9 1103.9,1375.1 1106.0,1374.2 1108.0,1373.4 1110.1,1372.6 1112.1,1371.7 1114.2,1370.9 1116.2,1370.0 1118.3,1369.2 1120.4,1368.3 1122.4,1367.5 1124.5,1366.6 1126.5,1365.7 1128.6,1364.9 1130.6,1364.0 1132.7,1363.1 1134.7,1362.2 1136.8,1361.3 1138.9,1360.4 1140.9,1359.5 1143.0,1358.6 1145.0,1357.6 1147.1,1356.7 1149.1,1355.8 1151.2,1354.9 1153.3,1353.9 1155.3,1353.0 1157.4,1352.0 1159.4,1351.1 1161.5,1350.1 1163.5,1349.2 1165.6,1348.2 1167.6,1347.2 1169.7,1346.2 1171.8,1345.3 1173.8,1344.3 1175.9,1343.3 1177.9,1342.3 1180.0,1341.3 1182.0,1340.3 1184.1,1339.3 1186.1,1338.3 1188.2,1337.3 1190.3,1336.2 1192.3,1335.2 1194.4,1334.2 1196.4,1333.2 1198.5,1332.1 1200.5,1331.1 1202.6,1330.0 1204.6,1329.0 1206.7,1327.9 1208.8,1326.9 1210.8,1325.8 1212.9,1324.8 1214.9,1323.7 1217.0,1322.7 1219.0,1321.6 1221.1,1320.5 1223.2,1319.4 1225.2,1318.4 1227.3,1317.3 1229.3,1316.2 1231.4,1315.1 1233.4,1314.0 1235.5,1312.9 1237.5,1311.8 1239.6,1310.7 1241.7,1309.6 1243.7,1308.5 1245.8,1307.4 1247.8,1306.3 1249.9,1305.2 1251.9,1304.1 1254.0,1303.0 1256.0,1301.9 1258.1,1300.8 1260.2,1299.6 1262.2,1298.5 1264.3,1297.4 1266.3,1296.3 1268.4,1295.1 1270.4,1294.0 1272.5,1292.9 1274.5,1291.8 1276.6,1290.6 1278.7,1289.5 1280.7,1288.4 1282.8,1287.2 1284.8,1286.1 1286.9,1285.0 1288.9,1283.8 1291.0,1282.7 1293.0,1281.5 1295.1,1280.4 1297.2,1279.2 1299.2,1278.1 1301.3,1276.9 1303.3,1275.8 1305.4,1274.6 1307.4,1273.5 1309.5,1272.3 1311.6,1271.2 1313.6,1270.0 1315.7,1268.9 1317.7,1267.7 1319.8,1266.5 1321.8,1265.4 1323.9,1264.2 1325.9,1263.0 1328.0,1261.8 1330.1,1260.7 1332.1,1259.5 1334.2,1258.3 1336.2,1257.1 1338.3,1255.9 1340.3,1254.7 1342.4,1253.5 1344.4,1252.3 1346.5,1251.1 1348.6,1249.9 1350.6,1248.7 1352.7,1247.5 1354.7,1246.3 1356.8,1245.0 1358.8,1243.8 1360.9,1242.6 1362.9,1241.3 1365.0,1240.1 1367.1,1238.9 1369.1,1237.6 1371.2,1236.4 1373.2,1235.1 1375.3,1233.8 1377.3,1232.6 1379.4,1231.3 1381.5,1230.0 1383.5,1228.7 1385.6,1227.4 1387.6,1226.2 1389.7,1224.9 1391.7,1223.6 1393.8,1222.2 1395.8,1220.9 1397.9,1219.6 1400.0,1218.3 1402.0,1217.0 1404.1,1215.7 1406.1,1214.4 1408.2,1213.0 1410.2,1211.7 1412.3,1210.4 1414.3,1209.1 1416.4,1207.8 1418.5,1206.5 1420.5,1205.2 1422.6,1203.8 1424.6,1202.5 1426.7,1201.2 1428.7,1199.9 1430.8,1198.6 1432.8,1197.3 1434.9,1196.0 1437.0,1194.6 1439.0,1193.3 1441.1,1192.0 1443.1,1190.7 1445.2,1189.4 1447.2,1188.1 1449.3,1186.8 1451.4,1185.5 1453.4,1184.1 1455.5,1182.8 1457.5,1181.5 1459.6,1180.2 1461.6,1178.9 1463.7,1177.6 1465.7,1176.3 1467.8,1174.9 1469.9,1173.6 1471.9,1172.3 1474.0,1171.0 1476.0,1169.7 1478.1,1168.4 1480.1,1167.1 1482.2,1165.7 1484.2,1164.4 1486.3,1163.1 1486.3,1688.9 1484.2,1686.1 1482.2,1683.4 1480.1,1680.7 1478.1,1678.0 1476.0,1675.4 1474.0,1672.8 1471.9,1670.2 1469.9,1667.7 1467.8,1665.2 1465.7,1662.7 1463.7,1660.3 1461.6,1657.9 1459.6,1655.5 1457.5,1653.2 1455.5,1650.9 1453.4,1648.6 1451.4,1646.4 1449.3,1644.2 1447.2,1642.0 1445.2,1639.9 1443.1,1637.8 1441.1,1635.7 1439.0,1633.6 1437.0,1631.6 1434.9,1629.6 1432.8,1627.6 1430.8,1625.7 1428.7,1623.8 1426.7,1621.9 1424.6,1620.1 1422.6,1618.3 1420.5,1616.5 1418.5,1614.7 1416.4,1613.0 1414.3,1611.3 1412.3,1609.6 1410.2,1607.9 1408.2,1606.3 1406.1,1604.7 1404.1,1603.1 1402.0,1601.5 1400.0,1600.0 1397.9,1598.5 1395.8,1597.0 1393.8,1595.6 1391.7,1594.1 1389.7,1592.7 1387.6,1591.3 1385.6,1590.0 1383.5,1588.6 1381.5,1587.3 1379.4,1586.0 1377.3,1584.7 1375.3,1583.5 1373.2,1582.2 1371.2,1581.0 1369.1,1579.8 1367.1,1578.7 1365.0,1577.5 1362.9,1576.4 1360.9,1575.3 1358.8,1574.2 1356.8,1573.1 1354.7,1572.0 1352.7,1571.0 1350.6,1570.0 1348.6,1569.0 1346.5,1568.0 1344.4,1567.0 1342.4,1566.1 1340.3,1565.2 1338.3,1564.2 1336.2,1563.3 1334.2,1562.5 1332.1,1561.6 1330.1,1560.7 1328.0,1559.9 1325.9,1559.1 1323.9,1558.3 1321.8,1557.5 1319.8,1556.7 1317.7,1555.9 1315.7,1555.2 1313.6,1554.5 1311.6,1553.7 1309.5,1553.0 1307.4,1552.3 1305.4,1551.6 1303.3,1551.0 1301.3,1550.3 1299.2,1549.6 1297.2,1549.0 1295.1,1548.4 1293.0,1547.8 1291.0,1547.1 1288.9,1546.5 1286.9,1546.0 1284.8,1545.4 1282.8,1544.8 1280.7,1544.2 1278.7,1543.7 1276.6,1543.1 1274.5,1542.6 1272.5,1542.1 1270.4,1541.6 1268.4,1541.0 1266.3,1540.5 1264.3,1540.1 1262.2,1539.6 1260.2,1539.1 1258.1,1538.6 1256.0,1538.2 1254.0,1537.7 1251.9,1537.2 1249.9,1536.8 1247.8,1536.4 1245.8,1536.0 1243.7,1535.5 1241.7,1535.1 1239.6,1534.7 1237.5,1534.3 1235.5,1533.9 1233.4,1533.6 1231.4,1533.2 1229.3,1532.8 1227.3,1532.5 1225.2,1532.1 1223.2,1531.8 1221.1,1531.4 1219.0,1531.1 1217.0,1530.7 1214.9,1530.4 1212.9,1530.1 1210.8,1529.8 1208.8,1529.5 1206.7,1529.2 1204.6,1528.9 1202.6,1528.6 1200.5,1528.3 1198.5,1528.1 1196.4,1527.8 1194.4,1527.5 1192.3,1527.3 1190.3,1527.0 1188.2,1526.8 1186.1,1526.5 1184.1,1526.3 1182.0,1526.1 1180.0,1525.8 1177.9,1525.6 1175.9,1525.4 1173.8,1525.2 1171.8,1525.0 1169.7,1524.8 1167.6,1524.6 1165.6,1524.4 1163.5,1524.2 1161.5,1524.0 1159.4,1523.8 1157.4,1523.6 1155.3,1523.5 1153.3,1523.3 1151.2,1523.1 1149.1,1523.0 1147.1,1522.8 1145.0,1522.6 1143.0,1522.5 1140.9,1522.3 1138.9,1522.2 1136.8,1522.0 1134.7,1521.9 1132.7,1521.8 1130.6,1521.6 1128.6,1521.5 1126.5,1521.4 1124.5,1521.3 1122.4,1521.1 1120.4,1521.0 1118.3,1520.9 1116.2,1520.8 1114.2,1520.7 1112.1,1520.6 1110.1,1520.5 1108.0,1520.4 1106.0,1520.3 1103.9,1520.2 1101.9,1520.1 1099.8,1520.0 1097.7,1519.9 1095.7,1519.8 1093.6,1519.7 1091.6,1519.6 1089.5,1519.5 1087.5,1519.4 1085.4,1519.3 1083.4,1519.2 1081.3,1519.2 1079.2,1519.1 1077.2,1519.0 1075.1,1518.9 1073.1,1518.8 1071.0,1518.7 1069.0,1518.7 1066.9,1518.6 1064.9,1518.5 1062.8,1518.4 1060.7,1518.4 1058.7,1518.3 1056.6,1518.2 1054.6,1518.1 1052.5,1518.1 1050.5,1518.0 1048.4,1517.9 1046.3,1517.8 1044.3,1517.7 1042.2,1517.7 1040.2,1517.6 1038.1,1517.5 1036.1,1517.4 1034.0,1517.4 1032.0,1517.3 1029.9,1517.2 1027.8,1517.1 1025.8,1517.0 1023.7,1516.9 1021.7,1516.9 1019.6,1516.8 1017.6,1516.7 1015.5,1516.6 1013.5,1516.5 1011.4,1516.4 1009.3,1516.3 1007.3,1516.2 1005.2,1516.1 1003.2,1516.0 1001.1,1515.9 999.1,1515.8 997.0,1515.7 995.0,1515.6 992.9,1515.5 990.8,1515.4 988.8,1515.3 986.7,1515.2 984.7,1515.0 982.6,1514.9 980.6,1514.8 978.5,1514.7 976.4,1514.5 974.4,1514.4 972.3,1514.3 970.3,1514.1 968.2,1514.0 966.2,1513.8 964.1,1513.7 962.1,1513.5 960.0,1513.4 957.9,1513.2 955.9,1513.0 953.8,1512.9 951.8,1512.7 949.7,1512.5 947.7,1512.3 945.6,1512.2 943.6,1512.0 941.5,1511.8 939.4,1511.6 937.4,1511.4 935.3,1511.2 933.3,1511.0 931.2,1510.8 929.2,1510.5 927.1,1510.3 925.1,1510.1 923.0,1509.9 920.9,1509.6 918.9,1509.4 916.8,1509.1 914.8,1508.9 912.7,1508.6 910.7,1508.3 908.6,1508.1 906.5,1507.8 904.5,1507.5 902.4,1507.2 900.4,1506.9 898.3,1506.6 896.3,1506.3 894.2,1506.0 892.2,1505.7 890.1,1505.4 888.0,1505.0 886.0,1504.7 883.9,1504.4 881.9,1504.0 879.8,1503.7 877.8,1503.3 875.7,1502.9 873.7,1502.5 871.6,1502.2" fill="#add8e6"/>
<polyline points="871.6,1468.7 873.7,1468.7 875.7,1468.7 877.8,1468.7 879.8,1468.7 881.9,1468.6 883.9,1468.6 886.0,1468.6 888.0,1468.5 890.1,1468.5 892.2,1468.4 894.2,1468.4 896.3,1468.3 898.3,1468.3 900.4,1468.2 902.4,1468.1 904.5,1468.1 906.5,1468.0 908.6,1467.9 910.7,1467.8 912.7,1467.7 914.8,1467.6 916.8,1467.5 918.9,1467.4 920.9,1467.3 923.0,1467.2 925.1,1467.1 927.1,1467.0 929.2,1466.9 931.2,1466.7 933.3,1466.6 935.3,1466.5 937.4,1466.3 939.4,1466.2 941.5,1466.1 943.6,1465.9 945.6,1465.8 947.7,1465.6 949.7,1465.4 951.8,1465.3 953.8,1465.1 955.9,1464.9 957.9,1464.8 960.0,1464.6 962.1,1464.4 964.1,1464.2 966.2,1464.0 968.2,1463.9 970.3,1463.7 972.3,1463.5 974.4,1463.3 976.4,1463.1 978.5,1462.9 980.6,1462.7 982.6,1462.5 984.7,1462.2 986.7,1462.0 988.8,1461.8 990.8,1461.6 992.9,1461.4 995.0,1461.1 997.0,1460.9 999.1,1460.7 1001.1,1460.4 1003.2,1460.2 1005.2,1460.0 1007.3,1459.7 1009.3,1459.5 1011.4,1459.2 1013.5,1459.0 1015.5,1458.7 1017.6,1458.5 1019.6,1458.2 1021.7,1457.9 1023.7,1457.7 1025.8,1457.4 1027.8,1457.1 1029.9,1456.9 1032.0,1456.6 1034.0,1456.3 1036.1,1456.1 1038.1,1455.8 1040.2,1455.5 1042.2,1455.2 1044.3,1454.9 1046.3,1454.6 1048.4,1454.3 1050.5,1454.1 1052.5,1453.8 1054.6,1453.5 1056.6,1453.2 1058.7,1452.9 1060.7,1452.6 1062.8,1452.3 1064.9,1452.0 1066.9,1451.7 1069.0,1451.4 1071.0,1451.1 1073.1,1450.7 1075.1,1450.4 1077.2,1450.1 1079.2,1449.8 1081.3,1449.5 1083.4,1449.2 1085.4,1448.9 1087.5,1448.5 1089.5,1448.2 1091.6,1447.9 1093.6,1447.6 1095.7,1447.3 1097.7,1446.9 1099.8,1446.6 1101.9,1446.3 1103.9,1445.9 1106.0,1445.6 1108.0,1445.3 1110.1,1445.0 1112.1,1444.6 1114.2,1444.3 1116.2,1444.0 1118.3,1443.6 1120.4,1443.3 1122.4,1442.9 1124.5,1442.6 1126.5,1442.3 1128.6,1441.9 1130.6,1441.6 1132.7,1441.3 1134.7,1440.9 1136.8,1440.6 1138.9,1440.2 1140.9,1439.9 1143.0,1439.5 1145.0,1439.2 1147.1,1438.9 1149.1,1438.5 1151.2,1438.2 1153.3,1437.8 1155.3,1437.5 1157.4,1437.1 1159.4,1436.8 1161.5,1436.4 1163.5,1436.1 1165.6,1435.7 1167.6,1435.4 1169.7,1435.1 1171.8,1434.7 1173.8,1434.4 1175.9,1434.0 1177.9,1433.7 1180.0,1433.3 1182.0,1433.0 1184.1,1432.6 1186.1,1432.3 1188.2,1431.9 1190.3,1431.6 1192.3,1431.3 1194.4,1430.9 1196.4,1430.6 1198.5,1430.2 1200.5,1429.9 1202.6,1429.5 1204.6,1429.2 1206.7,1428.9 1208.8,1428.5 1210.8,1428.2 1212.9,1427.8 1214.9,1427.5 1217.0,1427.2 1219.0,1426.8 1221.1,1426.5 1223.2,1426.2 1225.2,1425.8 1227.3,1425.5 1229.3,1425.2 1231.4,1424.8 1233.4,1424.5 1235.5,1424.2 1237.5,1423.8 1239.6,1423.5 1241.7,1423.2 1243.7,1422.9 1245.8,1422.5 1247.8,1422.2 1249.9,1421.9 1251.9,1421.6 1254.0,1421.2 1256.0,1420.9 1258.1,1420.6 1260.2,1420.3 1262.2,1420.0 1264.3,1419.7 1266.3,1419.4 1268.4,1419.0 1270.4,1418.7 1272.5,1418.4 1274.5,1418.1 1276.6,1417.8 1278.7,1417.5 1280.7,1417.2 1282.8,1416.9 1284.8,1416.6 1286.9,1416.4 1288.9,1416.1 1291.0,1415.8 1293.0,1415.5 1295.1,1415.2 1297.2,1415.0 1299.2,1414.7 1301.3,1414.4 1303.3,1414.2 1305.4,1413.9 1307.4,1413.7 1309.5,1413.4 1311.6,1413.2 1313.6,1413.0 1315.7,1412.7 1317.7,1412.5 1319.8,1412.3 1321.8,1412.1 1323.9,1411.8 1325.9,1411.6 1328.0,1411.4 1330.1,1411.3 1332.1,1411.1 1334.2,1410.9 1336.2,1410.7 1338.3,1410.5 1340.3,1410.4 1342.4,1410.2 1344.4,1410.1 1346.5,1409.9 1348.6,1409.8 1350.6,1409.7 1352.7,1409.5 1354.7,1409.4 1356.8,1409.3 1358.8,1409.2 1360.9,1409.1 1362.9,1409.0 1365.0,1409.0 1367.1,1408.9 1369.1,1408.9 1371.2,1408.8 1373.2,1408.8 1375.3,1408.7 1377.3,1408.7 1379.4,1408.7 1381.5,1408.7 1383.5,1408.7 1385.6,1408.7 1387.6,1408.7 1389.7,1408.8 1391.7,1408.8 1393.8,1408.9 1395.8,1408.9 1397.9,1409.0 1400.0,1409.1 1402.0,1409.2 1404.1,1409.3 1406.1,1409.4 1408.2,1409.5 1410.2,1409.7 1412.3,1409.8 1414.3,1410.0 1416.4,1410.1 1418.5,1410.3 1420.5,1410.5 1422.6,1410.7 1424.6,1411.0 1426.7,1411.2 1428.7,1411.4 1430.8,1411.7 1432.8,1412.0 1434.9,1412.2 1437.0,1412.5 1439.0,1412.8 1441.1,1413.2 1443.1,1413.5 1445.2,1413.8 1447.2,1414.2 1449.3,1414.6 1451.4,1415.0 1453.4,1415.4 1455.5,1415.8 1457.5,1416.2 1459.6,1416.7 1461.6,1417.1 1463.7,1417.6 1465.7,1418.1 1467.8,1418.6 1469.9,1419.1 1471.9,1419.6 1474.0,1420.2 1476.0,1420.7 1478.1,1421.3 1480.1,1421.9 1482.2,1422.5 1484.2,1423.2 1486.3,1423.8" fill="none" stroke="#0000cd" stroke-width="2.60" stroke-linejoin="round"/>
<line x1="873.6" y1="1500.80" x2="1484.3" y2="1500.80" stroke="#000" stroke-width="2.10"/>
</g>
<rect x="873.60" y="1224.70" width="610.70" height="460.40" fill="none" stroke="#000" stroke-width="1.10"/>
<line x1="873.60" y1="1685.10" x2="873.60" y2="1690.10" stroke="#000" stroke-width="1.10"/><g transform="matrix(0.16800,0.00000,0.00000,0.16800,860.24498,1709.80000)" fill="#000"><text x="-0.0 58.4 87.6" y="-0.78" font-size="105.00" transform="scale(1.0895,1)">0.0</text></g><line x1="995.74" y1="1685.10" x2="995.74" y2="1690.10" stroke="#000" stroke-width="1.10"/><g transform="matrix(0.16800,0.00000,0.00000,0.16800,983.13048,1709.80000)" fill="#000"><text x="-0.0 58.4 82.5" y="-0.78" font-size="105.00" transform="scale(1.0895,1)">0.2</text></g><line x1="1117.88" y1="1685.10" x2="1117.88" y2="1690.10" stroke="#000" stroke-width="1.10"/><g transform="matrix(0.16800,0.00000,0.00000,0.16800,1104.43836,1709.80000)" fill="#000"><text x="-0.0 58.4 87.6" y="-0.78" font-size="105.00" transform="scale(1.0895,1)">0.4</text></g><line x1="1240.02" y1="1685.10" x2="1240.02" y2="1690.10" stroke="#000" stroke-width="1.10"/><g transform="matrix(0.16800,0.00000,0.00000,0.16800,1226.63611,1709.80000)" fill="#000"><text x="-0.0 58.4 87.6" y="-0.78" font-size="105.00" transform="scale(1.0895,1)">0.6</text></g><line x1="1362.16" y1="1685.10" x2="1362.16" y2="1690.10" stroke="#000" stroke-width="1.10"/><g transform="matrix(0.16800,0.00000,0.00000,0.16800,1349.04255,1709.80000)" fill="#000"><text x="-0.0 58.4 85.2" y="-0.78" font-size="105.00" transform="scale(1.0895,1)">0.8</text></g><line x1="1484.30" y1="1685.10" x2="1484.30" y2="1690.10" stroke="#000" stroke-width="1.10"/><g transform="matrix(0.16800,0.00000,0.00000,0.16800,1470.57617,1709.80000)" fill="#000"><text x="-0.0 58.4 87.6" y="-0.78" font-size="105.00" transform="scale(1.0895,1)">1.0</text></g>
<line x1="868.60" y1="1279.95" x2="873.60" y2="1279.95" stroke="#000" stroke-width="1.10"/><g transform="matrix(0.16800,0.00000,0.00000,0.16800,819.94791,1286.19419)" fill="#000"><text x="7.8 76.9 135.3 164.5" y="-0.78" font-size="105.00" transform="scale(1.0896,1)">−0.4</text></g><line x1="868.60" y1="1353.61" x2="873.60" y2="1353.61" stroke="#000" stroke-width="1.10"/><g transform="matrix(0.16800,0.00000,0.00000,0.16800,820.06341,1359.85819)" fill="#000"><text x="7.8 76.9 135.3 164.5" y="-0.78" font-size="105.00" transform="scale(1.0896,1)">−0.6</text></g><line x1="868.60" y1="1427.28" x2="873.60" y2="1427.28" stroke="#000" stroke-width="1.10"/><g transform="matrix(0.16800,0.00000,0.00000,0.16800,820.59628,1433.52219)" fill="#000"><text x="7.8 76.9 135.3 162.1" y="-0.78" font-size="105.00" transform="scale(1.0896,1)">−0.8</text></g><line x1="868.60" y1="1500.94" x2="873.60" y2="1500.94" stroke="#000" stroke-width="1.10"/><g transform="matrix(0.16800,0.00000,0.00000,0.16800,820.12116,1507.18619)" fill="#000"><text x="7.8 76.9 135.3 164.5" y="-0.78" font-size="105.00" transform="scale(1.0896,1)">−1.0</text></g><line x1="868.60" y1="1574.60" x2="873.60" y2="1574.60" stroke="#000" stroke-width="1.10"/><g transform="matrix(0.16800,0.00000,0.00000,0.16800,821.61216,1580.96962)" fill="#000"><text x="7.8 76.9 135.3 159.4" y="-0.78" font-size="105.00" transform="scale(1.0896,1)">−1.2</text></g><line x1="868.60" y1="1648.27" x2="873.60" y2="1648.27" stroke="#000" stroke-width="1.10"/><g transform="matrix(0.16800,0.00000,0.00000,0.16800,819.94791,1654.40787)" fill="#000"><text x="7.8 76.9 135.3 164.5" y="-0.09" font-size="105.00" transform="scale(1.0896,1)">−1.4</text></g>
<rect x="1296.9" y="1233.1" width="179.3" height="117.7" rx="4.0" fill="#fff" stroke="#cccccc" stroke-width="1.1"/>
<rect x="1301.9" y="1239.4" width="32.2" height="12.3" fill="#d3d3d3"/>
<rect x="1301.9" y="1262.5" width="32.2" height="12.2" fill="#90ee90"/>
<rect x="1301.9" y="1285.5" width="32.2" height="11.2" fill="#add8e6"/>
<line x1="1301.9" y1="1313.9" x2="1334.1" y2="1313.9" stroke="#0000cd" stroke-width="2.4"/>
<line x1="1301.9" y1="1336.8" x2="1334.1" y2="1336.8" stroke="#000" stroke-width="2.4"/>
<g transform="matrix(0.15294,0.00000,0.00000,0.15294,1344.70000,1249.80000)" fill="#000"><text x="0.0" y="-0.78" font-size="105.00" font-style="italic" transform="scale(1.0786,1)">w</text><text x="102.6 187.7 242.5" y="-0.78" font-size="105.00" transform="scale(1.0895,1)">±3Δ</text><text x="312.0" y="-0.78" font-size="105.00" font-style="italic" transform="scale(1.0786,1)">w</text></g>
<g transform="matrix(0.15294,0.00000,0.00000,0.15294,1344.70000,1272.80000)" fill="#000"><text x="0.0" y="-0.78" font-size="105.00" font-style="italic" transform="scale(1.0786,1)">w</text><text x="102.6 187.7 242.5" y="-0.78" font-size="105.00" transform="scale(1.0895,1)">±2Δ</text><text x="312.0" y="-0.78" font-size="105.00" font-style="italic" transform="scale(1.0786,1)">w</text></g>
<g transform="matrix(0.15303,0.00000,0.00000,0.15303,1344.69925,1295.00000)" fill="#000"><text x="0.0" y="-0.09" font-size="105.00" font-style="italic" transform="scale(1.0786,1)">w</text><text x="89.0 161.5" y="-0.09" font-size="105.00" transform="scale(1.2147,1)">±Δ</text><text x="253.1" y="-0.09" font-size="105.00" font-style="italic" transform="scale(1.0786,1)">w</text></g>
<g transform="matrix(0.15559,0.00000,0.00000,0.15559,1344.58751,1316.60000)" fill="#000"><text x="1.8 90.7 148.1 206.3" y="-0.00" font-size="105.00" transform="scale(1.0694,1)">mean</text><text x="292.4" y="-0.00" font-size="105.00" font-style="italic" transform="scale(1.0786,1)">w</text></g>
<g transform="matrix(0.15534,0.00000,0.00000,0.15534,1344.67959,1342.00000)" fill="#000"><text x="0.0" y="-0.12" font-size="105.00" font-style="italic" transform="scale(1.0786,1)">w</text><text x="83.9 183.8 257.2" y="-0.12" font-size="105.00" transform="scale(1.2500,1)">=−1</text><text x="423.2 459.3 525.5 598.8 674.6 763.4" y="-0.12" font-size="105.00">(ΛCDM)</text></g>
<g transform="matrix(0.19687,0.00000,0.00000,0.19687,896.70187,1213.70000)" fill="#000"><text x="-5.8 59.6 84.1 142.5 202.1 225.7 282.4 320.0 351.7 406.8 457.5" y="-0.02" font-size="105.00" transform="scale(1.0853,1)">Single-task</text><text x="583.7 658.4 720.4 795.3" y="-0.02" font-size="105.00">GPR:</text><text x="783.8 845.6 903.1 964.9 997.6 1055.1 1111.7 1169.0 1220.2 1284.1 1308.6 1364.7 1422.9" y="-0.02" font-size="105.00" transform="scale(1.0853,1)">PantheonPlus+</text><text x="1618.9" y="-0.02" font-size="105.00" font-style="italic">M</text><text x="1705.3" y="16.39" font-size="73.50" font-style="italic">B</text><text x="1612.7 1655.9 1725.0 1783.4 1841.8 1870.9 1929.3 2015.2 2100.4 2158.8 2182.9 2241.3 2300.1 2343.3 2406.6 2472.4 2552.2" y="-0.02" font-size="105.00" transform="scale(1.0895,1)">(−19.33±0.25)+CMB</text></g>
<g transform="matrix(0.40481,0.00000,0.00000,0.42057,1168.12018,1751.13143)" fill="#000"><text x="-0.0" y="-0.31" font-size="105.00" font-style="italic">z</text></g>
<g transform="matrix(0.00000,-0.34680,0.34470,0.00000,804.29733,1492.04781)" fill="#000"><text x="0.0" y="-0.12" font-size="105.00" font-style="italic" transform="scale(1.0786,1)">w</text><text x="73.3" y="-0.12" font-size="105.00" transform="scale(1.1158,1)">(</text><text x="120.8" y="-0.12" font-size="105.00" font-style="italic">z</text><text x="155.3" y="-0.12" font-size="105.00" transform="scale(1.1158,1)">)</text></g>
</svg></body></html>
